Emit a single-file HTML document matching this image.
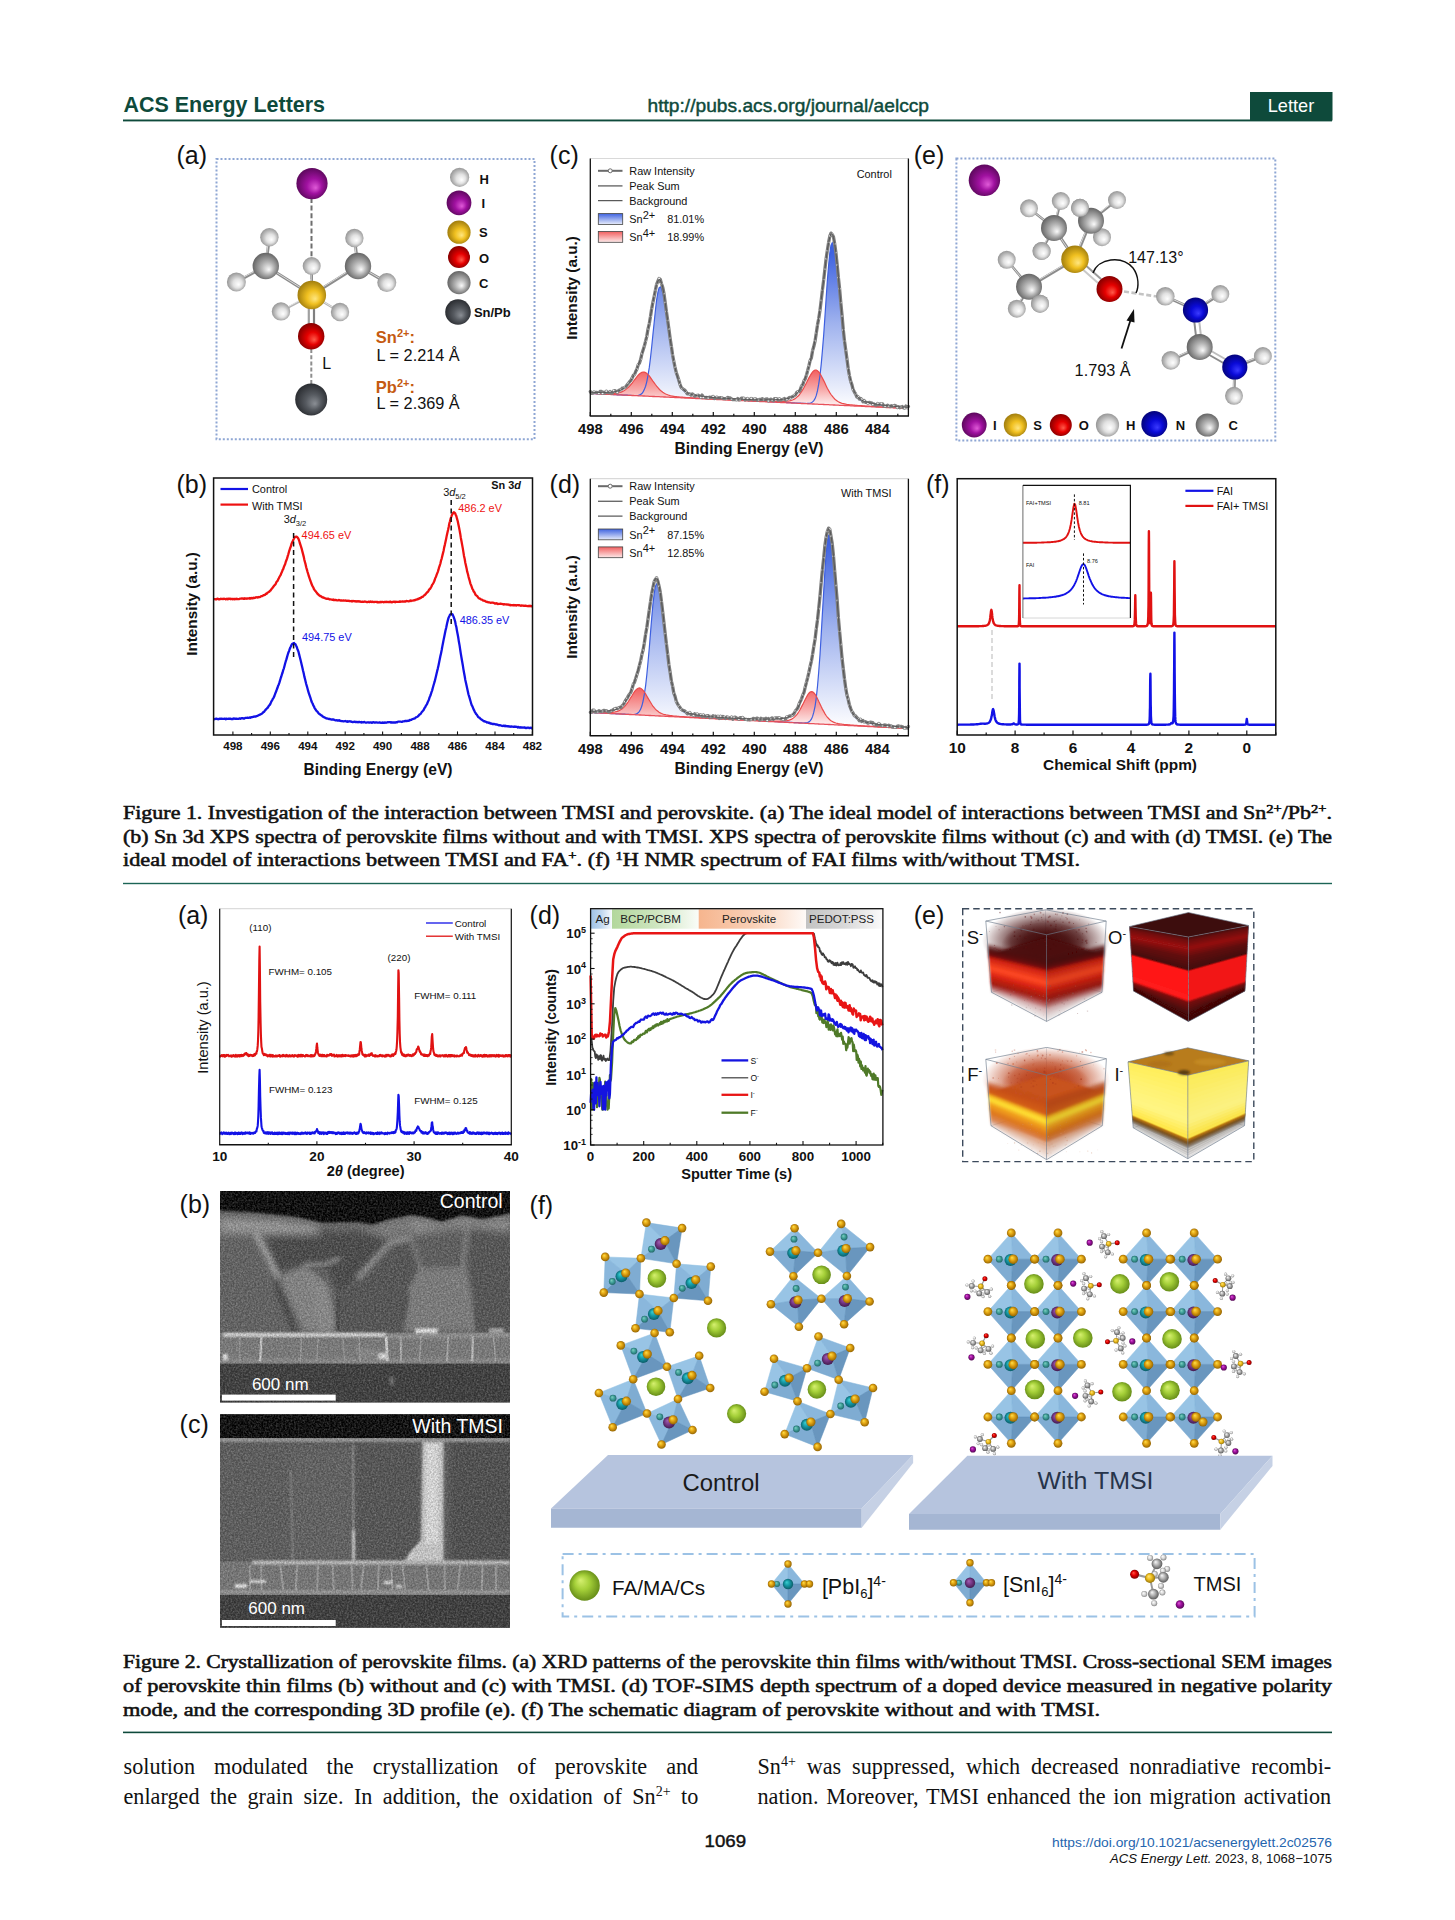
<!DOCTYPE html><html lang="en"><head><meta charset="utf-8"><title>ACS Energy Letters</title><style>html,body{margin:0;padding:0;background:#fff}svg{display:block}</style></head><body><svg width="1455" height="1920" viewBox="0 0 1455 1920"><defs><radialGradient id="gH" cx="0.5" cy="0.5" r="0.55" fx="0.36" fy="0.32"><stop offset="0" stop-color="#ffffff"/><stop offset="0.45" stop-color="#e2e2e2"/><stop offset="1" stop-color="#808080"/></radialGradient>
<radialGradient id="gI" cx="0.5" cy="0.5" r="0.55" fx="0.36" fy="0.32"><stop offset="0" stop-color="#e05ad8"/><stop offset="0.45" stop-color="#a011a0"/><stop offset="1" stop-color="#4a054a"/></radialGradient>
<radialGradient id="gS" cx="0.5" cy="0.5" r="0.55" fx="0.36" fy="0.32"><stop offset="0" stop-color="#ffe680"/><stop offset="0.45" stop-color="#f0c020"/><stop offset="1" stop-color="#8a6a08"/></radialGradient>
<radialGradient id="gO" cx="0.5" cy="0.5" r="0.55" fx="0.36" fy="0.32"><stop offset="0" stop-color="#ff5a4a"/><stop offset="0.45" stop-color="#e60000"/><stop offset="1" stop-color="#6a0000"/></radialGradient>
<radialGradient id="gC" cx="0.5" cy="0.5" r="0.55" fx="0.36" fy="0.32"><stop offset="0" stop-color="#fafafa"/><stop offset="0.45" stop-color="#b2b2b2"/><stop offset="1" stop-color="#4e4e4e"/></radialGradient>
<radialGradient id="gM" cx="0.5" cy="0.5" r="0.55" fx="0.36" fy="0.32"><stop offset="0" stop-color="#8a8e94"/><stop offset="0.45" stop-color="#565a60"/><stop offset="1" stop-color="#1e2024"/></radialGradient>
<radialGradient id="gN" cx="0.5" cy="0.5" r="0.55" fx="0.36" fy="0.32"><stop offset="0" stop-color="#3a3aff"/><stop offset="0.45" stop-color="#0a0ad8"/><stop offset="1" stop-color="#020260"/></radialGradient>
<radialGradient id="gG" cx="0.5" cy="0.5" r="0.55" fx="0.36" fy="0.32"><stop offset="0" stop-color="#d6f070"/><stop offset="0.45" stop-color="#a4cf38"/><stop offset="1" stop-color="#5e8414"/></radialGradient>
<radialGradient id="gY" cx="0.5" cy="0.5" r="0.55" fx="0.36" fy="0.32"><stop offset="0" stop-color="#ffe04a"/><stop offset="0.45" stop-color="#e2a412"/><stop offset="1" stop-color="#8a5c00"/></radialGradient>
<radialGradient id="gT" cx="0.5" cy="0.5" r="0.55" fx="0.36" fy="0.32"><stop offset="0" stop-color="#3ccfd0"/><stop offset="0.45" stop-color="#169aa6"/><stop offset="1" stop-color="#0a5560"/></radialGradient>
<radialGradient id="gP" cx="0.5" cy="0.5" r="0.55" fx="0.36" fy="0.32"><stop offset="0" stop-color="#a060b0"/><stop offset="0.45" stop-color="#7a3a8a"/><stop offset="1" stop-color="#3c1848"/></radialGradient>
<radialGradient id="gHr" cx="0.5" cy="0.5" r="0.6" fx="0.62" fy="0.64"><stop offset="0" stop-color="#ffffff"/><stop offset="0.4" stop-color="#e2e2e2"/><stop offset="1" stop-color="#808080"/></radialGradient>
<radialGradient id="gIr" cx="0.5" cy="0.5" r="0.6" fx="0.62" fy="0.64"><stop offset="0" stop-color="#e05ad8"/><stop offset="0.4" stop-color="#a011a0"/><stop offset="1" stop-color="#4a054a"/></radialGradient>
<radialGradient id="gSr" cx="0.5" cy="0.5" r="0.6" fx="0.62" fy="0.64"><stop offset="0" stop-color="#ffe680"/><stop offset="0.4" stop-color="#f0c020"/><stop offset="1" stop-color="#8a6a08"/></radialGradient>
<radialGradient id="gOr" cx="0.5" cy="0.5" r="0.6" fx="0.62" fy="0.64"><stop offset="0" stop-color="#ff5a4a"/><stop offset="0.4" stop-color="#e60000"/><stop offset="1" stop-color="#6a0000"/></radialGradient>
<radialGradient id="gCr" cx="0.5" cy="0.5" r="0.6" fx="0.62" fy="0.64"><stop offset="0" stop-color="#fafafa"/><stop offset="0.4" stop-color="#b2b2b2"/><stop offset="1" stop-color="#4e4e4e"/></radialGradient>
<radialGradient id="gMr" cx="0.5" cy="0.5" r="0.6" fx="0.62" fy="0.64"><stop offset="0" stop-color="#8a8e94"/><stop offset="0.4" stop-color="#565a60"/><stop offset="1" stop-color="#1e2024"/></radialGradient>
<radialGradient id="gNr" cx="0.5" cy="0.5" r="0.6" fx="0.62" fy="0.64"><stop offset="0" stop-color="#3a3aff"/><stop offset="0.4" stop-color="#0a0ad8"/><stop offset="1" stop-color="#020260"/></radialGradient>
<radialGradient id="gGr" cx="0.5" cy="0.5" r="0.6" fx="0.62" fy="0.64"><stop offset="0" stop-color="#d6f070"/><stop offset="0.4" stop-color="#a4cf38"/><stop offset="1" stop-color="#5e8414"/></radialGradient>
<radialGradient id="gYr" cx="0.5" cy="0.5" r="0.6" fx="0.62" fy="0.64"><stop offset="0" stop-color="#ffe04a"/><stop offset="0.4" stop-color="#e2a412"/><stop offset="1" stop-color="#8a5c00"/></radialGradient>
<radialGradient id="gTr" cx="0.5" cy="0.5" r="0.6" fx="0.62" fy="0.64"><stop offset="0" stop-color="#3ccfd0"/><stop offset="0.4" stop-color="#169aa6"/><stop offset="1" stop-color="#0a5560"/></radialGradient>
<radialGradient id="gPr" cx="0.5" cy="0.5" r="0.6" fx="0.62" fy="0.64"><stop offset="0" stop-color="#a060b0"/><stop offset="0.4" stop-color="#7a3a8a"/><stop offset="1" stop-color="#3c1848"/></radialGradient>
<linearGradient id="xb1" gradientUnits="userSpaceOnUse" x1="0" y1="252.9" x2="0" y2="408.5"><stop offset="0" stop-color="#3f63e0"/><stop offset="0.45" stop-color="#9fb2ee"/><stop offset="1" stop-color="#ffffff"/></linearGradient>
<linearGradient id="xr1" gradientUnits="userSpaceOnUse" x1="0" y1="370.1" x2="0" y2="408.5"><stop offset="0" stop-color="#f25f5f"/><stop offset="0.5" stop-color="#f7a9a9"/><stop offset="1" stop-color="#ffffff"/></linearGradient>
<linearGradient id="lg10" x1="0" y1="0" x2="0" y2="1"><stop offset="0" stop-color="#3f63e0"/><stop offset="1" stop-color="#e8edfb"/></linearGradient>
<linearGradient id="lg11" x1="0" y1="0" x2="0" y2="1"><stop offset="0" stop-color="#f25f5f"/><stop offset="1" stop-color="#fdeaea"/></linearGradient>
<linearGradient id="xb2" gradientUnits="userSpaceOnUse" x1="0" y1="544.5" x2="0" y2="728.5"><stop offset="0" stop-color="#3f63e0"/><stop offset="0.45" stop-color="#9fb2ee"/><stop offset="1" stop-color="#ffffff"/></linearGradient>
<linearGradient id="xr2" gradientUnits="userSpaceOnUse" x1="0" y1="688.0" x2="0" y2="728.5"><stop offset="0" stop-color="#f25f5f"/><stop offset="0.5" stop-color="#f7a9a9"/><stop offset="1" stop-color="#ffffff"/></linearGradient>
<linearGradient id="lg20" x1="0" y1="0" x2="0" y2="1"><stop offset="0" stop-color="#3f63e0"/><stop offset="1" stop-color="#e8edfb"/></linearGradient>
<linearGradient id="lg21" x1="0" y1="0" x2="0" y2="1"><stop offset="0" stop-color="#f25f5f"/><stop offset="1" stop-color="#fdeaea"/></linearGradient>
<linearGradient id="bAg" x1="0" y1="0" x2="1" y2="0"><stop offset="0" stop-color="#8db7e2" stop-opacity="0.85"/><stop offset="0.5" stop-color="#8db7e2" stop-opacity="0.55"/><stop offset="1" stop-color="#8db7e2" stop-opacity="0.06"/></linearGradient>
<linearGradient id="bB" x1="0" y1="0" x2="1" y2="0"><stop offset="0" stop-color="#a5d08a" stop-opacity="0.85"/><stop offset="0.5" stop-color="#a5d08a" stop-opacity="0.55"/><stop offset="1" stop-color="#a5d08a" stop-opacity="0.06"/></linearGradient>
<linearGradient id="bP" x1="0" y1="0" x2="1" y2="0"><stop offset="0" stop-color="#f4a87a" stop-opacity="0.85"/><stop offset="0.5" stop-color="#f4a87a" stop-opacity="0.55"/><stop offset="1" stop-color="#f4a87a" stop-opacity="0.06"/></linearGradient>
<linearGradient id="bE" x1="0" y1="0" x2="1" y2="0"><stop offset="0" stop-color="#b8b8b8" stop-opacity="0.85"/><stop offset="0.5" stop-color="#b8b8b8" stop-opacity="0.55"/><stop offset="1" stop-color="#b8b8b8" stop-opacity="0.06"/></linearGradient>
<filter id="cb1" x="-15%" y="-15%" width="130%" height="130%"><feGaussianBlur stdDeviation="1.1"/></filter>
<radialGradient id="cl1"><stop offset="0" stop-color="#430a0a" stop-opacity="0.95"/><stop offset="0.55" stop-color="#430a0a" stop-opacity="0.71"/><stop offset="1" stop-color="#430a0a" stop-opacity="0"/></radialGradient>
<filter id="cb2" x="-15%" y="-15%" width="130%" height="130%"><feGaussianBlur stdDeviation="0.7"/></filter>
<filter id="cb3" x="-15%" y="-15%" width="130%" height="130%"><feGaussianBlur stdDeviation="1.1"/></filter>
<radialGradient id="cl3"><stop offset="0" stop-color="#bc431c" stop-opacity="0.95"/><stop offset="0.55" stop-color="#bc431c" stop-opacity="0.71"/><stop offset="1" stop-color="#bc431c" stop-opacity="0"/></radialGradient>
<filter id="cb4" x="-15%" y="-15%" width="130%" height="130%"><feGaussianBlur stdDeviation="0.6"/></filter>
<filter id="semn" x="0" y="0" width="100%" height="100%"><feTurbulence type="fractalNoise" baseFrequency="0.55" numOctaves="2" seed="3"/><feColorMatrix type="matrix" values="0 0 0 0 1  0 0 0 0 1  0 0 0 0 1  0.9 0 0 0 -0.28"/></filter>
<filter id="semd" x="0" y="0" width="100%" height="100%"><feTurbulence type="fractalNoise" baseFrequency="0.6" numOctaves="2" seed="9"/><feColorMatrix type="matrix" values="0 0 0 0 0  0 0 0 0 0  0 0 0 0 0  0.9 0 0 0 -0.25"/></filter>
<filter id="bl1_2" x="-20%" y="-20%" width="140%" height="140%"><feGaussianBlur stdDeviation="1.2"/></filter>
<filter id="bl2_5" x="-20%" y="-20%" width="140%" height="140%"><feGaussianBlur stdDeviation="2.5"/></filter>
<filter id="bl4" x="-20%" y="-20%" width="140%" height="140%"><feGaussianBlur stdDeviation="4"/></filter>
<radialGradient id="gT2" cx="0.5" cy="0.5" r="0.55" fx="0.36" fy="0.32"><stop offset="0" stop-color="#7fd0c0"/><stop offset="0.5" stop-color="#3f9f98"/><stop offset="1" stop-color="#1d5f60"/></radialGradient>
<radialGradient id="gH2" cx="0.5" cy="0.5" r="0.55" fx="0.36" fy="0.32"><stop offset="0" stop-color="#ffffff"/><stop offset="0.5" stop-color="#d8d8d8"/><stop offset="1" stop-color="#7a7a7a"/></radialGradient></defs>
<text x="123.5" y="112.0" font-size="21.5" font-family="'Liberation Sans', sans-serif" fill="#0e4a3b" font-weight="bold" textLength="201.5" lengthAdjust="spacingAndGlyphs">ACS Energy Letters</text>
<rect x="123.0" y="119.5" width="1209.0" height="1.9" fill="#0e4a3b"/>
<rect x="1250.0" y="92.0" width="82.5" height="28.5" fill="#0e4a3b"/>
<text x="1291.0" y="112.3" font-size="18.5" font-family="'Liberation Sans', sans-serif" fill="#fff" text-anchor="middle" textLength="46.5" lengthAdjust="spacingAndGlyphs">Letter</text>
<text x="647.5" y="112.4" font-size="19" font-family="'Liberation Sans', sans-serif" fill="#0e4a3b" textLength="281.5" lengthAdjust="spacingAndGlyphs" stroke="#0e4a3b" stroke-width="0.45">http://pubs.acs.org/journal/aelccp</text>
<text x="123.0" y="818.8" font-size="18.2" font-family="'Liberation Serif', serif" fill="#111" textLength="1209.0" lengthAdjust="spacingAndGlyphs" stroke="#111" stroke-width="0.55">Figure 1. Investigation of the interaction between TMSI and perovskite. (a) The ideal model of interactions between TMSI and Sn<tspan dy="-6" font-size="12">2+</tspan><tspan dy="6">/Pb</tspan><tspan dy="-6" font-size="12">2+</tspan><tspan dy="6">.</tspan></text>
<text x="123.0" y="842.6" font-size="18.2" font-family="'Liberation Serif', serif" fill="#111" textLength="1209.0" lengthAdjust="spacingAndGlyphs" stroke="#111" stroke-width="0.55">(b) Sn 3d XPS spectra of perovskite films without and with TMSI. XPS spectra of perovskite films without (c) and with (d) TMSI. (e) The</text>
<text x="123.0" y="866.4" font-size="18.2" font-family="'Liberation Serif', serif" fill="#111" textLength="957.0" lengthAdjust="spacingAndGlyphs" stroke="#111" stroke-width="0.55">ideal model of interactions between TMSI and FA<tspan dy="-6" font-size="12">+</tspan><tspan dy="6">. (f) </tspan><tspan dy="-6" font-size="12">1</tspan><tspan dy="6">H NMR spectrum of FAI films with/without TMSI.</tspan></text>
<rect x="123.0" y="882.8" width="1209.0" height="1.4" fill="#1c6455"/>
<text x="123.0" y="1667.6" font-size="18.2" font-family="'Liberation Serif', serif" fill="#111" textLength="1209.0" lengthAdjust="spacingAndGlyphs" stroke="#111" stroke-width="0.55">Figure 2. Crystallization of perovskite films. (a) XRD patterns of the perovskite thin films with/without TMSI. Cross-sectional SEM images</text>
<text x="123.0" y="1691.7" font-size="18.2" font-family="'Liberation Serif', serif" fill="#111" textLength="1209.0" lengthAdjust="spacingAndGlyphs" stroke="#111" stroke-width="0.55">of perovskite thin films (b) without and (c) with TMSI. (d) TOF-SIMS depth spectrum of a doped device measured in negative polarity</text>
<text x="123.0" y="1715.9" font-size="18.2" font-family="'Liberation Serif', serif" fill="#111" textLength="977.0" lengthAdjust="spacingAndGlyphs" stroke="#111" stroke-width="0.55">mode, and the corresponding 3D profile (e). (f) The schematic diagram of perovskite without and with TMSI.</text>
<rect x="123.0" y="1731.6" width="1209.0" height="1.6" fill="#0e4a3b"/>
<text x="123.5" y="1773.7" font-size="22.2" font-family="'Liberation Serif', serif" fill="#111" style="word-spacing:13.42px">solution modulated the crystallization of perovskite and</text>
<text x="123.5" y="1803.9" font-size="22.2" font-family="'Liberation Serif', serif" fill="#111" style="word-spacing:4.88px">enlarged the grain size. In addition, the oxidation of Sn<tspan dy="-8" font-size="14">2+</tspan><tspan dy="8"> to</tspan></text>
<text x="757.5" y="1773.7" font-size="22.2" font-family="'Liberation Serif', serif" fill="#111" style="word-spacing:5.34px">Sn<tspan dy="-8" font-size="14">4+</tspan><tspan dy="8"> was suppressed, which decreased nonradiative recombi-</tspan></text>
<text x="757.5" y="1803.9" font-size="22.2" font-family="'Liberation Serif', serif" fill="#111" style="word-spacing:2.30px">nation. Moreover, TMSI enhanced the ion migration activation</text>
<text x="725.3" y="1847.0" font-size="16" font-family="'Liberation Sans', sans-serif" fill="#111" text-anchor="middle" textLength="41.5" lengthAdjust="spacingAndGlyphs" stroke="#111" stroke-width="0.4">1069</text>
<text x="1332.0" y="1847.0" font-size="12.6" font-family="'Liberation Sans', sans-serif" fill="#2565ae" text-anchor="end" textLength="280.0" lengthAdjust="spacingAndGlyphs">https://doi.org/10.1021/acsenergylett.2c02576</text>
<text x="1332.0" y="1862.5" font-size="12.6" font-family="'Liberation Sans', sans-serif" fill="#111" text-anchor="end" textLength="222.0" lengthAdjust="spacingAndGlyphs"><tspan font-style="italic">ACS Energy Lett.</tspan> 2023, 8, 1068−1075</text>
<text x="176.5" y="164.0" font-size="25" font-family="'Liberation Sans', sans-serif" fill="#111">(a)</text>
<rect x="216.5" y="159.0" width="318.0" height="280.3" fill="none" stroke="#8ea6d4" stroke-width="2" stroke-dasharray="2 2"/>
<line x1="311.5" y1="198.0" x2="311.5" y2="284.0" stroke="#6e6e6e" stroke-width="2" stroke-dasharray="5 2.6"/>
<line x1="311.3" y1="349.0" x2="311.3" y2="385.0" stroke="#8e8e8e" stroke-width="2" stroke-dasharray="4 2.2"/>
<line x1="311.8" y1="295.0" x2="265.8" y2="266.0" stroke="#8c8c8c" stroke-width="3"/>
<line x1="311.2" y1="294.4" x2="265.2" y2="265.4" stroke="#d8d8d8" stroke-width="1"/>
<line x1="311.8" y1="295.0" x2="358.0" y2="266.0" stroke="#8c8c8c" stroke-width="3"/>
<line x1="311.2" y1="294.4" x2="357.4" y2="265.4" stroke="#d8d8d8" stroke-width="1"/>
<line x1="311.8" y1="295.0" x2="311.7" y2="266.0" stroke="#8c8c8c" stroke-width="2.5"/>
<line x1="311.2" y1="294.4" x2="311.1" y2="265.4" stroke="#d8d8d8" stroke-width="1"/>
<line x1="265.8" y1="266.0" x2="269.4" y2="237.2" stroke="#8c8c8c" stroke-width="3"/>
<line x1="265.2" y1="265.4" x2="268.8" y2="236.6" stroke="#d8d8d8" stroke-width="1"/>
<line x1="358.0" y1="266.0" x2="354.4" y2="238.0" stroke="#8c8c8c" stroke-width="3"/>
<line x1="357.4" y1="265.4" x2="353.8" y2="237.4" stroke="#d8d8d8" stroke-width="1"/>
<line x1="265.8" y1="266.0" x2="236.4" y2="282.0" stroke="#8c8c8c" stroke-width="3"/>
<line x1="265.2" y1="265.4" x2="235.8" y2="281.4" stroke="#d8d8d8" stroke-width="1"/>
<line x1="358.0" y1="266.0" x2="386.8" y2="282.6" stroke="#8c8c8c" stroke-width="3"/>
<line x1="357.4" y1="265.4" x2="386.2" y2="282.0" stroke="#d8d8d8" stroke-width="1"/>
<line x1="311.8" y1="295.0" x2="281.0" y2="311.4" stroke="#b4b4b4" stroke-width="2.2"/>
<line x1="311.2" y1="294.4" x2="280.4" y2="310.8" stroke="#e4e4e4" stroke-width="1"/>
<line x1="311.8" y1="295.0" x2="340.0" y2="312.0" stroke="#b4b4b4" stroke-width="2.2"/>
<line x1="311.2" y1="294.4" x2="339.4" y2="311.4" stroke="#e4e4e4" stroke-width="1"/>
<line x1="308.8" y1="300.0" x2="308.8" y2="330.0" stroke="#a0a0a0" stroke-width="2.2"/>
<line x1="314.0" y1="300.0" x2="314.0" y2="330.0" stroke="#808080" stroke-width="2.2"/>
<circle cx="311.7" cy="266.0" r="9.0" fill="url(#gHr)"/>
<circle cx="281.0" cy="311.4" r="9.2" fill="url(#gHr)"/>
<circle cx="340.0" cy="312.0" r="9.2" fill="url(#gHr)"/>
<circle cx="236.4" cy="282.0" r="9.5" fill="url(#gHr)"/>
<circle cx="386.8" cy="282.6" r="9.5" fill="url(#gHr)"/>
<circle cx="269.4" cy="237.2" r="9.2" fill="url(#gHr)"/>
<circle cx="354.4" cy="238.0" r="9.2" fill="url(#gHr)"/>
<circle cx="265.8" cy="266.0" r="13.2" fill="url(#gCr)"/>
<circle cx="358.0" cy="266.0" r="13.2" fill="url(#gCr)"/>
<circle cx="312.0" cy="183.6" r="15.6" fill="url(#gIr)"/>
<circle cx="311.8" cy="295.0" r="14.3" fill="url(#gSr)"/>
<circle cx="311.2" cy="336.2" r="13.2" fill="url(#gOr)"/>
<circle cx="311.2" cy="399.4" r="16.0" fill="url(#gMr)"/>
<text x="322.2" y="368.6" font-size="16" font-family="'Liberation Sans', sans-serif" fill="#111">L</text>
<circle cx="459.6" cy="177.3" r="9.6" fill="url(#gHr)"/>
<text x="479.4" y="183.6" font-size="13" font-family="'Liberation Sans', sans-serif" fill="#111" font-weight="bold">H</text>
<circle cx="459.0" cy="202.8" r="12.4" fill="url(#gIr)"/>
<text x="481.6" y="208.2" font-size="13" font-family="'Liberation Sans', sans-serif" fill="#111" font-weight="bold">I</text>
<circle cx="459.0" cy="232.2" r="11.6" fill="url(#gSr)"/>
<text x="479.0" y="237.2" font-size="13" font-family="'Liberation Sans', sans-serif" fill="#111" font-weight="bold">S</text>
<circle cx="459.0" cy="257.0" r="11.0" fill="url(#gOr)"/>
<text x="479.0" y="262.8" font-size="13" font-family="'Liberation Sans', sans-serif" fill="#111" font-weight="bold">O</text>
<circle cx="459.0" cy="282.6" r="11.6" fill="url(#gCr)"/>
<text x="479.0" y="287.6" font-size="13" font-family="'Liberation Sans', sans-serif" fill="#111" font-weight="bold">C</text>
<circle cx="458.0" cy="312.0" r="12.8" fill="url(#gMr)"/>
<text x="473.9" y="317.0" font-size="13" font-family="'Liberation Sans', sans-serif" fill="#111" font-weight="bold">Sn/Pb</text>
<text x="375.8" y="343.0" font-size="16.5" font-family="'Liberation Sans', sans-serif" fill="#c55a11" font-weight="bold">Sn<tspan dy="-6" font-size="11">2+</tspan><tspan dy="6">:</tspan></text>
<text x="376.6" y="361.2" font-size="16.3" font-family="'Liberation Sans', sans-serif" fill="#111">L = 2.214 Å</text>
<text x="375.8" y="392.6" font-size="16.5" font-family="'Liberation Sans', sans-serif" fill="#c55a11" font-weight="bold">Pb<tspan dy="-6" font-size="11">2+</tspan><tspan dy="6">:</tspan></text>
<text x="376.6" y="409.2" font-size="16.3" font-family="'Liberation Sans', sans-serif" fill="#111">L = 2.369 Å</text>
<text x="913.7" y="164.4" font-size="25" font-family="'Liberation Sans', sans-serif" fill="#111">(e)</text>
<rect x="956.4" y="158.5" width="318.9" height="282.1" fill="none" stroke="#8ea6d4" stroke-width="2" stroke-dasharray="2 2"/>
<line x1="1075.0" y1="259.2" x2="1054.0" y2="228.0" stroke="#8c8c8c" stroke-width="3"/>
<line x1="1074.4" y1="258.6" x2="1053.4" y2="227.4" stroke="#d8d8d8" stroke-width="1"/>
<line x1="1075.0" y1="259.2" x2="1091.0" y2="220.7" stroke="#8c8c8c" stroke-width="3"/>
<line x1="1074.4" y1="258.6" x2="1090.4" y2="220.1" stroke="#d8d8d8" stroke-width="1"/>
<line x1="1075.0" y1="259.2" x2="1029.0" y2="286.7" stroke="#8c8c8c" stroke-width="3"/>
<line x1="1074.4" y1="258.6" x2="1028.4" y2="286.1" stroke="#d8d8d8" stroke-width="1"/>
<line x1="1083.0" y1="263.0" x2="1101.0" y2="279.0" stroke="#9a9a9a" stroke-width="2"/>
<line x1="1080.0" y1="267.0" x2="1098.0" y2="283.0" stroke="#c8c8c8" stroke-width="2"/>
<line x1="1054.0" y1="228.0" x2="1029.0" y2="208.3" stroke="#8c8c8c" stroke-width="2.5"/>
<line x1="1053.4" y1="227.4" x2="1028.4" y2="207.7" stroke="#d8d8d8" stroke-width="1"/>
<line x1="1054.0" y1="228.0" x2="1060.8" y2="201.0" stroke="#8c8c8c" stroke-width="2.5"/>
<line x1="1053.4" y1="227.4" x2="1060.2" y2="200.4" stroke="#d8d8d8" stroke-width="1"/>
<line x1="1054.0" y1="228.0" x2="1041.6" y2="251.0" stroke="#8c8c8c" stroke-width="2.5"/>
<line x1="1053.4" y1="227.4" x2="1041.0" y2="250.4" stroke="#d8d8d8" stroke-width="1"/>
<line x1="1091.0" y1="220.7" x2="1080.0" y2="207.8" stroke="#8c8c8c" stroke-width="2.5"/>
<line x1="1090.4" y1="220.1" x2="1079.4" y2="207.2" stroke="#d8d8d8" stroke-width="1"/>
<line x1="1091.0" y1="220.7" x2="1117.0" y2="200.0" stroke="#8c8c8c" stroke-width="2.5"/>
<line x1="1090.4" y1="220.1" x2="1116.4" y2="199.4" stroke="#d8d8d8" stroke-width="1"/>
<line x1="1091.0" y1="220.7" x2="1102.0" y2="237.2" stroke="#8c8c8c" stroke-width="2.5"/>
<line x1="1090.4" y1="220.1" x2="1101.4" y2="236.6" stroke="#d8d8d8" stroke-width="1"/>
<line x1="1029.0" y1="286.7" x2="1006.7" y2="259.8" stroke="#8c8c8c" stroke-width="2.5"/>
<line x1="1028.4" y1="286.1" x2="1006.1" y2="259.2" stroke="#d8d8d8" stroke-width="1"/>
<line x1="1029.0" y1="286.7" x2="1016.8" y2="308.7" stroke="#8c8c8c" stroke-width="2.5"/>
<line x1="1028.4" y1="286.1" x2="1016.2" y2="308.1" stroke="#d8d8d8" stroke-width="1"/>
<line x1="1029.0" y1="286.7" x2="1040.0" y2="303.7" stroke="#8c8c8c" stroke-width="2.5"/>
<line x1="1028.4" y1="286.1" x2="1039.4" y2="303.1" stroke="#d8d8d8" stroke-width="1"/>
<line x1="1165.3" y1="296.3" x2="1195.5" y2="310.0" stroke="#8c8c8c" stroke-width="3"/>
<line x1="1164.7" y1="295.7" x2="1194.9" y2="309.4" stroke="#d8d8d8" stroke-width="1"/>
<line x1="1220.3" y1="294.0" x2="1195.5" y2="310.0" stroke="#8c8c8c" stroke-width="3"/>
<line x1="1219.7" y1="293.4" x2="1194.9" y2="309.4" stroke="#d8d8d8" stroke-width="1"/>
<line x1="1193.0" y1="310.0" x2="1197.2" y2="347.0" stroke="#8c8c8c" stroke-width="2"/>
<line x1="1198.0" y1="310.0" x2="1202.2" y2="347.0" stroke="#bdbdbd" stroke-width="2"/>
<line x1="1170.8" y1="360.4" x2="1199.7" y2="347.0" stroke="#8c8c8c" stroke-width="3"/>
<line x1="1170.2" y1="359.8" x2="1199.1" y2="346.4" stroke="#d8d8d8" stroke-width="1"/>
<line x1="1199.7" y1="344.5" x2="1234.8" y2="364.5" stroke="#bdbdbd" stroke-width="2"/>
<line x1="1199.7" y1="349.5" x2="1234.8" y2="369.5" stroke="#8c8c8c" stroke-width="2"/>
<line x1="1262.9" y1="356.0" x2="1234.8" y2="367.0" stroke="#8c8c8c" stroke-width="3"/>
<line x1="1262.3" y1="355.4" x2="1234.2" y2="366.4" stroke="#d8d8d8" stroke-width="1"/>
<line x1="1234.0" y1="395.8" x2="1234.8" y2="367.0" stroke="#8c8c8c" stroke-width="3"/>
<line x1="1233.4" y1="395.2" x2="1234.2" y2="366.4" stroke="#d8d8d8" stroke-width="1"/>
<line x1="1124.0" y1="291.5" x2="1157.0" y2="296.5" stroke="#c4c4c4" stroke-width="2.6" stroke-dasharray="5 2.5"/>
<circle cx="1029.0" cy="208.3" r="9.0" fill="url(#gHr)"/>
<circle cx="1060.8" cy="201.0" r="9.0" fill="url(#gHr)"/>
<circle cx="1041.6" cy="251.0" r="9.0" fill="url(#gHr)"/>
<circle cx="1080.0" cy="207.8" r="9.0" fill="url(#gHr)"/>
<circle cx="1117.0" cy="200.0" r="9.0" fill="url(#gHr)"/>
<circle cx="1102.0" cy="237.2" r="9.0" fill="url(#gHr)"/>
<circle cx="1006.7" cy="259.8" r="9.0" fill="url(#gHr)"/>
<circle cx="1016.8" cy="308.7" r="9.0" fill="url(#gHr)"/>
<circle cx="1040.0" cy="303.7" r="9.0" fill="url(#gHr)"/>
<circle cx="1054.0" cy="228.0" r="13.0" fill="url(#gCr)"/>
<circle cx="1091.0" cy="220.7" r="13.0" fill="url(#gCr)"/>
<circle cx="1029.0" cy="286.7" r="13.0" fill="url(#gCr)"/>
<circle cx="1080.0" cy="207.8" r="9.0" fill="url(#gHr)"/>
<circle cx="1041.6" cy="251.0" r="9.0" fill="url(#gHr)"/>
<circle cx="1040.0" cy="303.7" r="9.0" fill="url(#gHr)"/>
<circle cx="1075.0" cy="259.2" r="13.8" fill="url(#gSr)"/>
<circle cx="1109.5" cy="289.0" r="13.0" fill="url(#gOr)"/>
<circle cx="984.4" cy="180.3" r="15.7" fill="url(#gIr)"/>
<circle cx="1165.3" cy="296.3" r="9.3" fill="url(#gHr)"/>
<circle cx="1220.3" cy="294.0" r="9.0" fill="url(#gHr)"/>
<circle cx="1170.8" cy="360.4" r="9.3" fill="url(#gHr)"/>
<circle cx="1262.9" cy="356.0" r="9.0" fill="url(#gHr)"/>
<circle cx="1234.0" cy="395.8" r="9.0" fill="url(#gHr)"/>
<circle cx="1199.7" cy="347.0" r="13.0" fill="url(#gCr)"/>
<circle cx="1195.5" cy="310.0" r="12.6" fill="url(#gNr)"/>
<circle cx="1234.8" cy="367.0" r="12.6" fill="url(#gNr)"/>
<path d="M1093 273 C1098 258 1122 255 1133 268 C1139 276 1139 287 1136 293" fill="none" stroke="#111" stroke-width="1.4"/>
<text x="1128.2" y="262.8" font-size="16" font-family="'Liberation Sans', sans-serif" fill="#111">147.13°</text>
<text x="1074.6" y="375.8" font-size="16.3" font-family="'Liberation Sans', sans-serif" fill="#111">1.793 Å</text>
<line x1="1121.5" y1="348.5" x2="1131.5" y2="317.0" stroke="#111" stroke-width="1.8"/>
<polygon points="1134.0,309.0 1126.5,320.5 1134.5,322.5" fill="#111"/>
<circle cx="974.2" cy="425.0" r="12.4" fill="url(#gIr)"/>
<text x="993.0" y="429.8" font-size="13" font-family="'Liberation Sans', sans-serif" fill="#111" font-weight="bold">I</text>
<circle cx="1015.4" cy="425.0" r="11.6" fill="url(#gSr)"/>
<text x="1033.3" y="429.8" font-size="13" font-family="'Liberation Sans', sans-serif" fill="#111" font-weight="bold">S</text>
<circle cx="1060.8" cy="425.0" r="11.0" fill="url(#gOr)"/>
<text x="1078.7" y="429.8" font-size="13" font-family="'Liberation Sans', sans-serif" fill="#111" font-weight="bold">O</text>
<circle cx="1107.5" cy="425.0" r="11.6" fill="url(#gHr)"/>
<text x="1126.0" y="429.8" font-size="13" font-family="'Liberation Sans', sans-serif" fill="#111" font-weight="bold">H</text>
<circle cx="1154.3" cy="424.0" r="13.0" fill="url(#gNr)"/>
<text x="1175.7" y="429.8" font-size="13" font-family="'Liberation Sans', sans-serif" fill="#111" font-weight="bold">N</text>
<circle cx="1207.3" cy="425.0" r="11.6" fill="url(#gCr)"/>
<text x="1228.5" y="429.8" font-size="13" font-family="'Liberation Sans', sans-serif" fill="#111" font-weight="bold">C</text>
<text x="176.5" y="493.0" font-size="25" font-family="'Liberation Sans', sans-serif" fill="#111">(b)</text>
<path d="M213.6 599.0 L214.2 599.1 L214.9 599.2 L215.5 599.3 L216.2 599.1 L216.8 599.3 L217.4 598.6 L218.1 598.9 L218.7 599.3 L219.3 599.1 L220.0 599.3 L220.6 598.7 L221.3 599.0 L221.9 598.8 L222.5 599.0 L223.2 599.0 L223.8 598.6 L224.5 598.8 L225.1 598.8 L225.7 599.3 L226.4 599.2 L227.0 598.7 L227.7 599.2 L228.3 598.7 L228.9 599.1 L229.6 598.7 L230.2 598.6 L230.8 599.2 L231.5 598.8 L232.1 598.8 L232.8 599.3 L233.4 599.2 L234.0 598.8 L234.7 599.3 L235.3 598.9 L236.0 599.0 L236.6 598.7 L237.2 599.2 L237.9 599.0 L238.5 599.2 L239.2 599.1 L239.8 598.7 L240.4 598.7 L241.1 598.6 L241.7 598.5 L242.3 598.5 L243.0 598.6 L243.6 598.8 L244.3 598.3 L244.9 598.8 L245.5 598.5 L246.2 598.5 L246.8 598.8 L247.5 598.5 L248.1 598.4 L248.7 598.4 L249.4 598.6 L250.0 598.0 L250.7 598.6 L251.3 597.9 L251.9 598.4 L252.6 598.4 L253.2 597.7 L253.8 598.2 L254.5 597.8 L255.1 597.8 L255.8 597.3 L256.4 597.3 L257.0 597.2 L257.7 597.6 L258.3 597.0 L259.0 597.2 L259.6 597.1 L260.2 596.9 L260.9 596.3 L261.5 596.1 L262.2 596.0 L262.8 595.9 L263.4 595.1 L264.1 595.2 L264.7 594.9 L265.3 594.6 L266.0 593.6 L266.6 593.8 L267.3 592.8 L267.9 592.5 L268.5 592.1 L269.2 591.8 L269.8 590.8 L270.5 590.6 L271.1 589.7 L271.7 588.8 L272.4 588.1 L273.0 587.2 L273.7 586.3 L274.3 585.5 L274.9 584.9 L275.6 584.2 L276.2 582.6 L276.8 581.5 L277.5 581.1 L278.1 579.6 L278.8 578.3 L279.4 577.0 L280.0 576.0 L280.7 574.8 L281.3 573.2 L282.0 571.8 L282.6 570.0 L283.2 569.1 L283.9 566.9 L284.5 565.5 L285.2 564.0 L285.8 561.7 L286.4 560.2 L287.1 558.4 L287.7 556.2 L288.3 554.3 L289.0 551.7 L289.6 549.9 L290.3 547.7 L290.9 546.2 L291.5 543.9 L292.2 542.2 L292.8 541.0 L293.5 539.5 L294.1 538.5 L294.7 537.3 L295.4 536.8 L296.0 536.7 L296.7 536.7 L297.3 537.1 L297.9 538.0 L298.6 539.1 L299.2 540.8 L299.8 543.0 L300.5 545.0 L301.1 546.9 L301.8 549.2 L302.4 551.6 L303.0 553.9 L303.7 556.6 L304.3 559.6 L305.0 562.2 L305.6 564.4 L306.2 567.2 L306.9 569.6 L307.5 571.8 L308.2 574.0 L308.8 576.2 L309.4 577.9 L310.1 580.0 L310.7 581.5 L311.3 583.3 L312.0 585.0 L312.6 586.4 L313.3 587.4 L313.9 589.0 L314.5 589.9 L315.2 590.8 L315.8 591.3 L316.5 592.5 L317.1 593.1 L317.7 594.0 L318.4 594.5 L319.0 595.3 L319.7 595.6 L320.3 596.2 L320.9 596.2 L321.6 596.8 L322.2 597.2 L322.8 597.5 L323.5 597.4 L324.1 598.0 L324.8 598.2 L325.4 598.3 L326.0 598.7 L326.7 598.8 L327.3 598.7 L328.0 598.8 L328.6 598.7 L329.2 599.3 L329.9 599.5 L330.5 599.3 L331.2 599.5 L331.8 599.7 L332.4 599.8 L333.1 599.5 L333.7 600.0 L334.3 599.9 L335.0 600.0 L335.6 599.9 L336.3 600.2 L336.9 600.3 L337.5 600.3 L338.2 600.4 L338.8 600.0 L339.5 600.1 L340.1 600.4 L340.7 600.6 L341.4 600.4 L342.0 600.7 L342.7 600.7 L343.3 600.4 L343.9 600.7 L344.6 600.6 L345.2 600.5 L345.8 600.6 L346.5 600.8 L347.1 600.7 L347.8 600.8 L348.4 600.7 L349.0 601.0 L349.7 601.0 L350.3 601.2 L351.0 601.2 L351.6 601.0 L352.2 601.5 L352.9 600.9 L353.5 601.2 L354.2 601.2 L354.8 601.3 L355.4 601.1 L356.1 601.6 L356.7 601.4 L357.3 601.1 L358.0 601.6 L358.6 601.2 L359.3 601.6 L359.9 601.4 L360.5 601.6 L361.2 601.9 L361.8 601.8 L362.5 601.6 L363.1 601.9 L363.7 601.8 L364.4 601.6 L365.0 601.5 L365.7 601.8 L366.3 601.8 L366.9 602.1 L367.6 602.1 L368.2 601.9 L368.8 601.7 L369.5 602.1 L370.1 601.5 L370.8 601.6 L371.4 601.9 L372.0 602.0 L372.7 601.6 L373.3 602.0 L374.0 602.2 L374.6 601.8 L375.2 601.9 L375.9 601.8 L376.5 601.8 L377.2 602.3 L377.8 601.9 L378.4 602.3 L379.1 602.3 L379.7 602.1 L380.3 601.8 L381.0 602.3 L381.6 602.0 L382.3 601.9 L382.9 601.9 L383.5 602.3 L384.2 602.0 L384.8 601.9 L385.5 602.0 L386.1 601.7 L386.7 602.1 L387.4 602.0 L388.0 601.8 L388.7 602.2 L389.3 602.2 L389.9 601.6 L390.6 602.0 L391.2 601.8 L391.8 602.3 L392.5 602.1 L393.1 601.7 L393.8 601.8 L394.4 601.7 L395.0 602.2 L395.7 601.7 L396.3 601.9 L397.0 601.8 L397.6 601.9 L398.2 601.9 L398.9 601.9 L399.5 601.5 L400.2 601.9 L400.8 601.5 L401.4 601.7 L402.1 601.5 L402.7 601.4 L403.3 601.6 L404.0 601.5 L404.6 601.4 L405.3 601.6 L405.9 601.4 L406.5 601.0 L407.2 601.1 L407.8 601.2 L408.5 601.4 L409.1 601.3 L409.7 601.0 L410.4 600.5 L411.0 601.0 L411.7 600.6 L412.3 600.6 L412.9 600.6 L413.6 600.4 L414.2 600.2 L414.8 600.3 L415.5 599.8 L416.1 599.6 L416.8 599.7 L417.4 599.1 L418.0 598.9 L418.7 599.0 L419.3 598.2 L420.0 598.4 L420.6 598.0 L421.2 597.5 L421.9 597.0 L422.5 596.9 L423.2 596.5 L423.8 595.5 L424.4 595.2 L425.1 594.7 L425.7 594.1 L426.3 593.3 L427.0 592.5 L427.6 592.0 L428.3 591.4 L428.9 590.0 L429.5 589.2 L430.2 588.7 L430.8 587.6 L431.5 586.5 L432.1 584.9 L432.7 584.1 L433.4 583.0 L434.0 581.7 L434.7 580.0 L435.3 578.0 L435.9 577.0 L436.6 574.9 L437.2 573.4 L437.8 571.8 L438.5 569.7 L439.1 567.3 L439.8 565.3 L440.4 563.5 L441.0 560.7 L441.7 558.6 L442.3 555.9 L443.0 553.1 L443.6 550.7 L444.2 547.4 L444.9 544.6 L445.5 541.8 L446.2 538.5 L446.8 535.4 L447.4 532.7 L448.1 529.8 L448.7 526.9 L449.3 523.6 L450.0 521.2 L450.6 518.7 L451.3 516.8 L451.9 515.0 L452.5 514.1 L453.2 512.8 L453.8 512.2 L454.5 512.8 L455.1 513.2 L455.7 514.7 L456.4 516.3 L457.0 518.7 L457.7 521.0 L458.3 523.9 L458.9 526.8 L459.6 530.4 L460.2 533.7 L460.8 537.7 L461.5 541.2 L462.1 544.6 L462.8 548.4 L463.4 552.1 L464.0 555.9 L464.7 559.0 L465.3 562.7 L466.0 565.8 L466.6 568.4 L467.2 571.7 L467.9 574.0 L468.5 576.6 L469.2 579.2 L469.8 581.2 L470.4 583.6 L471.1 585.2 L471.7 586.8 L472.3 588.7 L473.0 589.6 L473.6 591.4 L474.3 592.1 L474.9 593.2 L475.5 594.7 L476.2 595.4 L476.8 595.8 L477.5 596.4 L478.1 597.6 L478.7 598.0 L479.4 598.6 L480.0 598.6 L480.7 599.3 L481.3 599.5 L481.9 599.7 L482.6 600.1 L483.2 600.6 L483.8 600.7 L484.5 600.9 L485.1 601.0 L485.8 601.6 L486.4 601.7 L487.0 602.0 L487.7 601.9 L488.3 602.3 L489.0 602.3 L489.6 602.4 L490.2 602.6 L490.9 602.8 L491.5 602.7 L492.2 602.6 L492.8 602.7 L493.4 602.9 L494.1 602.9 L494.7 603.6 L495.3 603.4 L496.0 603.7 L496.6 603.2 L497.3 603.6 L497.9 604.0 L498.5 603.9 L499.2 603.8 L499.8 603.9 L500.5 603.7 L501.1 603.9 L501.7 603.9 L502.4 604.1 L503.0 604.2 L503.7 604.6 L504.3 604.2 L504.9 604.3 L505.6 604.4 L506.2 604.4 L506.8 604.5 L507.5 604.5 L508.1 604.7 L508.8 604.5 L509.4 605.1 L510.0 604.8 L510.7 605.3 L511.3 605.1 L512.0 605.2 L512.6 605.1 L513.2 605.4 L513.9 604.9 L514.5 605.3 L515.2 605.1 L515.8 605.4 L516.4 605.5 L517.1 605.1 L517.7 605.2 L518.3 605.1 L519.0 605.3 L519.6 605.2 L520.3 605.5 L520.9 605.9 L521.5 605.5 L522.2 605.5 L522.8 605.7 L523.5 605.6 L524.1 605.9 L524.7 605.9 L525.4 605.6 L526.0 605.7 L526.7 606.0 L527.3 606.2 L527.9 606.0 L528.6 605.9 L529.2 606.3 L529.8 605.7 L530.5 605.8 L531.1 606.3 L531.8 606.1 L532.4 605.8" fill="none" stroke="#ee1111" stroke-width="2.3" stroke-linejoin="round"/>
<path d="M213.6 719.0 L214.2 719.3 L214.9 719.0 L215.5 718.9 L216.2 718.7 L216.8 718.7 L217.4 719.2 L218.1 719.0 L218.7 719.3 L219.3 718.7 L220.0 718.8 L220.6 718.7 L221.3 718.9 L221.9 718.7 L222.5 718.8 L223.2 718.9 L223.8 718.8 L224.5 718.6 L225.1 718.6 L225.7 719.3 L226.4 718.7 L227.0 718.9 L227.7 718.8 L228.3 718.9 L228.9 718.6 L229.6 718.8 L230.2 718.6 L230.8 718.9 L231.5 719.1 L232.1 718.9 L232.8 719.1 L233.4 718.6 L234.0 718.4 L234.7 718.8 L235.3 718.7 L236.0 718.8 L236.6 718.6 L237.2 718.8 L237.9 718.8 L238.5 718.9 L239.2 718.5 L239.8 718.5 L240.4 718.8 L241.1 718.3 L241.7 718.2 L242.3 718.3 L243.0 718.1 L243.6 718.5 L244.3 718.5 L244.9 718.1 L245.5 717.9 L246.2 717.8 L246.8 717.9 L247.5 717.7 L248.1 717.8 L248.7 717.9 L249.4 717.5 L250.0 717.3 L250.7 717.7 L251.3 717.1 L251.9 717.1 L252.6 717.0 L253.2 716.9 L253.8 716.6 L254.5 716.6 L255.1 716.4 L255.8 716.5 L256.4 716.1 L257.0 716.1 L257.7 715.7 L258.3 715.5 L259.0 715.1 L259.6 714.7 L260.2 714.6 L260.9 714.1 L261.5 713.9 L262.2 713.3 L262.8 712.8 L263.4 712.0 L264.1 711.8 L264.7 710.9 L265.3 710.1 L266.0 709.4 L266.6 708.7 L267.3 708.0 L267.9 707.5 L268.5 706.4 L269.2 705.3 L269.8 704.8 L270.5 703.6 L271.1 702.1 L271.7 700.9 L272.4 699.8 L273.0 698.6 L273.7 697.6 L274.3 696.3 L274.9 694.5 L275.6 692.7 L276.2 691.3 L276.8 689.5 L277.5 687.8 L278.1 685.8 L278.8 684.4 L279.4 682.7 L280.0 680.7 L280.7 678.2 L281.3 676.5 L282.0 674.2 L282.6 672.5 L283.2 670.1 L283.9 668.3 L284.5 666.0 L285.2 663.3 L285.8 661.2 L286.4 659.4 L287.1 656.9 L287.7 654.8 L288.3 652.8 L289.0 651.1 L289.6 649.4 L290.3 647.5 L290.9 646.5 L291.5 645.0 L292.2 643.8 L292.8 643.7 L293.5 643.2 L294.1 643.0 L294.7 644.0 L295.4 644.1 L296.0 645.5 L296.7 646.8 L297.3 648.7 L297.9 650.2 L298.6 652.2 L299.2 654.6 L299.8 657.0 L300.5 659.8 L301.1 662.3 L301.8 665.3 L302.4 667.7 L303.0 670.5 L303.7 673.2 L304.3 676.4 L305.0 679.0 L305.6 681.6 L306.2 684.0 L306.9 686.3 L307.5 688.5 L308.2 691.2 L308.8 693.1 L309.4 694.9 L310.1 696.9 L310.7 698.7 L311.3 700.8 L312.0 702.5 L312.6 703.5 L313.3 705.4 L313.9 706.3 L314.5 707.8 L315.2 709.0 L315.8 709.8 L316.5 710.9 L317.1 711.4 L317.7 712.0 L318.4 713.0 L319.0 713.7 L319.7 714.1 L320.3 714.7 L320.9 715.2 L321.6 715.4 L322.2 716.0 L322.8 716.5 L323.5 716.9 L324.1 717.3 L324.8 717.4 L325.4 718.1 L326.0 718.2 L326.7 718.5 L327.3 718.5 L328.0 718.7 L328.6 718.8 L329.2 719.1 L329.9 719.0 L330.5 719.3 L331.2 719.5 L331.8 719.5 L332.4 719.5 L333.1 719.4 L333.7 719.6 L334.3 719.8 L335.0 720.1 L335.6 720.3 L336.3 720.4 L336.9 720.2 L337.5 720.7 L338.2 720.3 L338.8 720.7 L339.5 720.3 L340.1 720.9 L340.7 720.9 L341.4 721.2 L342.0 721.2 L342.7 721.1 L343.3 721.3 L343.9 721.3 L344.6 721.2 L345.2 721.0 L345.8 721.3 L346.5 721.6 L347.1 721.2 L347.8 721.8 L348.4 721.5 L349.0 721.5 L349.7 721.2 L350.3 721.5 L351.0 721.4 L351.6 721.8 L352.2 722.0 L352.9 722.1 L353.5 721.9 L354.2 721.8 L354.8 721.6 L355.4 722.1 L356.1 722.0 L356.7 722.1 L357.3 721.9 L358.0 722.3 L358.6 721.9 L359.3 722.0 L359.9 722.0 L360.5 722.2 L361.2 722.5 L361.8 722.0 L362.5 722.3 L363.1 722.4 L363.7 722.1 L364.4 722.0 L365.0 722.4 L365.7 722.6 L366.3 722.6 L366.9 722.5 L367.6 722.3 L368.2 722.4 L368.8 722.5 L369.5 722.7 L370.1 722.3 L370.8 722.3 L371.4 722.6 L372.0 722.8 L372.7 722.3 L373.3 722.2 L374.0 722.3 L374.6 722.6 L375.2 722.6 L375.9 722.3 L376.5 722.3 L377.2 722.6 L377.8 722.7 L378.4 722.7 L379.1 722.7 L379.7 722.3 L380.3 722.6 L381.0 722.8 L381.6 722.9 L382.3 722.4 L382.9 722.8 L383.5 722.7 L384.2 722.8 L384.8 722.3 L385.5 722.7 L386.1 722.8 L386.7 722.5 L387.4 722.2 L388.0 722.3 L388.7 722.2 L389.3 722.2 L389.9 722.2 L390.6 722.5 L391.2 722.1 L391.8 722.5 L392.5 722.5 L393.1 722.5 L393.8 722.5 L394.4 722.4 L395.0 722.5 L395.7 722.5 L396.3 722.2 L397.0 722.4 L397.6 721.8 L398.2 721.7 L398.9 721.6 L399.5 721.7 L400.2 721.7 L400.8 721.7 L401.4 721.8 L402.1 721.8 L402.7 721.3 L403.3 721.4 L404.0 721.4 L404.6 721.2 L405.3 720.9 L405.9 721.2 L406.5 720.9 L407.2 721.0 L407.8 720.7 L408.5 720.9 L409.1 720.7 L409.7 719.9 L410.4 720.2 L411.0 720.0 L411.7 719.5 L412.3 719.1 L412.9 719.1 L413.6 718.7 L414.2 718.7 L414.8 718.5 L415.5 717.7 L416.1 717.3 L416.8 717.0 L417.4 716.7 L418.0 716.3 L418.7 715.6 L419.3 714.8 L420.0 714.3 L420.6 714.0 L421.2 713.0 L421.9 711.9 L422.5 711.4 L423.2 710.4 L423.8 709.7 L424.4 708.3 L425.1 707.4 L425.7 706.1 L426.3 705.2 L427.0 704.2 L427.6 702.5 L428.3 701.0 L428.9 699.8 L429.5 697.6 L430.2 696.0 L430.8 694.5 L431.5 692.1 L432.1 690.6 L432.7 688.2 L433.4 685.8 L434.0 683.7 L434.7 681.4 L435.3 678.9 L435.9 676.5 L436.6 673.5 L437.2 670.9 L437.8 668.6 L438.5 665.4 L439.1 662.4 L439.8 659.1 L440.4 656.1 L441.0 653.4 L441.7 650.0 L442.3 646.6 L443.0 643.0 L443.6 639.9 L444.2 636.9 L444.9 633.5 L445.5 630.5 L446.2 627.7 L446.8 624.7 L447.4 622.1 L448.1 619.4 L448.7 617.4 L449.3 616.2 L450.0 614.7 L450.6 614.3 L451.3 613.9 L451.9 614.1 L452.5 614.3 L453.2 615.9 L453.8 617.3 L454.5 619.4 L455.1 621.3 L455.7 624.5 L456.4 627.3 L457.0 631.1 L457.7 634.6 L458.3 637.8 L458.9 641.8 L459.6 645.6 L460.2 649.7 L460.8 653.6 L461.5 657.8 L462.1 661.3 L462.8 665.2 L463.4 669.1 L464.0 672.5 L464.7 676.2 L465.3 679.9 L466.0 683.1 L466.6 685.7 L467.2 688.5 L467.9 691.8 L468.5 694.5 L469.2 696.6 L469.8 698.6 L470.4 700.8 L471.1 703.2 L471.7 705.1 L472.3 706.1 L473.0 707.8 L473.6 709.4 L474.3 710.6 L474.9 712.1 L475.5 712.9 L476.2 714.2 L476.8 714.7 L477.5 715.8 L478.1 716.9 L478.7 717.4 L479.4 717.6 L480.0 718.2 L480.7 719.1 L481.3 719.3 L481.9 719.8 L482.6 720.3 L483.2 720.7 L483.8 721.3 L484.5 721.1 L485.1 721.6 L485.8 721.7 L486.4 722.1 L487.0 722.5 L487.7 722.3 L488.3 722.7 L489.0 723.1 L489.6 722.8 L490.2 723.5 L490.9 723.4 L491.5 723.6 L492.2 723.9 L492.8 724.1 L493.4 723.8 L494.1 724.2 L494.7 724.0 L495.3 724.4 L496.0 724.5 L496.6 724.4 L497.3 724.7 L497.9 724.9 L498.5 725.1 L499.2 725.4 L499.8 725.1 L500.5 725.3 L501.1 725.5 L501.7 725.8 L502.4 725.9 L503.0 726.0 L503.7 725.6 L504.3 725.6 L504.9 726.2 L505.6 725.7 L506.2 726.0 L506.8 726.3 L507.5 726.2 L508.1 726.2 L508.8 726.6 L509.4 726.3 L510.0 726.5 L510.7 726.8 L511.3 726.3 L512.0 726.5 L512.6 726.7 L513.2 726.8 L513.9 726.6 L514.5 726.9 L515.2 726.6 L515.8 726.7 L516.4 726.9 L517.1 726.8 L517.7 727.5 L518.3 727.0 L519.0 727.1 L519.6 727.5 L520.3 727.5 L520.9 727.2 L521.5 727.7 L522.2 727.6 L522.8 727.5 L523.5 727.7 L524.1 727.4 L524.7 727.5 L525.4 728.0 L526.0 727.7 L526.7 728.1 L527.3 727.6 L527.9 727.6 L528.6 727.6 L529.2 728.1 L529.8 728.0 L530.5 727.7 L531.1 727.7 L531.8 728.3 L532.4 728.1" fill="none" stroke="#1212e6" stroke-width="2.3" stroke-linejoin="round"/>
<line x1="293.6" y1="533.0" x2="293.6" y2="660.0" stroke="#111" stroke-width="1.5" stroke-dasharray="5 3.5"/>
<line x1="451.2" y1="500.0" x2="451.2" y2="626.0" stroke="#111" stroke-width="1.5" stroke-dasharray="5 3.5"/>
<rect x="213.6" y="478.0" width="318.9" height="257.0" fill="none" stroke="#111" stroke-width="1.5"/>
<line x1="232.9" y1="735.0" x2="232.9" y2="731.4" stroke="#111" stroke-width="1.1"/>
<text x="232.9" y="750.2" font-size="11.6" font-family="'Liberation Sans', sans-serif" fill="#111" font-weight="bold" text-anchor="middle">498</text>
<line x1="251.6" y1="735.0" x2="251.6" y2="733.0" stroke="#111" stroke-width="1.1"/>
<line x1="270.3" y1="735.0" x2="270.3" y2="731.4" stroke="#111" stroke-width="1.1"/>
<text x="270.3" y="750.2" font-size="11.6" font-family="'Liberation Sans', sans-serif" fill="#111" font-weight="bold" text-anchor="middle">496</text>
<line x1="289.0" y1="735.0" x2="289.0" y2="733.0" stroke="#111" stroke-width="1.1"/>
<line x1="307.8" y1="735.0" x2="307.8" y2="731.4" stroke="#111" stroke-width="1.1"/>
<text x="307.8" y="750.2" font-size="11.6" font-family="'Liberation Sans', sans-serif" fill="#111" font-weight="bold" text-anchor="middle">494</text>
<line x1="326.5" y1="735.0" x2="326.5" y2="733.0" stroke="#111" stroke-width="1.1"/>
<line x1="345.2" y1="735.0" x2="345.2" y2="731.4" stroke="#111" stroke-width="1.1"/>
<text x="345.2" y="750.2" font-size="11.6" font-family="'Liberation Sans', sans-serif" fill="#111" font-weight="bold" text-anchor="middle">492</text>
<line x1="363.9" y1="735.0" x2="363.9" y2="733.0" stroke="#111" stroke-width="1.1"/>
<line x1="382.6" y1="735.0" x2="382.6" y2="731.4" stroke="#111" stroke-width="1.1"/>
<text x="382.6" y="750.2" font-size="11.6" font-family="'Liberation Sans', sans-serif" fill="#111" font-weight="bold" text-anchor="middle">490</text>
<line x1="401.4" y1="735.0" x2="401.4" y2="733.0" stroke="#111" stroke-width="1.1"/>
<line x1="420.1" y1="735.0" x2="420.1" y2="731.4" stroke="#111" stroke-width="1.1"/>
<text x="420.1" y="750.2" font-size="11.6" font-family="'Liberation Sans', sans-serif" fill="#111" font-weight="bold" text-anchor="middle">488</text>
<line x1="438.8" y1="735.0" x2="438.8" y2="733.0" stroke="#111" stroke-width="1.1"/>
<line x1="457.5" y1="735.0" x2="457.5" y2="731.4" stroke="#111" stroke-width="1.1"/>
<text x="457.5" y="750.2" font-size="11.6" font-family="'Liberation Sans', sans-serif" fill="#111" font-weight="bold" text-anchor="middle">486</text>
<line x1="476.2" y1="735.0" x2="476.2" y2="733.0" stroke="#111" stroke-width="1.1"/>
<line x1="495.0" y1="735.0" x2="495.0" y2="731.4" stroke="#111" stroke-width="1.1"/>
<text x="495.0" y="750.2" font-size="11.6" font-family="'Liberation Sans', sans-serif" fill="#111" font-weight="bold" text-anchor="middle">484</text>
<line x1="513.7" y1="735.0" x2="513.7" y2="733.0" stroke="#111" stroke-width="1.1"/>
<line x1="532.4" y1="735.0" x2="532.4" y2="731.4" stroke="#111" stroke-width="1.1"/>
<text x="532.4" y="750.2" font-size="11.6" font-family="'Liberation Sans', sans-serif" fill="#111" font-weight="bold" text-anchor="middle">482</text>
<text x="378.0" y="775.0" font-size="15.6" font-family="'Liberation Sans', sans-serif" fill="#111" font-weight="bold" text-anchor="middle">Binding Energy (eV)</text>
<text x="196.5" y="604.0" font-size="15.3" font-family="'Liberation Sans', sans-serif" fill="#111" font-weight="bold" text-anchor="middle" transform="rotate(-90 196.5 604.0)">Intensity (a.u.)</text>
<line x1="220.5" y1="489.0" x2="248.0" y2="489.0" stroke="#1212e6" stroke-width="2.2"/>
<text x="252.0" y="493.0" font-size="10.9" font-family="'Liberation Sans', sans-serif" fill="#111">Control</text>
<line x1="220.5" y1="504.6" x2="248.0" y2="504.6" stroke="#ee1111" stroke-width="2.2"/>
<text x="252.0" y="509.5" font-size="10.9" font-family="'Liberation Sans', sans-serif" fill="#111">With TMSI</text>
<text x="491.3" y="489.0" font-size="10.9" font-family="'Liberation Sans', sans-serif" fill="#111" font-weight="bold">Sn 3<tspan font-style="italic">d</tspan></text>
<text x="443.2" y="495.7" font-size="10.9" font-family="'Liberation Sans', sans-serif" fill="#111">3<tspan font-style="italic">d</tspan><tspan dy="3" font-size="7.5">5/2</tspan></text>
<text x="283.7" y="523.2" font-size="10.9" font-family="'Liberation Sans', sans-serif" fill="#111">3<tspan font-style="italic">d</tspan><tspan dy="3" font-size="7.5">3/2</tspan></text>
<text x="458.3" y="511.7" font-size="10.9" font-family="'Liberation Sans', sans-serif" fill="#ee1111">486.2 eV</text>
<text x="301.6" y="539.2" font-size="10.9" font-family="'Liberation Sans', sans-serif" fill="#ee1111">494.65 eV</text>
<text x="459.7" y="624.4" font-size="10.9" font-family="'Liberation Sans', sans-serif" fill="#1212e6">486.35 eV</text>
<text x="302.0" y="640.9" font-size="10.9" font-family="'Liberation Sans', sans-serif" fill="#1212e6">494.75 eV</text>
<line x1="590.3" y1="158.5" x2="908.4" y2="158.5" stroke="#d9d9d9" stroke-width="1.2"/>
<path d="M590.3 393.5 L591.5 393.6 L592.8 393.6 L594.0 393.7 L595.2 393.7 L596.4 393.8 L597.7 393.8 L598.9 393.9 L600.1 394.0 L601.4 394.0 L602.6 394.1 L603.8 394.1 L605.0 394.2 L606.3 394.3 L607.5 394.3 L608.7 394.4 L610.0 394.4 L611.2 394.5 L612.4 394.5 L613.6 394.6 L614.9 394.7 L616.1 394.7 L617.3 394.8 L618.5 394.8 L619.8 394.9 L621.0 394.9 L622.2 395.0 L623.5 395.1 L624.7 395.1 L625.9 395.2 L627.1 395.2 L628.4 395.3 L629.6 395.4 L630.8 395.4 L632.1 395.5 L633.3 395.5 L634.5 395.5 L635.7 395.5 L637.0 395.5 L638.2 395.3 L639.4 395.0 L640.7 394.4 L641.9 393.5 L643.1 391.9 L644.3 389.6 L645.6 386.2 L646.8 381.6 L648.0 375.3 L649.3 367.4 L650.5 357.8 L651.7 346.8 L652.9 334.7 L654.2 322.3 L655.4 310.5 L656.6 300.2 L657.9 292.4 L659.1 287.8 L660.3 286.9 L661.5 288.7 L662.8 292.7 L664.0 298.5 L665.2 305.7 L666.4 313.9 L667.7 322.6 L668.9 331.4 L670.1 340.1 L671.4 348.3 L672.6 355.8 L673.8 362.6 L675.0 368.6 L676.3 373.8 L677.5 378.2 L678.7 381.8 L680.0 384.8 L681.2 387.2 L682.4 389.1 L683.6 390.6 L684.9 391.8 L686.1 392.7 L687.3 393.4 L688.6 394.0 L689.8 394.5 L691.0 394.9 L692.2 395.3 L693.5 395.6 L694.7 395.8 L695.9 396.1 L697.2 396.3 L698.4 396.5 L699.6 396.6 L700.8 396.8 L702.1 397.0 L703.3 397.1 L704.5 397.3 L705.7 397.4 L707.0 397.5 L708.2 397.7 L709.4 397.8 L710.7 397.9 L711.9 398.0 L713.1 398.1 L714.3 398.3 L715.6 398.4 L716.8 398.5 L718.0 398.6 L719.3 398.7 L720.5 398.7 L721.7 398.8 L722.9 398.9 L724.2 399.0 L725.4 399.1 L726.6 399.2 L727.9 399.3 L729.1 399.4 L730.3 399.4 L731.5 399.5 L732.8 399.6 L734.0 399.7 L735.2 399.8 L736.5 399.8 L737.7 399.9 L738.9 400.0 L740.1 400.1 L741.4 400.1 L742.6 400.2 L743.8 400.3 L745.1 400.3 L746.3 400.4 L747.5 400.5 L748.7 400.5 L750.0 400.6 L751.2 400.7 L752.4 400.8 L753.6 400.8 L754.9 400.9 L756.1 401.0 L757.3 401.0 L758.6 401.1 L759.8 401.2 L761.0 401.2 L762.2 401.3 L763.5 401.4 L764.7 401.4 L765.9 401.5 L767.2 401.5 L768.4 401.6 L769.6 401.7 L770.8 401.7 L772.1 401.8 L773.3 401.9 L774.5 401.9 L775.8 402.0 L777.0 402.1 L778.2 402.1 L779.4 402.2 L780.7 402.2 L781.9 402.3 L783.1 402.4 L784.4 402.4 L785.6 402.5 L786.8 402.6 L788.0 402.6 L789.3 402.7 L790.5 402.7 L791.7 402.8 L793.0 402.9 L794.2 402.9 L795.4 403.0 L796.6 403.1 L797.9 403.1 L799.1 403.2 L800.3 403.2 L801.5 403.3 L802.8 403.3 L804.0 403.4 L805.2 403.4 L806.5 403.5 L807.7 403.4 L808.9 403.4 L810.1 403.1 L811.4 402.7 L812.6 401.9 L813.8 400.6 L815.1 398.6 L816.3 395.4 L817.5 390.7 L818.7 384.2 L820.0 375.5 L821.2 364.4 L822.4 350.7 L823.7 334.8 L824.9 317.3 L826.1 299.0 L827.3 281.3 L828.6 265.6 L829.8 253.2 L831.0 245.3 L832.3 242.8 L833.5 244.7 L834.7 249.9 L835.9 258.0 L837.2 268.3 L838.4 280.1 L839.6 292.7 L840.8 305.7 L842.1 318.5 L843.3 330.7 L844.5 342.0 L845.8 352.2 L847.0 361.3 L848.2 369.1 L849.4 375.8 L850.7 381.3 L851.9 385.8 L853.1 389.5 L854.4 392.4 L855.6 394.7 L856.8 396.5 L858.0 398.0 L859.3 399.1 L860.5 400.0 L861.7 400.7 L863.0 401.3 L864.2 401.8 L865.4 402.2 L866.6 402.6 L867.9 402.9 L869.1 403.2 L870.3 403.4 L871.6 403.7 L872.8 403.9 L874.0 404.1 L875.2 404.3 L876.5 404.5 L877.7 404.7 L878.9 404.9 L880.2 405.0 L881.4 405.2 L882.6 405.3 L883.8 405.5 L885.1 405.6 L886.3 405.8 L887.5 405.9 L888.7 406.0 L890.0 406.1 L891.2 406.2 L892.4 406.4 L893.7 406.5 L894.9 406.6 L896.1 406.7 L897.3 406.8 L898.6 406.9 L899.8 407.0 L901.0 407.1 L902.3 407.2 L903.5 407.3 L904.7 407.3 L905.9 407.4 L907.2 407.5 L908.4 407.6 L908.4 408.5 L907.2 408.4 L905.9 408.4 L904.7 408.3 L903.5 408.3 L902.3 408.2 L901.0 408.2 L899.8 408.1 L898.6 408.0 L897.3 408.0 L896.1 407.9 L894.9 407.9 L893.7 407.8 L892.4 407.7 L891.2 407.7 L890.0 407.6 L888.7 407.6 L887.5 407.5 L886.3 407.5 L885.1 407.4 L883.8 407.3 L882.6 407.3 L881.4 407.2 L880.2 407.2 L878.9 407.1 L877.7 407.1 L876.5 407.0 L875.2 406.9 L874.0 406.9 L872.8 406.8 L871.6 406.8 L870.3 406.7 L869.1 406.6 L867.9 406.6 L866.6 406.5 L865.4 406.5 L864.2 406.4 L863.0 406.4 L861.7 406.3 L860.5 406.2 L859.3 406.2 L858.0 406.1 L856.8 406.1 L855.6 406.0 L854.4 406.0 L853.1 405.9 L851.9 405.8 L850.7 405.8 L849.4 405.7 L848.2 405.7 L847.0 405.6 L845.8 405.5 L844.5 405.5 L843.3 405.4 L842.1 405.4 L840.8 405.3 L839.6 405.3 L838.4 405.2 L837.2 405.1 L835.9 405.1 L834.7 405.0 L833.5 405.0 L832.3 404.9 L831.0 404.9 L829.8 404.8 L828.6 404.7 L827.3 404.7 L826.1 404.6 L824.9 404.6 L823.7 404.5 L822.4 404.4 L821.2 404.4 L820.0 404.3 L818.7 404.3 L817.5 404.2 L816.3 404.2 L815.1 404.1 L813.8 404.0 L812.6 404.0 L811.4 403.9 L810.1 403.9 L808.9 403.8 L807.7 403.8 L806.5 403.7 L805.2 403.6 L804.0 403.6 L802.8 403.5 L801.5 403.5 L800.3 403.4 L799.1 403.3 L797.9 403.3 L796.6 403.2 L795.4 403.2 L794.2 403.1 L793.0 403.1 L791.7 403.0 L790.5 402.9 L789.3 402.9 L788.0 402.8 L786.8 402.8 L785.6 402.7 L784.4 402.7 L783.1 402.6 L781.9 402.5 L780.7 402.5 L779.4 402.4 L778.2 402.4 L777.0 402.3 L775.8 402.2 L774.5 402.2 L773.3 402.1 L772.1 402.1 L770.8 402.0 L769.6 402.0 L768.4 401.9 L767.2 401.8 L765.9 401.8 L764.7 401.7 L763.5 401.7 L762.2 401.6 L761.0 401.6 L759.8 401.5 L758.6 401.4 L757.3 401.4 L756.1 401.3 L754.9 401.3 L753.6 401.2 L752.4 401.1 L751.2 401.1 L750.0 401.0 L748.7 401.0 L747.5 400.9 L746.3 400.9 L745.1 400.8 L743.8 400.7 L742.6 400.7 L741.4 400.6 L740.1 400.6 L738.9 400.5 L737.7 400.4 L736.5 400.4 L735.2 400.3 L734.0 400.3 L732.8 400.2 L731.5 400.2 L730.3 400.1 L729.1 400.0 L727.9 400.0 L726.6 399.9 L725.4 399.9 L724.2 399.8 L722.9 399.8 L721.7 399.7 L720.5 399.6 L719.3 399.6 L718.0 399.5 L716.8 399.5 L715.6 399.4 L714.3 399.3 L713.1 399.3 L711.9 399.2 L710.7 399.2 L709.4 399.1 L708.2 399.1 L707.0 399.0 L705.7 398.9 L704.5 398.9 L703.3 398.8 L702.1 398.8 L700.8 398.7 L699.6 398.7 L698.4 398.6 L697.2 398.5 L695.9 398.5 L694.7 398.4 L693.5 398.4 L692.2 398.3 L691.0 398.2 L689.8 398.2 L688.6 398.1 L687.3 398.1 L686.1 398.0 L684.9 398.0 L683.6 397.9 L682.4 397.8 L681.2 397.8 L680.0 397.7 L678.7 397.7 L677.5 397.6 L676.3 397.6 L675.0 397.5 L673.8 397.4 L672.6 397.4 L671.4 397.3 L670.1 397.3 L668.9 397.2 L667.7 397.1 L666.4 397.1 L665.2 397.0 L664.0 397.0 L662.8 396.9 L661.5 396.9 L660.3 396.8 L659.1 396.7 L657.9 396.7 L656.6 396.6 L655.4 396.6 L654.2 396.5 L652.9 396.5 L651.7 396.4 L650.5 396.3 L649.3 396.3 L648.0 396.2 L646.8 396.2 L645.6 396.1 L644.3 396.0 L643.1 396.0 L641.9 395.9 L640.7 395.9 L639.4 395.8 L638.2 395.8 L637.0 395.7 L635.7 395.6 L634.5 395.6 L633.3 395.5 L632.1 395.5 L630.8 395.4 L629.6 395.4 L628.4 395.3 L627.1 395.2 L625.9 395.2 L624.7 395.1 L623.5 395.1 L622.2 395.0 L621.0 394.9 L619.8 394.9 L618.5 394.8 L617.3 394.8 L616.1 394.7 L614.9 394.7 L613.6 394.6 L612.4 394.5 L611.2 394.5 L610.0 394.4 L608.7 394.4 L607.5 394.3 L606.3 394.3 L605.0 394.2 L603.8 394.1 L602.6 394.1 L601.4 394.0 L600.1 394.0 L598.9 393.9 L597.7 393.8 L596.4 393.8 L595.2 393.7 L594.0 393.7 L592.8 393.6 L591.5 393.6 L590.3 393.5 Z" fill="url(#xb1)"/>
<path d="M590.3 393.2 L591.5 393.2 L592.8 393.2 L594.0 393.3 L595.2 393.3 L596.4 393.4 L597.7 393.4 L598.9 393.4 L600.1 393.5 L601.4 393.5 L602.6 393.5 L603.8 393.6 L605.0 393.6 L606.3 393.6 L607.5 393.6 L608.7 393.6 L610.0 393.6 L611.2 393.6 L612.4 393.5 L613.6 393.5 L614.9 393.4 L616.1 393.2 L617.3 393.1 L618.5 392.8 L619.8 392.5 L621.0 392.1 L622.2 391.6 L623.5 391.0 L624.7 390.3 L625.9 389.4 L627.1 388.4 L628.4 387.3 L629.6 386.0 L630.8 384.6 L632.1 383.1 L633.3 381.5 L634.5 379.9 L635.7 378.3 L637.0 376.7 L638.2 375.2 L639.4 374.0 L640.7 373.0 L641.9 372.3 L643.1 372.0 L644.3 372.1 L645.6 372.6 L646.8 373.4 L648.0 374.6 L649.3 376.0 L650.5 377.6 L651.7 379.3 L652.9 381.1 L654.2 382.8 L655.4 384.5 L656.6 386.1 L657.9 387.6 L659.1 389.0 L660.3 390.2 L661.5 391.3 L662.8 392.3 L664.0 393.1 L665.2 393.8 L666.4 394.3 L667.7 394.8 L668.9 395.2 L670.1 395.6 L671.4 395.9 L672.6 396.1 L673.8 396.3 L675.0 396.5 L676.3 396.6 L677.5 396.8 L678.7 396.9 L680.0 397.0 L681.2 397.1 L682.4 397.2 L683.6 397.3 L684.9 397.4 L686.1 397.5 L687.3 397.5 L688.6 397.6 L689.8 397.7 L691.0 397.8 L692.2 397.9 L693.5 397.9 L694.7 398.0 L695.9 398.1 L697.2 398.1 L698.4 398.2 L699.6 398.3 L700.8 398.3 L702.1 398.4 L703.3 398.5 L704.5 398.5 L705.7 398.6 L707.0 398.7 L708.2 398.7 L709.4 398.8 L710.7 398.9 L711.9 398.9 L713.1 399.0 L714.3 399.1 L715.6 399.1 L716.8 399.2 L718.0 399.2 L719.3 399.3 L720.5 399.4 L721.7 399.4 L722.9 399.5 L724.2 399.5 L725.4 399.6 L726.6 399.6 L727.9 399.7 L729.1 399.8 L730.3 399.8 L731.5 399.9 L732.8 399.9 L734.0 400.0 L735.2 400.0 L736.5 400.1 L737.7 400.2 L738.9 400.2 L740.1 400.3 L741.4 400.3 L742.6 400.4 L743.8 400.4 L745.1 400.5 L746.3 400.5 L747.5 400.6 L748.7 400.6 L750.0 400.7 L751.2 400.7 L752.4 400.8 L753.6 400.8 L754.9 400.9 L756.1 400.9 L757.3 401.0 L758.6 401.0 L759.8 401.1 L761.0 401.1 L762.2 401.1 L763.5 401.2 L764.7 401.2 L765.9 401.3 L767.2 401.3 L768.4 401.3 L769.6 401.4 L770.8 401.4 L772.1 401.4 L773.3 401.4 L774.5 401.5 L775.8 401.5 L777.0 401.5 L778.2 401.5 L779.4 401.5 L780.7 401.5 L781.9 401.5 L783.1 401.5 L784.4 401.4 L785.6 401.3 L786.8 401.2 L788.0 401.1 L789.3 400.9 L790.5 400.6 L791.7 400.2 L793.0 399.7 L794.2 399.1 L795.4 398.4 L796.6 397.4 L797.9 396.3 L799.1 395.0 L800.3 393.4 L801.5 391.7 L802.8 389.7 L804.0 387.5 L805.2 385.2 L806.5 382.8 L807.7 380.3 L808.9 377.9 L810.1 375.7 L811.4 373.6 L812.6 372.0 L813.8 370.8 L815.1 370.2 L816.3 370.2 L817.5 370.8 L818.7 372.0 L820.0 373.7 L821.2 375.7 L822.4 378.1 L823.7 380.6 L824.9 383.1 L826.1 385.7 L827.3 388.2 L828.6 390.5 L829.8 392.6 L831.0 394.5 L832.3 396.2 L833.5 397.7 L834.7 399.0 L835.9 400.1 L837.2 401.0 L838.4 401.8 L839.6 402.4 L840.8 402.9 L842.1 403.3 L843.3 403.6 L844.5 403.9 L845.8 404.2 L847.0 404.4 L848.2 404.5 L849.4 404.7 L850.7 404.8 L851.9 404.9 L853.1 405.1 L854.4 405.2 L855.6 405.3 L856.8 405.4 L858.0 405.5 L859.3 405.6 L860.5 405.7 L861.7 405.7 L863.0 405.8 L864.2 405.9 L865.4 406.0 L866.6 406.1 L867.9 406.1 L869.1 406.2 L870.3 406.3 L871.6 406.4 L872.8 406.4 L874.0 406.5 L875.2 406.6 L876.5 406.7 L877.7 406.7 L878.9 406.8 L880.2 406.9 L881.4 406.9 L882.6 407.0 L883.8 407.1 L885.1 407.1 L886.3 407.2 L887.5 407.3 L888.7 407.3 L890.0 407.4 L891.2 407.5 L892.4 407.5 L893.7 407.6 L894.9 407.7 L896.1 407.7 L897.3 407.8 L898.6 407.8 L899.8 407.9 L901.0 408.0 L902.3 408.0 L903.5 408.1 L904.7 408.2 L905.9 408.2 L907.2 408.3 L908.4 408.3 L908.4 408.5 L907.2 408.4 L905.9 408.4 L904.7 408.3 L903.5 408.3 L902.3 408.2 L901.0 408.2 L899.8 408.1 L898.6 408.0 L897.3 408.0 L896.1 407.9 L894.9 407.9 L893.7 407.8 L892.4 407.7 L891.2 407.7 L890.0 407.6 L888.7 407.6 L887.5 407.5 L886.3 407.5 L885.1 407.4 L883.8 407.3 L882.6 407.3 L881.4 407.2 L880.2 407.2 L878.9 407.1 L877.7 407.1 L876.5 407.0 L875.2 406.9 L874.0 406.9 L872.8 406.8 L871.6 406.8 L870.3 406.7 L869.1 406.6 L867.9 406.6 L866.6 406.5 L865.4 406.5 L864.2 406.4 L863.0 406.4 L861.7 406.3 L860.5 406.2 L859.3 406.2 L858.0 406.1 L856.8 406.1 L855.6 406.0 L854.4 406.0 L853.1 405.9 L851.9 405.8 L850.7 405.8 L849.4 405.7 L848.2 405.7 L847.0 405.6 L845.8 405.5 L844.5 405.5 L843.3 405.4 L842.1 405.4 L840.8 405.3 L839.6 405.3 L838.4 405.2 L837.2 405.1 L835.9 405.1 L834.7 405.0 L833.5 405.0 L832.3 404.9 L831.0 404.9 L829.8 404.8 L828.6 404.7 L827.3 404.7 L826.1 404.6 L824.9 404.6 L823.7 404.5 L822.4 404.4 L821.2 404.4 L820.0 404.3 L818.7 404.3 L817.5 404.2 L816.3 404.2 L815.1 404.1 L813.8 404.0 L812.6 404.0 L811.4 403.9 L810.1 403.9 L808.9 403.8 L807.7 403.8 L806.5 403.7 L805.2 403.6 L804.0 403.6 L802.8 403.5 L801.5 403.5 L800.3 403.4 L799.1 403.3 L797.9 403.3 L796.6 403.2 L795.4 403.2 L794.2 403.1 L793.0 403.1 L791.7 403.0 L790.5 402.9 L789.3 402.9 L788.0 402.8 L786.8 402.8 L785.6 402.7 L784.4 402.7 L783.1 402.6 L781.9 402.5 L780.7 402.5 L779.4 402.4 L778.2 402.4 L777.0 402.3 L775.8 402.2 L774.5 402.2 L773.3 402.1 L772.1 402.1 L770.8 402.0 L769.6 402.0 L768.4 401.9 L767.2 401.8 L765.9 401.8 L764.7 401.7 L763.5 401.7 L762.2 401.6 L761.0 401.6 L759.8 401.5 L758.6 401.4 L757.3 401.4 L756.1 401.3 L754.9 401.3 L753.6 401.2 L752.4 401.1 L751.2 401.1 L750.0 401.0 L748.7 401.0 L747.5 400.9 L746.3 400.9 L745.1 400.8 L743.8 400.7 L742.6 400.7 L741.4 400.6 L740.1 400.6 L738.9 400.5 L737.7 400.4 L736.5 400.4 L735.2 400.3 L734.0 400.3 L732.8 400.2 L731.5 400.2 L730.3 400.1 L729.1 400.0 L727.9 400.0 L726.6 399.9 L725.4 399.9 L724.2 399.8 L722.9 399.8 L721.7 399.7 L720.5 399.6 L719.3 399.6 L718.0 399.5 L716.8 399.5 L715.6 399.4 L714.3 399.3 L713.1 399.3 L711.9 399.2 L710.7 399.2 L709.4 399.1 L708.2 399.1 L707.0 399.0 L705.7 398.9 L704.5 398.9 L703.3 398.8 L702.1 398.8 L700.8 398.7 L699.6 398.7 L698.4 398.6 L697.2 398.5 L695.9 398.5 L694.7 398.4 L693.5 398.4 L692.2 398.3 L691.0 398.2 L689.8 398.2 L688.6 398.1 L687.3 398.1 L686.1 398.0 L684.9 398.0 L683.6 397.9 L682.4 397.8 L681.2 397.8 L680.0 397.7 L678.7 397.7 L677.5 397.6 L676.3 397.6 L675.0 397.5 L673.8 397.4 L672.6 397.4 L671.4 397.3 L670.1 397.3 L668.9 397.2 L667.7 397.1 L666.4 397.1 L665.2 397.0 L664.0 397.0 L662.8 396.9 L661.5 396.9 L660.3 396.8 L659.1 396.7 L657.9 396.7 L656.6 396.6 L655.4 396.6 L654.2 396.5 L652.9 396.5 L651.7 396.4 L650.5 396.3 L649.3 396.3 L648.0 396.2 L646.8 396.2 L645.6 396.1 L644.3 396.0 L643.1 396.0 L641.9 395.9 L640.7 395.9 L639.4 395.8 L638.2 395.8 L637.0 395.7 L635.7 395.6 L634.5 395.6 L633.3 395.5 L632.1 395.5 L630.8 395.4 L629.6 395.4 L628.4 395.3 L627.1 395.2 L625.9 395.2 L624.7 395.1 L623.5 395.1 L622.2 395.0 L621.0 394.9 L619.8 394.9 L618.5 394.8 L617.3 394.8 L616.1 394.7 L614.9 394.7 L613.6 394.6 L612.4 394.5 L611.2 394.5 L610.0 394.4 L608.7 394.4 L607.5 394.3 L606.3 394.3 L605.0 394.2 L603.8 394.1 L602.6 394.1 L601.4 394.0 L600.1 394.0 L598.9 393.9 L597.7 393.8 L596.4 393.8 L595.2 393.7 L594.0 393.7 L592.8 393.6 L591.5 393.6 L590.3 393.5 Z" fill="url(#xr1)"/>
<path d="M590.3 393.5 L591.5 393.6 L592.8 393.6 L594.0 393.7 L595.2 393.7 L596.4 393.8 L597.7 393.8 L598.9 393.9 L600.1 394.0 L601.4 394.0 L602.6 394.1 L603.8 394.1 L605.0 394.2 L606.3 394.3 L607.5 394.3 L608.7 394.4 L610.0 394.4 L611.2 394.5 L612.4 394.5 L613.6 394.6 L614.9 394.7 L616.1 394.7 L617.3 394.8 L618.5 394.8 L619.8 394.9 L621.0 394.9 L622.2 395.0 L623.5 395.1 L624.7 395.1 L625.9 395.2 L627.1 395.2 L628.4 395.3 L629.6 395.4 L630.8 395.4 L632.1 395.5 L633.3 395.5 L634.5 395.5 L635.7 395.5 L637.0 395.5 L638.2 395.3 L639.4 395.0 L640.7 394.4 L641.9 393.5 L643.1 391.9 L644.3 389.6 L645.6 386.2 L646.8 381.6 L648.0 375.3 L649.3 367.4 L650.5 357.8 L651.7 346.8 L652.9 334.7 L654.2 322.3 L655.4 310.5 L656.6 300.2 L657.9 292.4 L659.1 287.8 L660.3 286.9 L661.5 288.7 L662.8 292.7 L664.0 298.5 L665.2 305.7 L666.4 313.9 L667.7 322.6 L668.9 331.4 L670.1 340.1 L671.4 348.3 L672.6 355.8 L673.8 362.6 L675.0 368.6 L676.3 373.8 L677.5 378.2 L678.7 381.8 L680.0 384.8 L681.2 387.2 L682.4 389.1 L683.6 390.6 L684.9 391.8 L686.1 392.7 L687.3 393.4 L688.6 394.0 L689.8 394.5 L691.0 394.9 L692.2 395.3 L693.5 395.6 L694.7 395.8 L695.9 396.1 L697.2 396.3 L698.4 396.5 L699.6 396.6 L700.8 396.8 L702.1 397.0 L703.3 397.1 L704.5 397.3 L705.7 397.4 L707.0 397.5 L708.2 397.7 L709.4 397.8 L710.7 397.9 L711.9 398.0 L713.1 398.1 L714.3 398.3 L715.6 398.4 L716.8 398.5 L718.0 398.6 L719.3 398.7 L720.5 398.7 L721.7 398.8 L722.9 398.9 L724.2 399.0 L725.4 399.1 L726.6 399.2 L727.9 399.3 L729.1 399.4 L730.3 399.4 L731.5 399.5 L732.8 399.6 L734.0 399.7 L735.2 399.8 L736.5 399.8 L737.7 399.9 L738.9 400.0 L740.1 400.1 L741.4 400.1 L742.6 400.2 L743.8 400.3 L745.1 400.3 L746.3 400.4 L747.5 400.5 L748.7 400.5 L750.0 400.6 L751.2 400.7 L752.4 400.8 L753.6 400.8 L754.9 400.9 L756.1 401.0 L757.3 401.0 L758.6 401.1 L759.8 401.2 L761.0 401.2 L762.2 401.3 L763.5 401.4 L764.7 401.4 L765.9 401.5 L767.2 401.5 L768.4 401.6 L769.6 401.7 L770.8 401.7 L772.1 401.8 L773.3 401.9 L774.5 401.9 L775.8 402.0 L777.0 402.1 L778.2 402.1 L779.4 402.2 L780.7 402.2 L781.9 402.3 L783.1 402.4 L784.4 402.4 L785.6 402.5 L786.8 402.6 L788.0 402.6 L789.3 402.7 L790.5 402.7 L791.7 402.8 L793.0 402.9 L794.2 402.9 L795.4 403.0 L796.6 403.1 L797.9 403.1 L799.1 403.2 L800.3 403.2 L801.5 403.3 L802.8 403.3 L804.0 403.4 L805.2 403.4 L806.5 403.5 L807.7 403.4 L808.9 403.4 L810.1 403.1 L811.4 402.7 L812.6 401.9 L813.8 400.6 L815.1 398.6 L816.3 395.4 L817.5 390.7 L818.7 384.2 L820.0 375.5 L821.2 364.4 L822.4 350.7 L823.7 334.8 L824.9 317.3 L826.1 299.0 L827.3 281.3 L828.6 265.6 L829.8 253.2 L831.0 245.3 L832.3 242.8 L833.5 244.7 L834.7 249.9 L835.9 258.0 L837.2 268.3 L838.4 280.1 L839.6 292.7 L840.8 305.7 L842.1 318.5 L843.3 330.7 L844.5 342.0 L845.8 352.2 L847.0 361.3 L848.2 369.1 L849.4 375.8 L850.7 381.3 L851.9 385.8 L853.1 389.5 L854.4 392.4 L855.6 394.7 L856.8 396.5 L858.0 398.0 L859.3 399.1 L860.5 400.0 L861.7 400.7 L863.0 401.3 L864.2 401.8 L865.4 402.2 L866.6 402.6 L867.9 402.9 L869.1 403.2 L870.3 403.4 L871.6 403.7 L872.8 403.9 L874.0 404.1 L875.2 404.3 L876.5 404.5 L877.7 404.7 L878.9 404.9 L880.2 405.0 L881.4 405.2 L882.6 405.3 L883.8 405.5 L885.1 405.6 L886.3 405.8 L887.5 405.9 L888.7 406.0 L890.0 406.1 L891.2 406.2 L892.4 406.4 L893.7 406.5 L894.9 406.6 L896.1 406.7 L897.3 406.8 L898.6 406.9 L899.8 407.0 L901.0 407.1 L902.3 407.2 L903.5 407.3 L904.7 407.3 L905.9 407.4 L907.2 407.5 L908.4 407.6" fill="none" stroke="#3d5fe0" stroke-width="1.2"/>
<path d="M590.3 393.2 L591.5 393.2 L592.8 393.2 L594.0 393.3 L595.2 393.3 L596.4 393.4 L597.7 393.4 L598.9 393.4 L600.1 393.5 L601.4 393.5 L602.6 393.5 L603.8 393.6 L605.0 393.6 L606.3 393.6 L607.5 393.6 L608.7 393.6 L610.0 393.6 L611.2 393.6 L612.4 393.5 L613.6 393.5 L614.9 393.4 L616.1 393.2 L617.3 393.1 L618.5 392.8 L619.8 392.5 L621.0 392.1 L622.2 391.6 L623.5 391.0 L624.7 390.3 L625.9 389.4 L627.1 388.4 L628.4 387.3 L629.6 386.0 L630.8 384.6 L632.1 383.1 L633.3 381.5 L634.5 379.9 L635.7 378.3 L637.0 376.7 L638.2 375.2 L639.4 374.0 L640.7 373.0 L641.9 372.3 L643.1 372.0 L644.3 372.1 L645.6 372.6 L646.8 373.4 L648.0 374.6 L649.3 376.0 L650.5 377.6 L651.7 379.3 L652.9 381.1 L654.2 382.8 L655.4 384.5 L656.6 386.1 L657.9 387.6 L659.1 389.0 L660.3 390.2 L661.5 391.3 L662.8 392.3 L664.0 393.1 L665.2 393.8 L666.4 394.3 L667.7 394.8 L668.9 395.2 L670.1 395.6 L671.4 395.9 L672.6 396.1 L673.8 396.3 L675.0 396.5 L676.3 396.6 L677.5 396.8 L678.7 396.9 L680.0 397.0 L681.2 397.1 L682.4 397.2 L683.6 397.3 L684.9 397.4 L686.1 397.5 L687.3 397.5 L688.6 397.6 L689.8 397.7 L691.0 397.8 L692.2 397.9 L693.5 397.9 L694.7 398.0 L695.9 398.1 L697.2 398.1 L698.4 398.2 L699.6 398.3 L700.8 398.3 L702.1 398.4 L703.3 398.5 L704.5 398.5 L705.7 398.6 L707.0 398.7 L708.2 398.7 L709.4 398.8 L710.7 398.9 L711.9 398.9 L713.1 399.0 L714.3 399.1 L715.6 399.1 L716.8 399.2 L718.0 399.2 L719.3 399.3 L720.5 399.4 L721.7 399.4 L722.9 399.5 L724.2 399.5 L725.4 399.6 L726.6 399.6 L727.9 399.7 L729.1 399.8 L730.3 399.8 L731.5 399.9 L732.8 399.9 L734.0 400.0 L735.2 400.0 L736.5 400.1 L737.7 400.2 L738.9 400.2 L740.1 400.3 L741.4 400.3 L742.6 400.4 L743.8 400.4 L745.1 400.5 L746.3 400.5 L747.5 400.6 L748.7 400.6 L750.0 400.7 L751.2 400.7 L752.4 400.8 L753.6 400.8 L754.9 400.9 L756.1 400.9 L757.3 401.0 L758.6 401.0 L759.8 401.1 L761.0 401.1 L762.2 401.1 L763.5 401.2 L764.7 401.2 L765.9 401.3 L767.2 401.3 L768.4 401.3 L769.6 401.4 L770.8 401.4 L772.1 401.4 L773.3 401.4 L774.5 401.5 L775.8 401.5 L777.0 401.5 L778.2 401.5 L779.4 401.5 L780.7 401.5 L781.9 401.5 L783.1 401.5 L784.4 401.4 L785.6 401.3 L786.8 401.2 L788.0 401.1 L789.3 400.9 L790.5 400.6 L791.7 400.2 L793.0 399.7 L794.2 399.1 L795.4 398.4 L796.6 397.4 L797.9 396.3 L799.1 395.0 L800.3 393.4 L801.5 391.7 L802.8 389.7 L804.0 387.5 L805.2 385.2 L806.5 382.8 L807.7 380.3 L808.9 377.9 L810.1 375.7 L811.4 373.6 L812.6 372.0 L813.8 370.8 L815.1 370.2 L816.3 370.2 L817.5 370.8 L818.7 372.0 L820.0 373.7 L821.2 375.7 L822.4 378.1 L823.7 380.6 L824.9 383.1 L826.1 385.7 L827.3 388.2 L828.6 390.5 L829.8 392.6 L831.0 394.5 L832.3 396.2 L833.5 397.7 L834.7 399.0 L835.9 400.1 L837.2 401.0 L838.4 401.8 L839.6 402.4 L840.8 402.9 L842.1 403.3 L843.3 403.6 L844.5 403.9 L845.8 404.2 L847.0 404.4 L848.2 404.5 L849.4 404.7 L850.7 404.8 L851.9 404.9 L853.1 405.1 L854.4 405.2 L855.6 405.3 L856.8 405.4 L858.0 405.5 L859.3 405.6 L860.5 405.7 L861.7 405.7 L863.0 405.8 L864.2 405.9 L865.4 406.0 L866.6 406.1 L867.9 406.1 L869.1 406.2 L870.3 406.3 L871.6 406.4 L872.8 406.4 L874.0 406.5 L875.2 406.6 L876.5 406.7 L877.7 406.7 L878.9 406.8 L880.2 406.9 L881.4 406.9 L882.6 407.0 L883.8 407.1 L885.1 407.1 L886.3 407.2 L887.5 407.3 L888.7 407.3 L890.0 407.4 L891.2 407.5 L892.4 407.5 L893.7 407.6 L894.9 407.7 L896.1 407.7 L897.3 407.8 L898.6 407.8 L899.8 407.9 L901.0 408.0 L902.3 408.0 L903.5 408.1 L904.7 408.2 L905.9 408.2 L907.2 408.3 L908.4 408.3" fill="none" stroke="#ea4b4b" stroke-width="1.2"/>
<path d="M590.3 393.5 L591.5 393.6 L592.8 393.6 L594.0 393.7 L595.2 393.7 L596.4 393.8 L597.7 393.8 L598.9 393.9 L600.1 394.0 L601.4 394.0 L602.6 394.1 L603.8 394.1 L605.0 394.2 L606.3 394.3 L607.5 394.3 L608.7 394.4 L610.0 394.4 L611.2 394.5 L612.4 394.5 L613.6 394.6 L614.9 394.7 L616.1 394.7 L617.3 394.8 L618.5 394.8 L619.8 394.9 L621.0 394.9 L622.2 395.0 L623.5 395.1 L624.7 395.1 L625.9 395.2 L627.1 395.2 L628.4 395.3 L629.6 395.4 L630.8 395.4 L632.1 395.5 L633.3 395.5 L634.5 395.6 L635.7 395.6 L637.0 395.7 L638.2 395.8 L639.4 395.8 L640.7 395.9 L641.9 395.9 L643.1 396.0 L644.3 396.0 L645.6 396.1 L646.8 396.2 L648.0 396.2 L649.3 396.3 L650.5 396.3 L651.7 396.4 L652.9 396.5 L654.2 396.5 L655.4 396.6 L656.6 396.6 L657.9 396.7 L659.1 396.7 L660.3 396.8 L661.5 396.9 L662.8 396.9 L664.0 397.0 L665.2 397.0 L666.4 397.1 L667.7 397.1 L668.9 397.2 L670.1 397.3 L671.4 397.3 L672.6 397.4 L673.8 397.4 L675.0 397.5 L676.3 397.6 L677.5 397.6 L678.7 397.7 L680.0 397.7 L681.2 397.8 L682.4 397.8 L683.6 397.9 L684.9 398.0 L686.1 398.0 L687.3 398.1 L688.6 398.1 L689.8 398.2 L691.0 398.2 L692.2 398.3 L693.5 398.4 L694.7 398.4 L695.9 398.5 L697.2 398.5 L698.4 398.6 L699.6 398.7 L700.8 398.7 L702.1 398.8 L703.3 398.8 L704.5 398.9 L705.7 398.9 L707.0 399.0 L708.2 399.1 L709.4 399.1 L710.7 399.2 L711.9 399.2 L713.1 399.3 L714.3 399.3 L715.6 399.4 L716.8 399.5 L718.0 399.5 L719.3 399.6 L720.5 399.6 L721.7 399.7 L722.9 399.8 L724.2 399.8 L725.4 399.9 L726.6 399.9 L727.9 400.0 L729.1 400.0 L730.3 400.1 L731.5 400.2 L732.8 400.2 L734.0 400.3 L735.2 400.3 L736.5 400.4 L737.7 400.4 L738.9 400.5 L740.1 400.6 L741.4 400.6 L742.6 400.7 L743.8 400.7 L745.1 400.8 L746.3 400.9 L747.5 400.9 L748.7 401.0 L750.0 401.0 L751.2 401.1 L752.4 401.1 L753.6 401.2 L754.9 401.3 L756.1 401.3 L757.3 401.4 L758.6 401.4 L759.8 401.5 L761.0 401.6 L762.2 401.6 L763.5 401.7 L764.7 401.7 L765.9 401.8 L767.2 401.8 L768.4 401.9 L769.6 402.0 L770.8 402.0 L772.1 402.1 L773.3 402.1 L774.5 402.2 L775.8 402.2 L777.0 402.3 L778.2 402.4 L779.4 402.4 L780.7 402.5 L781.9 402.5 L783.1 402.6 L784.4 402.7 L785.6 402.7 L786.8 402.8 L788.0 402.8 L789.3 402.9 L790.5 402.9 L791.7 403.0 L793.0 403.1 L794.2 403.1 L795.4 403.2 L796.6 403.2 L797.9 403.3 L799.1 403.3 L800.3 403.4 L801.5 403.5 L802.8 403.5 L804.0 403.6 L805.2 403.6 L806.5 403.7 L807.7 403.8 L808.9 403.8 L810.1 403.9 L811.4 403.9 L812.6 404.0 L813.8 404.0 L815.1 404.1 L816.3 404.2 L817.5 404.2 L818.7 404.3 L820.0 404.3 L821.2 404.4 L822.4 404.4 L823.7 404.5 L824.9 404.6 L826.1 404.6 L827.3 404.7 L828.6 404.7 L829.8 404.8 L831.0 404.9 L832.3 404.9 L833.5 405.0 L834.7 405.0 L835.9 405.1 L837.2 405.1 L838.4 405.2 L839.6 405.3 L840.8 405.3 L842.1 405.4 L843.3 405.4 L844.5 405.5 L845.8 405.5 L847.0 405.6 L848.2 405.7 L849.4 405.7 L850.7 405.8 L851.9 405.8 L853.1 405.9 L854.4 406.0 L855.6 406.0 L856.8 406.1 L858.0 406.1 L859.3 406.2 L860.5 406.2 L861.7 406.3 L863.0 406.4 L864.2 406.4 L865.4 406.5 L866.6 406.5 L867.9 406.6 L869.1 406.6 L870.3 406.7 L871.6 406.8 L872.8 406.8 L874.0 406.9 L875.2 406.9 L876.5 407.0 L877.7 407.1 L878.9 407.1 L880.2 407.2 L881.4 407.2 L882.6 407.3 L883.8 407.3 L885.1 407.4 L886.3 407.5 L887.5 407.5 L888.7 407.6 L890.0 407.6 L891.2 407.7 L892.4 407.7 L893.7 407.8 L894.9 407.9 L896.1 407.9 L897.3 408.0 L898.6 408.0 L899.8 408.1 L901.0 408.2 L902.3 408.2 L903.5 408.3 L904.7 408.3 L905.9 408.4 L907.2 408.4 L908.4 408.5" fill="none" stroke="#e8505a" stroke-width="1.3"/>
<path d="M590.3 391.5 L591.5 393.3 L592.8 393.1 L594.0 391.9 L595.2 392.4 L596.4 392.3 L597.7 392.8 L598.9 393.2 L600.1 391.5 L601.4 391.3 L602.6 393.3 L603.8 392.3 L605.0 393.0 L606.3 391.2 L607.5 392.2 L608.7 392.8 L610.0 391.6 L611.2 393.2 L612.4 393.0 L613.6 390.8 L614.9 390.6 L616.1 391.6 L617.3 392.3 L618.5 390.6 L619.8 389.8 L621.0 389.8 L622.2 388.2 L623.5 387.9 L624.7 387.5 L625.9 386.6 L627.1 384.8 L628.4 383.4 L629.6 381.7 L630.8 380.5 L632.1 378.1 L633.3 375.3 L634.5 374.8 L635.7 371.5 L637.0 368.9 L638.2 364.7 L639.4 363.3 L640.7 359.3 L641.9 353.7 L643.1 349.9 L644.3 346.3 L645.6 341.2 L646.8 336.3 L648.0 329.1 L649.3 323.6 L650.5 316.5 L651.7 308.6 L652.9 302.3 L654.2 296.3 L655.4 290.2 L656.6 284.4 L657.9 281.2 L659.1 278.4 L660.3 279.5 L661.5 283.7 L662.8 287.6 L664.0 293.6 L665.2 302.4 L666.4 311.5 L667.7 320.5 L668.9 329.0 L670.1 338.1 L671.4 346.6 L672.6 355.0 L673.8 361.3 L675.0 367.1 L676.3 372.6 L677.5 376.0 L678.7 379.7 L680.0 384.3 L681.2 387.4 L682.4 388.4 L683.6 389.5 L684.9 390.2 L686.1 391.9 L687.3 393.8 L688.6 393.9 L689.8 393.9 L691.0 395.1 L692.2 393.9 L693.5 394.9 L694.7 396.2 L695.9 395.6 L697.2 395.5 L698.4 395.2 L699.6 396.1 L700.8 397.3 L702.1 395.1 L703.3 397.2 L704.5 397.4 L705.7 397.7 L707.0 397.5 L708.2 397.8 L709.4 397.2 L710.7 397.4 L711.9 397.2 L713.1 396.4 L714.3 398.5 L715.6 397.9 L716.8 397.1 L718.0 397.9 L719.3 397.9 L720.5 397.7 L721.7 397.8 L722.9 398.3 L724.2 398.6 L725.4 398.7 L726.6 398.4 L727.9 397.4 L729.1 398.0 L730.3 397.9 L731.5 398.9 L732.8 399.7 L734.0 399.6 L735.2 399.6 L736.5 399.8 L737.7 398.5 L738.9 399.9 L740.1 399.6 L741.4 398.2 L742.6 398.1 L743.8 398.2 L745.1 400.0 L746.3 398.8 L747.5 398.5 L748.7 399.8 L750.0 399.2 L751.2 398.5 L752.4 398.8 L753.6 399.7 L754.9 398.9 L756.1 399.2 L757.3 400.3 L758.6 399.7 L759.8 399.4 L761.0 399.7 L762.2 398.7 L763.5 399.6 L764.7 399.7 L765.9 399.1 L767.2 398.9 L768.4 400.8 L769.6 399.9 L770.8 399.1 L772.1 400.1 L773.3 400.6 L774.5 398.6 L775.8 398.6 L777.0 398.8 L778.2 400.2 L779.4 398.8 L780.7 400.0 L781.9 399.8 L783.1 399.4 L784.4 398.5 L785.6 400.1 L786.8 399.4 L788.0 398.5 L789.3 397.5 L790.5 398.1 L791.7 396.9 L793.0 396.7 L794.2 395.3 L795.4 395.1 L796.6 392.6 L797.9 391.7 L799.1 391.7 L800.3 389.6 L801.5 386.0 L802.8 384.8 L804.0 380.7 L805.2 379.0 L806.5 375.1 L807.7 370.4 L808.9 365.8 L810.1 360.7 L811.4 357.8 L812.6 350.5 L813.8 346.6 L815.1 340.8 L816.3 333.1 L817.5 324.9 L818.7 318.7 L820.0 310.3 L821.2 300.4 L822.4 290.1 L823.7 279.6 L824.9 269.1 L826.1 258.8 L827.3 250.7 L828.6 242.4 L829.8 236.2 L831.0 233.1 L832.3 234.5 L833.5 237.0 L834.7 243.9 L835.9 252.6 L837.2 265.0 L838.4 277.6 L839.6 288.7 L840.8 302.6 L842.1 316.0 L843.3 330.0 L844.5 341.1 L845.8 350.4 L847.0 359.3 L848.2 368.4 L849.4 375.5 L850.7 381.4 L851.9 384.6 L853.1 389.6 L854.4 392.1 L855.6 394.0 L856.8 397.0 L858.0 396.7 L859.3 399.0 L860.5 398.4 L861.7 399.3 L863.0 401.7 L864.2 400.6 L865.4 402.3 L866.6 402.3 L867.9 403.3 L869.1 402.4 L870.3 402.7 L871.6 402.8 L872.8 404.4 L874.0 404.0 L875.2 405.1 L876.5 405.1 L877.7 403.5 L878.9 404.7 L880.2 403.8 L881.4 403.8 L882.6 404.0 L883.8 406.1 L885.1 406.1 L886.3 406.3 L887.5 405.3 L888.7 406.0 L890.0 406.6 L891.2 405.7 L892.4 406.3 L893.7 405.6 L894.9 405.4 L896.1 405.9 L897.3 407.5 L898.6 406.8 L899.8 407.8 L901.0 406.8 L902.3 406.5 L903.5 407.8 L904.7 408.0 L905.9 406.1 L907.2 407.8 L908.4 406.5" fill="none" stroke="#7e7e7e" stroke-width="3.3" stroke-linejoin="round" stroke-linecap="round"/>
<circle cx="594.0" cy="391.9" r="0.95" fill="#f0f0f0"/>
<circle cx="598.9" cy="393.2" r="0.95" fill="#f0f0f0"/>
<circle cx="602.6" cy="393.3" r="0.95" fill="#f0f0f0"/>
<circle cx="606.3" cy="391.2" r="0.95" fill="#f0f0f0"/>
<circle cx="610.0" cy="391.6" r="0.95" fill="#f0f0f0"/>
<circle cx="613.6" cy="390.8" r="0.95" fill="#f0f0f0"/>
<circle cx="617.3" cy="392.3" r="0.95" fill="#f0f0f0"/>
<circle cx="621.0" cy="389.8" r="0.95" fill="#f0f0f0"/>
<circle cx="624.7" cy="387.5" r="0.95" fill="#f0f0f0"/>
<circle cx="628.4" cy="383.4" r="0.95" fill="#f0f0f0"/>
<circle cx="632.1" cy="378.1" r="0.95" fill="#f0f0f0"/>
<circle cx="634.5" cy="374.8" r="0.95" fill="#f0f0f0"/>
<circle cx="637.0" cy="368.9" r="0.95" fill="#f0f0f0"/>
<circle cx="638.2" cy="364.7" r="0.95" fill="#f0f0f0"/>
<circle cx="640.7" cy="359.3" r="0.95" fill="#f0f0f0"/>
<circle cx="641.9" cy="353.7" r="0.95" fill="#f0f0f0"/>
<circle cx="644.3" cy="346.3" r="0.95" fill="#f0f0f0"/>
<circle cx="645.6" cy="341.2" r="0.95" fill="#f0f0f0"/>
<circle cx="646.8" cy="336.3" r="0.95" fill="#f0f0f0"/>
<circle cx="648.0" cy="329.1" r="0.95" fill="#f0f0f0"/>
<circle cx="649.3" cy="323.6" r="0.95" fill="#f0f0f0"/>
<circle cx="650.5" cy="316.5" r="0.95" fill="#f0f0f0"/>
<circle cx="651.7" cy="308.6" r="0.95" fill="#f0f0f0"/>
<circle cx="652.9" cy="302.3" r="0.95" fill="#f0f0f0"/>
<circle cx="654.2" cy="296.3" r="0.95" fill="#f0f0f0"/>
<circle cx="655.4" cy="290.2" r="0.95" fill="#f0f0f0"/>
<circle cx="656.6" cy="284.4" r="0.95" fill="#f0f0f0"/>
<circle cx="659.1" cy="278.4" r="0.95" fill="#f0f0f0"/>
<circle cx="661.5" cy="283.7" r="0.95" fill="#f0f0f0"/>
<circle cx="664.0" cy="293.6" r="0.95" fill="#f0f0f0"/>
<circle cx="665.2" cy="302.4" r="0.95" fill="#f0f0f0"/>
<circle cx="666.4" cy="311.5" r="0.95" fill="#f0f0f0"/>
<circle cx="667.7" cy="320.5" r="0.95" fill="#f0f0f0"/>
<circle cx="668.9" cy="329.0" r="0.95" fill="#f0f0f0"/>
<circle cx="670.1" cy="338.1" r="0.95" fill="#f0f0f0"/>
<circle cx="671.4" cy="346.6" r="0.95" fill="#f0f0f0"/>
<circle cx="672.6" cy="355.0" r="0.95" fill="#f0f0f0"/>
<circle cx="673.8" cy="361.3" r="0.95" fill="#f0f0f0"/>
<circle cx="675.0" cy="367.1" r="0.95" fill="#f0f0f0"/>
<circle cx="676.3" cy="372.6" r="0.95" fill="#f0f0f0"/>
<circle cx="678.7" cy="379.7" r="0.95" fill="#f0f0f0"/>
<circle cx="680.0" cy="384.3" r="0.95" fill="#f0f0f0"/>
<circle cx="682.4" cy="388.4" r="0.95" fill="#f0f0f0"/>
<circle cx="686.1" cy="391.9" r="0.95" fill="#f0f0f0"/>
<circle cx="689.8" cy="393.9" r="0.95" fill="#f0f0f0"/>
<circle cx="693.5" cy="394.9" r="0.95" fill="#f0f0f0"/>
<circle cx="697.2" cy="395.5" r="0.95" fill="#f0f0f0"/>
<circle cx="700.8" cy="397.3" r="0.95" fill="#f0f0f0"/>
<circle cx="703.3" cy="397.2" r="0.95" fill="#f0f0f0"/>
<circle cx="708.2" cy="397.8" r="0.95" fill="#f0f0f0"/>
<circle cx="713.1" cy="396.4" r="0.95" fill="#f0f0f0"/>
<circle cx="716.8" cy="397.1" r="0.95" fill="#f0f0f0"/>
<circle cx="721.7" cy="397.8" r="0.95" fill="#f0f0f0"/>
<circle cx="726.6" cy="398.4" r="0.95" fill="#f0f0f0"/>
<circle cx="731.5" cy="398.9" r="0.95" fill="#f0f0f0"/>
<circle cx="736.5" cy="399.8" r="0.95" fill="#f0f0f0"/>
<circle cx="740.1" cy="399.6" r="0.95" fill="#f0f0f0"/>
<circle cx="743.8" cy="398.2" r="0.95" fill="#f0f0f0"/>
<circle cx="747.5" cy="398.5" r="0.95" fill="#f0f0f0"/>
<circle cx="751.2" cy="398.5" r="0.95" fill="#f0f0f0"/>
<circle cx="754.9" cy="398.9" r="0.95" fill="#f0f0f0"/>
<circle cx="758.6" cy="399.7" r="0.95" fill="#f0f0f0"/>
<circle cx="763.5" cy="399.6" r="0.95" fill="#f0f0f0"/>
<circle cx="768.4" cy="400.8" r="0.95" fill="#f0f0f0"/>
<circle cx="772.1" cy="400.1" r="0.95" fill="#f0f0f0"/>
<circle cx="775.8" cy="398.6" r="0.95" fill="#f0f0f0"/>
<circle cx="779.4" cy="398.8" r="0.95" fill="#f0f0f0"/>
<circle cx="783.1" cy="399.4" r="0.95" fill="#f0f0f0"/>
<circle cx="786.8" cy="399.4" r="0.95" fill="#f0f0f0"/>
<circle cx="790.5" cy="398.1" r="0.95" fill="#f0f0f0"/>
<circle cx="794.2" cy="395.3" r="0.95" fill="#f0f0f0"/>
<circle cx="797.9" cy="391.7" r="0.95" fill="#f0f0f0"/>
<circle cx="801.5" cy="386.0" r="0.95" fill="#f0f0f0"/>
<circle cx="804.0" cy="380.7" r="0.95" fill="#f0f0f0"/>
<circle cx="806.5" cy="375.1" r="0.95" fill="#f0f0f0"/>
<circle cx="807.7" cy="370.4" r="0.95" fill="#f0f0f0"/>
<circle cx="808.9" cy="365.8" r="0.95" fill="#f0f0f0"/>
<circle cx="810.1" cy="360.7" r="0.95" fill="#f0f0f0"/>
<circle cx="812.6" cy="350.5" r="0.95" fill="#f0f0f0"/>
<circle cx="815.1" cy="340.8" r="0.95" fill="#f0f0f0"/>
<circle cx="816.3" cy="333.1" r="0.95" fill="#f0f0f0"/>
<circle cx="817.5" cy="324.9" r="0.95" fill="#f0f0f0"/>
<circle cx="818.7" cy="318.7" r="0.95" fill="#f0f0f0"/>
<circle cx="820.0" cy="310.3" r="0.95" fill="#f0f0f0"/>
<circle cx="821.2" cy="300.4" r="0.95" fill="#f0f0f0"/>
<circle cx="822.4" cy="290.1" r="0.95" fill="#f0f0f0"/>
<circle cx="823.7" cy="279.6" r="0.95" fill="#f0f0f0"/>
<circle cx="824.9" cy="269.1" r="0.95" fill="#f0f0f0"/>
<circle cx="826.1" cy="258.8" r="0.95" fill="#f0f0f0"/>
<circle cx="827.3" cy="250.7" r="0.95" fill="#f0f0f0"/>
<circle cx="828.6" cy="242.4" r="0.95" fill="#f0f0f0"/>
<circle cx="829.8" cy="236.2" r="0.95" fill="#f0f0f0"/>
<circle cx="832.3" cy="234.5" r="0.95" fill="#f0f0f0"/>
<circle cx="834.7" cy="243.9" r="0.95" fill="#f0f0f0"/>
<circle cx="835.9" cy="252.6" r="0.95" fill="#f0f0f0"/>
<circle cx="837.2" cy="265.0" r="0.95" fill="#f0f0f0"/>
<circle cx="838.4" cy="277.6" r="0.95" fill="#f0f0f0"/>
<circle cx="839.6" cy="288.7" r="0.95" fill="#f0f0f0"/>
<circle cx="840.8" cy="302.6" r="0.95" fill="#f0f0f0"/>
<circle cx="842.1" cy="316.0" r="0.95" fill="#f0f0f0"/>
<circle cx="843.3" cy="330.0" r="0.95" fill="#f0f0f0"/>
<circle cx="844.5" cy="341.1" r="0.95" fill="#f0f0f0"/>
<circle cx="845.8" cy="350.4" r="0.95" fill="#f0f0f0"/>
<circle cx="847.0" cy="359.3" r="0.95" fill="#f0f0f0"/>
<circle cx="848.2" cy="368.4" r="0.95" fill="#f0f0f0"/>
<circle cx="849.4" cy="375.5" r="0.95" fill="#f0f0f0"/>
<circle cx="850.7" cy="381.4" r="0.95" fill="#f0f0f0"/>
<circle cx="853.1" cy="389.6" r="0.95" fill="#f0f0f0"/>
<circle cx="855.6" cy="394.0" r="0.95" fill="#f0f0f0"/>
<circle cx="858.0" cy="396.7" r="0.95" fill="#f0f0f0"/>
<circle cx="861.7" cy="399.3" r="0.95" fill="#f0f0f0"/>
<circle cx="864.2" cy="400.6" r="0.95" fill="#f0f0f0"/>
<circle cx="867.9" cy="403.3" r="0.95" fill="#f0f0f0"/>
<circle cx="872.8" cy="404.4" r="0.95" fill="#f0f0f0"/>
<circle cx="877.7" cy="403.5" r="0.95" fill="#f0f0f0"/>
<circle cx="881.4" cy="403.8" r="0.95" fill="#f0f0f0"/>
<circle cx="885.1" cy="406.1" r="0.95" fill="#f0f0f0"/>
<circle cx="888.7" cy="406.0" r="0.95" fill="#f0f0f0"/>
<circle cx="893.7" cy="405.6" r="0.95" fill="#f0f0f0"/>
<circle cx="897.3" cy="407.5" r="0.95" fill="#f0f0f0"/>
<circle cx="901.0" cy="406.8" r="0.95" fill="#f0f0f0"/>
<circle cx="904.7" cy="408.0" r="0.95" fill="#f0f0f0"/>
<circle cx="907.2" cy="407.8" r="0.95" fill="#f0f0f0"/>
<path d="M590.3 392.4 L591.5 392.4 L592.8 392.4 L594.0 392.4 L595.2 392.5 L596.4 392.5 L597.7 392.5 L598.9 392.5 L600.1 392.5 L601.4 392.5 L602.6 392.5 L603.8 392.4 L605.0 392.4 L606.3 392.4 L607.5 392.3 L608.7 392.3 L610.0 392.2 L611.2 392.1 L612.4 392.0 L613.6 391.9 L614.9 391.7 L616.1 391.5 L617.3 391.2 L618.5 390.9 L619.8 390.5 L621.0 389.9 L622.2 389.3 L623.5 388.6 L624.7 387.7 L625.9 386.6 L627.1 385.4 L628.4 384.0 L629.6 382.4 L630.8 380.6 L632.1 378.6 L633.3 376.4 L634.5 374.0 L635.7 371.4 L637.0 368.5 L638.2 365.4 L639.4 362.1 L640.7 358.5 L641.9 354.6 L643.1 350.3 L644.3 345.7 L645.6 340.7 L646.8 335.2 L648.0 329.2 L649.3 322.8 L650.5 316.1 L651.7 309.1 L652.9 302.1 L654.2 295.4 L655.4 289.3 L656.6 284.4 L657.9 281.0 L659.1 279.5 L660.3 280.1 L661.5 283.0 L662.8 287.8 L664.0 294.4 L665.2 302.3 L666.4 311.0 L667.7 320.1 L668.9 329.3 L670.1 338.2 L671.4 346.6 L672.6 354.3 L673.8 361.3 L675.0 367.4 L676.3 372.7 L677.5 377.1 L678.7 380.8 L680.0 383.8 L681.2 386.3 L682.4 388.2 L683.6 389.7 L684.9 391.0 L686.1 391.9 L687.3 392.7 L688.6 393.3 L689.8 393.8 L691.0 394.2 L692.2 394.6 L693.5 394.9 L694.7 395.1 L695.9 395.4 L697.2 395.6 L698.4 395.8 L699.6 396.0 L700.8 396.2 L702.1 396.3 L703.3 396.5 L704.5 396.6 L705.7 396.8 L707.0 396.9 L708.2 397.0 L709.4 397.2 L710.7 397.3 L711.9 397.4 L713.1 397.5 L714.3 397.6 L715.6 397.7 L716.8 397.8 L718.0 397.9 L719.3 398.0 L720.5 398.1 L721.7 398.2 L722.9 398.2 L724.2 398.3 L725.4 398.4 L726.6 398.5 L727.9 398.5 L729.1 398.6 L730.3 398.7 L731.5 398.7 L732.8 398.8 L734.0 398.9 L735.2 398.9 L736.5 399.0 L737.7 399.1 L738.9 399.1 L740.1 399.2 L741.4 399.2 L742.6 399.3 L743.8 399.3 L745.1 399.4 L746.3 399.4 L747.5 399.5 L748.7 399.5 L750.0 399.5 L751.2 399.6 L752.4 399.6 L753.6 399.7 L754.9 399.7 L756.1 399.7 L757.3 399.7 L758.6 399.8 L759.8 399.8 L761.0 399.8 L762.2 399.8 L763.5 399.8 L764.7 399.9 L765.9 399.9 L767.2 399.9 L768.4 399.9 L769.6 399.9 L770.8 399.8 L772.1 399.8 L773.3 399.8 L774.5 399.8 L775.8 399.7 L777.0 399.7 L778.2 399.6 L779.4 399.6 L780.7 399.5 L781.9 399.4 L783.1 399.3 L784.4 399.1 L785.6 398.9 L786.8 398.7 L788.0 398.5 L789.3 398.1 L790.5 397.7 L791.7 397.2 L793.0 396.5 L794.2 395.7 L795.4 394.8 L796.6 393.6 L797.9 392.2 L799.1 390.6 L800.3 388.7 L801.5 386.5 L802.8 384.0 L804.0 381.1 L805.2 378.0 L806.5 374.5 L807.7 370.6 L808.9 366.4 L810.1 361.9 L811.4 356.9 L812.6 351.6 L813.8 345.8 L815.1 339.6 L816.3 333.0 L817.5 325.7 L818.7 317.8 L820.0 309.2 L821.2 299.9 L822.4 290.1 L823.7 279.8 L824.9 269.5 L826.1 259.5 L827.3 250.3 L828.6 242.6 L829.8 237.0 L831.0 234.0 L832.3 234.1 L833.5 237.5 L834.7 243.9 L835.9 253.0 L837.2 264.1 L838.4 276.6 L839.6 289.9 L840.8 303.3 L842.1 316.4 L843.3 328.9 L844.5 340.4 L845.8 350.8 L847.0 360.0 L848.2 368.0 L849.4 374.7 L850.7 380.3 L851.9 384.9 L853.1 388.7 L854.4 391.6 L855.6 394.0 L856.8 395.9 L858.0 397.3 L859.3 398.5 L860.5 399.4 L861.7 400.1 L863.0 400.8 L864.2 401.3 L865.4 401.7 L866.6 402.1 L867.9 402.4 L869.1 402.8 L870.3 403.0 L871.6 403.3 L872.8 403.5 L874.0 403.8 L875.2 404.0 L876.5 404.2 L877.7 404.4 L878.9 404.6 L880.2 404.7 L881.4 404.9 L882.6 405.1 L883.8 405.2 L885.1 405.4 L886.3 405.5 L887.5 405.6 L888.7 405.8 L890.0 405.9 L891.2 406.0 L892.4 406.1 L893.7 406.3 L894.9 406.4 L896.1 406.5 L897.3 406.6 L898.6 406.7 L899.8 406.8 L901.0 406.9 L902.3 407.0 L903.5 407.1 L904.7 407.2 L905.9 407.3 L907.2 407.4 L908.4 407.5" fill="none" stroke="#555" stroke-width="1"/>
<line x1="590.3" y1="158.5" x2="590.3" y2="416.0" stroke="#111" stroke-width="1.3"/>
<line x1="908.4" y1="158.5" x2="908.4" y2="416.0" stroke="#111" stroke-width="1.3"/>
<line x1="589.7" y1="416.0" x2="909.0" y2="416.0" stroke="#111" stroke-width="1.5"/>
<line x1="590.3" y1="416.0" x2="590.3" y2="412.0" stroke="#111" stroke-width="1.2"/>
<text x="590.3" y="433.8" font-size="14.8" font-family="'Liberation Sans', sans-serif" fill="#111" font-weight="bold" text-anchor="middle">498</text>
<line x1="610.8" y1="416.0" x2="610.8" y2="413.8" stroke="#111" stroke-width="1.2"/>
<line x1="631.3" y1="416.0" x2="631.3" y2="412.0" stroke="#111" stroke-width="1.2"/>
<text x="631.3" y="433.8" font-size="14.8" font-family="'Liberation Sans', sans-serif" fill="#111" font-weight="bold" text-anchor="middle">496</text>
<line x1="651.8" y1="416.0" x2="651.8" y2="413.8" stroke="#111" stroke-width="1.2"/>
<line x1="672.3" y1="416.0" x2="672.3" y2="412.0" stroke="#111" stroke-width="1.2"/>
<text x="672.3" y="433.8" font-size="14.8" font-family="'Liberation Sans', sans-serif" fill="#111" font-weight="bold" text-anchor="middle">494</text>
<line x1="692.8" y1="416.0" x2="692.8" y2="413.8" stroke="#111" stroke-width="1.2"/>
<line x1="713.3" y1="416.0" x2="713.3" y2="412.0" stroke="#111" stroke-width="1.2"/>
<text x="713.3" y="433.8" font-size="14.8" font-family="'Liberation Sans', sans-serif" fill="#111" font-weight="bold" text-anchor="middle">492</text>
<line x1="733.8" y1="416.0" x2="733.8" y2="413.8" stroke="#111" stroke-width="1.2"/>
<line x1="754.3" y1="416.0" x2="754.3" y2="412.0" stroke="#111" stroke-width="1.2"/>
<text x="754.3" y="433.8" font-size="14.8" font-family="'Liberation Sans', sans-serif" fill="#111" font-weight="bold" text-anchor="middle">490</text>
<line x1="774.8" y1="416.0" x2="774.8" y2="413.8" stroke="#111" stroke-width="1.2"/>
<line x1="795.3" y1="416.0" x2="795.3" y2="412.0" stroke="#111" stroke-width="1.2"/>
<text x="795.3" y="433.8" font-size="14.8" font-family="'Liberation Sans', sans-serif" fill="#111" font-weight="bold" text-anchor="middle">488</text>
<line x1="815.8" y1="416.0" x2="815.8" y2="413.8" stroke="#111" stroke-width="1.2"/>
<line x1="836.3" y1="416.0" x2="836.3" y2="412.0" stroke="#111" stroke-width="1.2"/>
<text x="836.3" y="433.8" font-size="14.8" font-family="'Liberation Sans', sans-serif" fill="#111" font-weight="bold" text-anchor="middle">486</text>
<line x1="856.8" y1="416.0" x2="856.8" y2="413.8" stroke="#111" stroke-width="1.2"/>
<line x1="877.3" y1="416.0" x2="877.3" y2="412.0" stroke="#111" stroke-width="1.2"/>
<text x="877.3" y="433.8" font-size="14.8" font-family="'Liberation Sans', sans-serif" fill="#111" font-weight="bold" text-anchor="middle">484</text>
<line x1="897.8" y1="416.0" x2="897.8" y2="413.8" stroke="#111" stroke-width="1.2"/>
<text x="749.0" y="454.0" font-size="15.6" font-family="'Liberation Sans', sans-serif" fill="#111" font-weight="bold" text-anchor="middle">Binding Energy (eV)</text>
<text x="577.2" y="288.0" font-size="15.3" font-family="'Liberation Sans', sans-serif" fill="#111" font-weight="bold" text-anchor="middle" transform="rotate(-90 577.2 288.0)">Intensity (a.u.)</text>
<line x1="598.0" y1="170.8" x2="622.5" y2="170.8" stroke="#6a6a6a" stroke-width="2"/>
<circle cx="610.2" cy="170.8" r="2" fill="#fff" stroke="#6a6a6a" stroke-width="1"/>
<text x="629.3" y="174.8" font-size="10.9" font-family="'Liberation Sans', sans-serif" fill="#111">Raw Intensity</text>
<line x1="598.0" y1="185.9" x2="622.5" y2="185.9" stroke="#6a6a6a" stroke-width="1.4"/>
<text x="629.3" y="189.9" font-size="10.9" font-family="'Liberation Sans', sans-serif" fill="#111">Peak Sum</text>
<line x1="598.0" y1="200.7" x2="622.5" y2="200.7" stroke="#333" stroke-width="1"/>
<text x="629.3" y="204.7" font-size="10.9" font-family="'Liberation Sans', sans-serif" fill="#111">Background</text>
<rect x="598.3" y="213.6" width="24.4" height="10.8" fill="url(#lg10)" stroke="#444" stroke-width="0.8"/>
<text x="629.3" y="223.4" font-size="10.9" font-family="'Liberation Sans', sans-serif" fill="#111">Sn<tspan dy="-4.5" font-size="11">2+</tspan><tspan dy="4.5" dx="12">81.01%</tspan></text>
<rect x="598.3" y="231.5" width="24.4" height="10.8" fill="url(#lg11)" stroke="#444" stroke-width="0.8"/>
<text x="629.3" y="241.3" font-size="10.9" font-family="'Liberation Sans', sans-serif" fill="#111">Sn<tspan dy="-4.5" font-size="11">4+</tspan><tspan dy="4.5" dx="12">18.99%</tspan></text>
<text x="856.7" y="178.0" font-size="10.9" font-family="'Liberation Sans', sans-serif" fill="#111">Control</text>
<text x="549.6" y="164.0" font-size="25" font-family="'Liberation Sans', sans-serif" fill="#111">(c)</text>
<line x1="590.3" y1="478.7" x2="908.4" y2="478.7" stroke="#d9d9d9" stroke-width="1.2"/>
<path d="M590.3 712.5 L591.5 712.6 L592.8 712.6 L594.0 712.7 L595.2 712.7 L596.4 712.8 L597.7 712.9 L598.9 712.9 L600.1 713.0 L601.4 713.1 L602.6 713.1 L603.8 713.2 L605.0 713.2 L606.3 713.3 L607.5 713.4 L608.7 713.4 L610.0 713.5 L611.2 713.6 L612.4 713.6 L613.6 713.7 L614.9 713.7 L616.1 713.8 L617.3 713.9 L618.5 713.9 L619.8 714.0 L621.0 714.0 L622.2 714.1 L623.5 714.2 L624.7 714.2 L625.9 714.3 L627.1 714.3 L628.4 714.4 L629.6 714.5 L630.8 714.5 L632.1 714.5 L633.3 714.5 L634.5 714.4 L635.7 714.1 L637.0 713.6 L638.2 712.8 L639.4 711.4 L640.7 709.1 L641.9 705.8 L643.1 701.0 L644.3 694.4 L645.6 685.8 L646.8 675.0 L648.0 662.3 L649.3 648.0 L650.5 632.9 L651.7 618.0 L652.9 604.6 L654.2 593.7 L655.4 586.5 L656.6 583.9 L657.9 585.1 L659.1 589.2 L660.3 595.8 L661.5 604.2 L662.8 614.0 L664.0 624.6 L665.2 635.4 L666.4 646.0 L667.7 656.1 L668.9 665.4 L670.1 673.9 L671.4 681.3 L672.6 687.7 L673.8 693.1 L675.0 697.6 L676.3 701.2 L677.5 704.2 L678.7 706.5 L680.0 708.3 L681.2 709.7 L682.4 710.8 L683.6 711.7 L684.9 712.4 L686.1 713.0 L687.3 713.5 L688.6 713.9 L689.8 714.2 L691.0 714.5 L692.2 714.8 L693.5 715.0 L694.7 715.2 L695.9 715.4 L697.2 715.6 L698.4 715.8 L699.6 716.0 L700.8 716.2 L702.1 716.3 L703.3 716.5 L704.5 716.6 L705.7 716.8 L707.0 716.9 L708.2 717.0 L709.4 717.1 L710.7 717.3 L711.9 717.4 L713.1 717.5 L714.3 717.6 L715.6 717.7 L716.8 717.8 L718.0 717.9 L719.3 718.0 L720.5 718.1 L721.7 718.2 L722.9 718.3 L724.2 718.4 L725.4 718.5 L726.6 718.6 L727.9 718.7 L729.1 718.8 L730.3 718.8 L731.5 718.9 L732.8 719.0 L734.0 719.1 L735.2 719.2 L736.5 719.3 L737.7 719.3 L738.9 719.4 L740.1 719.5 L741.4 719.6 L742.6 719.6 L743.8 719.7 L745.1 719.8 L746.3 719.9 L747.5 719.9 L748.7 720.0 L750.0 720.1 L751.2 720.2 L752.4 720.2 L753.6 720.3 L754.9 720.4 L756.1 720.5 L757.3 720.5 L758.6 720.6 L759.8 720.7 L761.0 720.7 L762.2 720.8 L763.5 720.9 L764.7 720.9 L765.9 721.0 L767.2 721.1 L768.4 721.1 L769.6 721.2 L770.8 721.3 L772.1 721.4 L773.3 721.4 L774.5 721.5 L775.8 721.6 L777.0 721.6 L778.2 721.7 L779.4 721.8 L780.7 721.8 L781.9 721.9 L783.1 722.0 L784.4 722.0 L785.6 722.1 L786.8 722.2 L788.0 722.2 L789.3 722.3 L790.5 722.4 L791.7 722.4 L793.0 722.5 L794.2 722.6 L795.4 722.6 L796.6 722.7 L797.9 722.7 L799.1 722.8 L800.3 722.9 L801.5 722.9 L802.8 723.0 L804.0 723.0 L805.2 722.9 L806.5 722.8 L807.7 722.5 L808.9 721.9 L810.1 720.9 L811.4 719.2 L812.6 716.4 L813.8 712.2 L815.1 706.1 L816.3 697.6 L817.5 686.3 L818.7 672.0 L820.0 654.7 L821.2 634.8 L822.4 613.4 L823.7 591.6 L824.9 571.2 L826.1 553.9 L827.3 541.4 L828.6 535.1 L829.8 535.1 L831.0 539.5 L832.3 547.6 L833.5 558.8 L834.7 572.3 L835.9 587.1 L837.2 602.6 L838.4 618.0 L839.6 632.8 L840.8 646.7 L842.1 659.3 L843.3 670.6 L844.5 680.3 L845.8 688.6 L847.0 695.5 L848.2 701.1 L849.4 705.7 L850.7 709.3 L851.9 712.1 L853.1 714.4 L854.4 716.1 L855.6 717.5 L856.8 718.5 L858.0 719.4 L859.3 720.1 L860.5 720.7 L861.7 721.2 L863.0 721.6 L864.2 722.0 L865.4 722.3 L866.6 722.6 L867.9 722.9 L869.1 723.2 L870.3 723.4 L871.6 723.6 L872.8 723.8 L874.0 724.1 L875.2 724.2 L876.5 724.4 L877.7 724.6 L878.9 724.8 L880.2 724.9 L881.4 725.1 L882.6 725.2 L883.8 725.4 L885.1 725.5 L886.3 725.7 L887.5 725.8 L888.7 725.9 L890.0 726.0 L891.2 726.2 L892.4 726.3 L893.7 726.4 L894.9 726.5 L896.1 726.6 L897.3 726.7 L898.6 726.8 L899.8 726.9 L901.0 727.0 L902.3 727.1 L903.5 727.2 L904.7 727.3 L905.9 727.4 L907.2 727.5 L908.4 727.6 L908.4 728.5 L907.2 728.4 L905.9 728.4 L904.7 728.3 L903.5 728.3 L902.3 728.2 L901.0 728.1 L899.8 728.1 L898.6 728.0 L897.3 727.9 L896.1 727.9 L894.9 727.8 L893.7 727.8 L892.4 727.7 L891.2 727.6 L890.0 727.6 L888.7 727.5 L887.5 727.4 L886.3 727.4 L885.1 727.3 L883.8 727.3 L882.6 727.2 L881.4 727.1 L880.2 727.1 L878.9 727.0 L877.7 727.0 L876.5 726.9 L875.2 726.8 L874.0 726.8 L872.8 726.7 L871.6 726.6 L870.3 726.6 L869.1 726.5 L867.9 726.5 L866.6 726.4 L865.4 726.3 L864.2 726.3 L863.0 726.2 L861.7 726.2 L860.5 726.1 L859.3 726.0 L858.0 726.0 L856.8 725.9 L855.6 725.8 L854.4 725.8 L853.1 725.7 L851.9 725.7 L850.7 725.6 L849.4 725.5 L848.2 725.5 L847.0 725.4 L845.8 725.3 L844.5 725.3 L843.3 725.2 L842.1 725.2 L840.8 725.1 L839.6 725.0 L838.4 725.0 L837.2 724.9 L835.9 724.9 L834.7 724.8 L833.5 724.7 L832.3 724.7 L831.0 724.6 L829.8 724.5 L828.6 724.5 L827.3 724.4 L826.1 724.4 L824.9 724.3 L823.7 724.2 L822.4 724.2 L821.2 724.1 L820.0 724.1 L818.7 724.0 L817.5 723.9 L816.3 723.9 L815.1 723.8 L813.8 723.7 L812.6 723.7 L811.4 723.6 L810.1 723.6 L808.9 723.5 L807.7 723.4 L806.5 723.4 L805.2 723.3 L804.0 723.2 L802.8 723.2 L801.5 723.1 L800.3 723.1 L799.1 723.0 L797.9 722.9 L796.6 722.9 L795.4 722.8 L794.2 722.8 L793.0 722.7 L791.7 722.6 L790.5 722.6 L789.3 722.5 L788.0 722.4 L786.8 722.4 L785.6 722.3 L784.4 722.3 L783.1 722.2 L781.9 722.1 L780.7 722.1 L779.4 722.0 L778.2 722.0 L777.0 721.9 L775.8 721.8 L774.5 721.8 L773.3 721.7 L772.1 721.6 L770.8 721.6 L769.6 721.5 L768.4 721.5 L767.2 721.4 L765.9 721.3 L764.7 721.3 L763.5 721.2 L762.2 721.1 L761.0 721.1 L759.8 721.0 L758.6 721.0 L757.3 720.9 L756.1 720.8 L754.9 720.8 L753.6 720.7 L752.4 720.7 L751.2 720.6 L750.0 720.5 L748.7 720.5 L747.5 720.4 L746.3 720.3 L745.1 720.3 L743.8 720.2 L742.6 720.2 L741.4 720.1 L740.1 720.0 L738.9 720.0 L737.7 719.9 L736.5 719.9 L735.2 719.8 L734.0 719.7 L732.8 719.7 L731.5 719.6 L730.3 719.5 L729.1 719.5 L727.9 719.4 L726.6 719.4 L725.4 719.3 L724.2 719.2 L722.9 719.2 L721.7 719.1 L720.5 719.0 L719.3 719.0 L718.0 718.9 L716.8 718.9 L715.6 718.8 L714.3 718.7 L713.1 718.7 L711.9 718.6 L710.7 718.6 L709.4 718.5 L708.2 718.4 L707.0 718.4 L705.7 718.3 L704.5 718.2 L703.3 718.2 L702.1 718.1 L700.8 718.1 L699.6 718.0 L698.4 717.9 L697.2 717.9 L695.9 717.8 L694.7 717.8 L693.5 717.7 L692.2 717.6 L691.0 717.6 L689.8 717.5 L688.6 717.4 L687.3 717.4 L686.1 717.3 L684.9 717.3 L683.6 717.2 L682.4 717.1 L681.2 717.1 L680.0 717.0 L678.7 716.9 L677.5 716.9 L676.3 716.8 L675.0 716.8 L673.8 716.7 L672.6 716.6 L671.4 716.6 L670.1 716.5 L668.9 716.5 L667.7 716.4 L666.4 716.3 L665.2 716.3 L664.0 716.2 L662.8 716.1 L661.5 716.1 L660.3 716.0 L659.1 716.0 L657.9 715.9 L656.6 715.8 L655.4 715.8 L654.2 715.7 L652.9 715.7 L651.7 715.6 L650.5 715.5 L649.3 715.5 L648.0 715.4 L646.8 715.3 L645.6 715.3 L644.3 715.2 L643.1 715.2 L641.9 715.1 L640.7 715.0 L639.4 715.0 L638.2 714.9 L637.0 714.8 L635.7 714.8 L634.5 714.7 L633.3 714.7 L632.1 714.6 L630.8 714.5 L629.6 714.5 L628.4 714.4 L627.1 714.4 L625.9 714.3 L624.7 714.2 L623.5 714.2 L622.2 714.1 L621.0 714.0 L619.8 714.0 L618.5 713.9 L617.3 713.9 L616.1 713.8 L614.9 713.7 L613.6 713.7 L612.4 713.6 L611.2 713.6 L610.0 713.5 L608.7 713.4 L607.5 713.4 L606.3 713.3 L605.0 713.2 L603.8 713.2 L602.6 713.1 L601.4 713.1 L600.1 713.0 L598.9 712.9 L597.7 712.9 L596.4 712.8 L595.2 712.7 L594.0 712.7 L592.8 712.6 L591.5 712.6 L590.3 712.5 Z" fill="url(#xb2)"/>
<path d="M590.3 712.1 L591.5 712.2 L592.8 712.2 L594.0 712.3 L595.2 712.3 L596.4 712.3 L597.7 712.4 L598.9 712.4 L600.1 712.4 L601.4 712.5 L602.6 712.5 L603.8 712.5 L605.0 712.5 L606.3 712.5 L607.5 712.5 L608.7 712.5 L610.0 712.5 L611.2 712.4 L612.4 712.3 L613.6 712.2 L614.9 712.0 L616.1 711.7 L617.3 711.4 L618.5 710.9 L619.8 710.3 L621.0 709.6 L622.2 708.7 L623.5 707.6 L624.7 706.4 L625.9 704.9 L627.1 703.3 L628.4 701.5 L629.6 699.5 L630.8 697.5 L632.1 695.5 L633.3 693.5 L634.5 691.7 L635.7 690.2 L637.0 688.9 L638.2 688.2 L639.4 687.9 L640.7 688.2 L641.9 689.1 L643.1 690.3 L644.3 692.0 L645.6 693.9 L646.8 696.0 L648.0 698.1 L649.3 700.3 L650.5 702.3 L651.7 704.3 L652.9 706.1 L654.2 707.7 L655.4 709.1 L656.6 710.3 L657.9 711.3 L659.1 712.2 L660.3 712.9 L661.5 713.5 L662.8 714.0 L664.0 714.4 L665.2 714.7 L666.4 715.0 L667.7 715.2 L668.9 715.4 L670.1 715.6 L671.4 715.7 L672.6 715.8 L673.8 716.0 L675.0 716.1 L676.3 716.2 L677.5 716.3 L678.7 716.4 L680.0 716.5 L681.2 716.5 L682.4 716.6 L683.6 716.7 L684.9 716.8 L686.1 716.9 L687.3 717.0 L688.6 717.0 L689.8 717.1 L691.0 717.2 L692.2 717.3 L693.5 717.3 L694.7 717.4 L695.9 717.5 L697.2 717.5 L698.4 717.6 L699.6 717.7 L700.8 717.8 L702.1 717.8 L703.3 717.9 L704.5 718.0 L705.7 718.0 L707.0 718.1 L708.2 718.2 L709.4 718.2 L710.7 718.3 L711.9 718.4 L713.1 718.4 L714.3 718.5 L715.6 718.6 L716.8 718.6 L718.0 718.7 L719.3 718.7 L720.5 718.8 L721.7 718.9 L722.9 718.9 L724.2 719.0 L725.4 719.1 L726.6 719.1 L727.9 719.2 L729.1 719.2 L730.3 719.3 L731.5 719.4 L732.8 719.4 L734.0 719.5 L735.2 719.5 L736.5 719.6 L737.7 719.7 L738.9 719.7 L740.1 719.8 L741.4 719.8 L742.6 719.9 L743.8 719.9 L745.1 720.0 L746.3 720.1 L747.5 720.1 L748.7 720.2 L750.0 720.2 L751.2 720.3 L752.4 720.3 L753.6 720.4 L754.9 720.4 L756.1 720.5 L757.3 720.5 L758.6 720.6 L759.8 720.6 L761.0 720.7 L762.2 720.7 L763.5 720.8 L764.7 720.8 L765.9 720.9 L767.2 720.9 L768.4 720.9 L769.6 721.0 L770.8 721.0 L772.1 721.0 L773.3 721.1 L774.5 721.1 L775.8 721.1 L777.0 721.1 L778.2 721.1 L779.4 721.1 L780.7 721.1 L781.9 721.1 L783.1 721.0 L784.4 720.9 L785.6 720.8 L786.8 720.7 L788.0 720.4 L789.3 720.1 L790.5 719.6 L791.7 719.1 L793.0 718.3 L794.2 717.4 L795.4 716.2 L796.6 714.9 L797.9 713.2 L799.1 711.3 L800.3 709.2 L801.5 706.9 L802.8 704.4 L804.0 701.9 L805.2 699.4 L806.5 697.0 L807.7 694.9 L808.9 693.2 L810.1 692.1 L811.4 691.6 L812.6 691.8 L813.8 692.8 L815.1 694.3 L816.3 696.3 L817.5 698.7 L818.7 701.3 L820.0 703.9 L821.2 706.6 L822.4 709.1 L823.7 711.4 L824.9 713.6 L826.1 715.5 L827.3 717.1 L828.6 718.5 L829.8 719.7 L831.0 720.7 L832.3 721.4 L833.5 722.1 L834.7 722.6 L835.9 723.0 L837.2 723.3 L838.4 723.6 L839.6 723.8 L840.8 724.0 L842.1 724.2 L843.3 724.3 L844.5 724.5 L845.8 724.6 L847.0 724.7 L848.2 724.8 L849.4 724.9 L850.7 725.0 L851.9 725.1 L853.1 725.2 L854.4 725.3 L855.6 725.4 L856.8 725.4 L858.0 725.5 L859.3 725.6 L860.5 725.7 L861.7 725.8 L863.0 725.9 L864.2 725.9 L865.4 726.0 L866.6 726.1 L867.9 726.2 L869.1 726.2 L870.3 726.3 L871.6 726.4 L872.8 726.4 L874.0 726.5 L875.2 726.6 L876.5 726.7 L877.7 726.7 L878.9 726.8 L880.2 726.9 L881.4 726.9 L882.6 727.0 L883.8 727.1 L885.1 727.1 L886.3 727.2 L887.5 727.3 L888.7 727.3 L890.0 727.4 L891.2 727.5 L892.4 727.5 L893.7 727.6 L894.9 727.7 L896.1 727.7 L897.3 727.8 L898.6 727.9 L899.8 727.9 L901.0 728.0 L902.3 728.1 L903.5 728.1 L904.7 728.2 L905.9 728.3 L907.2 728.3 L908.4 728.4 L908.4 728.5 L907.2 728.4 L905.9 728.4 L904.7 728.3 L903.5 728.3 L902.3 728.2 L901.0 728.1 L899.8 728.1 L898.6 728.0 L897.3 727.9 L896.1 727.9 L894.9 727.8 L893.7 727.8 L892.4 727.7 L891.2 727.6 L890.0 727.6 L888.7 727.5 L887.5 727.4 L886.3 727.4 L885.1 727.3 L883.8 727.3 L882.6 727.2 L881.4 727.1 L880.2 727.1 L878.9 727.0 L877.7 727.0 L876.5 726.9 L875.2 726.8 L874.0 726.8 L872.8 726.7 L871.6 726.6 L870.3 726.6 L869.1 726.5 L867.9 726.5 L866.6 726.4 L865.4 726.3 L864.2 726.3 L863.0 726.2 L861.7 726.2 L860.5 726.1 L859.3 726.0 L858.0 726.0 L856.8 725.9 L855.6 725.8 L854.4 725.8 L853.1 725.7 L851.9 725.7 L850.7 725.6 L849.4 725.5 L848.2 725.5 L847.0 725.4 L845.8 725.3 L844.5 725.3 L843.3 725.2 L842.1 725.2 L840.8 725.1 L839.6 725.0 L838.4 725.0 L837.2 724.9 L835.9 724.9 L834.7 724.8 L833.5 724.7 L832.3 724.7 L831.0 724.6 L829.8 724.5 L828.6 724.5 L827.3 724.4 L826.1 724.4 L824.9 724.3 L823.7 724.2 L822.4 724.2 L821.2 724.1 L820.0 724.1 L818.7 724.0 L817.5 723.9 L816.3 723.9 L815.1 723.8 L813.8 723.7 L812.6 723.7 L811.4 723.6 L810.1 723.6 L808.9 723.5 L807.7 723.4 L806.5 723.4 L805.2 723.3 L804.0 723.2 L802.8 723.2 L801.5 723.1 L800.3 723.1 L799.1 723.0 L797.9 722.9 L796.6 722.9 L795.4 722.8 L794.2 722.8 L793.0 722.7 L791.7 722.6 L790.5 722.6 L789.3 722.5 L788.0 722.4 L786.8 722.4 L785.6 722.3 L784.4 722.3 L783.1 722.2 L781.9 722.1 L780.7 722.1 L779.4 722.0 L778.2 722.0 L777.0 721.9 L775.8 721.8 L774.5 721.8 L773.3 721.7 L772.1 721.6 L770.8 721.6 L769.6 721.5 L768.4 721.5 L767.2 721.4 L765.9 721.3 L764.7 721.3 L763.5 721.2 L762.2 721.1 L761.0 721.1 L759.8 721.0 L758.6 721.0 L757.3 720.9 L756.1 720.8 L754.9 720.8 L753.6 720.7 L752.4 720.7 L751.2 720.6 L750.0 720.5 L748.7 720.5 L747.5 720.4 L746.3 720.3 L745.1 720.3 L743.8 720.2 L742.6 720.2 L741.4 720.1 L740.1 720.0 L738.9 720.0 L737.7 719.9 L736.5 719.9 L735.2 719.8 L734.0 719.7 L732.8 719.7 L731.5 719.6 L730.3 719.5 L729.1 719.5 L727.9 719.4 L726.6 719.4 L725.4 719.3 L724.2 719.2 L722.9 719.2 L721.7 719.1 L720.5 719.0 L719.3 719.0 L718.0 718.9 L716.8 718.9 L715.6 718.8 L714.3 718.7 L713.1 718.7 L711.9 718.6 L710.7 718.6 L709.4 718.5 L708.2 718.4 L707.0 718.4 L705.7 718.3 L704.5 718.2 L703.3 718.2 L702.1 718.1 L700.8 718.1 L699.6 718.0 L698.4 717.9 L697.2 717.9 L695.9 717.8 L694.7 717.8 L693.5 717.7 L692.2 717.6 L691.0 717.6 L689.8 717.5 L688.6 717.4 L687.3 717.4 L686.1 717.3 L684.9 717.3 L683.6 717.2 L682.4 717.1 L681.2 717.1 L680.0 717.0 L678.7 716.9 L677.5 716.9 L676.3 716.8 L675.0 716.8 L673.8 716.7 L672.6 716.6 L671.4 716.6 L670.1 716.5 L668.9 716.5 L667.7 716.4 L666.4 716.3 L665.2 716.3 L664.0 716.2 L662.8 716.1 L661.5 716.1 L660.3 716.0 L659.1 716.0 L657.9 715.9 L656.6 715.8 L655.4 715.8 L654.2 715.7 L652.9 715.7 L651.7 715.6 L650.5 715.5 L649.3 715.5 L648.0 715.4 L646.8 715.3 L645.6 715.3 L644.3 715.2 L643.1 715.2 L641.9 715.1 L640.7 715.0 L639.4 715.0 L638.2 714.9 L637.0 714.8 L635.7 714.8 L634.5 714.7 L633.3 714.7 L632.1 714.6 L630.8 714.5 L629.6 714.5 L628.4 714.4 L627.1 714.4 L625.9 714.3 L624.7 714.2 L623.5 714.2 L622.2 714.1 L621.0 714.0 L619.8 714.0 L618.5 713.9 L617.3 713.9 L616.1 713.8 L614.9 713.7 L613.6 713.7 L612.4 713.6 L611.2 713.6 L610.0 713.5 L608.7 713.4 L607.5 713.4 L606.3 713.3 L605.0 713.2 L603.8 713.2 L602.6 713.1 L601.4 713.1 L600.1 713.0 L598.9 712.9 L597.7 712.9 L596.4 712.8 L595.2 712.7 L594.0 712.7 L592.8 712.6 L591.5 712.6 L590.3 712.5 Z" fill="url(#xr2)"/>
<path d="M590.3 712.5 L591.5 712.6 L592.8 712.6 L594.0 712.7 L595.2 712.7 L596.4 712.8 L597.7 712.9 L598.9 712.9 L600.1 713.0 L601.4 713.1 L602.6 713.1 L603.8 713.2 L605.0 713.2 L606.3 713.3 L607.5 713.4 L608.7 713.4 L610.0 713.5 L611.2 713.6 L612.4 713.6 L613.6 713.7 L614.9 713.7 L616.1 713.8 L617.3 713.9 L618.5 713.9 L619.8 714.0 L621.0 714.0 L622.2 714.1 L623.5 714.2 L624.7 714.2 L625.9 714.3 L627.1 714.3 L628.4 714.4 L629.6 714.5 L630.8 714.5 L632.1 714.5 L633.3 714.5 L634.5 714.4 L635.7 714.1 L637.0 713.6 L638.2 712.8 L639.4 711.4 L640.7 709.1 L641.9 705.8 L643.1 701.0 L644.3 694.4 L645.6 685.8 L646.8 675.0 L648.0 662.3 L649.3 648.0 L650.5 632.9 L651.7 618.0 L652.9 604.6 L654.2 593.7 L655.4 586.5 L656.6 583.9 L657.9 585.1 L659.1 589.2 L660.3 595.8 L661.5 604.2 L662.8 614.0 L664.0 624.6 L665.2 635.4 L666.4 646.0 L667.7 656.1 L668.9 665.4 L670.1 673.9 L671.4 681.3 L672.6 687.7 L673.8 693.1 L675.0 697.6 L676.3 701.2 L677.5 704.2 L678.7 706.5 L680.0 708.3 L681.2 709.7 L682.4 710.8 L683.6 711.7 L684.9 712.4 L686.1 713.0 L687.3 713.5 L688.6 713.9 L689.8 714.2 L691.0 714.5 L692.2 714.8 L693.5 715.0 L694.7 715.2 L695.9 715.4 L697.2 715.6 L698.4 715.8 L699.6 716.0 L700.8 716.2 L702.1 716.3 L703.3 716.5 L704.5 716.6 L705.7 716.8 L707.0 716.9 L708.2 717.0 L709.4 717.1 L710.7 717.3 L711.9 717.4 L713.1 717.5 L714.3 717.6 L715.6 717.7 L716.8 717.8 L718.0 717.9 L719.3 718.0 L720.5 718.1 L721.7 718.2 L722.9 718.3 L724.2 718.4 L725.4 718.5 L726.6 718.6 L727.9 718.7 L729.1 718.8 L730.3 718.8 L731.5 718.9 L732.8 719.0 L734.0 719.1 L735.2 719.2 L736.5 719.3 L737.7 719.3 L738.9 719.4 L740.1 719.5 L741.4 719.6 L742.6 719.6 L743.8 719.7 L745.1 719.8 L746.3 719.9 L747.5 719.9 L748.7 720.0 L750.0 720.1 L751.2 720.2 L752.4 720.2 L753.6 720.3 L754.9 720.4 L756.1 720.5 L757.3 720.5 L758.6 720.6 L759.8 720.7 L761.0 720.7 L762.2 720.8 L763.5 720.9 L764.7 720.9 L765.9 721.0 L767.2 721.1 L768.4 721.1 L769.6 721.2 L770.8 721.3 L772.1 721.4 L773.3 721.4 L774.5 721.5 L775.8 721.6 L777.0 721.6 L778.2 721.7 L779.4 721.8 L780.7 721.8 L781.9 721.9 L783.1 722.0 L784.4 722.0 L785.6 722.1 L786.8 722.2 L788.0 722.2 L789.3 722.3 L790.5 722.4 L791.7 722.4 L793.0 722.5 L794.2 722.6 L795.4 722.6 L796.6 722.7 L797.9 722.7 L799.1 722.8 L800.3 722.9 L801.5 722.9 L802.8 723.0 L804.0 723.0 L805.2 722.9 L806.5 722.8 L807.7 722.5 L808.9 721.9 L810.1 720.9 L811.4 719.2 L812.6 716.4 L813.8 712.2 L815.1 706.1 L816.3 697.6 L817.5 686.3 L818.7 672.0 L820.0 654.7 L821.2 634.8 L822.4 613.4 L823.7 591.6 L824.9 571.2 L826.1 553.9 L827.3 541.4 L828.6 535.1 L829.8 535.1 L831.0 539.5 L832.3 547.6 L833.5 558.8 L834.7 572.3 L835.9 587.1 L837.2 602.6 L838.4 618.0 L839.6 632.8 L840.8 646.7 L842.1 659.3 L843.3 670.6 L844.5 680.3 L845.8 688.6 L847.0 695.5 L848.2 701.1 L849.4 705.7 L850.7 709.3 L851.9 712.1 L853.1 714.4 L854.4 716.1 L855.6 717.5 L856.8 718.5 L858.0 719.4 L859.3 720.1 L860.5 720.7 L861.7 721.2 L863.0 721.6 L864.2 722.0 L865.4 722.3 L866.6 722.6 L867.9 722.9 L869.1 723.2 L870.3 723.4 L871.6 723.6 L872.8 723.8 L874.0 724.1 L875.2 724.2 L876.5 724.4 L877.7 724.6 L878.9 724.8 L880.2 724.9 L881.4 725.1 L882.6 725.2 L883.8 725.4 L885.1 725.5 L886.3 725.7 L887.5 725.8 L888.7 725.9 L890.0 726.0 L891.2 726.2 L892.4 726.3 L893.7 726.4 L894.9 726.5 L896.1 726.6 L897.3 726.7 L898.6 726.8 L899.8 726.9 L901.0 727.0 L902.3 727.1 L903.5 727.2 L904.7 727.3 L905.9 727.4 L907.2 727.5 L908.4 727.6" fill="none" stroke="#3d5fe0" stroke-width="1.2"/>
<path d="M590.3 712.1 L591.5 712.2 L592.8 712.2 L594.0 712.3 L595.2 712.3 L596.4 712.3 L597.7 712.4 L598.9 712.4 L600.1 712.4 L601.4 712.5 L602.6 712.5 L603.8 712.5 L605.0 712.5 L606.3 712.5 L607.5 712.5 L608.7 712.5 L610.0 712.5 L611.2 712.4 L612.4 712.3 L613.6 712.2 L614.9 712.0 L616.1 711.7 L617.3 711.4 L618.5 710.9 L619.8 710.3 L621.0 709.6 L622.2 708.7 L623.5 707.6 L624.7 706.4 L625.9 704.9 L627.1 703.3 L628.4 701.5 L629.6 699.5 L630.8 697.5 L632.1 695.5 L633.3 693.5 L634.5 691.7 L635.7 690.2 L637.0 688.9 L638.2 688.2 L639.4 687.9 L640.7 688.2 L641.9 689.1 L643.1 690.3 L644.3 692.0 L645.6 693.9 L646.8 696.0 L648.0 698.1 L649.3 700.3 L650.5 702.3 L651.7 704.3 L652.9 706.1 L654.2 707.7 L655.4 709.1 L656.6 710.3 L657.9 711.3 L659.1 712.2 L660.3 712.9 L661.5 713.5 L662.8 714.0 L664.0 714.4 L665.2 714.7 L666.4 715.0 L667.7 715.2 L668.9 715.4 L670.1 715.6 L671.4 715.7 L672.6 715.8 L673.8 716.0 L675.0 716.1 L676.3 716.2 L677.5 716.3 L678.7 716.4 L680.0 716.5 L681.2 716.5 L682.4 716.6 L683.6 716.7 L684.9 716.8 L686.1 716.9 L687.3 717.0 L688.6 717.0 L689.8 717.1 L691.0 717.2 L692.2 717.3 L693.5 717.3 L694.7 717.4 L695.9 717.5 L697.2 717.5 L698.4 717.6 L699.6 717.7 L700.8 717.8 L702.1 717.8 L703.3 717.9 L704.5 718.0 L705.7 718.0 L707.0 718.1 L708.2 718.2 L709.4 718.2 L710.7 718.3 L711.9 718.4 L713.1 718.4 L714.3 718.5 L715.6 718.6 L716.8 718.6 L718.0 718.7 L719.3 718.7 L720.5 718.8 L721.7 718.9 L722.9 718.9 L724.2 719.0 L725.4 719.1 L726.6 719.1 L727.9 719.2 L729.1 719.2 L730.3 719.3 L731.5 719.4 L732.8 719.4 L734.0 719.5 L735.2 719.5 L736.5 719.6 L737.7 719.7 L738.9 719.7 L740.1 719.8 L741.4 719.8 L742.6 719.9 L743.8 719.9 L745.1 720.0 L746.3 720.1 L747.5 720.1 L748.7 720.2 L750.0 720.2 L751.2 720.3 L752.4 720.3 L753.6 720.4 L754.9 720.4 L756.1 720.5 L757.3 720.5 L758.6 720.6 L759.8 720.6 L761.0 720.7 L762.2 720.7 L763.5 720.8 L764.7 720.8 L765.9 720.9 L767.2 720.9 L768.4 720.9 L769.6 721.0 L770.8 721.0 L772.1 721.0 L773.3 721.1 L774.5 721.1 L775.8 721.1 L777.0 721.1 L778.2 721.1 L779.4 721.1 L780.7 721.1 L781.9 721.1 L783.1 721.0 L784.4 720.9 L785.6 720.8 L786.8 720.7 L788.0 720.4 L789.3 720.1 L790.5 719.6 L791.7 719.1 L793.0 718.3 L794.2 717.4 L795.4 716.2 L796.6 714.9 L797.9 713.2 L799.1 711.3 L800.3 709.2 L801.5 706.9 L802.8 704.4 L804.0 701.9 L805.2 699.4 L806.5 697.0 L807.7 694.9 L808.9 693.2 L810.1 692.1 L811.4 691.6 L812.6 691.8 L813.8 692.8 L815.1 694.3 L816.3 696.3 L817.5 698.7 L818.7 701.3 L820.0 703.9 L821.2 706.6 L822.4 709.1 L823.7 711.4 L824.9 713.6 L826.1 715.5 L827.3 717.1 L828.6 718.5 L829.8 719.7 L831.0 720.7 L832.3 721.4 L833.5 722.1 L834.7 722.6 L835.9 723.0 L837.2 723.3 L838.4 723.6 L839.6 723.8 L840.8 724.0 L842.1 724.2 L843.3 724.3 L844.5 724.5 L845.8 724.6 L847.0 724.7 L848.2 724.8 L849.4 724.9 L850.7 725.0 L851.9 725.1 L853.1 725.2 L854.4 725.3 L855.6 725.4 L856.8 725.4 L858.0 725.5 L859.3 725.6 L860.5 725.7 L861.7 725.8 L863.0 725.9 L864.2 725.9 L865.4 726.0 L866.6 726.1 L867.9 726.2 L869.1 726.2 L870.3 726.3 L871.6 726.4 L872.8 726.4 L874.0 726.5 L875.2 726.6 L876.5 726.7 L877.7 726.7 L878.9 726.8 L880.2 726.9 L881.4 726.9 L882.6 727.0 L883.8 727.1 L885.1 727.1 L886.3 727.2 L887.5 727.3 L888.7 727.3 L890.0 727.4 L891.2 727.5 L892.4 727.5 L893.7 727.6 L894.9 727.7 L896.1 727.7 L897.3 727.8 L898.6 727.9 L899.8 727.9 L901.0 728.0 L902.3 728.1 L903.5 728.1 L904.7 728.2 L905.9 728.3 L907.2 728.3 L908.4 728.4" fill="none" stroke="#ea4b4b" stroke-width="1.2"/>
<path d="M590.3 712.5 L591.5 712.6 L592.8 712.6 L594.0 712.7 L595.2 712.7 L596.4 712.8 L597.7 712.9 L598.9 712.9 L600.1 713.0 L601.4 713.1 L602.6 713.1 L603.8 713.2 L605.0 713.2 L606.3 713.3 L607.5 713.4 L608.7 713.4 L610.0 713.5 L611.2 713.6 L612.4 713.6 L613.6 713.7 L614.9 713.7 L616.1 713.8 L617.3 713.9 L618.5 713.9 L619.8 714.0 L621.0 714.0 L622.2 714.1 L623.5 714.2 L624.7 714.2 L625.9 714.3 L627.1 714.4 L628.4 714.4 L629.6 714.5 L630.8 714.5 L632.1 714.6 L633.3 714.7 L634.5 714.7 L635.7 714.8 L637.0 714.8 L638.2 714.9 L639.4 715.0 L640.7 715.0 L641.9 715.1 L643.1 715.2 L644.3 715.2 L645.6 715.3 L646.8 715.3 L648.0 715.4 L649.3 715.5 L650.5 715.5 L651.7 715.6 L652.9 715.7 L654.2 715.7 L655.4 715.8 L656.6 715.8 L657.9 715.9 L659.1 716.0 L660.3 716.0 L661.5 716.1 L662.8 716.1 L664.0 716.2 L665.2 716.3 L666.4 716.3 L667.7 716.4 L668.9 716.5 L670.1 716.5 L671.4 716.6 L672.6 716.6 L673.8 716.7 L675.0 716.8 L676.3 716.8 L677.5 716.9 L678.7 716.9 L680.0 717.0 L681.2 717.1 L682.4 717.1 L683.6 717.2 L684.9 717.3 L686.1 717.3 L687.3 717.4 L688.6 717.4 L689.8 717.5 L691.0 717.6 L692.2 717.6 L693.5 717.7 L694.7 717.8 L695.9 717.8 L697.2 717.9 L698.4 717.9 L699.6 718.0 L700.8 718.1 L702.1 718.1 L703.3 718.2 L704.5 718.2 L705.7 718.3 L707.0 718.4 L708.2 718.4 L709.4 718.5 L710.7 718.6 L711.9 718.6 L713.1 718.7 L714.3 718.7 L715.6 718.8 L716.8 718.9 L718.0 718.9 L719.3 719.0 L720.5 719.0 L721.7 719.1 L722.9 719.2 L724.2 719.2 L725.4 719.3 L726.6 719.4 L727.9 719.4 L729.1 719.5 L730.3 719.5 L731.5 719.6 L732.8 719.7 L734.0 719.7 L735.2 719.8 L736.5 719.9 L737.7 719.9 L738.9 720.0 L740.1 720.0 L741.4 720.1 L742.6 720.2 L743.8 720.2 L745.1 720.3 L746.3 720.3 L747.5 720.4 L748.7 720.5 L750.0 720.5 L751.2 720.6 L752.4 720.7 L753.6 720.7 L754.9 720.8 L756.1 720.8 L757.3 720.9 L758.6 721.0 L759.8 721.0 L761.0 721.1 L762.2 721.1 L763.5 721.2 L764.7 721.3 L765.9 721.3 L767.2 721.4 L768.4 721.5 L769.6 721.5 L770.8 721.6 L772.1 721.6 L773.3 721.7 L774.5 721.8 L775.8 721.8 L777.0 721.9 L778.2 722.0 L779.4 722.0 L780.7 722.1 L781.9 722.1 L783.1 722.2 L784.4 722.3 L785.6 722.3 L786.8 722.4 L788.0 722.4 L789.3 722.5 L790.5 722.6 L791.7 722.6 L793.0 722.7 L794.2 722.8 L795.4 722.8 L796.6 722.9 L797.9 722.9 L799.1 723.0 L800.3 723.1 L801.5 723.1 L802.8 723.2 L804.0 723.2 L805.2 723.3 L806.5 723.4 L807.7 723.4 L808.9 723.5 L810.1 723.6 L811.4 723.6 L812.6 723.7 L813.8 723.7 L815.1 723.8 L816.3 723.9 L817.5 723.9 L818.7 724.0 L820.0 724.1 L821.2 724.1 L822.4 724.2 L823.7 724.2 L824.9 724.3 L826.1 724.4 L827.3 724.4 L828.6 724.5 L829.8 724.5 L831.0 724.6 L832.3 724.7 L833.5 724.7 L834.7 724.8 L835.9 724.9 L837.2 724.9 L838.4 725.0 L839.6 725.0 L840.8 725.1 L842.1 725.2 L843.3 725.2 L844.5 725.3 L845.8 725.3 L847.0 725.4 L848.2 725.5 L849.4 725.5 L850.7 725.6 L851.9 725.7 L853.1 725.7 L854.4 725.8 L855.6 725.8 L856.8 725.9 L858.0 726.0 L859.3 726.0 L860.5 726.1 L861.7 726.2 L863.0 726.2 L864.2 726.3 L865.4 726.3 L866.6 726.4 L867.9 726.5 L869.1 726.5 L870.3 726.6 L871.6 726.6 L872.8 726.7 L874.0 726.8 L875.2 726.8 L876.5 726.9 L877.7 727.0 L878.9 727.0 L880.2 727.1 L881.4 727.1 L882.6 727.2 L883.8 727.3 L885.1 727.3 L886.3 727.4 L887.5 727.4 L888.7 727.5 L890.0 727.6 L891.2 727.6 L892.4 727.7 L893.7 727.8 L894.9 727.8 L896.1 727.9 L897.3 727.9 L898.6 728.0 L899.8 728.1 L901.0 728.1 L902.3 728.2 L903.5 728.3 L904.7 728.3 L905.9 728.4 L907.2 728.4 L908.4 728.5" fill="none" stroke="#e8505a" stroke-width="1.3"/>
<path d="M590.3 712.3 L591.5 712.3 L592.8 710.1 L594.0 710.2 L595.2 712.0 L596.4 711.8 L597.7 711.6 L598.9 710.7 L600.1 711.4 L601.4 711.4 L602.6 711.3 L603.8 710.3 L605.0 710.9 L606.3 710.7 L607.5 711.4 L608.7 712.0 L610.0 711.7 L611.2 710.6 L612.4 710.2 L613.6 709.5 L614.9 708.7 L616.1 708.3 L617.3 708.8 L618.5 707.9 L619.8 707.3 L621.0 707.6 L622.2 705.6 L623.5 704.4 L624.7 702.0 L625.9 699.8 L627.1 698.4 L628.4 695.7 L629.6 694.1 L630.8 692.4 L632.1 688.6 L633.3 684.2 L634.5 682.3 L635.7 678.4 L637.0 674.3 L638.2 670.5 L639.4 665.6 L640.7 660.8 L641.9 654.4 L643.1 650.0 L644.3 643.3 L645.6 634.2 L646.8 627.7 L648.0 619.3 L649.3 610.1 L650.5 601.8 L651.7 593.7 L652.9 587.9 L654.2 581.6 L655.4 579.4 L656.6 577.8 L657.9 581.3 L659.1 586.3 L660.3 592.4 L661.5 601.6 L662.8 612.7 L664.0 623.1 L665.2 633.6 L666.4 643.8 L667.7 654.3 L668.9 664.7 L670.1 671.9 L671.4 681.2 L672.6 686.1 L673.8 693.1 L675.0 696.2 L676.3 701.4 L677.5 703.8 L678.7 705.7 L680.0 707.5 L681.2 709.3 L682.4 710.3 L683.6 710.5 L684.9 711.0 L686.1 712.3 L687.3 713.8 L688.6 713.5 L689.8 712.5 L691.0 714.6 L692.2 714.6 L693.5 715.3 L694.7 713.8 L695.9 715.4 L697.2 713.9 L698.4 715.6 L699.6 714.8 L700.8 714.9 L702.1 716.6 L703.3 714.9 L704.5 716.0 L705.7 717.0 L707.0 715.6 L708.2 715.7 L709.4 717.4 L710.7 716.4 L711.9 717.2 L713.1 715.7 L714.3 716.6 L715.6 716.2 L716.8 717.5 L718.0 716.2 L719.3 718.4 L720.5 716.3 L721.7 718.0 L722.9 716.4 L724.2 717.1 L725.4 718.5 L726.6 717.0 L727.9 717.1 L729.1 718.4 L730.3 717.8 L731.5 717.0 L732.8 719.3 L734.0 717.4 L735.2 717.2 L736.5 718.0 L737.7 718.7 L738.9 719.1 L740.1 717.6 L741.4 718.2 L742.6 717.5 L743.8 718.6 L745.1 719.4 L746.3 719.4 L747.5 719.8 L748.7 719.5 L750.0 719.8 L751.2 719.4 L752.4 718.9 L753.6 718.3 L754.9 719.4 L756.1 718.6 L757.3 718.1 L758.6 719.0 L759.8 720.0 L761.0 718.3 L762.2 719.4 L763.5 718.9 L764.7 719.2 L765.9 718.3 L767.2 720.3 L768.4 718.6 L769.6 719.4 L770.8 718.9 L772.1 717.9 L773.3 719.2 L774.5 718.1 L775.8 717.9 L777.0 717.8 L778.2 718.0 L779.4 717.7 L780.7 718.9 L781.9 718.5 L783.1 719.4 L784.4 719.1 L785.6 719.0 L786.8 716.8 L788.0 716.9 L789.3 716.0 L790.5 716.1 L791.7 715.4 L793.0 714.9 L794.2 713.4 L795.4 710.9 L796.6 709.5 L797.9 707.7 L799.1 704.0 L800.3 701.4 L801.5 699.1 L802.8 694.9 L804.0 692.5 L805.2 687.2 L806.5 682.2 L807.7 677.5 L808.9 672.3 L810.1 666.5 L811.4 661.1 L812.6 654.2 L813.8 646.4 L815.1 639.0 L816.3 628.7 L817.5 620.0 L818.7 608.8 L820.0 596.0 L821.2 582.6 L822.4 569.9 L823.7 557.8 L824.9 545.5 L826.1 537.3 L827.3 531.5 L828.6 528.1 L829.8 529.2 L831.0 536.2 L832.3 544.1 L833.5 556.2 L834.7 571.1 L835.9 585.5 L837.2 600.5 L838.4 617.8 L839.6 631.3 L840.8 644.5 L842.1 658.8 L843.3 668.7 L844.5 679.0 L845.8 688.6 L847.0 695.2 L848.2 699.3 L849.4 704.9 L850.7 708.5 L851.9 711.5 L853.1 713.1 L854.4 715.8 L855.6 716.0 L856.8 717.6 L858.0 718.6 L859.3 720.7 L860.5 719.2 L861.7 721.4 L863.0 720.5 L864.2 721.8 L865.4 721.7 L866.6 722.2 L867.9 723.2 L869.1 722.6 L870.3 722.2 L871.6 722.4 L872.8 722.6 L874.0 724.6 L875.2 724.3 L876.5 725.3 L877.7 724.8 L878.9 723.4 L880.2 725.1 L881.4 725.6 L882.6 725.6 L883.8 725.2 L885.1 725.0 L886.3 725.4 L887.5 726.3 L888.7 725.2 L890.0 725.9 L891.2 725.9 L892.4 727.2 L893.7 727.0 L894.9 727.4 L896.1 727.3 L897.3 726.1 L898.6 726.0 L899.8 726.7 L901.0 726.3 L902.3 726.8 L903.5 727.5 L904.7 728.2 L905.9 727.5 L907.2 728.1 L908.4 726.5" fill="none" stroke="#7e7e7e" stroke-width="3.3" stroke-linejoin="round" stroke-linecap="round"/>
<circle cx="594.0" cy="710.2" r="0.95" fill="#f0f0f0"/>
<circle cx="597.7" cy="711.6" r="0.95" fill="#f0f0f0"/>
<circle cx="602.6" cy="711.3" r="0.95" fill="#f0f0f0"/>
<circle cx="606.3" cy="710.7" r="0.95" fill="#f0f0f0"/>
<circle cx="611.2" cy="710.6" r="0.95" fill="#f0f0f0"/>
<circle cx="614.9" cy="708.7" r="0.95" fill="#f0f0f0"/>
<circle cx="618.5" cy="707.9" r="0.95" fill="#f0f0f0"/>
<circle cx="622.2" cy="705.6" r="0.95" fill="#f0f0f0"/>
<circle cx="624.7" cy="702.0" r="0.95" fill="#f0f0f0"/>
<circle cx="627.1" cy="698.4" r="0.95" fill="#f0f0f0"/>
<circle cx="629.6" cy="694.1" r="0.95" fill="#f0f0f0"/>
<circle cx="632.1" cy="688.6" r="0.95" fill="#f0f0f0"/>
<circle cx="633.3" cy="684.2" r="0.95" fill="#f0f0f0"/>
<circle cx="635.7" cy="678.4" r="0.95" fill="#f0f0f0"/>
<circle cx="637.0" cy="674.3" r="0.95" fill="#f0f0f0"/>
<circle cx="639.4" cy="665.6" r="0.95" fill="#f0f0f0"/>
<circle cx="640.7" cy="660.8" r="0.95" fill="#f0f0f0"/>
<circle cx="641.9" cy="654.4" r="0.95" fill="#f0f0f0"/>
<circle cx="643.1" cy="650.0" r="0.95" fill="#f0f0f0"/>
<circle cx="644.3" cy="643.3" r="0.95" fill="#f0f0f0"/>
<circle cx="645.6" cy="634.2" r="0.95" fill="#f0f0f0"/>
<circle cx="646.8" cy="627.7" r="0.95" fill="#f0f0f0"/>
<circle cx="648.0" cy="619.3" r="0.95" fill="#f0f0f0"/>
<circle cx="649.3" cy="610.1" r="0.95" fill="#f0f0f0"/>
<circle cx="650.5" cy="601.8" r="0.95" fill="#f0f0f0"/>
<circle cx="651.7" cy="593.7" r="0.95" fill="#f0f0f0"/>
<circle cx="652.9" cy="587.9" r="0.95" fill="#f0f0f0"/>
<circle cx="654.2" cy="581.6" r="0.95" fill="#f0f0f0"/>
<circle cx="656.6" cy="577.8" r="0.95" fill="#f0f0f0"/>
<circle cx="659.1" cy="586.3" r="0.95" fill="#f0f0f0"/>
<circle cx="660.3" cy="592.4" r="0.95" fill="#f0f0f0"/>
<circle cx="661.5" cy="601.6" r="0.95" fill="#f0f0f0"/>
<circle cx="662.8" cy="612.7" r="0.95" fill="#f0f0f0"/>
<circle cx="664.0" cy="623.1" r="0.95" fill="#f0f0f0"/>
<circle cx="665.2" cy="633.6" r="0.95" fill="#f0f0f0"/>
<circle cx="666.4" cy="643.8" r="0.95" fill="#f0f0f0"/>
<circle cx="667.7" cy="654.3" r="0.95" fill="#f0f0f0"/>
<circle cx="668.9" cy="664.7" r="0.95" fill="#f0f0f0"/>
<circle cx="670.1" cy="671.9" r="0.95" fill="#f0f0f0"/>
<circle cx="671.4" cy="681.2" r="0.95" fill="#f0f0f0"/>
<circle cx="672.6" cy="686.1" r="0.95" fill="#f0f0f0"/>
<circle cx="673.8" cy="693.1" r="0.95" fill="#f0f0f0"/>
<circle cx="676.3" cy="701.4" r="0.95" fill="#f0f0f0"/>
<circle cx="678.7" cy="705.7" r="0.95" fill="#f0f0f0"/>
<circle cx="681.2" cy="709.3" r="0.95" fill="#f0f0f0"/>
<circle cx="686.1" cy="712.3" r="0.95" fill="#f0f0f0"/>
<circle cx="689.8" cy="712.5" r="0.95" fill="#f0f0f0"/>
<circle cx="693.5" cy="715.3" r="0.95" fill="#f0f0f0"/>
<circle cx="697.2" cy="713.9" r="0.95" fill="#f0f0f0"/>
<circle cx="700.8" cy="714.9" r="0.95" fill="#f0f0f0"/>
<circle cx="703.3" cy="714.9" r="0.95" fill="#f0f0f0"/>
<circle cx="707.0" cy="715.6" r="0.95" fill="#f0f0f0"/>
<circle cx="710.7" cy="716.4" r="0.95" fill="#f0f0f0"/>
<circle cx="714.3" cy="716.6" r="0.95" fill="#f0f0f0"/>
<circle cx="718.0" cy="716.2" r="0.95" fill="#f0f0f0"/>
<circle cx="720.5" cy="716.3" r="0.95" fill="#f0f0f0"/>
<circle cx="724.2" cy="717.1" r="0.95" fill="#f0f0f0"/>
<circle cx="727.9" cy="717.1" r="0.95" fill="#f0f0f0"/>
<circle cx="731.5" cy="717.0" r="0.95" fill="#f0f0f0"/>
<circle cx="734.0" cy="717.4" r="0.95" fill="#f0f0f0"/>
<circle cx="738.9" cy="719.1" r="0.95" fill="#f0f0f0"/>
<circle cx="742.6" cy="717.5" r="0.95" fill="#f0f0f0"/>
<circle cx="746.3" cy="719.4" r="0.95" fill="#f0f0f0"/>
<circle cx="751.2" cy="719.4" r="0.95" fill="#f0f0f0"/>
<circle cx="754.9" cy="719.4" r="0.95" fill="#f0f0f0"/>
<circle cx="758.6" cy="719.0" r="0.95" fill="#f0f0f0"/>
<circle cx="762.2" cy="719.4" r="0.95" fill="#f0f0f0"/>
<circle cx="767.2" cy="720.3" r="0.95" fill="#f0f0f0"/>
<circle cx="770.8" cy="718.9" r="0.95" fill="#f0f0f0"/>
<circle cx="774.5" cy="718.1" r="0.95" fill="#f0f0f0"/>
<circle cx="779.4" cy="717.7" r="0.95" fill="#f0f0f0"/>
<circle cx="783.1" cy="719.4" r="0.95" fill="#f0f0f0"/>
<circle cx="786.8" cy="716.8" r="0.95" fill="#f0f0f0"/>
<circle cx="791.7" cy="715.4" r="0.95" fill="#f0f0f0"/>
<circle cx="795.4" cy="710.9" r="0.95" fill="#f0f0f0"/>
<circle cx="799.1" cy="704.0" r="0.95" fill="#f0f0f0"/>
<circle cx="801.5" cy="699.1" r="0.95" fill="#f0f0f0"/>
<circle cx="802.8" cy="694.9" r="0.95" fill="#f0f0f0"/>
<circle cx="805.2" cy="687.2" r="0.95" fill="#f0f0f0"/>
<circle cx="806.5" cy="682.2" r="0.95" fill="#f0f0f0"/>
<circle cx="807.7" cy="677.5" r="0.95" fill="#f0f0f0"/>
<circle cx="808.9" cy="672.3" r="0.95" fill="#f0f0f0"/>
<circle cx="810.1" cy="666.5" r="0.95" fill="#f0f0f0"/>
<circle cx="811.4" cy="661.1" r="0.95" fill="#f0f0f0"/>
<circle cx="812.6" cy="654.2" r="0.95" fill="#f0f0f0"/>
<circle cx="813.8" cy="646.4" r="0.95" fill="#f0f0f0"/>
<circle cx="815.1" cy="639.0" r="0.95" fill="#f0f0f0"/>
<circle cx="816.3" cy="628.7" r="0.95" fill="#f0f0f0"/>
<circle cx="817.5" cy="620.0" r="0.95" fill="#f0f0f0"/>
<circle cx="818.7" cy="608.8" r="0.95" fill="#f0f0f0"/>
<circle cx="820.0" cy="596.0" r="0.95" fill="#f0f0f0"/>
<circle cx="821.2" cy="582.6" r="0.95" fill="#f0f0f0"/>
<circle cx="822.4" cy="569.9" r="0.95" fill="#f0f0f0"/>
<circle cx="823.7" cy="557.8" r="0.95" fill="#f0f0f0"/>
<circle cx="824.9" cy="545.5" r="0.95" fill="#f0f0f0"/>
<circle cx="826.1" cy="537.3" r="0.95" fill="#f0f0f0"/>
<circle cx="827.3" cy="531.5" r="0.95" fill="#f0f0f0"/>
<circle cx="829.8" cy="529.2" r="0.95" fill="#f0f0f0"/>
<circle cx="831.0" cy="536.2" r="0.95" fill="#f0f0f0"/>
<circle cx="832.3" cy="544.1" r="0.95" fill="#f0f0f0"/>
<circle cx="833.5" cy="556.2" r="0.95" fill="#f0f0f0"/>
<circle cx="834.7" cy="571.1" r="0.95" fill="#f0f0f0"/>
<circle cx="835.9" cy="585.5" r="0.95" fill="#f0f0f0"/>
<circle cx="837.2" cy="600.5" r="0.95" fill="#f0f0f0"/>
<circle cx="838.4" cy="617.8" r="0.95" fill="#f0f0f0"/>
<circle cx="839.6" cy="631.3" r="0.95" fill="#f0f0f0"/>
<circle cx="840.8" cy="644.5" r="0.95" fill="#f0f0f0"/>
<circle cx="842.1" cy="658.8" r="0.95" fill="#f0f0f0"/>
<circle cx="843.3" cy="668.7" r="0.95" fill="#f0f0f0"/>
<circle cx="844.5" cy="679.0" r="0.95" fill="#f0f0f0"/>
<circle cx="845.8" cy="688.6" r="0.95" fill="#f0f0f0"/>
<circle cx="847.0" cy="695.2" r="0.95" fill="#f0f0f0"/>
<circle cx="848.2" cy="699.3" r="0.95" fill="#f0f0f0"/>
<circle cx="849.4" cy="704.9" r="0.95" fill="#f0f0f0"/>
<circle cx="851.9" cy="711.5" r="0.95" fill="#f0f0f0"/>
<circle cx="854.4" cy="715.8" r="0.95" fill="#f0f0f0"/>
<circle cx="858.0" cy="718.6" r="0.95" fill="#f0f0f0"/>
<circle cx="860.5" cy="719.2" r="0.95" fill="#f0f0f0"/>
<circle cx="864.2" cy="721.8" r="0.95" fill="#f0f0f0"/>
<circle cx="869.1" cy="722.6" r="0.95" fill="#f0f0f0"/>
<circle cx="874.0" cy="724.6" r="0.95" fill="#f0f0f0"/>
<circle cx="878.9" cy="723.4" r="0.95" fill="#f0f0f0"/>
<circle cx="882.6" cy="725.6" r="0.95" fill="#f0f0f0"/>
<circle cx="887.5" cy="726.3" r="0.95" fill="#f0f0f0"/>
<circle cx="891.2" cy="725.9" r="0.95" fill="#f0f0f0"/>
<circle cx="894.9" cy="727.4" r="0.95" fill="#f0f0f0"/>
<circle cx="899.8" cy="726.7" r="0.95" fill="#f0f0f0"/>
<circle cx="904.7" cy="728.2" r="0.95" fill="#f0f0f0"/>
<circle cx="908.4" cy="726.5" r="0.95" fill="#f0f0f0"/>
<path d="M590.3 711.2 L591.5 711.2 L592.8 711.2 L594.0 711.2 L595.2 711.2 L596.4 711.2 L597.7 711.2 L598.9 711.2 L600.1 711.2 L601.4 711.1 L602.6 711.1 L603.8 711.1 L605.0 711.0 L606.3 711.0 L607.5 710.9 L608.7 710.8 L610.0 710.7 L611.2 710.5 L612.4 710.3 L613.6 710.1 L614.9 709.8 L616.1 709.4 L617.3 708.9 L618.5 708.3 L619.8 707.5 L621.0 706.6 L622.2 705.5 L623.5 704.2 L624.7 702.7 L625.9 700.9 L627.1 698.9 L628.4 696.6 L629.6 694.0 L630.8 691.2 L632.1 688.2 L633.3 684.9 L634.5 681.4 L635.7 677.7 L637.0 673.7 L638.2 669.5 L639.4 665.0 L640.7 660.1 L641.9 654.7 L643.1 648.8 L644.3 642.2 L645.6 635.0 L646.8 627.1 L648.0 618.8 L649.3 610.2 L650.5 601.7 L651.7 593.7 L652.9 586.9 L654.2 581.6 L655.4 578.6 L656.6 578.1 L657.9 580.4 L659.1 585.3 L660.3 592.5 L661.5 601.5 L662.8 611.7 L664.0 622.6 L665.2 633.6 L666.4 644.4 L667.7 654.7 L668.9 664.2 L670.1 672.7 L671.4 680.2 L672.6 686.7 L673.8 692.1 L675.0 696.7 L676.3 700.3 L677.5 703.3 L678.7 705.6 L680.0 707.5 L681.2 708.9 L682.4 710.1 L683.6 711.0 L684.9 711.7 L686.1 712.3 L687.3 712.8 L688.6 713.2 L689.8 713.5 L691.0 713.8 L692.2 714.1 L693.5 714.4 L694.7 714.6 L695.9 714.8 L697.2 715.0 L698.4 715.2 L699.6 715.4 L700.8 715.5 L702.1 715.7 L703.3 715.8 L704.5 716.0 L705.7 716.1 L707.0 716.2 L708.2 716.4 L709.4 716.5 L710.7 716.6 L711.9 716.7 L713.1 716.8 L714.3 716.9 L715.6 717.0 L716.8 717.1 L718.0 717.2 L719.3 717.3 L720.5 717.4 L721.7 717.5 L722.9 717.6 L724.2 717.7 L725.4 717.7 L726.6 717.8 L727.9 717.9 L729.1 718.0 L730.3 718.0 L731.5 718.1 L732.8 718.2 L734.0 718.2 L735.2 718.3 L736.5 718.4 L737.7 718.4 L738.9 718.5 L740.1 718.5 L741.4 718.6 L742.6 718.6 L743.8 718.7 L745.1 718.7 L746.3 718.8 L747.5 718.8 L748.7 718.9 L750.0 718.9 L751.2 718.9 L752.4 719.0 L753.6 719.0 L754.9 719.0 L756.1 719.1 L757.3 719.1 L758.6 719.1 L759.8 719.1 L761.0 719.1 L762.2 719.2 L763.5 719.2 L764.7 719.2 L765.9 719.2 L767.2 719.2 L768.4 719.1 L769.6 719.1 L770.8 719.1 L772.1 719.1 L773.3 719.0 L774.5 719.0 L775.8 718.9 L777.0 718.9 L778.2 718.8 L779.4 718.7 L780.7 718.6 L781.9 718.4 L783.1 718.3 L784.4 718.1 L785.6 717.8 L786.8 717.5 L788.0 717.1 L789.3 716.6 L790.5 715.9 L791.7 715.1 L793.0 714.1 L794.2 712.9 L795.4 711.5 L796.6 709.7 L797.9 707.6 L799.1 705.2 L800.3 702.5 L801.5 699.3 L802.8 695.9 L804.0 692.0 L805.2 687.8 L806.5 683.2 L807.7 678.2 L808.9 672.9 L810.1 667.2 L811.4 661.0 L812.6 654.3 L813.8 646.9 L815.1 638.6 L816.3 629.3 L817.5 619.0 L818.7 607.7 L820.0 595.5 L821.2 582.7 L822.4 569.9 L823.7 557.6 L824.9 546.5 L826.1 537.5 L827.3 531.4 L828.6 528.8 L829.8 530.2 L831.0 535.5 L832.3 544.4 L833.5 556.2 L834.7 570.1 L835.9 585.3 L837.2 601.0 L838.4 616.6 L839.6 631.6 L840.8 645.6 L842.1 658.4 L843.3 669.7 L844.5 679.5 L845.8 687.8 L847.0 694.8 L848.2 700.4 L849.4 705.0 L850.7 708.7 L851.9 711.6 L853.1 713.8 L854.4 715.6 L855.6 717.0 L856.8 718.1 L858.0 718.9 L859.3 719.7 L860.5 720.3 L861.7 720.8 L863.0 721.2 L864.2 721.6 L865.4 722.0 L866.6 722.3 L867.9 722.6 L869.1 722.9 L870.3 723.1 L871.6 723.4 L872.8 723.6 L874.0 723.8 L875.2 724.0 L876.5 724.2 L877.7 724.4 L878.9 724.6 L880.2 724.7 L881.4 724.9 L882.6 725.0 L883.8 725.2 L885.1 725.3 L886.3 725.5 L887.5 725.6 L888.7 725.7 L890.0 725.9 L891.2 726.0 L892.4 726.1 L893.7 726.2 L894.9 726.3 L896.1 726.5 L897.3 726.6 L898.6 726.7 L899.8 726.8 L901.0 726.9 L902.3 727.0 L903.5 727.1 L904.7 727.2 L905.9 727.3 L907.2 727.4 L908.4 727.5" fill="none" stroke="#555" stroke-width="1"/>
<line x1="590.3" y1="478.7" x2="590.3" y2="735.7" stroke="#111" stroke-width="1.3"/>
<line x1="908.4" y1="478.7" x2="908.4" y2="735.7" stroke="#111" stroke-width="1.3"/>
<line x1="589.7" y1="735.7" x2="909.0" y2="735.7" stroke="#111" stroke-width="1.5"/>
<line x1="590.3" y1="735.7" x2="590.3" y2="731.7" stroke="#111" stroke-width="1.2"/>
<text x="590.3" y="753.5" font-size="14.8" font-family="'Liberation Sans', sans-serif" fill="#111" font-weight="bold" text-anchor="middle">498</text>
<line x1="610.8" y1="735.7" x2="610.8" y2="733.5" stroke="#111" stroke-width="1.2"/>
<line x1="631.3" y1="735.7" x2="631.3" y2="731.7" stroke="#111" stroke-width="1.2"/>
<text x="631.3" y="753.5" font-size="14.8" font-family="'Liberation Sans', sans-serif" fill="#111" font-weight="bold" text-anchor="middle">496</text>
<line x1="651.8" y1="735.7" x2="651.8" y2="733.5" stroke="#111" stroke-width="1.2"/>
<line x1="672.3" y1="735.7" x2="672.3" y2="731.7" stroke="#111" stroke-width="1.2"/>
<text x="672.3" y="753.5" font-size="14.8" font-family="'Liberation Sans', sans-serif" fill="#111" font-weight="bold" text-anchor="middle">494</text>
<line x1="692.8" y1="735.7" x2="692.8" y2="733.5" stroke="#111" stroke-width="1.2"/>
<line x1="713.3" y1="735.7" x2="713.3" y2="731.7" stroke="#111" stroke-width="1.2"/>
<text x="713.3" y="753.5" font-size="14.8" font-family="'Liberation Sans', sans-serif" fill="#111" font-weight="bold" text-anchor="middle">492</text>
<line x1="733.8" y1="735.7" x2="733.8" y2="733.5" stroke="#111" stroke-width="1.2"/>
<line x1="754.3" y1="735.7" x2="754.3" y2="731.7" stroke="#111" stroke-width="1.2"/>
<text x="754.3" y="753.5" font-size="14.8" font-family="'Liberation Sans', sans-serif" fill="#111" font-weight="bold" text-anchor="middle">490</text>
<line x1="774.8" y1="735.7" x2="774.8" y2="733.5" stroke="#111" stroke-width="1.2"/>
<line x1="795.3" y1="735.7" x2="795.3" y2="731.7" stroke="#111" stroke-width="1.2"/>
<text x="795.3" y="753.5" font-size="14.8" font-family="'Liberation Sans', sans-serif" fill="#111" font-weight="bold" text-anchor="middle">488</text>
<line x1="815.8" y1="735.7" x2="815.8" y2="733.5" stroke="#111" stroke-width="1.2"/>
<line x1="836.3" y1="735.7" x2="836.3" y2="731.7" stroke="#111" stroke-width="1.2"/>
<text x="836.3" y="753.5" font-size="14.8" font-family="'Liberation Sans', sans-serif" fill="#111" font-weight="bold" text-anchor="middle">486</text>
<line x1="856.8" y1="735.7" x2="856.8" y2="733.5" stroke="#111" stroke-width="1.2"/>
<line x1="877.3" y1="735.7" x2="877.3" y2="731.7" stroke="#111" stroke-width="1.2"/>
<text x="877.3" y="753.5" font-size="14.8" font-family="'Liberation Sans', sans-serif" fill="#111" font-weight="bold" text-anchor="middle">484</text>
<line x1="897.8" y1="735.7" x2="897.8" y2="733.5" stroke="#111" stroke-width="1.2"/>
<text x="749.0" y="773.7" font-size="15.6" font-family="'Liberation Sans', sans-serif" fill="#111" font-weight="bold" text-anchor="middle">Binding Energy (eV)</text>
<text x="577.2" y="607.0" font-size="15.3" font-family="'Liberation Sans', sans-serif" fill="#111" font-weight="bold" text-anchor="middle" transform="rotate(-90 577.2 607.0)">Intensity (a.u.)</text>
<line x1="598.0" y1="486.2" x2="622.5" y2="486.2" stroke="#6a6a6a" stroke-width="2"/>
<circle cx="610.2" cy="486.2" r="2" fill="#fff" stroke="#6a6a6a" stroke-width="1"/>
<text x="629.3" y="490.2" font-size="10.9" font-family="'Liberation Sans', sans-serif" fill="#111">Raw Intensity</text>
<line x1="598.0" y1="501.3" x2="622.5" y2="501.3" stroke="#6a6a6a" stroke-width="1.4"/>
<text x="629.3" y="505.3" font-size="10.9" font-family="'Liberation Sans', sans-serif" fill="#111">Peak Sum</text>
<line x1="598.0" y1="516.1" x2="622.5" y2="516.1" stroke="#333" stroke-width="1"/>
<text x="629.3" y="520.1" font-size="10.9" font-family="'Liberation Sans', sans-serif" fill="#111">Background</text>
<rect x="598.3" y="529.0" width="24.4" height="10.8" fill="url(#lg20)" stroke="#444" stroke-width="0.8"/>
<text x="629.3" y="538.8" font-size="10.9" font-family="'Liberation Sans', sans-serif" fill="#111">Sn<tspan dy="-4.5" font-size="11">2+</tspan><tspan dy="4.5" dx="12">87.15%</tspan></text>
<rect x="598.3" y="546.9" width="24.4" height="10.8" fill="url(#lg21)" stroke="#444" stroke-width="0.8"/>
<text x="629.3" y="556.7" font-size="10.9" font-family="'Liberation Sans', sans-serif" fill="#111">Sn<tspan dy="-4.5" font-size="11">4+</tspan><tspan dy="4.5" dx="12">12.85%</tspan></text>
<text x="841.0" y="496.6" font-size="10.9" font-family="'Liberation Sans', sans-serif" fill="#111">With TMSI</text>
<text x="549.6" y="493.0" font-size="25" font-family="'Liberation Sans', sans-serif" fill="#111">(d)</text>
<text x="926.0" y="493.0" font-size="25" font-family="'Liberation Sans', sans-serif" fill="#111">(f)</text>
<line x1="992.0" y1="630.0" x2="992.0" y2="702.0" stroke="#d0d0d0" stroke-width="1.5" stroke-dasharray="5 3"/>
<path d="M957.2 626.3 L958.0 626.3 L958.8 626.3 L959.6 626.3 L960.4 626.3 L961.2 626.3 L962.0 626.3 L962.8 626.3 L963.6 626.3 L964.4 626.3 L965.2 626.3 L966.0 626.3 L966.8 626.3 L967.6 626.3 L968.3 626.3 L969.1 626.3 L969.9 626.3 L970.7 626.2 L971.5 626.2 L972.3 626.2 L973.1 626.2 L973.9 626.2 L974.7 626.2 L975.2 626.2 L975.5 626.2 L976.3 626.2 L977.1 626.2 L977.9 626.2 L978.7 626.2 L979.5 626.1 L980.3 626.1 L980.9 626.1 L981.1 626.1 L981.9 626.1 L982.7 626.0 L983.5 626.0 L984.3 625.9 L984.4 625.9 L985.1 625.8 L985.9 625.6 L986.7 625.4 L986.7 625.3 L987.5 625.0 L987.9 624.6 L988.3 624.3 L989.1 623.0 L989.8 620.7 L989.9 620.2 L990.2 618.0 L990.6 614.4 L990.7 614.2 L991.0 611.2 L991.4 609.8 L991.4 609.9 L991.7 611.2 L992.1 614.2 L992.2 615.7 L992.5 618.0 L993.0 620.7 L993.0 620.9 L993.7 623.0 L993.8 623.3 L994.6 624.4 L994.8 624.6 L995.4 625.1 L996.0 625.3 L996.2 625.4 L997.0 625.6 L997.8 625.8 L998.3 625.9 L998.6 625.9 L999.4 626.0 L1000.2 626.0 L1001.0 626.1 L1001.8 626.1 L1002.6 626.1 L1003.4 626.1 L1004.2 626.2 L1005.0 626.2 L1005.8 626.2 L1006.6 626.2 L1007.4 626.2 L1007.6 626.2 L1008.2 626.2 L1009.0 626.2 L1009.8 626.2 L1010.6 626.2 L1011.4 626.2 L1012.2 626.2 L1012.9 626.3 L1013.7 626.3 L1014.5 626.3 L1015.3 626.3 L1015.8 626.3 L1016.1 626.3 L1016.9 626.2 L1017.1 626.2 L1017.7 626.2 L1017.9 626.1 L1018.4 625.8 L1018.5 625.7 L1018.7 625.2 L1018.9 623.1 L1019.1 619.0 L1019.2 612.7 L1019.3 601.2 L1019.3 599.6 L1019.4 590.6 L1019.5 585.3 L1019.5 590.6 L1019.6 601.2 L1019.7 612.7 L1019.8 619.0 L1020.0 623.2 L1020.1 624.6 L1020.2 625.2 L1020.5 625.8 L1020.9 626.1 L1021.0 626.1 L1021.7 626.2 L1021.8 626.2 L1022.5 626.3 L1023.1 626.3 L1023.3 626.3 L1024.1 626.3 L1024.9 626.3 L1025.7 626.3 L1026.5 626.3 L1027.3 626.3 L1028.1 626.3 L1028.9 626.3 L1029.7 626.3 L1030.5 626.3 L1031.3 626.3 L1032.1 626.3 L1032.9 626.3 L1033.7 626.3 L1034.5 626.3 L1035.2 626.3 L1036.0 626.3 L1036.8 626.3 L1037.6 626.3 L1038.4 626.3 L1039.2 626.3 L1040.0 626.3 L1040.8 626.3 L1041.6 626.3 L1042.4 626.3 L1043.2 626.3 L1044.0 626.3 L1044.8 626.3 L1045.6 626.3 L1046.4 626.3 L1047.2 626.3 L1048.0 626.3 L1048.8 626.3 L1049.6 626.3 L1050.4 626.3 L1051.2 626.3 L1052.0 626.3 L1052.8 626.3 L1053.6 626.3 L1054.4 626.3 L1055.2 626.3 L1056.0 626.3 L1056.8 626.3 L1057.5 626.3 L1058.3 626.3 L1059.1 626.3 L1059.9 626.3 L1060.7 626.3 L1061.5 626.3 L1062.3 626.3 L1063.1 626.3 L1063.9 626.3 L1064.7 626.3 L1065.5 626.3 L1066.3 626.3 L1067.1 626.3 L1067.9 626.3 L1068.7 626.3 L1069.5 626.3 L1070.3 626.3 L1071.1 626.3 L1071.9 626.3 L1072.7 626.3 L1073.5 626.3 L1074.3 626.3 L1075.1 626.3 L1075.9 626.3 L1076.7 626.3 L1077.5 626.3 L1078.3 626.3 L1079.0 626.3 L1079.8 626.3 L1080.6 626.3 L1081.4 626.3 L1082.2 626.3 L1083.0 626.3 L1083.8 626.3 L1084.6 626.3 L1085.4 626.3 L1086.2 626.3 L1087.0 626.3 L1087.8 626.3 L1088.6 626.3 L1089.4 626.3 L1090.2 626.3 L1091.0 626.3 L1091.8 626.3 L1092.6 626.3 L1093.4 626.3 L1094.2 626.3 L1095.0 626.3 L1095.8 626.3 L1096.6 626.3 L1097.4 626.3 L1098.2 626.3 L1099.0 626.3 L1099.8 626.3 L1100.6 626.3 L1101.3 626.3 L1102.1 626.3 L1102.9 626.3 L1103.7 626.3 L1104.5 626.3 L1105.3 626.3 L1106.1 626.3 L1106.9 626.3 L1107.7 626.3 L1108.5 626.3 L1109.3 626.3 L1110.1 626.3 L1110.9 626.3 L1111.7 626.3 L1112.5 626.3 L1113.3 626.3 L1114.1 626.3 L1114.9 626.3 L1115.7 626.3 L1116.5 626.3 L1117.3 626.3 L1118.1 626.3 L1118.9 626.3 L1119.7 626.3 L1120.5 626.3 L1121.3 626.3 L1122.1 626.3 L1122.9 626.3 L1123.6 626.3 L1124.4 626.3 L1125.2 626.3 L1126.0 626.3 L1126.8 626.3 L1127.6 626.3 L1128.4 626.3 L1129.2 626.3 L1129.6 626.3 L1130.0 626.3 L1130.8 626.3 L1131.6 626.3 L1131.7 626.3 L1132.4 626.2 L1132.9 626.2 L1133.2 626.1 L1133.7 626.0 L1134.0 625.7 L1134.1 625.5 L1134.5 623.9 L1134.7 620.8 L1134.8 619.4 L1134.9 616.1 L1135.1 607.3 L1135.2 599.3 L1135.3 595.3 L1135.4 599.3 L1135.5 607.3 L1135.6 610.3 L1135.7 616.1 L1135.9 620.8 L1136.1 623.9 L1136.4 625.2 L1136.5 625.5 L1136.9 626.0 L1137.2 626.1 L1137.7 626.2 L1138.0 626.2 L1138.8 626.3 L1139.0 626.3 L1139.6 626.3 L1140.4 626.3 L1141.0 626.3 L1141.2 626.3 L1142.0 626.3 L1142.8 626.3 L1143.6 626.3 L1144.4 626.2 L1144.5 626.2 L1145.2 626.2 L1145.9 626.1 L1146.0 626.1 L1146.7 625.9 L1146.9 625.8 L1147.0 625.7 L1147.5 624.8 L1147.6 624.5 L1148.0 622.5 L1148.3 616.3 L1148.3 614.0 L1148.5 605.5 L1148.6 590.3 L1148.7 564.5 L1148.8 542.0 L1148.9 531.2 L1149.0 542.0 L1149.1 564.4 L1149.1 570.5 L1149.2 585.3 L1149.2 590.2 L1149.4 605.4 L1149.6 616.1 L1149.8 621.1 L1149.9 622.1 L1149.9 622.5 L1150.1 623.2 L1150.2 623.3 L1150.4 622.5 L1150.5 619.5 L1150.7 614.6 L1150.7 609.4 L1150.8 605.5 L1150.8 599.7 L1150.9 597.0 L1150.9 592.8 L1151.0 597.1 L1151.1 605.7 L1151.2 615.1 L1151.3 620.2 L1151.5 623.5 L1151.8 625.2 L1151.8 625.3 L1152.1 625.8 L1152.3 626.0 L1152.7 626.1 L1153.1 626.2 L1153.4 626.2 L1153.5 626.2 L1153.9 626.2 L1154.7 626.3 L1155.0 626.3 L1155.5 626.3 L1156.3 626.3 L1157.1 626.3 L1157.9 626.3 L1158.7 626.3 L1159.5 626.3 L1160.3 626.3 L1161.1 626.3 L1161.9 626.3 L1162.7 626.3 L1163.5 626.3 L1164.3 626.3 L1165.1 626.3 L1165.9 626.3 L1166.7 626.3 L1167.4 626.3 L1168.2 626.3 L1169.0 626.3 L1169.1 626.3 L1169.8 626.3 L1170.6 626.3 L1171.0 626.2 L1171.4 626.2 L1172.1 626.1 L1172.2 626.1 L1172.9 625.6 L1173.0 625.4 L1173.3 624.7 L1173.6 621.3 L1173.8 617.0 L1173.9 614.8 L1174.0 604.9 L1174.2 586.6 L1174.3 569.7 L1174.4 561.3 L1174.5 569.7 L1174.6 585.3 L1174.6 586.6 L1174.8 604.9 L1174.9 614.8 L1175.2 621.3 L1175.4 624.1 L1175.5 624.7 L1175.9 625.6 L1176.2 625.9 L1176.7 626.1 L1177.0 626.2 L1177.8 626.2 L1177.8 626.2 L1178.6 626.3 L1179.4 626.3 L1179.7 626.3 L1180.2 626.3 L1181.0 626.3 L1181.8 626.3 L1182.6 626.3 L1183.4 626.3 L1184.2 626.3 L1185.0 626.3 L1185.8 626.3 L1186.6 626.3 L1187.4 626.3 L1188.2 626.3 L1189.0 626.3 L1189.7 626.3 L1190.5 626.3 L1191.3 626.3 L1192.1 626.3 L1192.9 626.3 L1193.7 626.3 L1194.5 626.3 L1195.3 626.3 L1196.1 626.3 L1196.9 626.3 L1197.7 626.3 L1198.5 626.3 L1199.3 626.3 L1200.1 626.3 L1200.9 626.3 L1201.7 626.3 L1202.5 626.3 L1203.3 626.3 L1204.1 626.3 L1204.9 626.3 L1205.7 626.3 L1206.5 626.3 L1207.3 626.3 L1208.1 626.3 L1208.9 626.3 L1209.7 626.3 L1210.5 626.3 L1211.3 626.3 L1212.0 626.3 L1212.8 626.3 L1213.6 626.3 L1214.4 626.3 L1215.2 626.3 L1216.0 626.3 L1216.8 626.3 L1217.6 626.3 L1218.4 626.3 L1219.2 626.3 L1220.0 626.3 L1220.8 626.3 L1221.6 626.3 L1222.4 626.3 L1223.2 626.3 L1224.0 626.3 L1224.8 626.3 L1225.6 626.3 L1226.4 626.3 L1227.2 626.3 L1228.0 626.3 L1228.8 626.3 L1229.6 626.3 L1230.4 626.3 L1231.2 626.3 L1232.0 626.3 L1232.8 626.3 L1233.6 626.3 L1234.3 626.3 L1235.1 626.3 L1235.9 626.3 L1236.7 626.3 L1237.5 626.3 L1238.3 626.3 L1239.1 626.3 L1239.9 626.3 L1240.7 626.3 L1241.5 626.3 L1242.3 626.3 L1243.1 626.3 L1243.9 626.3 L1244.7 626.3 L1245.5 626.3 L1246.3 626.3 L1247.1 626.3 L1247.9 626.3 L1248.7 626.3 L1249.5 626.3 L1250.3 626.3 L1251.1 626.3 L1251.9 626.3 L1252.7 626.3 L1253.5 626.3 L1254.3 626.3 L1255.1 626.3 L1255.9 626.3 L1256.6 626.3 L1257.4 626.3 L1258.2 626.3 L1259.0 626.3 L1259.8 626.3 L1260.6 626.3 L1261.4 626.3 L1262.2 626.3 L1263.0 626.3 L1263.8 626.3 L1264.6 626.3 L1265.4 626.3 L1266.2 626.3 L1267.0 626.3 L1267.8 626.3 L1268.6 626.3 L1269.4 626.3 L1270.2 626.3 L1271.0 626.3 L1271.8 626.3 L1272.6 626.3 L1273.4 626.3 L1274.2 626.3 L1275.0 626.3 L1275.8 626.3" fill="none" stroke="#e01212" stroke-width="2.4" stroke-linejoin="round"/>
<path d="M957.2 724.7 L958.0 724.7 L958.8 724.6 L959.6 724.6 L960.4 724.6 L961.0 724.6 L961.2 724.6 L962.0 724.6 L962.8 724.6 L963.6 724.6 L964.4 724.6 L965.2 724.6 L966.0 724.6 L966.8 724.6 L967.6 724.6 L967.9 724.6 L968.3 724.6 L969.1 724.6 L969.9 724.6 L970.7 724.5 L970.8 724.5 L971.4 724.5 L971.5 724.5 L972.3 724.5 L973.1 724.5 L973.9 724.5 L974.7 724.4 L974.9 724.4 L975.5 724.4 L976.3 724.3 L977.0 724.3 L977.1 724.3 L977.9 724.2 L978.3 724.1 L978.7 724.1 L978.8 724.1 L979.5 723.9 L979.7 723.9 L980.3 723.8 L980.8 723.7 L981.1 723.7 L981.8 723.6 L981.9 723.6 L982.7 723.6 L982.9 723.6 L983.5 723.6 L983.6 723.6 L983.9 723.7 L984.3 723.7 L985.1 723.7 L985.3 723.7 L985.9 723.6 L986.7 723.5 L986.7 723.5 L986.7 723.5 L987.5 723.3 L988.3 723.0 L988.3 723.0 L988.8 722.7 L989.1 722.5 L989.9 721.6 L989.9 721.5 L990.6 720.0 L990.9 719.4 L991.4 717.2 L991.5 716.9 L992.2 713.2 L992.2 712.7 L992.6 710.4 L993.0 709.2 L993.1 709.1 L993.6 710.4 L993.8 711.8 L994.1 713.2 L994.6 716.5 L994.7 716.9 L995.3 719.4 L995.4 719.7 L995.7 720.4 L996.2 721.4 L996.3 721.6 L997.0 722.5 L997.8 723.1 L997.9 723.1 L998.6 723.5 L999.4 723.7 L999.5 723.8 L1000.2 723.9 L1001.0 724.1 L1001.5 724.1 L1001.8 724.2 L1002.6 724.2 L1002.7 724.3 L1003.4 724.3 L1004.2 724.4 L1005.0 724.4 L1005.8 724.4 L1005.9 724.4 L1006.6 724.5 L1007.4 724.5 L1007.4 724.5 L1008.2 724.5 L1008.5 724.5 L1009.0 724.5 L1009.8 724.5 L1010.2 724.5 L1010.6 724.5 L1011.1 724.4 L1011.4 724.4 L1011.9 724.3 L1012.2 724.3 L1012.5 724.2 L1012.8 724.0 L1012.9 723.9 L1013.1 723.8 L1013.2 723.7 L1013.4 723.5 L1013.7 723.4 L1013.7 723.4 L1013.9 723.5 L1014.2 723.7 L1014.5 724.0 L1014.9 724.2 L1015.3 724.3 L1015.4 724.4 L1016.1 724.5 L1016.3 724.5 L1016.9 724.5 L1016.9 724.5 L1017.1 724.5 L1017.7 724.4 L1018.3 723.9 L1018.5 723.4 L1018.6 723.1 L1018.9 720.0 L1019.1 713.9 L1019.2 704.5 L1019.3 687.3 L1019.3 681.9 L1019.4 671.5 L1019.5 663.6 L1019.6 671.5 L1019.6 687.3 L1019.8 704.5 L1019.9 713.9 L1020.0 720.0 L1020.1 721.2 L1020.3 723.1 L1020.6 724.0 L1020.9 724.3 L1021.2 724.4 L1021.5 724.5 L1021.7 724.5 L1022.1 724.6 L1022.5 724.6 L1023.3 724.6 L1023.5 724.6 L1024.1 724.6 L1024.9 724.6 L1025.7 724.6 L1025.8 724.6 L1026.5 724.7 L1027.3 724.7 L1028.1 724.7 L1028.9 724.7 L1029.7 724.7 L1030.5 724.7 L1031.3 724.7 L1032.1 724.7 L1032.9 724.7 L1033.7 724.7 L1034.5 724.7 L1035.2 724.7 L1036.0 724.7 L1036.8 724.7 L1037.6 724.7 L1038.4 724.7 L1039.2 724.7 L1040.0 724.7 L1040.8 724.7 L1041.6 724.7 L1042.4 724.7 L1043.2 724.7 L1044.0 724.7 L1044.8 724.7 L1045.6 724.7 L1046.4 724.7 L1047.2 724.7 L1048.0 724.7 L1048.8 724.7 L1049.6 724.7 L1050.4 724.7 L1051.2 724.7 L1052.0 724.7 L1052.8 724.7 L1053.6 724.7 L1054.4 724.7 L1055.2 724.7 L1056.0 724.7 L1056.8 724.7 L1057.5 724.7 L1058.3 724.7 L1059.1 724.7 L1059.9 724.7 L1060.7 724.7 L1061.5 724.7 L1062.3 724.7 L1063.1 724.7 L1063.9 724.7 L1064.7 724.7 L1065.5 724.7 L1066.3 724.7 L1067.1 724.7 L1067.9 724.7 L1068.7 724.7 L1069.5 724.7 L1070.3 724.7 L1071.1 724.7 L1071.9 724.7 L1072.7 724.7 L1073.5 724.7 L1074.3 724.7 L1075.1 724.7 L1075.9 724.7 L1076.7 724.7 L1077.5 724.7 L1078.3 724.7 L1079.0 724.7 L1079.8 724.7 L1080.6 724.7 L1081.4 724.7 L1082.2 724.7 L1083.0 724.7 L1083.8 724.7 L1084.6 724.7 L1085.4 724.7 L1086.2 724.7 L1087.0 724.7 L1087.8 724.7 L1088.6 724.7 L1089.4 724.7 L1090.2 724.7 L1091.0 724.7 L1091.8 724.7 L1092.6 724.7 L1093.4 724.7 L1094.2 724.7 L1095.0 724.7 L1095.8 724.7 L1096.6 724.7 L1097.4 724.7 L1098.2 724.7 L1099.0 724.7 L1099.8 724.7 L1100.6 724.7 L1101.3 724.7 L1102.1 724.7 L1102.9 724.7 L1103.7 724.7 L1104.5 724.7 L1105.3 724.7 L1106.1 724.7 L1106.9 724.7 L1107.7 724.7 L1108.5 724.7 L1109.3 724.7 L1110.1 724.7 L1110.9 724.7 L1111.7 724.7 L1112.5 724.7 L1113.3 724.7 L1114.1 724.7 L1114.9 724.7 L1115.7 724.7 L1116.5 724.7 L1117.3 724.7 L1118.1 724.7 L1118.9 724.7 L1119.7 724.7 L1120.5 724.7 L1121.3 724.7 L1122.1 724.7 L1122.9 724.7 L1123.6 724.7 L1124.4 724.7 L1125.2 724.7 L1126.0 724.7 L1126.8 724.7 L1127.6 724.7 L1128.4 724.7 L1129.2 724.7 L1130.0 724.7 L1130.8 724.7 L1131.6 724.7 L1132.4 724.7 L1133.2 724.7 L1134.0 724.7 L1134.8 724.7 L1135.6 724.7 L1136.4 724.7 L1137.2 724.7 L1138.0 724.7 L1138.8 724.7 L1139.6 724.7 L1140.4 724.7 L1141.2 724.7 L1142.0 724.7 L1142.8 724.7 L1143.6 724.7 L1144.4 724.7 L1144.7 724.7 L1145.2 724.7 L1145.9 724.7 L1146.7 724.7 L1146.7 724.7 L1147.5 724.6 L1147.9 724.5 L1148.3 724.4 L1148.7 724.1 L1149.1 723.5 L1149.1 723.4 L1149.6 720.8 L1149.8 715.7 L1149.9 709.7 L1150.0 707.9 L1150.1 693.5 L1150.2 680.3 L1150.4 673.7 L1150.5 680.3 L1150.6 693.5 L1150.7 704.7 L1150.8 707.9 L1150.9 715.7 L1151.2 720.8 L1151.5 723.2 L1151.6 723.4 L1152.0 724.1 L1152.3 724.4 L1152.8 724.5 L1153.1 724.6 L1153.9 724.6 L1154.0 724.6 L1154.7 724.7 L1155.5 724.7 L1156.0 724.7 L1156.3 724.7 L1157.1 724.7 L1157.9 724.7 L1158.7 724.7 L1159.3 724.7 L1159.5 724.7 L1160.3 724.7 L1161.1 724.7 L1161.9 724.7 L1162.7 724.7 L1163.5 724.7 L1163.7 724.7 L1164.3 724.7 L1165.1 724.7 L1165.9 724.7 L1166.3 724.6 L1166.7 724.6 L1167.4 724.6 L1168.0 724.6 L1168.2 724.6 L1168.7 724.5 L1168.9 724.5 L1169.0 724.5 L1169.8 724.3 L1169.8 724.3 L1170.3 724.1 L1170.6 723.8 L1170.8 723.7 L1171.0 723.4 L1171.2 723.1 L1171.4 723.0 L1171.5 723.0 L1171.8 723.0 L1172.0 723.1 L1172.0 723.2 L1172.2 723.2 L1172.4 723.3 L1172.7 723.0 L1172.8 722.9 L1173.0 722.3 L1173.2 721.5 L1173.2 721.1 L1173.6 716.2 L1173.8 707.2 L1173.8 706.4 L1174.0 692.0 L1174.1 675.0 L1174.2 666.5 L1174.3 643.7 L1174.4 632.6 L1174.5 643.7 L1174.6 661.6 L1174.6 666.6 L1174.8 692.1 L1175.0 706.5 L1175.0 707.3 L1175.2 716.4 L1175.4 719.9 L1175.6 721.7 L1176.0 723.3 L1176.2 723.7 L1176.7 724.2 L1176.8 724.3 L1177.0 724.3 L1177.8 724.5 L1178.0 724.5 L1178.6 724.6 L1179.3 724.6 L1179.4 724.6 L1180.1 724.7 L1180.2 724.7 L1181.0 724.7 L1181.8 724.7 L1182.6 724.7 L1183.4 724.7 L1183.7 724.7 L1184.2 724.7 L1185.0 724.7 L1185.8 724.7 L1186.6 724.7 L1187.4 724.7 L1188.2 724.7 L1189.0 724.7 L1189.7 724.7 L1190.5 724.7 L1191.3 724.7 L1192.1 724.7 L1192.9 724.7 L1193.7 724.7 L1194.5 724.7 L1195.3 724.7 L1196.1 724.7 L1196.9 724.7 L1197.7 724.7 L1198.5 724.7 L1199.3 724.7 L1200.1 724.7 L1200.9 724.7 L1201.7 724.7 L1202.5 724.7 L1203.3 724.7 L1204.1 724.7 L1204.9 724.7 L1205.7 724.7 L1206.5 724.7 L1207.3 724.7 L1208.1 724.7 L1208.9 724.7 L1209.7 724.7 L1210.5 724.7 L1211.3 724.7 L1212.0 724.7 L1212.8 724.7 L1213.6 724.7 L1214.4 724.7 L1215.2 724.7 L1216.0 724.7 L1216.8 724.7 L1217.6 724.7 L1218.4 724.7 L1219.2 724.7 L1220.0 724.7 L1220.8 724.7 L1221.6 724.7 L1222.4 724.7 L1223.2 724.7 L1224.0 724.7 L1224.8 724.7 L1225.6 724.7 L1226.4 724.7 L1227.2 724.7 L1228.0 724.7 L1228.8 724.7 L1229.6 724.7 L1230.4 724.7 L1231.2 724.7 L1232.0 724.7 L1232.8 724.7 L1233.6 724.7 L1234.3 724.7 L1235.1 724.7 L1235.9 724.7 L1236.7 724.7 L1237.5 724.7 L1238.3 724.7 L1239.1 724.7 L1239.9 724.7 L1240.3 724.7 L1240.7 724.7 L1241.5 724.7 L1242.3 724.7 L1242.6 724.7 L1243.1 724.7 L1243.9 724.7 L1244.0 724.7 L1244.7 724.6 L1244.9 724.6 L1245.4 724.5 L1245.5 724.5 L1245.9 724.2 L1246.2 723.6 L1246.3 722.9 L1246.3 722.7 L1246.5 721.1 L1246.7 719.7 L1246.8 719.0 L1246.9 719.7 L1247.1 721.1 L1247.1 721.2 L1247.3 722.7 L1247.4 723.6 L1247.7 724.2 L1247.9 724.4 L1248.2 724.5 L1248.7 724.6 L1248.7 724.6 L1249.5 724.7 L1249.6 724.7 L1250.3 724.7 L1251.0 724.7 L1251.1 724.7 L1251.9 724.7 L1252.7 724.7 L1253.3 724.7 L1253.5 724.7 L1254.3 724.7 L1255.1 724.7 L1255.9 724.7 L1256.6 724.7 L1257.4 724.7 L1258.2 724.7 L1259.0 724.7 L1259.8 724.7 L1260.6 724.7 L1261.4 724.7 L1262.2 724.7 L1263.0 724.7 L1263.8 724.7 L1264.6 724.7 L1265.4 724.7 L1266.2 724.7 L1267.0 724.7 L1267.8 724.7 L1268.6 724.7 L1269.4 724.7 L1270.2 724.7 L1271.0 724.7 L1271.8 724.7 L1272.6 724.7 L1273.4 724.7 L1274.2 724.7 L1275.0 724.7 L1275.8 724.7" fill="none" stroke="#1212e6" stroke-width="2.4" stroke-linejoin="round"/>
<rect x="957.2" y="478.7" width="318.6" height="256.3" fill="none" stroke="#111" stroke-width="1.5"/>
<line x1="957.2" y1="735.0" x2="957.2" y2="730.5" stroke="#111" stroke-width="1.2"/>
<text x="957.2" y="752.8" font-size="15.4" font-family="'Liberation Sans', sans-serif" fill="#111" font-weight="bold" text-anchor="middle">10</text>
<line x1="986.2" y1="735.0" x2="986.2" y2="732.5" stroke="#111" stroke-width="1.2"/>
<line x1="1015.1" y1="735.0" x2="1015.1" y2="730.5" stroke="#111" stroke-width="1.2"/>
<text x="1015.1" y="752.8" font-size="15.4" font-family="'Liberation Sans', sans-serif" fill="#111" font-weight="bold" text-anchor="middle">8</text>
<line x1="1044.1" y1="735.0" x2="1044.1" y2="732.5" stroke="#111" stroke-width="1.2"/>
<line x1="1073.0" y1="735.0" x2="1073.0" y2="730.5" stroke="#111" stroke-width="1.2"/>
<text x="1073.0" y="752.8" font-size="15.4" font-family="'Liberation Sans', sans-serif" fill="#111" font-weight="bold" text-anchor="middle">6</text>
<line x1="1102.0" y1="735.0" x2="1102.0" y2="732.5" stroke="#111" stroke-width="1.2"/>
<line x1="1131.0" y1="735.0" x2="1131.0" y2="730.5" stroke="#111" stroke-width="1.2"/>
<text x="1131.0" y="752.8" font-size="15.4" font-family="'Liberation Sans', sans-serif" fill="#111" font-weight="bold" text-anchor="middle">4</text>
<line x1="1159.9" y1="735.0" x2="1159.9" y2="732.5" stroke="#111" stroke-width="1.2"/>
<line x1="1188.9" y1="735.0" x2="1188.9" y2="730.5" stroke="#111" stroke-width="1.2"/>
<text x="1188.9" y="752.8" font-size="15.4" font-family="'Liberation Sans', sans-serif" fill="#111" font-weight="bold" text-anchor="middle">2</text>
<line x1="1217.8" y1="735.0" x2="1217.8" y2="732.5" stroke="#111" stroke-width="1.2"/>
<line x1="1246.8" y1="735.0" x2="1246.8" y2="730.5" stroke="#111" stroke-width="1.2"/>
<text x="1246.8" y="752.8" font-size="15.4" font-family="'Liberation Sans', sans-serif" fill="#111" font-weight="bold" text-anchor="middle">0</text>
<line x1="1275.8" y1="735.0" x2="1275.8" y2="732.5" stroke="#111" stroke-width="1.2"/>
<text x="1120.0" y="769.5" font-size="15.4" font-family="'Liberation Sans', sans-serif" fill="#111" font-weight="bold" text-anchor="middle">Chemical Shift (ppm)</text>
<line x1="1185.4" y1="490.8" x2="1213.4" y2="490.8" stroke="#1212e6" stroke-width="2.2"/>
<text x="1216.7" y="494.9" font-size="10.9" font-family="'Liberation Sans', sans-serif" fill="#111">FAI</text>
<line x1="1185.4" y1="505.9" x2="1213.4" y2="505.9" stroke="#e01212" stroke-width="2.2"/>
<text x="1216.7" y="510.0" font-size="10.9" font-family="'Liberation Sans', sans-serif" fill="#111">FAI+ TMSI</text>
<rect x="1022.9" y="485.3" width="107.5" height="132.7" fill="#fff"/>
<path d="M1022.9 542.8 L1023.8 542.8 L1024.7 542.8 L1025.6 542.8 L1026.5 542.8 L1027.4 542.8 L1028.3 542.8 L1029.2 542.8 L1030.1 542.7 L1031.0 542.7 L1031.9 542.7 L1032.8 542.7 L1033.7 542.7 L1034.6 542.7 L1035.5 542.7 L1036.5 542.7 L1037.4 542.6 L1038.3 542.6 L1039.2 542.6 L1040.1 542.6 L1041.0 542.6 L1041.9 542.5 L1042.8 542.5 L1043.7 542.5 L1044.6 542.4 L1045.5 542.4 L1046.4 542.4 L1047.3 542.3 L1048.2 542.3 L1049.1 542.2 L1050.0 542.2 L1050.9 542.1 L1051.8 542.0 L1052.7 542.0 L1053.6 541.9 L1054.5 541.8 L1055.4 541.7 L1056.3 541.5 L1057.2 541.4 L1058.1 541.2 L1059.0 541.0 L1059.9 540.8 L1060.8 540.5 L1061.7 540.1 L1062.6 539.7 L1063.6 539.2 L1064.5 538.6 L1065.4 537.8 L1066.3 536.8 L1067.2 535.5 L1068.1 533.8 L1069.0 531.5 L1069.9 528.5 L1070.8 524.4 L1071.7 519.2 L1072.6 512.9 L1073.5 506.9 L1074.4 503.6 L1075.3 504.9 L1076.2 510.0 L1077.1 516.4 L1078.0 522.2 L1078.9 526.8 L1079.8 530.2 L1080.7 532.8 L1081.6 534.8 L1082.5 536.2 L1083.4 537.4 L1084.3 538.2 L1085.2 538.9 L1086.1 539.5 L1087.0 539.9 L1087.9 540.3 L1088.8 540.6 L1089.7 540.9 L1090.7 541.1 L1091.6 541.3 L1092.5 541.5 L1093.4 541.6 L1094.3 541.7 L1095.2 541.8 L1096.1 541.9 L1097.0 542.0 L1097.9 542.1 L1098.8 542.1 L1099.7 542.2 L1100.6 542.3 L1101.5 542.3 L1102.4 542.3 L1103.3 542.4 L1104.2 542.4 L1105.1 542.5 L1106.0 542.5 L1106.9 542.5 L1107.8 542.5 L1108.7 542.6 L1109.6 542.6 L1110.5 542.6 L1111.4 542.6 L1112.3 542.6 L1113.2 542.7 L1114.1 542.7 L1115.0 542.7 L1115.9 542.7 L1116.8 542.7 L1117.8 542.7 L1118.7 542.7 L1119.6 542.7 L1120.5 542.8 L1121.4 542.8 L1122.3 542.8 L1123.2 542.8 L1124.1 542.8 L1125.0 542.8 L1125.9 542.8 L1126.8 542.8 L1127.7 542.8 L1128.6 542.8 L1129.5 542.8 L1130.4 542.8" fill="none" stroke="#e01212" stroke-width="1.9" stroke-linejoin="round"/>
<path d="M1022.9 598.5 L1023.8 598.5 L1024.7 598.4 L1025.6 598.4 L1026.5 598.4 L1027.4 598.4 L1028.3 598.4 L1029.2 598.3 L1030.1 598.3 L1031.0 598.3 L1031.9 598.3 L1032.8 598.2 L1033.7 598.2 L1034.6 598.2 L1035.5 598.2 L1036.5 598.1 L1037.4 598.1 L1038.3 598.1 L1039.2 598.0 L1040.1 598.0 L1041.0 597.9 L1041.9 597.9 L1042.8 597.8 L1043.7 597.8 L1044.6 597.7 L1045.5 597.7 L1046.4 597.6 L1047.3 597.6 L1048.2 597.5 L1049.1 597.4 L1050.0 597.3 L1050.9 597.2 L1051.8 597.1 L1052.7 597.0 L1053.6 596.9 L1054.5 596.8 L1055.4 596.7 L1056.3 596.5 L1057.2 596.3 L1058.1 596.2 L1059.0 596.0 L1059.9 595.8 L1060.8 595.5 L1061.7 595.3 L1062.6 595.0 L1063.6 594.6 L1064.5 594.3 L1065.4 593.8 L1066.3 593.4 L1067.2 592.8 L1068.1 592.2 L1069.0 591.6 L1069.9 590.8 L1070.8 589.9 L1071.7 588.8 L1072.6 587.6 L1073.5 586.3 L1074.4 584.7 L1075.3 582.9 L1076.2 580.8 L1077.1 578.5 L1078.0 575.9 L1078.9 573.2 L1079.8 570.5 L1080.7 568.0 L1081.6 565.9 L1082.5 564.5 L1083.4 564.0 L1084.3 564.5 L1085.2 566.0 L1086.1 568.1 L1087.0 570.7 L1087.9 573.4 L1088.8 576.1 L1089.7 578.6 L1090.7 580.9 L1091.6 583.0 L1092.5 584.8 L1093.4 586.3 L1094.3 587.7 L1095.2 588.9 L1096.1 589.9 L1097.0 590.8 L1097.9 591.6 L1098.8 592.3 L1099.7 592.9 L1100.6 593.4 L1101.5 593.9 L1102.4 594.3 L1103.3 594.6 L1104.2 595.0 L1105.1 595.3 L1106.0 595.5 L1106.9 595.8 L1107.8 596.0 L1108.7 596.2 L1109.6 596.4 L1110.5 596.5 L1111.4 596.7 L1112.3 596.8 L1113.2 596.9 L1114.1 597.0 L1115.0 597.1 L1115.9 597.2 L1116.8 597.3 L1117.8 597.4 L1118.7 597.5 L1119.6 597.6 L1120.5 597.6 L1121.4 597.7 L1122.3 597.7 L1123.2 597.8 L1124.1 597.8 L1125.0 597.9 L1125.9 597.9 L1126.8 598.0 L1127.7 598.0 L1128.6 598.1 L1129.5 598.1 L1130.4 598.1" fill="none" stroke="#1212e6" stroke-width="1.9" stroke-linejoin="round"/>
<line x1="1074.4" y1="494.4" x2="1074.4" y2="540.0" stroke="#111" stroke-width="1" stroke-dasharray="2.5 2"/>
<line x1="1083.5" y1="553.4" x2="1083.5" y2="604.5" stroke="#111" stroke-width="1" stroke-dasharray="2.5 2"/>
<line x1="1022.9" y1="618.0" x2="1130.4" y2="618.0" stroke="#d6d6d6" stroke-width="1"/>
<line x1="1022.9" y1="485.3" x2="1022.9" y2="618.0" stroke="#5a5a5a" stroke-width="0.9"/>
<path d="M1022.9 485.3 L1130.4 485.3 L1130.4 618" fill="none" stroke="#111" stroke-width="1.2"/>
<text x="1026.0" y="504.5" font-size="5.6" font-family="'Liberation Sans', sans-serif" fill="#111">FAI+TMSI</text>
<text x="1078.7" y="504.8" font-size="5.6" font-family="'Liberation Sans', sans-serif" fill="#111">8.81</text>
<text x="1026.0" y="567.2" font-size="5.6" font-family="'Liberation Sans', sans-serif" fill="#111">FAI</text>
<text x="1087.0" y="563.2" font-size="5.6" font-family="'Liberation Sans', sans-serif" fill="#111">8.76</text>
<text x="177.9" y="924.4" font-size="25" font-family="'Liberation Sans', sans-serif" fill="#111">(a)</text>
<path d="M219.7 1055.7 L220.0 1055.9 L220.3 1056.6 L220.7 1055.7 L221.0 1055.8 L221.3 1056.0 L221.6 1055.2 L222.0 1055.8 L222.3 1056.0 L222.6 1056.3 L222.9 1055.1 L223.3 1055.4 L223.6 1055.1 L223.9 1056.3 L224.2 1056.1 L224.6 1055.0 L224.9 1056.7 L225.2 1056.6 L225.5 1056.1 L225.9 1056.0 L226.2 1055.2 L226.5 1054.9 L226.8 1055.8 L227.2 1055.0 L227.5 1055.2 L227.8 1055.3 L228.1 1054.9 L228.5 1055.7 L228.8 1055.7 L229.1 1056.4 L229.4 1055.8 L229.8 1056.0 L230.1 1055.8 L230.4 1056.1 L230.7 1055.7 L231.1 1055.4 L231.4 1056.7 L231.7 1056.7 L232.0 1056.4 L232.4 1056.2 L232.7 1055.4 L233.0 1055.3 L233.3 1055.4 L233.6 1055.0 L234.0 1056.3 L234.3 1055.6 L234.6 1056.4 L234.9 1055.6 L235.3 1056.6 L235.6 1056.4 L235.9 1054.9 L236.2 1055.2 L236.6 1056.5 L236.9 1055.7 L237.2 1056.6 L237.5 1055.6 L237.9 1055.0 L238.2 1056.0 L238.5 1056.2 L238.8 1055.3 L239.2 1055.0 L239.5 1055.4 L239.8 1056.6 L240.1 1056.2 L240.5 1055.0 L240.8 1055.2 L241.1 1054.9 L241.4 1054.9 L241.8 1056.2 L242.1 1055.0 L242.4 1055.7 L242.7 1055.4 L243.1 1054.9 L243.4 1055.8 L243.7 1054.6 L244.0 1055.3 L244.4 1054.2 L244.7 1054.4 L245.0 1053.6 L245.3 1053.3 L245.6 1054.2 L246.0 1053.8 L246.3 1053.0 L246.6 1054.5 L246.9 1053.7 L247.3 1054.4 L247.6 1055.5 L247.9 1055.3 L248.2 1054.5 L248.6 1056.2 L248.9 1054.8 L249.2 1055.0 L249.5 1055.9 L249.9 1055.1 L250.2 1055.1 L250.5 1054.7 L250.8 1054.7 L251.2 1055.6 L251.5 1055.0 L251.8 1055.6 L252.1 1055.2 L252.5 1055.3 L252.8 1056.1 L253.1 1055.2 L253.4 1055.3 L253.8 1055.8 L254.1 1054.4 L254.4 1054.2 L254.7 1055.4 L255.1 1055.1 L255.4 1053.8 L255.7 1053.3 L256.0 1053.9 L256.4 1053.6 L256.7 1051.4 L257.0 1051.4 L257.3 1049.4 L257.7 1045.9 L258.0 1040.7 L258.3 1031.8 L258.6 1016.9 L258.9 993.6 L259.3 959.8 L259.6 946.6 L259.9 968.5 L260.2 1001.3 L260.6 1022.8 L260.9 1034.9 L261.2 1041.9 L261.5 1047.1 L261.9 1048.6 L262.2 1050.6 L262.5 1052.3 L262.8 1053.6 L263.2 1053.8 L263.5 1053.6 L263.8 1055.1 L264.1 1054.0 L264.5 1053.9 L264.8 1054.5 L265.1 1054.9 L265.4 1054.4 L265.8 1054.6 L266.1 1055.1 L266.4 1055.5 L266.7 1054.7 L267.1 1055.2 L267.4 1056.2 L267.7 1056.4 L268.0 1055.8 L268.4 1055.9 L268.7 1055.7 L269.0 1055.0 L269.3 1054.8 L269.7 1054.8 L270.0 1056.4 L270.3 1056.0 L270.6 1056.5 L270.9 1054.8 L271.3 1055.9 L271.6 1055.7 L271.9 1056.1 L272.2 1055.4 L272.6 1056.6 L272.9 1055.0 L273.2 1055.8 L273.5 1056.2 L273.9 1056.5 L274.2 1056.2 L274.5 1056.1 L274.8 1056.3 L275.2 1056.5 L275.5 1055.5 L275.8 1056.1 L276.1 1056.5 L276.5 1056.4 L276.8 1055.6 L277.1 1056.3 L277.4 1056.4 L277.8 1055.9 L278.1 1056.0 L278.4 1055.6 L278.7 1055.9 L279.1 1056.0 L279.4 1055.0 L279.7 1056.0 L280.0 1056.7 L280.4 1056.5 L280.7 1056.2 L281.0 1055.6 L281.3 1056.2 L281.7 1055.9 L282.0 1055.7 L282.3 1056.4 L282.6 1055.0 L283.0 1056.2 L283.3 1054.9 L283.6 1056.0 L283.9 1055.7 L284.2 1055.3 L284.6 1056.1 L284.9 1055.8 L285.2 1056.0 L285.5 1056.5 L285.9 1055.3 L286.2 1054.9 L286.5 1055.4 L286.8 1056.1 L287.2 1055.2 L287.5 1055.2 L287.8 1056.5 L288.1 1056.1 L288.5 1055.7 L288.8 1056.5 L289.1 1055.5 L289.4 1056.1 L289.8 1055.2 L290.1 1055.7 L290.4 1056.3 L290.7 1056.5 L291.1 1056.5 L291.4 1055.6 L291.7 1055.9 L292.0 1055.5 L292.4 1055.1 L292.7 1055.8 L293.0 1056.4 L293.3 1056.4 L293.7 1056.2 L294.0 1056.6 L294.3 1055.4 L294.6 1055.2 L295.0 1055.7 L295.3 1055.4 L295.6 1055.3 L295.9 1055.6 L296.2 1056.0 L296.6 1055.8 L296.9 1055.5 L297.2 1056.4 L297.5 1056.7 L297.9 1055.7 L298.2 1055.0 L298.5 1054.9 L298.8 1056.5 L299.2 1055.0 L299.5 1056.2 L299.8 1055.9 L300.1 1055.4 L300.5 1056.3 L300.8 1054.9 L301.1 1055.1 L301.4 1055.7 L301.8 1054.9 L302.1 1056.4 L302.4 1055.3 L302.7 1055.1 L303.1 1055.0 L303.4 1056.0 L303.7 1055.7 L304.0 1056.0 L304.4 1056.1 L304.7 1056.3 L305.0 1056.6 L305.3 1056.1 L305.7 1055.2 L306.0 1055.7 L306.3 1055.2 L306.6 1054.9 L307.0 1055.7 L307.3 1056.2 L307.6 1055.2 L307.9 1055.4 L308.3 1055.5 L308.6 1056.1 L308.9 1055.8 L309.2 1056.0 L309.5 1056.2 L309.9 1055.5 L310.2 1056.3 L310.5 1056.5 L310.8 1055.0 L311.2 1056.5 L311.5 1056.1 L311.8 1055.0 L312.1 1055.6 L312.5 1055.8 L312.8 1056.3 L313.1 1055.3 L313.4 1055.6 L313.8 1056.1 L314.1 1055.8 L314.4 1055.9 L314.7 1054.8 L315.1 1054.7 L315.4 1053.3 L315.7 1053.1 L316.0 1051.4 L316.4 1048.2 L316.7 1045.1 L317.0 1043.5 L317.3 1047.5 L317.7 1050.8 L318.0 1053.0 L318.3 1053.6 L318.6 1054.8 L319.0 1054.4 L319.3 1055.8 L319.6 1055.9 L319.9 1055.1 L320.3 1054.7 L320.6 1055.4 L320.9 1055.6 L321.2 1056.1 L321.5 1055.6 L321.9 1054.8 L322.2 1056.2 L322.5 1054.9 L322.8 1056.2 L323.2 1055.1 L323.5 1055.4 L323.8 1056.2 L324.1 1055.0 L324.5 1055.1 L324.8 1055.7 L325.1 1056.1 L325.4 1056.3 L325.8 1056.0 L326.1 1056.4 L326.4 1055.6 L326.7 1056.4 L327.1 1054.8 L327.4 1055.0 L327.7 1055.5 L328.0 1055.0 L328.4 1055.7 L328.7 1055.4 L329.0 1055.0 L329.3 1055.4 L329.7 1054.7 L330.0 1054.1 L330.3 1054.1 L330.6 1054.9 L331.0 1055.1 L331.3 1054.0 L331.6 1055.4 L331.9 1055.8 L332.3 1055.1 L332.6 1055.4 L332.9 1054.8 L333.2 1055.5 L333.6 1055.5 L333.9 1055.7 L334.2 1054.7 L334.5 1056.5 L334.8 1055.7 L335.2 1055.5 L335.5 1056.2 L335.8 1055.8 L336.1 1055.7 L336.5 1056.1 L336.8 1054.9 L337.1 1055.8 L337.4 1055.6 L337.8 1056.6 L338.1 1056.5 L338.4 1055.3 L338.7 1055.7 L339.1 1055.1 L339.4 1055.6 L339.7 1056.3 L340.0 1056.5 L340.4 1055.7 L340.7 1055.4 L341.0 1055.2 L341.3 1056.0 L341.7 1056.5 L342.0 1055.1 L342.3 1056.3 L342.6 1054.9 L343.0 1055.2 L343.3 1055.3 L343.6 1056.1 L343.9 1055.5 L344.3 1055.5 L344.6 1056.0 L344.9 1055.1 L345.2 1056.2 L345.6 1055.1 L345.9 1055.8 L346.2 1055.3 L346.5 1055.2 L346.8 1055.8 L347.2 1055.7 L347.5 1055.6 L347.8 1055.6 L348.1 1055.8 L348.5 1055.2 L348.8 1055.2 L349.1 1056.0 L349.4 1056.0 L349.8 1055.8 L350.1 1056.4 L350.4 1056.0 L350.7 1056.4 L351.1 1055.3 L351.4 1056.2 L351.7 1056.3 L352.0 1056.5 L352.4 1055.4 L352.7 1055.4 L353.0 1056.5 L353.3 1055.2 L353.7 1056.6 L354.0 1056.4 L354.3 1055.0 L354.6 1055.2 L355.0 1056.1 L355.3 1055.2 L355.6 1054.9 L355.9 1056.2 L356.3 1055.4 L356.6 1056.1 L356.9 1054.8 L357.2 1055.2 L357.6 1055.6 L357.9 1054.3 L358.2 1054.4 L358.5 1054.9 L358.9 1054.8 L359.2 1054.1 L359.5 1051.1 L359.8 1049.4 L360.1 1046.1 L360.5 1042.0 L360.8 1042.2 L361.1 1044.9 L361.4 1048.5 L361.8 1051.0 L362.1 1052.4 L362.4 1054.1 L362.7 1054.6 L363.1 1055.0 L363.4 1054.5 L363.7 1054.7 L364.0 1054.8 L364.4 1056.1 L364.7 1056.4 L365.0 1056.3 L365.3 1054.8 L365.7 1054.8 L366.0 1056.4 L366.3 1055.5 L366.6 1056.1 L367.0 1055.3 L367.3 1055.5 L367.6 1055.6 L367.9 1055.4 L368.3 1055.7 L368.6 1054.6 L368.9 1055.8 L369.2 1056.0 L369.6 1054.6 L369.9 1054.9 L370.2 1055.2 L370.5 1054.3 L370.9 1053.6 L371.2 1053.4 L371.5 1054.0 L371.8 1053.3 L372.1 1055.2 L372.5 1055.3 L372.8 1055.4 L373.1 1055.9 L373.4 1055.6 L373.8 1055.3 L374.1 1055.7 L374.4 1055.6 L374.7 1056.5 L375.1 1056.2 L375.4 1055.2 L375.7 1056.4 L376.0 1056.1 L376.4 1056.2 L376.7 1056.3 L377.0 1055.6 L377.3 1056.4 L377.7 1056.4 L378.0 1056.1 L378.3 1056.2 L378.6 1056.2 L379.0 1055.6 L379.3 1056.1 L379.6 1055.0 L379.9 1055.5 L380.3 1055.7 L380.6 1054.9 L380.9 1055.5 L381.2 1056.0 L381.6 1056.0 L381.9 1055.3 L382.2 1056.5 L382.5 1056.0 L382.9 1055.4 L383.2 1056.0 L383.5 1055.9 L383.8 1055.8 L384.2 1055.5 L384.5 1056.6 L384.8 1056.0 L385.1 1056.1 L385.4 1056.2 L385.8 1056.6 L386.1 1054.8 L386.4 1055.9 L386.7 1056.1 L387.1 1055.3 L387.4 1055.5 L387.7 1054.9 L388.0 1055.1 L388.4 1055.4 L388.7 1054.9 L389.0 1055.2 L389.3 1056.3 L389.7 1055.7 L390.0 1055.6 L390.3 1056.4 L390.6 1055.7 L391.0 1056.4 L391.3 1055.7 L391.6 1056.0 L391.9 1054.6 L392.3 1055.5 L392.6 1055.7 L392.9 1054.4 L393.2 1055.9 L393.6 1054.4 L393.9 1054.8 L394.2 1054.1 L394.5 1054.4 L394.9 1054.3 L395.2 1052.9 L395.5 1053.9 L395.8 1052.1 L396.2 1051.0 L396.5 1049.3 L396.8 1045.8 L397.1 1040.6 L397.4 1032.5 L397.8 1016.9 L398.1 992.2 L398.4 970.2 L398.7 973.2 L399.1 997.8 L399.4 1020.6 L399.7 1033.8 L400.0 1041.8 L400.4 1047.3 L400.7 1049.4 L401.0 1052.0 L401.3 1052.9 L401.7 1052.4 L402.0 1054.6 L402.3 1054.9 L402.6 1053.7 L403.0 1055.4 L403.3 1054.7 L403.6 1054.9 L403.9 1055.9 L404.3 1054.7 L404.6 1055.3 L404.9 1056.1 L405.2 1055.7 L405.6 1055.3 L405.9 1056.3 L406.2 1056.0 L406.5 1055.6 L406.9 1054.8 L407.2 1055.7 L407.5 1055.4 L407.8 1055.0 L408.2 1054.7 L408.5 1055.5 L408.8 1054.8 L409.1 1055.4 L409.5 1055.8 L409.8 1055.4 L410.1 1055.0 L410.4 1055.6 L410.7 1055.2 L411.1 1055.9 L411.4 1055.4 L411.7 1056.2 L412.0 1056.0 L412.4 1055.6 L412.7 1054.6 L413.0 1054.3 L413.3 1055.6 L413.7 1055.2 L414.0 1054.8 L414.3 1054.1 L414.6 1053.6 L415.0 1054.0 L415.3 1053.4 L415.6 1052.9 L415.9 1052.4 L416.3 1051.8 L416.6 1049.9 L416.9 1049.0 L417.2 1049.3 L417.6 1048.4 L417.9 1048.0 L418.2 1046.5 L418.5 1047.1 L418.9 1048.4 L419.2 1049.6 L419.5 1051.0 L419.8 1050.9 L420.2 1052.4 L420.5 1052.2 L420.8 1052.7 L421.1 1054.2 L421.5 1054.2 L421.8 1054.6 L422.1 1054.4 L422.4 1054.7 L422.7 1054.4 L423.1 1054.7 L423.4 1055.5 L423.7 1055.8 L424.0 1054.5 L424.4 1054.6 L424.7 1055.9 L425.0 1055.6 L425.3 1055.9 L425.7 1054.9 L426.0 1055.3 L426.3 1055.0 L426.6 1056.0 L427.0 1055.2 L427.3 1055.6 L427.6 1056.2 L427.9 1055.0 L428.3 1055.3 L428.6 1055.6 L428.9 1055.7 L429.2 1054.7 L429.6 1054.3 L429.9 1053.3 L430.2 1054.1 L430.5 1051.5 L430.9 1049.7 L431.2 1047.4 L431.5 1042.2 L431.8 1036.6 L432.2 1034.1 L432.5 1039.4 L432.8 1044.0 L433.1 1048.5 L433.5 1051.7 L433.8 1052.2 L434.1 1053.4 L434.4 1054.8 L434.8 1055.1 L435.1 1054.6 L435.4 1054.5 L435.7 1055.0 L436.0 1055.8 L436.4 1055.2 L436.7 1054.8 L437.0 1055.9 L437.3 1055.7 L437.7 1056.3 L438.0 1056.4 L438.3 1056.4 L438.6 1055.5 L439.0 1056.2 L439.3 1055.3 L439.6 1055.4 L439.9 1055.5 L440.3 1056.5 L440.6 1056.4 L440.9 1055.3 L441.2 1055.5 L441.6 1055.5 L441.9 1055.5 L442.2 1055.5 L442.5 1055.5 L442.9 1055.2 L443.2 1055.9 L443.5 1056.3 L443.8 1055.8 L444.2 1056.4 L444.5 1055.9 L444.8 1055.2 L445.1 1056.2 L445.5 1056.4 L445.8 1055.4 L446.1 1054.9 L446.4 1055.8 L446.8 1055.8 L447.1 1055.9 L447.4 1056.6 L447.7 1056.0 L448.0 1056.3 L448.4 1055.0 L448.7 1055.8 L449.0 1056.3 L449.3 1055.0 L449.7 1055.0 L450.0 1056.2 L450.3 1056.5 L450.6 1055.0 L451.0 1056.0 L451.3 1055.1 L451.6 1056.2 L451.9 1056.0 L452.3 1055.3 L452.6 1055.2 L452.9 1056.2 L453.2 1055.8 L453.6 1056.2 L453.9 1055.5 L454.2 1055.4 L454.5 1056.6 L454.9 1056.0 L455.2 1055.7 L455.5 1055.8 L455.8 1056.1 L456.2 1056.1 L456.5 1056.4 L456.8 1055.5 L457.1 1056.2 L457.5 1055.9 L457.8 1056.3 L458.1 1056.2 L458.4 1056.2 L458.8 1056.3 L459.1 1056.4 L459.4 1055.8 L459.7 1055.5 L460.1 1055.8 L460.4 1055.9 L460.7 1055.2 L461.0 1055.1 L461.3 1054.5 L461.7 1055.4 L462.0 1055.7 L462.3 1054.4 L462.6 1053.7 L463.0 1053.5 L463.3 1053.4 L463.6 1052.5 L463.9 1053.0 L464.3 1050.4 L464.6 1049.7 L464.9 1048.1 L465.2 1048.0 L465.6 1047.8 L465.9 1047.0 L466.2 1047.6 L466.5 1049.5 L466.9 1051.0 L467.2 1052.6 L467.5 1051.9 L467.8 1052.6 L468.2 1053.3 L468.5 1053.7 L468.8 1054.1 L469.1 1055.1 L469.5 1055.1 L469.8 1054.6 L470.1 1054.6 L470.4 1054.9 L470.8 1054.8 L471.1 1055.9 L471.4 1055.1 L471.7 1055.6 L472.1 1056.1 L472.4 1055.5 L472.7 1055.2 L473.0 1056.3 L473.3 1056.4 L473.7 1055.4 L474.0 1055.7 L474.3 1056.5 L474.6 1055.7 L475.0 1055.2 L475.3 1054.9 L475.6 1056.5 L475.9 1056.3 L476.3 1055.5 L476.6 1055.8 L476.9 1055.8 L477.2 1055.3 L477.6 1056.6 L477.9 1056.0 L478.2 1055.3 L478.5 1054.9 L478.9 1055.7 L479.2 1055.5 L479.5 1056.3 L479.8 1056.1 L480.2 1056.0 L480.5 1055.1 L480.8 1055.1 L481.1 1055.4 L481.5 1055.3 L481.8 1056.4 L482.1 1055.8 L482.4 1056.0 L482.8 1056.7 L483.1 1055.4 L483.4 1055.8 L483.7 1055.1 L484.1 1056.3 L484.4 1054.9 L484.7 1056.4 L485.0 1056.4 L485.4 1056.4 L485.7 1055.0 L486.0 1055.4 L486.3 1056.2 L486.6 1055.1 L487.0 1055.7 L487.3 1055.7 L487.6 1056.6 L487.9 1055.9 L488.3 1056.4 L488.6 1055.4 L488.9 1056.3 L489.2 1055.6 L489.6 1056.5 L489.9 1055.1 L490.2 1056.4 L490.5 1055.3 L490.9 1055.9 L491.2 1055.8 L491.5 1055.2 L491.8 1056.4 L492.2 1055.5 L492.5 1055.5 L492.8 1055.0 L493.1 1055.4 L493.5 1055.7 L493.8 1056.2 L494.1 1055.5 L494.4 1056.1 L494.8 1055.1 L495.1 1055.6 L495.4 1055.7 L495.7 1056.6 L496.1 1056.4 L496.4 1056.1 L496.7 1054.9 L497.0 1055.6 L497.4 1056.2 L497.7 1055.3 L498.0 1055.9 L498.3 1055.7 L498.6 1054.9 L499.0 1056.7 L499.3 1056.3 L499.6 1055.3 L499.9 1056.0 L500.3 1055.4 L500.6 1055.6 L500.9 1055.9 L501.2 1055.4 L501.6 1055.5 L501.9 1055.6 L502.2 1056.1 L502.5 1055.4 L502.9 1055.3 L503.2 1056.2 L503.5 1055.5 L503.8 1056.6 L504.2 1055.9 L504.5 1056.2 L504.8 1055.5 L505.1 1056.4 L505.5 1055.1 L505.8 1055.1 L506.1 1055.1 L506.4 1056.1 L506.8 1056.2 L507.1 1055.2 L507.4 1055.6 L507.7 1056.4 L508.1 1056.0 L508.4 1055.1 L508.7 1055.3 L509.0 1055.2 L509.4 1055.1 L509.7 1055.6 L510.0 1055.0 L510.3 1056.6 L510.7 1055.7 L511.0 1055.8 L511.3 1056.1" fill="none" stroke="#e01212" stroke-width="2.1" stroke-linejoin="round"/>
<path d="M219.7 1133.8 L220.0 1133.9 L220.3 1133.1 L220.7 1133.0 L221.0 1133.1 L221.3 1132.4 L221.6 1133.1 L222.0 1133.7 L222.3 1134.2 L222.6 1133.8 L222.9 1133.6 L223.3 1133.5 L223.6 1132.4 L223.9 1133.0 L224.2 1133.0 L224.6 1133.6 L224.9 1132.6 L225.2 1133.1 L225.5 1133.3 L225.9 1133.8 L226.2 1133.9 L226.5 1133.5 L226.8 1132.7 L227.2 1133.8 L227.5 1134.0 L227.8 1133.4 L228.1 1133.0 L228.5 1133.3 L228.8 1132.6 L229.1 1133.7 L229.4 1134.2 L229.8 1133.3 L230.1 1133.7 L230.4 1133.9 L230.7 1132.7 L231.1 1134.1 L231.4 1133.5 L231.7 1132.7 L232.0 1132.5 L232.4 1132.8 L232.7 1133.4 L233.0 1133.6 L233.3 1133.0 L233.6 1134.1 L234.0 1133.0 L234.3 1133.2 L234.6 1132.6 L234.9 1134.1 L235.3 1132.6 L235.6 1134.0 L235.9 1133.4 L236.2 1133.4 L236.6 1133.4 L236.9 1132.9 L237.2 1134.0 L237.5 1134.2 L237.9 1133.9 L238.2 1133.5 L238.5 1132.6 L238.8 1133.9 L239.2 1132.9 L239.5 1134.0 L239.8 1132.8 L240.1 1133.4 L240.5 1133.9 L240.8 1132.7 L241.1 1133.4 L241.4 1132.5 L241.8 1132.4 L242.1 1132.7 L242.4 1134.1 L242.7 1134.1 L243.1 1133.5 L243.4 1132.9 L243.7 1133.6 L244.0 1133.7 L244.4 1133.0 L244.7 1133.4 L245.0 1133.8 L245.3 1132.4 L245.6 1132.7 L246.0 1133.2 L246.3 1132.6 L246.6 1133.0 L246.9 1133.3 L247.3 1132.6 L247.6 1133.2 L247.9 1132.8 L248.2 1133.3 L248.6 1132.9 L248.9 1133.4 L249.2 1132.3 L249.5 1133.5 L249.9 1132.5 L250.2 1134.0 L250.5 1133.3 L250.8 1133.0 L251.2 1132.9 L251.5 1133.3 L251.8 1133.4 L252.1 1133.5 L252.5 1133.4 L252.8 1132.9 L253.1 1133.7 L253.4 1133.4 L253.8 1133.4 L254.1 1132.5 L254.4 1132.4 L254.7 1132.5 L255.1 1132.9 L255.4 1132.0 L255.7 1131.7 L256.0 1131.2 L256.4 1131.5 L256.7 1129.7 L257.0 1128.2 L257.3 1127.9 L257.7 1125.9 L258.0 1121.9 L258.3 1115.8 L258.6 1106.6 L258.9 1091.8 L259.3 1076.7 L259.6 1069.7 L259.9 1079.7 L260.2 1096.3 L260.6 1109.2 L260.9 1117.4 L261.2 1121.9 L261.5 1126.3 L261.9 1128.0 L262.2 1128.9 L262.5 1129.9 L262.8 1130.7 L263.2 1130.9 L263.5 1131.0 L263.8 1132.8 L264.1 1133.1 L264.5 1132.7 L264.8 1133.2 L265.1 1132.5 L265.4 1133.3 L265.8 1132.3 L266.1 1133.3 L266.4 1133.0 L266.7 1133.7 L267.1 1132.3 L267.4 1133.6 L267.7 1132.4 L268.0 1133.1 L268.4 1133.9 L268.7 1132.2 L269.0 1132.7 L269.3 1132.8 L269.7 1132.8 L270.0 1132.4 L270.3 1133.9 L270.6 1133.8 L270.9 1133.0 L271.3 1132.9 L271.6 1133.4 L271.9 1132.4 L272.2 1132.4 L272.6 1133.9 L272.9 1132.9 L273.2 1133.2 L273.5 1134.0 L273.9 1134.1 L274.2 1133.2 L274.5 1132.7 L274.8 1132.9 L275.2 1134.0 L275.5 1134.0 L275.8 1132.7 L276.1 1133.9 L276.5 1133.0 L276.8 1133.2 L277.1 1132.7 L277.4 1134.0 L277.8 1134.2 L278.1 1132.7 L278.4 1133.5 L278.7 1132.7 L279.1 1134.0 L279.4 1132.5 L279.7 1132.6 L280.0 1133.7 L280.4 1132.9 L280.7 1134.0 L281.0 1133.9 L281.3 1133.7 L281.7 1132.6 L282.0 1133.6 L282.3 1134.1 L282.6 1133.2 L283.0 1132.5 L283.3 1132.8 L283.6 1132.9 L283.9 1133.7 L284.2 1132.7 L284.6 1132.7 L284.9 1132.8 L285.2 1133.6 L285.5 1133.8 L285.9 1133.1 L286.2 1133.6 L286.5 1134.0 L286.8 1133.4 L287.2 1132.8 L287.5 1132.9 L287.8 1134.1 L288.1 1133.6 L288.5 1132.9 L288.8 1133.5 L289.1 1132.6 L289.4 1134.2 L289.8 1133.2 L290.1 1133.3 L290.4 1133.3 L290.7 1132.5 L291.1 1133.5 L291.4 1132.9 L291.7 1132.8 L292.0 1133.8 L292.4 1132.5 L292.7 1132.9 L293.0 1133.8 L293.3 1132.8 L293.7 1132.9 L294.0 1133.4 L294.3 1132.7 L294.6 1134.0 L295.0 1134.2 L295.3 1132.5 L295.6 1133.2 L295.9 1133.7 L296.2 1133.1 L296.6 1134.1 L296.9 1133.3 L297.2 1132.7 L297.5 1133.4 L297.9 1133.6 L298.2 1133.0 L298.5 1133.6 L298.8 1133.8 L299.2 1133.3 L299.5 1133.3 L299.8 1133.9 L300.1 1133.6 L300.5 1133.3 L300.8 1134.1 L301.1 1132.7 L301.4 1133.8 L301.8 1132.7 L302.1 1133.5 L302.4 1132.8 L302.7 1133.2 L303.1 1133.8 L303.4 1133.8 L303.7 1133.8 L304.0 1132.8 L304.4 1133.3 L304.7 1132.8 L305.0 1133.4 L305.3 1133.3 L305.7 1132.4 L306.0 1133.5 L306.3 1133.7 L306.6 1133.4 L307.0 1134.0 L307.3 1132.7 L307.6 1132.7 L307.9 1132.4 L308.3 1133.3 L308.6 1133.2 L308.9 1133.2 L309.2 1132.8 L309.5 1133.8 L309.9 1132.5 L310.2 1134.0 L310.5 1133.4 L310.8 1133.3 L311.2 1133.8 L311.5 1132.8 L311.8 1132.6 L312.1 1132.9 L312.5 1132.4 L312.8 1132.8 L313.1 1133.4 L313.4 1133.2 L313.8 1132.6 L314.1 1133.2 L314.4 1132.2 L314.7 1133.4 L315.1 1132.0 L315.4 1131.9 L315.7 1131.3 L316.0 1131.7 L316.4 1131.2 L316.7 1130.5 L317.0 1129.0 L317.3 1130.2 L317.7 1130.8 L318.0 1131.2 L318.3 1133.0 L318.6 1131.7 L319.0 1132.7 L319.3 1133.3 L319.6 1133.8 L319.9 1132.4 L320.3 1133.0 L320.6 1133.6 L320.9 1132.3 L321.2 1132.7 L321.5 1133.9 L321.9 1132.6 L322.2 1133.0 L322.5 1132.8 L322.8 1133.1 L323.2 1132.5 L323.5 1132.4 L323.8 1134.1 L324.1 1133.7 L324.5 1133.6 L324.8 1132.7 L325.1 1132.8 L325.4 1133.3 L325.8 1132.7 L326.1 1133.1 L326.4 1133.9 L326.7 1132.9 L327.1 1132.8 L327.4 1133.9 L327.7 1133.2 L328.0 1132.1 L328.4 1132.7 L328.7 1133.0 L329.0 1131.8 L329.3 1132.1 L329.7 1132.6 L330.0 1132.8 L330.3 1132.2 L330.6 1132.7 L331.0 1132.0 L331.3 1132.0 L331.6 1133.0 L331.9 1132.3 L332.3 1133.2 L332.6 1132.3 L332.9 1132.6 L333.2 1132.4 L333.6 1133.1 L333.9 1132.5 L334.2 1132.6 L334.5 1132.6 L334.8 1133.1 L335.2 1132.8 L335.5 1133.1 L335.8 1134.1 L336.1 1133.5 L336.5 1133.9 L336.8 1132.7 L337.1 1133.0 L337.4 1132.5 L337.8 1133.6 L338.1 1133.0 L338.4 1132.9 L338.7 1132.4 L339.1 1132.7 L339.4 1132.8 L339.7 1133.1 L340.0 1134.0 L340.4 1133.7 L340.7 1132.9 L341.0 1133.0 L341.3 1132.7 L341.7 1134.1 L342.0 1133.0 L342.3 1133.8 L342.6 1133.7 L343.0 1134.0 L343.3 1132.4 L343.6 1133.0 L343.9 1133.1 L344.3 1132.5 L344.6 1134.0 L344.9 1133.0 L345.2 1133.8 L345.6 1133.3 L345.9 1132.5 L346.2 1133.1 L346.5 1132.8 L346.8 1132.5 L347.2 1132.7 L347.5 1133.5 L347.8 1132.4 L348.1 1132.9 L348.5 1133.1 L348.8 1133.4 L349.1 1132.6 L349.4 1133.6 L349.8 1132.8 L350.1 1133.7 L350.4 1133.6 L350.7 1132.6 L351.1 1132.7 L351.4 1132.9 L351.7 1133.6 L352.0 1133.1 L352.4 1133.1 L352.7 1133.9 L353.0 1132.8 L353.3 1132.9 L353.7 1133.0 L354.0 1132.7 L354.3 1132.4 L354.6 1132.4 L355.0 1133.4 L355.3 1133.3 L355.6 1133.7 L355.9 1134.0 L356.3 1132.8 L356.6 1133.4 L356.9 1133.8 L357.2 1132.5 L357.6 1133.2 L357.9 1133.1 L358.2 1133.4 L358.5 1133.0 L358.9 1131.5 L359.2 1131.6 L359.5 1129.6 L359.8 1128.7 L360.1 1126.4 L360.5 1123.8 L360.8 1124.4 L361.1 1126.2 L361.4 1128.7 L361.8 1129.9 L362.1 1130.7 L362.4 1131.8 L362.7 1132.3 L363.1 1132.0 L363.4 1133.1 L363.7 1132.4 L364.0 1132.2 L364.4 1132.8 L364.7 1132.9 L365.0 1132.5 L365.3 1133.3 L365.7 1133.5 L366.0 1133.3 L366.3 1133.6 L366.6 1132.4 L367.0 1133.0 L367.3 1133.0 L367.6 1132.5 L367.9 1133.1 L368.3 1132.4 L368.6 1133.2 L368.9 1133.4 L369.2 1133.2 L369.6 1132.9 L369.9 1132.8 L370.2 1132.4 L370.5 1133.0 L370.9 1134.0 L371.2 1133.4 L371.5 1132.8 L371.8 1133.6 L372.1 1132.7 L372.5 1133.2 L372.8 1133.5 L373.1 1134.1 L373.4 1133.0 L373.8 1133.4 L374.1 1134.1 L374.4 1133.8 L374.7 1133.5 L375.1 1133.5 L375.4 1133.1 L375.7 1133.1 L376.0 1132.9 L376.4 1133.9 L376.7 1134.0 L377.0 1133.1 L377.3 1134.0 L377.7 1132.4 L378.0 1132.6 L378.3 1133.3 L378.6 1132.9 L379.0 1133.0 L379.3 1134.1 L379.6 1132.6 L379.9 1132.7 L380.3 1132.8 L380.6 1133.6 L380.9 1132.8 L381.2 1132.4 L381.6 1133.3 L381.9 1133.1 L382.2 1132.8 L382.5 1133.3 L382.9 1133.5 L383.2 1133.3 L383.5 1133.5 L383.8 1133.4 L384.2 1133.9 L384.5 1134.1 L384.8 1133.0 L385.1 1133.0 L385.4 1133.9 L385.8 1132.9 L386.1 1133.6 L386.4 1133.6 L386.7 1133.6 L387.1 1134.1 L387.4 1133.8 L387.7 1132.6 L388.0 1133.4 L388.4 1133.2 L388.7 1133.3 L389.0 1133.0 L389.3 1132.8 L389.7 1133.6 L390.0 1133.2 L390.3 1132.7 L390.6 1132.7 L391.0 1132.8 L391.3 1132.5 L391.6 1133.1 L391.9 1132.4 L392.3 1132.2 L392.6 1132.2 L392.9 1132.2 L393.2 1133.2 L393.6 1132.1 L393.9 1132.6 L394.2 1133.0 L394.5 1132.3 L394.9 1131.6 L395.2 1132.6 L395.5 1132.2 L395.8 1130.2 L396.2 1129.8 L396.5 1129.1 L396.8 1127.8 L397.1 1124.3 L397.4 1120.3 L397.8 1112.2 L398.1 1103.4 L398.4 1094.8 L398.7 1096.0 L399.1 1105.7 L399.4 1115.2 L399.7 1121.7 L400.0 1125.4 L400.4 1127.6 L400.7 1129.7 L401.0 1130.6 L401.3 1131.7 L401.7 1132.1 L402.0 1131.3 L402.3 1132.0 L402.6 1132.7 L403.0 1132.1 L403.3 1132.1 L403.6 1131.9 L403.9 1133.0 L404.3 1133.7 L404.6 1133.8 L404.9 1132.3 L405.2 1133.3 L405.6 1132.9 L405.9 1133.3 L406.2 1132.9 L406.5 1133.8 L406.9 1134.0 L407.2 1132.3 L407.5 1133.5 L407.8 1132.4 L408.2 1132.3 L408.5 1132.7 L408.8 1133.5 L409.1 1134.0 L409.5 1132.4 L409.8 1132.8 L410.1 1132.2 L410.4 1133.1 L410.7 1133.0 L411.1 1132.8 L411.4 1132.6 L411.7 1133.5 L412.0 1133.5 L412.4 1132.5 L412.7 1132.6 L413.0 1132.9 L413.3 1133.1 L413.7 1133.4 L414.0 1132.2 L414.3 1132.6 L414.6 1132.2 L415.0 1132.4 L415.3 1130.9 L415.6 1130.6 L415.9 1130.0 L416.3 1130.9 L416.6 1129.1 L416.9 1128.8 L417.2 1127.4 L417.6 1127.3 L417.9 1126.4 L418.2 1127.5 L418.5 1127.1 L418.9 1128.6 L419.2 1128.6 L419.5 1129.3 L419.8 1130.3 L420.2 1130.6 L420.5 1130.9 L420.8 1130.8 L421.1 1131.1 L421.5 1132.8 L421.8 1132.0 L422.1 1131.7 L422.4 1132.0 L422.7 1132.6 L423.1 1133.6 L423.4 1132.3 L423.7 1133.5 L424.0 1132.9 L424.4 1132.8 L424.7 1133.5 L425.0 1132.8 L425.3 1132.2 L425.7 1133.1 L426.0 1133.3 L426.3 1133.3 L426.6 1132.6 L427.0 1133.8 L427.3 1133.7 L427.6 1133.9 L427.9 1132.9 L428.3 1133.5 L428.6 1133.3 L428.9 1132.2 L429.2 1131.8 L429.6 1131.9 L429.9 1131.5 L430.2 1131.1 L430.5 1130.9 L430.9 1130.6 L431.2 1128.2 L431.5 1126.2 L431.8 1122.7 L432.2 1122.3 L432.5 1125.5 L432.8 1126.5 L433.1 1129.4 L433.5 1131.3 L433.8 1132.1 L434.1 1132.5 L434.4 1132.2 L434.8 1133.2 L435.1 1133.4 L435.4 1133.4 L435.7 1133.8 L436.0 1132.3 L436.4 1133.9 L436.7 1132.9 L437.0 1133.5 L437.3 1132.7 L437.7 1133.9 L438.0 1132.3 L438.3 1133.3 L438.6 1132.7 L439.0 1133.0 L439.3 1133.0 L439.6 1133.5 L439.9 1133.8 L440.3 1133.0 L440.6 1133.5 L440.9 1133.0 L441.2 1132.9 L441.6 1134.0 L441.9 1132.9 L442.2 1132.5 L442.5 1133.0 L442.9 1133.7 L443.2 1132.7 L443.5 1133.7 L443.8 1133.3 L444.2 1133.6 L444.5 1132.7 L444.8 1132.6 L445.1 1132.6 L445.5 1133.0 L445.8 1133.1 L446.1 1132.4 L446.4 1133.3 L446.8 1133.1 L447.1 1133.0 L447.4 1133.3 L447.7 1134.1 L448.0 1132.7 L448.4 1134.0 L448.7 1133.0 L449.0 1133.7 L449.3 1132.6 L449.7 1134.1 L450.0 1133.1 L450.3 1134.1 L450.6 1132.8 L451.0 1133.1 L451.3 1133.6 L451.6 1132.7 L451.9 1132.9 L452.3 1133.6 L452.6 1134.1 L452.9 1132.9 L453.2 1132.7 L453.6 1133.0 L453.9 1134.1 L454.2 1132.6 L454.5 1133.5 L454.9 1133.0 L455.2 1133.5 L455.5 1132.7 L455.8 1133.4 L456.2 1133.9 L456.5 1133.9 L456.8 1133.5 L457.1 1133.2 L457.5 1133.3 L457.8 1132.5 L458.1 1133.8 L458.4 1133.5 L458.8 1133.1 L459.1 1133.4 L459.4 1133.0 L459.7 1132.9 L460.1 1132.6 L460.4 1133.2 L460.7 1133.1 L461.0 1133.0 L461.3 1132.1 L461.7 1133.0 L462.0 1132.6 L462.3 1132.8 L462.6 1132.6 L463.0 1133.0 L463.3 1131.3 L463.6 1131.5 L463.9 1132.0 L464.3 1131.0 L464.6 1129.5 L464.9 1129.6 L465.2 1129.5 L465.6 1128.1 L465.9 1129.1 L466.2 1128.3 L466.5 1130.5 L466.9 1130.3 L467.2 1130.5 L467.5 1132.1 L467.8 1132.1 L468.2 1132.9 L468.5 1133.0 L468.8 1133.1 L469.1 1132.7 L469.5 1133.7 L469.8 1132.1 L470.1 1133.6 L470.4 1133.4 L470.8 1132.6 L471.1 1133.6 L471.4 1133.0 L471.7 1133.2 L472.1 1133.8 L472.4 1132.6 L472.7 1132.8 L473.0 1133.4 L473.3 1132.4 L473.7 1133.3 L474.0 1133.7 L474.3 1133.2 L474.6 1132.8 L475.0 1133.8 L475.3 1133.9 L475.6 1133.7 L475.9 1133.3 L476.3 1134.0 L476.6 1133.8 L476.9 1132.6 L477.2 1133.0 L477.6 1132.5 L477.9 1132.4 L478.2 1133.0 L478.5 1133.9 L478.9 1133.9 L479.2 1132.6 L479.5 1132.7 L479.8 1133.1 L480.2 1133.9 L480.5 1133.5 L480.8 1134.0 L481.1 1132.5 L481.5 1134.2 L481.8 1132.8 L482.1 1133.5 L482.4 1134.0 L482.8 1133.7 L483.1 1132.7 L483.4 1133.6 L483.7 1133.2 L484.1 1132.4 L484.4 1133.0 L484.7 1133.0 L485.0 1133.5 L485.4 1132.9 L485.7 1133.5 L486.0 1133.6 L486.3 1132.7 L486.6 1132.6 L487.0 1133.6 L487.3 1133.2 L487.6 1132.6 L487.9 1132.6 L488.3 1134.1 L488.6 1133.5 L488.9 1133.0 L489.2 1132.7 L489.6 1134.2 L489.9 1133.6 L490.2 1133.7 L490.5 1133.0 L490.9 1133.0 L491.2 1133.1 L491.5 1132.7 L491.8 1133.5 L492.2 1133.2 L492.5 1133.9 L492.8 1133.1 L493.1 1133.2 L493.5 1133.3 L493.8 1134.1 L494.1 1133.0 L494.4 1133.7 L494.8 1132.8 L495.1 1133.4 L495.4 1132.9 L495.7 1134.0 L496.1 1132.9 L496.4 1133.9 L496.7 1133.6 L497.0 1133.2 L497.4 1134.1 L497.7 1133.1 L498.0 1133.7 L498.3 1133.5 L498.6 1133.2 L499.0 1132.5 L499.3 1133.2 L499.6 1132.9 L499.9 1133.2 L500.3 1134.1 L500.6 1132.9 L500.9 1133.6 L501.2 1133.6 L501.6 1132.8 L501.9 1133.1 L502.2 1132.6 L502.5 1134.0 L502.9 1132.9 L503.2 1133.2 L503.5 1133.0 L503.8 1133.9 L504.2 1133.9 L504.5 1133.5 L504.8 1133.4 L505.1 1132.6 L505.5 1134.0 L505.8 1132.6 L506.1 1133.1 L506.4 1133.1 L506.8 1133.7 L507.1 1133.6 L507.4 1133.0 L507.7 1134.0 L508.1 1134.1 L508.4 1132.4 L508.7 1133.5 L509.0 1133.2 L509.4 1133.0 L509.7 1133.2 L510.0 1133.0 L510.3 1133.6 L510.7 1133.5 L511.0 1134.1 L511.3 1134.2" fill="none" stroke="#1212e6" stroke-width="2.1" stroke-linejoin="round"/>
<line x1="219.7" y1="908.7" x2="511.3" y2="908.7" stroke="#dcdcdc" stroke-width="1.2"/>
<line x1="219.7" y1="908.7" x2="219.7" y2="1144.8" stroke="#111" stroke-width="1.2"/>
<line x1="511.3" y1="908.7" x2="511.3" y2="1144.8" stroke="#111" stroke-width="1.2"/>
<line x1="219.1" y1="1144.8" x2="511.9" y2="1144.8" stroke="#111" stroke-width="1.4"/>
<text x="219.7" y="1160.8" font-size="13.6" font-family="'Liberation Sans', sans-serif" fill="#111" font-weight="bold" text-anchor="middle">10</text>
<line x1="268.3" y1="1144.8" x2="268.3" y2="1142.8" stroke="#111" stroke-width="1.1"/>
<line x1="316.9" y1="1144.8" x2="316.9" y2="1141.2" stroke="#111" stroke-width="1.1"/>
<text x="316.9" y="1160.8" font-size="13.6" font-family="'Liberation Sans', sans-serif" fill="#111" font-weight="bold" text-anchor="middle">20</text>
<line x1="365.5" y1="1144.8" x2="365.5" y2="1142.8" stroke="#111" stroke-width="1.1"/>
<line x1="414.1" y1="1144.8" x2="414.1" y2="1141.2" stroke="#111" stroke-width="1.1"/>
<text x="414.1" y="1160.8" font-size="13.6" font-family="'Liberation Sans', sans-serif" fill="#111" font-weight="bold" text-anchor="middle">30</text>
<line x1="462.7" y1="1144.8" x2="462.7" y2="1142.8" stroke="#111" stroke-width="1.1"/>
<text x="511.3" y="1160.8" font-size="13.6" font-family="'Liberation Sans', sans-serif" fill="#111" font-weight="bold" text-anchor="middle">40</text>
<text x="365.6" y="1176.0" font-size="14.6" font-family="'Liberation Sans', sans-serif" fill="#111" font-weight="bold" text-anchor="middle">2<tspan font-style="italic">θ</tspan> (degree)</text>
<text x="208.2" y="1027.5" font-size="14.6" font-family="'Liberation Sans', sans-serif" fill="#111" text-anchor="middle" transform="rotate(-90 208.2 1027.5)">Intensity (a.u.)</text>
<line x1="426.0" y1="923.0" x2="452.8" y2="923.0" stroke="#1212e6" stroke-width="1.3"/>
<text x="454.7" y="926.6" font-size="9.8" font-family="'Liberation Sans', sans-serif" fill="#111">Control</text>
<line x1="426.0" y1="936.2" x2="452.8" y2="936.2" stroke="#e01212" stroke-width="1.3"/>
<text x="454.7" y="940.0" font-size="9.8" font-family="'Liberation Sans', sans-serif" fill="#111">With TMSI</text>
<text x="249.3" y="931.2" font-size="9.8" font-family="'Liberation Sans', sans-serif" fill="#111">(110)</text>
<text x="387.6" y="961.0" font-size="9.8" font-family="'Liberation Sans', sans-serif" fill="#111">(220)</text>
<text x="268.6" y="975.2" font-size="9.8" font-family="'Liberation Sans', sans-serif" fill="#111">FWHM= 0.105</text>
<text x="414.3" y="998.6" font-size="9.8" font-family="'Liberation Sans', sans-serif" fill="#111">FWHM= 0.111</text>
<text x="269.0" y="1092.6" font-size="9.8" font-family="'Liberation Sans', sans-serif" fill="#111">FWHM= 0.123</text>
<text x="414.3" y="1104.4" font-size="9.8" font-family="'Liberation Sans', sans-serif" fill="#111">FWHM= 0.125</text>
<text x="529.6" y="924.4" font-size="25" font-family="'Liberation Sans', sans-serif" fill="#111">(d)</text>
<rect x="590.6" y="909.3" width="21.4" height="19.4" fill="url(#bAg)"/>
<text x="595.6" y="923.0" font-size="11.6" font-family="'Liberation Sans', sans-serif" fill="#222">Ag</text>
<rect x="612.0" y="909.3" width="86.7" height="19.4" fill="url(#bB)"/>
<text x="620.3" y="923.0" font-size="11.6" font-family="'Liberation Sans', sans-serif" fill="#222">BCP/PCBM</text>
<rect x="698.7" y="909.3" width="107.3" height="19.4" fill="url(#bP)"/>
<text x="722.0" y="923.0" font-size="11.6" font-family="'Liberation Sans', sans-serif" fill="#222">Perovskite</text>
<rect x="806.0" y="909.3" width="76.9" height="19.4" fill="url(#bE)"/>
<text x="809.0" y="923.0" font-size="11.6" font-family="'Liberation Sans', sans-serif" fill="#222">PEDOT:PSS</text>
<path d="M590.6 1037.6 L591.2 1037.3 L591.8 1041.7 L592.4 1047.8 L592.9 1048.6 L593.5 1050.6 L594.1 1051.0 L594.7 1051.7 L595.3 1056.8 L595.9 1058.1 L596.4 1054.3 L597.0 1057.0 L597.6 1055.4 L598.2 1059.8 L598.8 1057.5 L599.4 1056.1 L599.9 1059.0 L600.5 1055.1 L601.1 1055.5 L601.7 1060.5 L602.3 1060.6 L602.9 1057.8 L603.5 1055.7 L604.0 1058.9 L604.6 1059.9 L605.2 1058.8 L605.8 1061.0 L606.4 1060.0 L607.0 1058.8 L607.5 1058.5 L608.1 1060.0 L608.7 1060.0 L609.3 1060.0 L609.9 1055.8 L610.5 1050.8 L611.0 1042.4 L612.1 1024.8 L613.2 1001.0 L614.2 987.9 L615.3 981.8 L616.4 977.2 L617.4 974.0 L618.5 972.0 L619.5 970.8 L620.6 969.8 L621.7 969.0 L622.7 968.3 L623.8 967.8 L624.8 967.5 L625.9 967.3 L627.0 967.1 L628.0 966.9 L629.1 966.8 L630.2 966.7 L631.2 966.7 L632.3 966.8 L633.3 966.9 L634.4 967.0 L635.5 967.1 L636.5 967.3 L637.6 967.5 L638.7 967.7 L639.7 967.9 L640.8 968.1 L641.8 968.4 L642.9 968.7 L644.0 968.9 L645.0 969.2 L646.1 969.5 L647.2 969.8 L648.2 970.1 L649.3 970.3 L650.3 970.6 L651.4 970.9 L652.5 971.3 L653.5 971.6 L654.6 972.0 L655.6 972.4 L656.7 972.8 L657.8 973.3 L658.8 973.7 L659.9 974.2 L661.0 974.7 L662.0 975.1 L663.1 975.6 L664.1 976.1 L665.2 976.6 L666.3 977.2 L667.3 977.7 L668.4 978.2 L669.5 978.7 L670.5 979.2 L671.6 979.8 L672.6 980.3 L673.7 980.9 L674.8 981.5 L675.8 982.1 L676.9 982.7 L677.9 983.3 L679.0 984.0 L680.1 984.6 L681.1 985.2 L682.2 985.9 L683.3 986.6 L684.3 987.2 L685.4 987.9 L686.4 988.5 L687.5 989.1 L688.6 989.8 L689.6 990.4 L690.7 991.0 L691.8 991.6 L692.8 992.2 L693.9 992.9 L694.9 993.7 L696.0 994.4 L697.1 995.2 L698.1 995.9 L699.2 996.6 L700.3 997.3 L701.3 997.8 L702.4 998.3 L703.4 998.8 L704.5 999.0 L705.6 999.2 L706.6 999.2 L707.7 998.9 L708.7 998.3 L709.8 997.6 L710.9 996.7 L711.9 995.7 L713.0 994.7 L714.1 993.3 L715.1 991.5 L716.2 989.4 L717.2 987.0 L718.3 984.4 L719.4 981.7 L720.4 979.0 L721.5 976.3 L722.6 973.8 L723.6 971.5 L724.7 969.2 L725.7 966.8 L726.8 964.4 L727.9 962.0 L728.9 959.6 L730.0 957.3 L731.0 955.1 L732.1 952.9 L733.2 950.9 L734.2 949.0 L735.3 947.3 L736.4 945.7 L737.4 944.0 L738.5 942.3 L739.5 940.6 L740.6 939.0 L741.7 937.5 L742.7 936.1 L743.8 935.0 L744.9 934.1 L745.9 933.5 L747.0 933.2 L748.0 933.2 L749.1 933.2 L750.2 933.2 L751.2 933.2 L752.3 933.2 L753.4 933.2 L754.4 933.2 L755.5 933.2 L756.5 933.2 L757.6 933.2 L758.7 933.2 L759.7 933.2 L760.8 933.2 L761.8 933.2 L762.9 933.2 L764.0 933.2 L765.0 933.2 L766.1 933.2 L767.2 933.2 L768.2 933.2 L769.3 933.2 L770.3 933.2 L771.4 933.2 L772.5 933.2 L773.5 933.2 L774.6 933.2 L775.7 933.2 L776.7 933.2 L777.8 933.2 L778.8 933.2 L779.9 933.2 L781.0 933.2 L782.0 933.2 L783.1 933.2 L784.1 933.2 L785.2 933.2 L786.3 933.2 L787.3 933.2 L788.4 933.2 L789.5 933.2 L790.5 933.2 L791.6 933.2 L792.6 933.2 L793.7 933.2 L794.8 933.2 L795.8 933.2 L796.9 933.2 L798.0 933.2 L799.0 933.2 L800.1 933.2 L801.1 933.2 L802.2 933.2 L803.3 933.2 L804.3 933.2 L805.4 933.2 L806.5 933.2 L807.5 933.2 L808.6 933.2 L809.6 933.2 L810.7 933.2 L811.8 933.2 L812.8 933.2 L813.9 933.5 L814.9 938.4 L816.0 942.7 L817.1 945.9 L817.7 945.3 L818.2 947.2 L818.8 947.1 L819.4 948.2 L820.0 951.5 L820.6 951.0 L821.2 953.3 L821.7 954.3 L822.3 955.0 L822.9 953.3 L823.5 954.3 L824.1 955.0 L824.7 957.3 L825.2 957.1 L825.8 957.3 L826.4 959.2 L827.0 959.2 L827.6 960.9 L828.2 961.8 L828.8 961.7 L829.3 960.1 L829.9 961.4 L830.5 960.6 L831.1 962.4 L831.7 963.3 L832.3 961.9 L832.8 962.1 L833.4 964.9 L834.0 963.0 L834.6 965.1 L835.2 965.2 L835.8 962.9 L836.3 965.6 L836.9 965.1 L837.5 962.7 L838.1 964.5 L838.7 965.4 L839.3 965.2 L839.9 964.9 L840.4 963.2 L841.0 965.2 L841.6 962.5 L842.2 964.1 L842.8 962.1 L843.4 962.2 L843.9 964.1 L844.5 964.1 L845.1 963.4 L845.7 964.5 L846.3 962.7 L846.9 964.7 L847.4 964.8 L848.0 961.8 L848.6 964.2 L849.2 963.5 L849.8 964.2 L850.4 965.0 L850.9 966.2 L851.5 963.9 L852.1 964.1 L852.7 964.5 L853.3 967.7 L853.9 967.8 L854.5 967.0 L855.0 966.2 L855.6 968.0 L856.2 968.0 L856.8 968.4 L857.4 970.1 L858.0 969.6 L858.5 970.8 L859.1 971.4 L859.7 972.4 L860.3 972.2 L860.9 970.4 L861.5 972.5 L862.0 972.4 L862.6 972.8 L863.2 972.4 L863.8 974.6 L864.4 975.3 L865.0 975.7 L865.6 976.2 L866.1 974.9 L866.7 975.2 L867.3 977.5 L867.9 977.9 L868.5 977.6 L869.1 977.9 L869.6 978.3 L870.2 979.8 L870.8 980.9 L871.4 980.5 L872.0 981.5 L872.6 980.3 L873.1 982.2 L873.7 982.6 L874.3 981.2 L874.9 982.6 L875.5 981.4 L876.1 982.7 L876.6 981.9 L877.2 984.5 L877.8 983.7 L878.4 983.1 L879.0 985.8 L879.6 983.4 L880.2 986.2 L880.7 984.6 L881.3 984.3 L881.9 985.2 L882.5 987.2" fill="none" stroke="#3d3d3d" stroke-width="1.8" stroke-linejoin="round"/>
<path d="M590.6 1078.8 L591.2 1079.1 L591.8 1109.7 L592.4 1109.6 L592.9 1083.1 L593.5 1086.7 L594.1 1089.0 L594.7 1101.8 L595.3 1091.3 L595.9 1091.3 L596.4 1092.3 L597.0 1107.2 L597.6 1097.7 L598.2 1099.0 L598.8 1087.4 L599.4 1077.8 L599.9 1079.5 L600.5 1093.8 L601.1 1097.3 L601.7 1103.6 L602.3 1109.7 L602.9 1109.7 L603.5 1096.7 L604.0 1101.9 L604.6 1099.7 L605.2 1081.7 L605.8 1094.6 L606.4 1093.4 L607.0 1104.9 L607.5 1109.7 L608.1 1101.7 L608.7 1108.4 L609.3 1095.1 L609.9 1075.2 L610.5 1080.9 L611.0 1079.2 L612.1 1062.5 L613.2 1034.2 L614.2 1015.0 L615.3 1008.0 L616.4 1010.9 L617.4 1015.4 L618.5 1020.4 L619.5 1025.7 L620.6 1030.3 L621.7 1033.5 L622.7 1036.1 L623.8 1038.3 L624.8 1039.9 L625.9 1041.0 L627.0 1042.0 L628.0 1042.8 L629.1 1043.3 L630.2 1043.3 L631.2 1043.3 L631.8 1041.7 L632.4 1041.3 L633.0 1042.0 L633.6 1041.3 L634.1 1039.9 L634.7 1039.9 L635.3 1039.9 L635.9 1040.1 L636.5 1039.3 L637.1 1037.9 L637.6 1038.7 L638.2 1036.4 L638.8 1037.6 L639.4 1035.6 L640.0 1036.7 L640.6 1034.7 L641.2 1034.9 L641.7 1035.0 L642.3 1034.6 L642.9 1033.8 L643.5 1033.5 L644.1 1033.8 L644.7 1033.6 L645.2 1032.5 L645.8 1031.0 L646.4 1031.4 L647.0 1032.3 L647.6 1030.1 L648.2 1029.9 L648.7 1029.0 L649.3 1030.4 L649.9 1028.6 L650.5 1029.9 L651.1 1028.1 L651.7 1028.6 L652.2 1028.4 L652.8 1026.4 L653.4 1028.0 L654.0 1026.6 L654.6 1025.4 L655.2 1026.6 L655.8 1026.3 L656.3 1024.4 L656.9 1025.2 L657.5 1024.2 L658.1 1025.6 L658.7 1024.5 L659.3 1024.6 L659.8 1023.1 L660.4 1024.3 L661.0 1021.9 L661.6 1023.9 L662.2 1021.9 L662.8 1023.4 L663.3 1022.5 L663.9 1020.9 L664.5 1022.3 L665.1 1021.9 L665.7 1020.4 L666.3 1020.9 L666.9 1021.6 L667.4 1019.0 L668.0 1020.8 L668.6 1020.9 L669.2 1019.9 L669.8 1019.0 L670.4 1019.0 L671.4 1018.6 L672.5 1018.3 L673.5 1017.9 L674.6 1017.5 L675.7 1017.2 L676.7 1016.8 L677.8 1016.5 L678.9 1016.2 L679.9 1015.9 L681.0 1015.7 L682.0 1015.4 L683.1 1015.1 L684.2 1014.9 L685.2 1014.6 L686.3 1014.4 L687.3 1014.1 L688.4 1013.9 L689.5 1013.6 L690.5 1013.3 L691.6 1013.1 L692.7 1012.8 L693.7 1012.5 L694.8 1012.2 L695.8 1011.9 L696.9 1011.5 L698.0 1011.2 L699.0 1010.8 L700.1 1010.5 L701.2 1010.1 L702.2 1009.7 L703.3 1009.3 L704.3 1008.8 L705.4 1008.3 L706.5 1007.8 L707.5 1007.3 L708.6 1006.6 L709.7 1005.9 L710.7 1005.1 L711.8 1004.3 L712.8 1003.4 L713.9 1002.4 L715.0 1001.4 L716.0 1000.4 L717.1 999.4 L718.1 998.4 L719.2 997.4 L720.3 996.2 L721.3 995.0 L722.4 993.8 L723.5 992.5 L724.5 991.2 L725.6 989.9 L726.6 988.6 L727.7 987.3 L728.8 986.0 L729.8 984.8 L730.9 983.7 L732.0 982.6 L733.0 981.6 L734.1 980.8 L735.1 979.9 L736.2 979.1 L737.3 978.2 L738.3 977.4 L739.4 976.6 L740.4 975.9 L741.5 975.1 L742.6 974.5 L743.6 973.9 L744.7 973.5 L745.8 973.1 L746.8 972.8 L747.9 972.6 L748.9 972.5 L750.0 972.4 L751.1 972.3 L752.1 972.2 L753.2 972.1 L754.3 972.0 L755.3 972.0 L756.4 972.1 L757.4 972.3 L758.5 972.5 L759.6 972.8 L760.6 973.2 L761.7 973.7 L762.8 974.2 L763.8 974.7 L764.9 975.2 L765.9 975.8 L767.0 976.4 L768.1 976.9 L769.1 977.5 L770.2 978.0 L771.2 978.4 L772.3 978.9 L773.4 979.4 L774.4 979.9 L775.5 980.4 L776.6 980.9 L777.6 981.4 L778.7 982.0 L779.7 982.5 L780.8 983.0 L781.9 983.5 L782.9 984.0 L784.0 984.5 L785.1 985.0 L786.1 985.5 L787.2 985.9 L788.2 986.3 L789.3 986.7 L790.4 987.1 L791.4 987.4 L792.5 987.7 L793.5 988.0 L794.6 988.2 L795.7 988.5 L796.7 988.8 L797.8 989.0 L798.9 989.3 L799.9 989.5 L801.0 989.8 L802.0 990.1 L803.1 990.4 L804.2 990.7 L805.2 990.9 L806.3 991.2 L807.4 991.4 L808.4 991.7 L809.5 992.1 L810.5 992.6 L811.6 993.3 L812.7 996.1 L813.7 1000.8 L814.8 1005.1 L815.9 1005.0 L816.4 1013.1 L817.0 1012.0 L817.6 1007.4 L818.2 1016.3 L818.8 1014.9 L819.4 1019.0 L819.9 1019.7 L820.5 1013.2 L821.1 1013.1 L821.7 1017.0 L822.3 1022.5 L822.9 1021.7 L823.4 1023.0 L824.0 1019.6 L824.6 1020.1 L825.2 1023.0 L825.8 1022.8 L826.4 1027.2 L826.9 1023.8 L827.5 1020.7 L828.1 1023.0 L828.7 1029.6 L829.3 1026.3 L829.9 1025.1 L830.5 1029.8 L831.0 1024.4 L831.6 1028.9 L832.2 1027.1 L832.8 1030.3 L833.4 1025.3 L834.0 1027.6 L834.5 1030.0 L835.1 1034.3 L835.7 1032.0 L836.3 1036.2 L836.9 1031.5 L837.5 1029.4 L838.0 1036.3 L838.6 1033.8 L839.2 1034.7 L839.8 1036.0 L840.4 1033.9 L841.0 1032.8 L841.6 1036.1 L842.1 1039.6 L842.7 1036.5 L843.3 1043.8 L843.9 1041.5 L844.5 1043.6 L845.1 1043.8 L845.6 1043.9 L846.2 1050.2 L846.8 1046.8 L847.4 1047.7 L848.0 1042.8 L848.6 1037.1 L849.1 1038.2 L849.7 1043.6 L850.3 1039.9 L850.9 1038.6 L851.5 1038.2 L852.1 1041.9 L852.6 1042.0 L853.2 1051.2 L853.8 1044.6 L854.4 1048.4 L855.0 1051.2 L855.6 1050.1 L856.2 1051.6 L856.7 1060.0 L857.3 1054.6 L857.9 1056.3 L858.5 1062.7 L859.1 1058.9 L859.7 1061.5 L860.2 1066.3 L860.8 1061.7 L861.4 1068.8 L862.0 1065.4 L862.6 1067.9 L863.2 1070.4 L863.7 1068.2 L864.3 1069.7 L864.9 1072.6 L865.5 1066.0 L866.1 1074.6 L866.7 1075.6 L867.3 1071.5 L867.8 1068.6 L868.4 1070.6 L869.0 1070.0 L869.6 1072.8 L870.2 1071.4 L870.8 1074.9 L871.3 1076.0 L871.9 1074.3 L872.5 1079.2 L873.1 1079.3 L873.7 1073.7 L874.3 1079.7 L874.8 1075.1 L875.4 1075.5 L876.0 1079.8 L876.6 1078.1 L877.2 1078.0 L877.8 1078.3 L878.3 1086.0 L878.9 1086.9 L879.5 1086.2 L880.1 1087.1 L880.7 1090.4 L881.3 1094.9 L881.9 1091.8 L882.4 1089.9" fill="none" stroke="#4f7a28" stroke-width="2.2" stroke-linejoin="round"/>
<path d="M590.6 1102.7 L591.2 1092.3 L591.8 1098.3 L592.4 1090.4 L592.9 1089.7 L593.5 1108.7 L594.1 1109.7 L594.7 1082.6 L595.3 1102.3 L595.9 1103.2 L596.4 1077.4 L597.0 1095.3 L597.6 1082.9 L598.2 1095.1 L598.8 1089.7 L599.4 1106.3 L599.9 1089.9 L600.5 1082.0 L601.1 1093.8 L601.7 1086.4 L602.3 1088.8 L602.9 1109.4 L603.5 1085.9 L604.0 1091.6 L604.6 1101.5 L605.2 1109.7 L605.8 1082.4 L606.4 1095.7 L607.0 1087.4 L607.5 1082.0 L608.1 1087.6 L608.7 1080.6 L609.3 1098.4 L609.9 1094.0 L610.9 1064.9 L612.0 1048.1 L613.1 1041.7 L614.1 1040.7 L615.2 1040.1 L616.2 1039.6 L617.3 1038.0 L618.4 1038.3 L619.4 1037.1 L620.5 1037.0 L621.6 1035.7 L622.6 1035.1 L623.7 1034.3 L624.7 1032.9 L625.8 1032.1 L626.9 1030.5 L627.9 1030.1 L629.0 1028.7 L630.1 1028.0 L631.1 1026.9 L632.2 1026.8 L633.2 1027.0 L634.3 1024.6 L635.4 1023.5 L636.4 1022.8 L637.5 1022.6 L638.5 1021.5 L639.6 1021.8 L640.7 1019.7 L641.7 1019.6 L642.8 1019.6 L643.9 1019.5 L644.9 1017.3 L646.0 1016.4 L647.0 1017.8 L648.1 1015.7 L649.2 1016.1 L650.2 1016.1 L651.3 1015.4 L652.4 1014.0 L653.4 1013.4 L654.5 1014.9 L655.5 1013.5 L656.6 1014.7 L657.7 1013.2 L658.7 1014.0 L659.8 1012.9 L660.9 1012.7 L661.9 1013.7 L663.0 1012.6 L664.0 1014.1 L665.1 1014.6 L666.2 1013.5 L667.2 1014.7 L668.3 1014.3 L669.3 1013.9 L670.4 1013.5 L671.5 1014.4 L672.5 1014.7 L673.6 1012.9 L674.7 1014.1 L675.7 1012.7 L676.8 1012.8 L677.8 1013.9 L678.9 1013.8 L680.0 1013.8 L681.0 1013.7 L682.1 1014.1 L683.2 1014.5 L684.2 1014.8 L685.3 1014.5 L686.3 1015.9 L687.4 1016.5 L688.5 1016.3 L689.5 1017.8 L690.6 1018.0 L691.6 1017.0 L692.7 1018.3 L693.8 1018.6 L694.8 1020.2 L695.9 1019.8 L697.0 1019.9 L698.0 1021.5 L699.1 1020.7 L700.1 1021.0 L701.2 1022.6 L702.3 1021.6 L703.3 1022.1 L704.4 1021.8 L705.5 1022.4 L706.5 1021.6 L707.6 1021.3 L708.6 1022.5 L709.7 1022.1 L710.8 1020.3 L711.8 1019.2 L712.9 1020.1 L714.0 1018.3 L715.0 1015.9 L716.1 1013.8 L717.1 1011.2 L718.2 1009.2 L719.3 1007.3 L720.3 1005.0 L721.4 1003.9 L722.4 1002.1 L723.5 1000.2 L724.6 998.7 L725.6 997.2 L726.7 995.7 L727.8 994.3 L728.8 993.0 L729.9 991.7 L730.9 990.4 L732.0 989.1 L733.1 987.8 L734.1 986.6 L735.2 985.4 L736.3 984.3 L737.3 983.2 L738.4 982.2 L739.4 981.4 L740.5 980.6 L741.6 980.0 L742.6 979.5 L743.7 979.0 L744.7 978.5 L745.8 978.0 L746.9 977.5 L747.9 977.1 L749.0 976.7 L750.1 976.4 L751.1 976.1 L752.2 975.9 L753.2 975.7 L754.3 975.6 L755.4 975.6 L756.4 975.6 L757.5 975.7 L758.6 975.9 L759.6 976.1 L760.7 976.3 L761.7 976.6 L762.8 977.0 L763.9 977.3 L764.9 977.7 L766.0 978.1 L767.1 978.4 L768.1 978.8 L769.2 979.2 L770.2 979.5 L771.3 979.8 L772.4 980.2 L773.4 980.5 L774.5 980.9 L775.5 981.3 L776.6 981.7 L777.7 982.1 L778.7 982.6 L779.8 983.0 L780.9 983.4 L781.9 983.8 L783.0 984.2 L784.0 984.6 L785.1 984.9 L786.2 985.3 L787.2 985.6 L788.3 985.8 L789.4 986.1 L790.4 986.3 L791.5 986.4 L792.5 986.6 L793.6 986.7 L794.7 986.8 L795.7 986.9 L796.8 987.0 L797.8 987.0 L798.9 987.1 L800.0 987.2 L801.0 987.2 L802.1 987.3 L803.2 987.4 L804.2 987.5 L805.3 987.6 L806.3 987.8 L807.4 988.0 L808.5 988.2 L809.5 988.4 L810.6 988.7 L811.7 989.1 L812.7 991.4 L813.8 995.3 L814.8 1000.3 L815.9 1006.2 L817.0 1010.5 L817.5 1007.4 L818.1 1007.3 L818.7 1008.8 L819.3 1009.3 L819.9 1015.1 L820.5 1011.6 L821.1 1010.6 L821.6 1016.2 L822.2 1015.2 L822.8 1015.6 L823.4 1014.3 L824.0 1015.3 L824.6 1015.3 L825.1 1013.6 L825.7 1018.9 L826.3 1018.8 L826.9 1018.7 L827.5 1019.0 L828.1 1019.7 L828.6 1014.3 L829.2 1015.4 L829.8 1020.7 L830.4 1018.5 L831.0 1020.1 L831.6 1020.6 L832.2 1020.8 L832.7 1019.3 L833.3 1020.2 L833.9 1022.0 L834.5 1023.6 L835.1 1023.1 L835.7 1024.8 L836.2 1022.5 L836.8 1021.9 L837.4 1024.5 L838.0 1026.8 L838.6 1026.6 L839.2 1025.7 L839.7 1024.7 L840.3 1023.9 L840.9 1026.8 L841.5 1024.5 L842.1 1026.0 L842.7 1027.5 L843.2 1028.2 L843.8 1027.8 L844.4 1026.7 L845.0 1028.8 L845.6 1027.3 L846.2 1029.0 L846.8 1030.6 L847.3 1029.0 L847.9 1028.2 L848.5 1032.3 L849.1 1030.3 L849.7 1030.4 L850.3 1027.7 L850.8 1027.5 L851.4 1031.3 L852.0 1028.1 L852.6 1029.0 L853.2 1032.5 L853.8 1031.4 L854.3 1033.8 L854.9 1029.6 L855.5 1030.8 L856.1 1029.6 L856.7 1030.4 L857.3 1031.5 L857.9 1031.4 L858.4 1032.7 L859.0 1036.0 L859.6 1033.2 L860.2 1037.2 L860.8 1036.7 L861.4 1033.0 L861.9 1038.0 L862.5 1038.1 L863.1 1038.4 L863.7 1033.8 L864.3 1038.6 L864.9 1040.0 L865.4 1035.2 L866.0 1040.1 L866.6 1035.9 L867.2 1037.4 L867.8 1036.7 L868.4 1036.3 L869.0 1039.1 L869.5 1038.0 L870.1 1043.2 L870.7 1038.9 L871.3 1040.9 L871.9 1039.9 L872.5 1044.1 L873.0 1040.4 L873.6 1039.6 L874.2 1045.5 L874.8 1044.2 L875.4 1043.0 L876.0 1041.7 L876.5 1045.7 L877.1 1046.5 L877.7 1046.4 L878.3 1044.4 L878.9 1043.9 L879.5 1046.5 L880.0 1047.0 L880.6 1047.2 L881.2 1047.9 L881.8 1047.8 L882.4 1050.3" fill="none" stroke="#1414e0" stroke-width="2.3" stroke-linejoin="round"/>
<path d="M590.6 975.6 L591.7 1034.0 L592.7 1037.7 L593.3 1038.5 L593.9 1038.6 L594.5 1037.1 L595.1 1035.0 L595.6 1035.0 L596.2 1034.8 L596.8 1036.4 L597.4 1035.0 L598.0 1035.7 L598.6 1036.0 L599.1 1036.3 L599.7 1035.9 L600.3 1033.5 L600.9 1033.9 L601.5 1034.1 L602.1 1034.3 L602.7 1036.5 L603.2 1036.2 L603.8 1035.3 L604.4 1035.0 L605.0 1034.7 L605.6 1034.7 L606.2 1037.6 L606.7 1035.8 L607.3 1035.7 L607.9 1036.3 L609.0 1031.4 L610.0 1021.0 L611.1 998.4 L612.2 976.8 L613.2 959.5 L614.3 954.2 L615.3 951.1 L616.4 948.9 L617.5 946.6 L618.5 944.2 L619.6 941.9 L620.7 939.8 L621.7 938.2 L622.8 937.2 L623.8 936.4 L624.9 935.6 L626.0 935.0 L627.0 934.5 L628.1 934.1 L629.2 933.9 L630.2 933.7 L631.3 933.6 L632.3 933.4 L633.4 933.3 L634.5 933.2 L635.5 933.2 L636.6 933.2 L637.6 933.2 L638.7 933.2 L639.8 933.2 L640.8 933.2 L641.9 933.2 L643.0 933.2 L644.0 933.2 L645.1 933.2 L646.1 933.2 L647.2 933.2 L648.3 933.2 L649.3 933.2 L650.4 933.2 L651.5 933.2 L652.5 933.2 L653.6 933.2 L654.6 933.2 L655.7 933.2 L656.8 933.2 L657.8 933.2 L658.9 933.2 L659.9 933.2 L661.0 933.2 L662.1 933.2 L663.1 933.2 L664.2 933.2 L665.3 933.2 L666.3 933.2 L667.4 933.2 L668.4 933.2 L669.5 933.2 L670.6 933.2 L671.6 933.2 L672.7 933.2 L673.8 933.2 L674.8 933.2 L675.9 933.2 L676.9 933.2 L678.0 933.2 L679.1 933.2 L680.1 933.2 L681.2 933.2 L682.3 933.2 L683.3 933.2 L684.4 933.2 L685.4 933.2 L686.5 933.2 L687.6 933.2 L688.6 933.2 L689.7 933.2 L690.7 933.2 L691.8 933.2 L692.9 933.2 L693.9 933.2 L695.0 933.2 L696.1 933.2 L697.1 933.2 L698.2 933.2 L699.2 933.2 L700.3 933.2 L701.4 933.2 L702.4 933.2 L703.5 933.2 L704.6 933.2 L705.6 933.2 L706.7 933.2 L707.7 933.2 L708.8 933.2 L709.9 933.2 L710.9 933.2 L712.0 933.2 L713.0 933.2 L714.1 933.2 L715.2 933.2 L716.2 933.2 L717.3 933.2 L718.4 933.2 L719.4 933.2 L720.5 933.2 L721.5 933.2 L722.6 933.2 L723.7 933.2 L724.7 933.2 L725.8 933.2 L726.9 933.2 L727.9 933.2 L729.0 933.2 L730.0 933.2 L731.1 933.2 L732.2 933.2 L733.2 933.2 L734.3 933.2 L735.4 933.2 L736.4 933.2 L737.5 933.2 L738.5 933.2 L739.6 933.2 L740.7 933.2 L741.7 933.2 L742.8 933.2 L743.8 933.2 L744.9 933.2 L746.0 933.2 L747.0 933.2 L748.1 933.2 L749.2 933.2 L750.2 933.2 L751.3 933.2 L752.3 933.2 L753.4 933.2 L754.5 933.2 L755.5 933.2 L756.6 933.2 L757.7 933.2 L758.7 933.2 L759.8 933.2 L760.8 933.2 L761.9 933.2 L763.0 933.2 L764.0 933.2 L765.1 933.2 L766.1 933.2 L767.2 933.2 L768.3 933.2 L769.3 933.2 L770.4 933.2 L771.5 933.2 L772.5 933.2 L773.6 933.2 L774.6 933.2 L775.7 933.2 L776.8 933.2 L777.8 933.2 L778.9 933.2 L780.0 933.2 L781.0 933.2 L782.1 933.2 L783.1 933.2 L784.2 933.2 L785.3 933.2 L786.3 933.2 L787.4 933.2 L788.5 933.2 L789.5 933.2 L790.6 933.2 L791.6 933.2 L792.7 933.2 L793.8 933.2 L794.8 933.2 L795.9 933.2 L796.9 933.2 L798.0 933.2 L799.1 933.2 L800.1 933.2 L801.2 933.2 L802.3 933.2 L803.3 933.2 L804.4 933.2 L805.4 933.2 L806.5 933.2 L807.6 933.2 L808.6 933.2 L809.7 933.2 L810.8 933.2 L811.8 933.2 L812.9 933.2 L813.9 937.5 L815.0 947.8 L816.1 960.3 L817.1 968.1 L818.2 971.9 L819.2 972.3 L819.8 976.5 L820.4 974.9 L821.0 980.4 L821.6 976.4 L822.2 982.4 L822.8 983.5 L823.3 982.0 L823.9 983.9 L824.5 983.3 L825.1 981.5 L825.7 983.6 L826.3 989.3 L826.8 987.8 L827.4 986.8 L828.0 987.9 L828.6 987.0 L829.2 989.3 L829.8 992.9 L830.3 992.5 L830.9 989.0 L831.5 993.2 L832.1 991.0 L832.7 990.2 L833.3 993.5 L833.9 993.9 L834.4 995.1 L835.0 997.9 L835.6 994.4 L836.2 998.2 L836.8 995.7 L837.4 1000.7 L837.9 997.3 L838.5 998.5 L839.1 1000.3 L839.7 1002.0 L840.3 1004.7 L840.9 1000.7 L841.4 1004.0 L842.0 1002.3 L842.6 1006.5 L843.2 1007.2 L843.8 1007.2 L844.4 1002.8 L844.9 1007.7 L845.5 1002.9 L846.1 1007.0 L846.7 1005.9 L847.3 1007.8 L847.9 1006.3 L848.5 1010.4 L849.0 1008.6 L849.6 1005.2 L850.2 1010.9 L850.8 1008.0 L851.4 1010.8 L852.0 1011.4 L852.5 1013.9 L853.1 1014.5 L853.7 1008.5 L854.3 1009.9 L854.9 1010.6 L855.5 1011.2 L856.0 1010.7 L856.6 1016.9 L857.2 1014.4 L857.8 1015.6 L858.4 1015.5 L859.0 1013.4 L859.6 1015.1 L860.1 1014.0 L860.7 1020.3 L861.3 1016.8 L861.9 1016.9 L862.5 1016.6 L863.1 1017.7 L863.6 1016.4 L864.2 1020.3 L864.8 1016.0 L865.4 1019.8 L866.0 1018.6 L866.6 1016.6 L867.1 1018.1 L867.7 1021.0 L868.3 1021.7 L868.9 1021.2 L869.5 1019.2 L870.1 1016.7 L870.6 1017.6 L871.2 1021.2 L871.8 1021.4 L872.4 1018.6 L873.0 1022.6 L873.6 1021.8 L874.2 1024.8 L874.7 1023.8 L875.3 1021.5 L875.9 1020.6 L876.5 1021.3 L877.1 1023.3 L877.7 1019.3 L878.2 1021.9 L878.8 1025.3 L879.4 1026.2 L880.0 1020.0 L880.6 1020.1 L881.2 1020.7 L881.7 1023.2 L882.3 1025.4" fill="none" stroke="#e81515" stroke-width="2.5" stroke-linejoin="round"/>
<rect x="590.6" y="908.7" width="292.3" height="236.3" fill="none" stroke="#111" stroke-width="1.3"/>
<line x1="590.6" y1="1145.0" x2="590.6" y2="1141.0" stroke="#111" stroke-width="1.1"/>
<text x="590.6" y="1160.8" font-size="13.4" font-family="'Liberation Sans', sans-serif" fill="#111" font-weight="bold" text-anchor="middle">0</text>
<line x1="617.1" y1="1145.0" x2="617.1" y2="1142.8" stroke="#111" stroke-width="1.1"/>
<line x1="643.7" y1="1145.0" x2="643.7" y2="1141.0" stroke="#111" stroke-width="1.1"/>
<text x="643.7" y="1160.8" font-size="13.4" font-family="'Liberation Sans', sans-serif" fill="#111" font-weight="bold" text-anchor="middle">200</text>
<line x1="670.2" y1="1145.0" x2="670.2" y2="1142.8" stroke="#111" stroke-width="1.1"/>
<line x1="696.8" y1="1145.0" x2="696.8" y2="1141.0" stroke="#111" stroke-width="1.1"/>
<text x="696.8" y="1160.8" font-size="13.4" font-family="'Liberation Sans', sans-serif" fill="#111" font-weight="bold" text-anchor="middle">400</text>
<line x1="723.4" y1="1145.0" x2="723.4" y2="1142.8" stroke="#111" stroke-width="1.1"/>
<line x1="749.9" y1="1145.0" x2="749.9" y2="1141.0" stroke="#111" stroke-width="1.1"/>
<text x="749.9" y="1160.8" font-size="13.4" font-family="'Liberation Sans', sans-serif" fill="#111" font-weight="bold" text-anchor="middle">600</text>
<line x1="776.5" y1="1145.0" x2="776.5" y2="1142.8" stroke="#111" stroke-width="1.1"/>
<line x1="803.0" y1="1145.0" x2="803.0" y2="1141.0" stroke="#111" stroke-width="1.1"/>
<text x="803.0" y="1160.8" font-size="13.4" font-family="'Liberation Sans', sans-serif" fill="#111" font-weight="bold" text-anchor="middle">800</text>
<line x1="829.6" y1="1145.0" x2="829.6" y2="1142.8" stroke="#111" stroke-width="1.1"/>
<line x1="856.1" y1="1145.0" x2="856.1" y2="1141.0" stroke="#111" stroke-width="1.1"/>
<text x="856.1" y="1160.8" font-size="13.4" font-family="'Liberation Sans', sans-serif" fill="#111" font-weight="bold" text-anchor="middle">1000</text>
<line x1="882.7" y1="1145.0" x2="882.7" y2="1142.8" stroke="#111" stroke-width="1.1"/>
<line x1="590.6" y1="933.2" x2="594.6" y2="933.2" stroke="#111" stroke-width="1.1"/>
<text x="586.0" y="938.4" font-size="13.2" font-family="'Liberation Sans', sans-serif" fill="#111" font-weight="bold" text-anchor="end">10<tspan dy="-5.5" font-size="9">5</tspan></text>
<line x1="590.6" y1="957.9" x2="592.6" y2="957.9" stroke="#111" stroke-width="0.8"/>
<line x1="590.6" y1="951.7" x2="592.6" y2="951.7" stroke="#111" stroke-width="0.8"/>
<line x1="590.6" y1="943.8" x2="592.6" y2="943.8" stroke="#111" stroke-width="0.8"/>
<line x1="590.6" y1="938.7" x2="592.6" y2="938.7" stroke="#111" stroke-width="0.8"/>
<line x1="590.6" y1="968.5" x2="594.6" y2="968.5" stroke="#111" stroke-width="1.1"/>
<text x="586.0" y="973.7" font-size="13.2" font-family="'Liberation Sans', sans-serif" fill="#111" font-weight="bold" text-anchor="end">10<tspan dy="-5.5" font-size="9">4</tspan></text>
<line x1="590.6" y1="993.2" x2="592.6" y2="993.2" stroke="#111" stroke-width="0.8"/>
<line x1="590.6" y1="987.0" x2="592.6" y2="987.0" stroke="#111" stroke-width="0.8"/>
<line x1="590.6" y1="979.1" x2="592.6" y2="979.1" stroke="#111" stroke-width="0.8"/>
<line x1="590.6" y1="974.0" x2="592.6" y2="974.0" stroke="#111" stroke-width="0.8"/>
<line x1="590.6" y1="1003.8" x2="594.6" y2="1003.8" stroke="#111" stroke-width="1.1"/>
<text x="586.0" y="1009.0" font-size="13.2" font-family="'Liberation Sans', sans-serif" fill="#111" font-weight="bold" text-anchor="end">10<tspan dy="-5.5" font-size="9">3</tspan></text>
<line x1="590.6" y1="1028.5" x2="592.6" y2="1028.5" stroke="#111" stroke-width="0.8"/>
<line x1="590.6" y1="1022.3" x2="592.6" y2="1022.3" stroke="#111" stroke-width="0.8"/>
<line x1="590.6" y1="1014.4" x2="592.6" y2="1014.4" stroke="#111" stroke-width="0.8"/>
<line x1="590.6" y1="1009.3" x2="592.6" y2="1009.3" stroke="#111" stroke-width="0.8"/>
<line x1="590.6" y1="1039.1" x2="594.6" y2="1039.1" stroke="#111" stroke-width="1.1"/>
<text x="586.0" y="1044.3" font-size="13.2" font-family="'Liberation Sans', sans-serif" fill="#111" font-weight="bold" text-anchor="end">10<tspan dy="-5.5" font-size="9">2</tspan></text>
<line x1="590.6" y1="1063.8" x2="592.6" y2="1063.8" stroke="#111" stroke-width="0.8"/>
<line x1="590.6" y1="1057.6" x2="592.6" y2="1057.6" stroke="#111" stroke-width="0.8"/>
<line x1="590.6" y1="1049.7" x2="592.6" y2="1049.7" stroke="#111" stroke-width="0.8"/>
<line x1="590.6" y1="1044.6" x2="592.6" y2="1044.6" stroke="#111" stroke-width="0.8"/>
<line x1="590.6" y1="1074.4" x2="594.6" y2="1074.4" stroke="#111" stroke-width="1.1"/>
<text x="586.0" y="1079.6" font-size="13.2" font-family="'Liberation Sans', sans-serif" fill="#111" font-weight="bold" text-anchor="end">10<tspan dy="-5.5" font-size="9">1</tspan></text>
<line x1="590.6" y1="1099.1" x2="592.6" y2="1099.1" stroke="#111" stroke-width="0.8"/>
<line x1="590.6" y1="1092.9" x2="592.6" y2="1092.9" stroke="#111" stroke-width="0.8"/>
<line x1="590.6" y1="1085.0" x2="592.6" y2="1085.0" stroke="#111" stroke-width="0.8"/>
<line x1="590.6" y1="1079.9" x2="592.6" y2="1079.9" stroke="#111" stroke-width="0.8"/>
<line x1="590.6" y1="1109.7" x2="594.6" y2="1109.7" stroke="#111" stroke-width="1.1"/>
<text x="586.0" y="1114.9" font-size="13.2" font-family="'Liberation Sans', sans-serif" fill="#111" font-weight="bold" text-anchor="end">10<tspan dy="-5.5" font-size="9">0</tspan></text>
<line x1="590.6" y1="1134.4" x2="592.6" y2="1134.4" stroke="#111" stroke-width="0.8"/>
<line x1="590.6" y1="1128.2" x2="592.6" y2="1128.2" stroke="#111" stroke-width="0.8"/>
<line x1="590.6" y1="1120.3" x2="592.6" y2="1120.3" stroke="#111" stroke-width="0.8"/>
<line x1="590.6" y1="1115.2" x2="592.6" y2="1115.2" stroke="#111" stroke-width="0.8"/>
<line x1="590.6" y1="1145.0" x2="594.6" y2="1145.0" stroke="#111" stroke-width="1.1"/>
<text x="586.0" y="1150.2" font-size="13.2" font-family="'Liberation Sans', sans-serif" fill="#111" font-weight="bold" text-anchor="end">10<tspan dy="-5.5" font-size="9">-1</tspan></text>
<text x="736.6" y="1178.8" font-size="14.6" font-family="'Liberation Sans', sans-serif" fill="#111" font-weight="bold" text-anchor="middle">Sputter Time (s)</text>
<text x="555.8" y="1027.5" font-size="14" font-family="'Liberation Sans', sans-serif" fill="#111" font-weight="bold" text-anchor="middle" transform="rotate(-90 555.8 1027.5)">Intensity (counts)</text>
<line x1="721.5" y1="1060.4" x2="748.2" y2="1060.4" stroke="#1414e0" stroke-width="2.3"/>
<text x="750.4" y="1063.6" font-size="8.6" font-family="'Liberation Sans', sans-serif" fill="#111">S<tspan dy="-3.5" font-size="6">-</tspan></text>
<line x1="721.5" y1="1077.8" x2="748.2" y2="1077.8" stroke="#3d3d3d" stroke-width="1.2"/>
<text x="750.4" y="1081.0" font-size="8.6" font-family="'Liberation Sans', sans-serif" fill="#111">O<tspan dy="-3.5" font-size="6">-</tspan></text>
<line x1="721.5" y1="1094.8" x2="748.2" y2="1094.8" stroke="#e81515" stroke-width="2.3"/>
<text x="750.4" y="1098.0" font-size="8.6" font-family="'Liberation Sans', sans-serif" fill="#111">I<tspan dy="-3.5" font-size="6">-</tspan></text>
<line x1="721.5" y1="1112.7" x2="748.2" y2="1112.7" stroke="#4f7a28" stroke-width="2.3"/>
<text x="750.4" y="1115.9" font-size="8.6" font-family="'Liberation Sans', sans-serif" fill="#111">F<tspan dy="-3.5" font-size="6">-</tspan></text>
<text x="913.7" y="924.4" font-size="25" font-family="'Liberation Sans', sans-serif" fill="#111">(e)</text>
<rect x="962.7" y="908.7" width="291.1" height="252.9" fill="none" stroke="#3c4a5c" stroke-width="1.4" stroke-dasharray="6.5 4"/>
<line x1="1045.7" y1="909.8" x2="1045.7" y2="975.4" stroke="#8d9aaa" stroke-width="0.6" opacity="0.6"/>
<line x1="991.5" y1="992.3" x2="1045.7" y2="975.4" stroke="#8d9aaa" stroke-width="0.6" opacity="0.6"/>
<line x1="1102.0" y1="992.3" x2="1045.7" y2="975.4" stroke="#8d9aaa" stroke-width="0.6" opacity="0.6"/>
<ellipse cx="1046" cy="941" rx="64" ry="33" fill="url(#cl1)"/><ellipse cx="1046" cy="945" rx="44.8" ry="22.4" fill="url(#cl1)"/>
<g filter="url(#cb1)">
<polygon points="988.5,954.5 1045.7,937.4 1104.2,954.5 1046.6,968.1" fill="#4c0909" fill-opacity="0.92"/>
<polygon points="987.5,942.4 1046.6,957.3 1046.6,960.3 987.7,945.2" fill="#4b0909" fill-opacity="0.09"/>
<polygon points="987.6,943.8 1046.6,958.5 1046.6,961.5 987.9,946.7" fill="#4c0909" fill-opacity="0.26"/>
<polygon points="987.7,945.2 1046.6,959.7 1046.6,962.7 988.0,948.1" fill="#4e0a0a" fill-opacity="0.42"/>
<polygon points="987.9,946.7 1046.6,961.0 1046.6,963.9 988.1,949.5" fill="#500a0a" fill-opacity="0.59"/>
<polygon points="988.0,948.1 1046.6,962.2 1046.6,965.1 988.2,950.9" fill="#510a0a" fill-opacity="0.77"/>
<polygon points="988.1,949.5 1046.6,963.4 1046.6,966.1 988.3,951.9" fill="#540a0a" fill-opacity="0.86"/>
<polygon points="988.2,950.5 1046.6,964.3 1046.6,967.0 988.4,952.9" fill="#590b0b" fill-opacity="0.89"/>
<polygon points="988.2,951.5 1046.6,965.3 1046.6,968.0 988.4,953.9" fill="#5e0b0b" fill-opacity="0.91"/>
<polygon points="988.3,952.5 1046.6,966.2 1046.6,968.9 988.5,954.9" fill="#630b0b" fill-opacity="0.93"/>
<polygon points="988.4,953.5 1046.6,967.2 1046.6,969.9 988.6,955.9" fill="#680c0c" fill-opacity="0.96"/>
<polygon points="988.5,954.5 1046.6,968.1 1046.6,970.7 988.6,956.6" fill="#740e0c" fill-opacity="0.97"/>
<polygon points="988.5,955.2 1046.6,968.9 1046.6,971.4 988.7,957.4" fill="#87120d" fill-opacity="0.98"/>
<polygon points="988.6,955.9 1046.6,969.7 1046.6,972.2 988.8,958.1" fill="#9b160e" fill-opacity="0.98"/>
<polygon points="988.6,956.6 1046.6,970.5 1046.6,973.0 988.8,958.8" fill="#af1a0f" fill-opacity="0.99"/>
<polygon points="988.7,957.4 1046.6,971.3 1046.6,973.8 988.9,959.5" fill="#c21e10"/>
<polygon points="988.8,958.1 1046.6,972.0 1046.6,976.0 989.0,961.5" fill="#d12412"/>
<polygon points="988.9,960.1 1046.6,974.3 1046.6,978.3 989.2,963.5" fill="#db2d16"/>
<polygon points="989.1,962.1 1046.6,976.5 1046.6,980.5 989.4,965.5" fill="#e6351a"/>
<polygon points="989.2,964.1 1046.6,978.8 1046.6,982.8 989.5,967.5" fill="#f03d1e"/>
<polygon points="989.4,966.1 1046.6,981.0 1046.6,985.0 989.7,969.5" fill="#fa4622"/>
<polygon points="989.6,968.1 1046.6,983.3 1046.6,986.4 989.8,970.9" fill="#fb4622"/>
<polygon points="989.7,969.5 1046.6,984.7 1046.6,987.8 989.9,972.3" fill="#f33f1f"/>
<polygon points="989.8,970.9 1046.6,986.1 1046.6,989.2 990.0,973.8" fill="#ec371b"/>
<polygon points="989.9,972.3 1046.6,987.5 1046.6,990.6 990.1,975.2" fill="#e42f17"/>
<polygon points="990.0,973.8 1046.6,988.8 1046.6,992.0 990.2,976.6" fill="#dc2814"/>
<polygon points="990.1,975.2 1046.6,990.2 1046.6,993.7 990.4,978.2" fill="#d22312" fill-opacity="0.99"/>
<polygon points="990.3,976.8 1046.6,992.0 1046.6,995.4 990.5,979.8" fill="#c72011" fill-opacity="0.97"/>
<polygon points="990.4,978.3 1046.6,993.7 1046.6,997.2 990.6,981.3" fill="#bc1e11" fill-opacity="0.95"/>
<polygon points="990.5,979.9 1046.6,995.4 1046.6,998.9 990.7,982.9" fill="#b11c11" fill-opacity="0.93"/>
<polygon points="990.6,981.5 1046.6,997.2 1046.6,1000.6 990.9,984.5" fill="#a61910" fill-opacity="0.91"/>
<polygon points="990.8,983.0 1046.6,998.9 1046.6,1002.3 991.0,985.6" fill="#a11e16" fill-opacity="0.84"/>
<polygon points="990.9,984.2 1046.6,1000.6 1046.6,1004.1 991.1,986.7" fill="#a22923" fill-opacity="0.73"/>
<polygon points="990.9,985.3 1046.6,1002.3 1046.6,1005.8 991.1,987.9" fill="#a43430" fill-opacity="0.62"/>
<polygon points="991.0,986.5 1046.6,1004.1 1046.6,1007.5 991.2,989.0" fill="#a63f3d" fill-opacity="0.52"/>
<polygon points="991.1,987.6 1046.6,1005.8 1046.6,1009.3 991.3,990.2" fill="#a74a4a" fill-opacity="0.40"/>
<polygon points="991.2,988.7 1046.6,1007.5 1046.6,1012.0 991.4,990.9" fill="#a95858" fill-opacity="0.32"/>
<polygon points="991.3,989.4 1046.6,1010.3 1046.6,1014.8 991.4,991.6" fill="#aa6868" fill-opacity="0.27"/>
<polygon points="991.3,990.2 1046.6,1013.1 1046.6,1017.6 991.5,992.3" fill="#ac7878" fill-opacity="0.21"/>
<polygon points="991.4,990.9 1046.6,1015.9 1046.6,1020.4 991.5,992.3" fill="#ae8888" fill-opacity="0.16"/>
<polygon points="991.4,991.6 1046.6,1018.6 1046.6,1021.4 991.5,992.3" fill="#af9898" fill-opacity="0.11"/>
<polygon points="1104.9,942.4 1046.6,957.3 1046.6,960.3 1104.8,945.2" fill="#430808" fill-opacity="0.09"/>
<polygon points="1104.9,943.8 1046.6,958.5 1046.6,961.5 1104.7,946.7" fill="#450808" fill-opacity="0.26"/>
<polygon points="1104.8,945.2 1046.6,959.7 1046.6,962.7 1104.6,948.1" fill="#460909" fill-opacity="0.42"/>
<polygon points="1104.7,946.7 1046.6,961.0 1046.6,963.9 1104.5,949.5" fill="#480909" fill-opacity="0.59"/>
<polygon points="1104.6,948.1 1046.6,962.2 1046.6,965.1 1104.4,950.9" fill="#490909" fill-opacity="0.77"/>
<polygon points="1104.5,949.5 1046.6,963.4 1046.6,966.1 1104.4,951.9" fill="#4c0909" fill-opacity="0.86"/>
<polygon points="1104.5,950.5 1046.6,964.3 1046.6,967.0 1104.3,952.9" fill="#500a0a" fill-opacity="0.89"/>
<polygon points="1104.4,951.5 1046.6,965.3 1046.6,968.0 1104.3,953.9" fill="#550a0a" fill-opacity="0.91"/>
<polygon points="1104.3,952.5 1046.6,966.2 1046.6,968.9 1104.2,954.9" fill="#590a0a" fill-opacity="0.93"/>
<polygon points="1104.3,953.5 1046.6,967.2 1046.6,969.9 1104.1,955.9" fill="#5d0b0b" fill-opacity="0.96"/>
<polygon points="1104.2,954.5 1046.6,968.1 1046.6,970.7 1104.1,956.6" fill="#680d0b" fill-opacity="0.97"/>
<polygon points="1104.2,955.2 1046.6,968.9 1046.6,971.4 1104.1,957.4" fill="#7a100c" fill-opacity="0.98"/>
<polygon points="1104.1,955.9 1046.6,969.7 1046.6,972.2 1104.0,958.1" fill="#8c140d" fill-opacity="0.98"/>
<polygon points="1104.1,956.6 1046.6,970.5 1046.6,973.0 1104.0,958.8" fill="#9d170d" fill-opacity="0.99"/>
<polygon points="1104.1,957.4 1046.6,971.3 1046.6,973.8 1103.9,959.5" fill="#af1b0e"/>
<polygon points="1104.0,958.1 1046.6,972.0 1046.6,976.0 1103.8,961.5" fill="#bc2110"/>
<polygon points="1103.9,960.1 1046.6,974.3 1046.6,978.3 1103.7,963.5" fill="#c52814"/>
<polygon points="1103.8,962.1 1046.6,976.5 1046.6,980.5 1103.6,965.5" fill="#cf3017"/>
<polygon points="1103.7,964.1 1046.6,978.8 1046.6,982.8 1103.5,967.5" fill="#d8371b"/>
<polygon points="1103.5,966.1 1046.6,981.0 1046.6,985.0 1103.3,969.5" fill="#e13f1f"/>
<polygon points="1103.4,968.1 1046.6,983.3 1046.6,986.4 1103.3,970.9" fill="#e23f1f"/>
<polygon points="1103.3,969.5 1046.6,984.7 1046.6,987.8 1103.2,972.3" fill="#db381c"/>
<polygon points="1103.3,970.9 1046.6,986.1 1046.6,989.2 1103.1,973.8" fill="#d43218"/>
<polygon points="1103.2,972.3 1046.6,987.5 1046.6,990.6 1103.0,975.2" fill="#cd2b15"/>
<polygon points="1103.1,973.8 1046.6,988.8 1046.6,992.0 1102.9,976.6" fill="#c62412"/>
<polygon points="1103.0,975.2 1046.6,990.2 1046.6,993.7 1102.8,978.2" fill="#bd1f10" fill-opacity="0.99"/>
<polygon points="1102.9,976.8 1046.6,992.0 1046.6,995.4 1102.7,979.8" fill="#b31d10" fill-opacity="0.97"/>
<polygon points="1102.8,978.3 1046.6,993.7 1046.6,997.2 1102.6,981.3" fill="#a91b0f" fill-opacity="0.95"/>
<polygon points="1102.7,979.9 1046.6,995.4 1046.6,998.9 1102.6,982.9" fill="#9f190f" fill-opacity="0.93"/>
<polygon points="1102.6,981.5 1046.6,997.2 1046.6,1000.6 1102.5,984.5" fill="#95170f" fill-opacity="0.91"/>
<polygon points="1102.5,983.0 1046.6,998.9 1046.6,1002.3 1102.4,985.6" fill="#911b14" fill-opacity="0.84"/>
<polygon points="1102.5,984.2 1046.6,1000.6 1046.6,1004.1 1102.3,986.7" fill="#922520" fill-opacity="0.73"/>
<polygon points="1102.4,985.3 1046.6,1002.3 1046.6,1005.8 1102.3,987.9" fill="#942f2b" fill-opacity="0.62"/>
<polygon points="1102.3,986.5 1046.6,1004.1 1046.6,1007.5 1102.2,989.0" fill="#953937" fill-opacity="0.52"/>
<polygon points="1102.3,987.6 1046.6,1005.8 1046.6,1009.3 1102.1,990.2" fill="#964342" fill-opacity="0.40"/>
<polygon points="1102.2,988.7 1046.6,1007.5 1046.6,1012.0 1102.1,990.9" fill="#984f4f" fill-opacity="0.32"/>
<polygon points="1102.2,989.4 1046.6,1010.3 1046.6,1014.8 1102.0,991.6" fill="#995e5e" fill-opacity="0.27"/>
<polygon points="1102.1,990.2 1046.6,1013.1 1046.6,1017.6 1102.0,992.3" fill="#9b6c6c" fill-opacity="0.21"/>
<polygon points="1102.1,990.9 1046.6,1015.9 1046.6,1020.4 1102.0,992.3" fill="#9c7a7a" fill-opacity="0.16"/>
<polygon points="1102.0,991.6 1046.6,1018.6 1046.6,1021.4 1102.0,992.3" fill="#9e8989" fill-opacity="0.11"/>
</g>
<circle cx="1038.9" cy="936.7" r="0.9" fill="#5a1010" fill-opacity="0.18"/><circle cx="1060.1" cy="934.1" r="0.5" fill="#4a0a0a" fill-opacity="0.18"/><circle cx="1028.2" cy="932.9" r="0.9" fill="#5a1010" fill-opacity="0.19"/><circle cx="1056.1" cy="920.5" r="0.7" fill="#4a0a0a" fill-opacity="0.17"/><circle cx="1038.4" cy="920.4" r="0.9" fill="#4a0a0a" fill-opacity="0.25"/><circle cx="1041.5" cy="917.5" r="0.7" fill="#5a1010" fill-opacity="0.35"/><circle cx="1040.7" cy="933.7" r="0.6" fill="#5a1010" fill-opacity="0.34"/><circle cx="1034.3" cy="914.4" r="0.8" fill="#5a1010" fill-opacity="0.32"/><circle cx="999.1" cy="929.7" r="0.6" fill="#6a1818" fill-opacity="0.24"/><circle cx="1036.5" cy="918.8" r="0.4" fill="#5a1010" fill-opacity="0.26"/><circle cx="1020.7" cy="929.1" r="1.0" fill="#4a0a0a" fill-opacity="0.19"/><circle cx="1046.8" cy="927.9" r="0.5" fill="#6a1818" fill-opacity="0.32"/><circle cx="1085.8" cy="941.1" r="0.9" fill="#4a0a0a" fill-opacity="0.44"/><circle cx="1056.0" cy="924.9" r="0.8" fill="#6a1818" fill-opacity="0.35"/><circle cx="995.1" cy="947.9" r="0.8" fill="#6a1818" fill-opacity="0.17"/><circle cx="1060.4" cy="939.8" r="0.8" fill="#6a1818" fill-opacity="0.50"/><circle cx="1055.9" cy="926.7" r="0.6" fill="#4a0a0a" fill-opacity="0.48"/><circle cx="1025.7" cy="925.5" r="0.5" fill="#4a0a0a" fill-opacity="0.17"/><circle cx="1047.7" cy="921.4" r="1.0" fill="#6a1818" fill-opacity="0.32"/><circle cx="1031.6" cy="918.3" r="0.7" fill="#6a1818" fill-opacity="0.46"/><circle cx="1069.3" cy="922.6" r="1.0" fill="#6a1818" fill-opacity="0.39"/><circle cx="996.0" cy="926.5" r="0.5" fill="#5a1010" fill-opacity="0.21"/><circle cx="1048.3" cy="930.4" r="0.5" fill="#4a0a0a" fill-opacity="0.25"/><circle cx="1066.0" cy="917.5" r="0.6" fill="#4a0a0a" fill-opacity="0.35"/><circle cx="1086.5" cy="931.6" r="0.8" fill="#4a0a0a" fill-opacity="0.41"/><circle cx="1033.7" cy="929.4" r="0.9" fill="#4a0a0a" fill-opacity="0.29"/><circle cx="1035.6" cy="936.1" r="0.5" fill="#5a1010" fill-opacity="0.49"/><circle cx="1053.7" cy="928.7" r="0.6" fill="#5a1010" fill-opacity="0.17"/><circle cx="1061.8" cy="915.9" r="0.8" fill="#6a1818" fill-opacity="0.17"/><circle cx="1046.0" cy="919.9" r="0.5" fill="#6a1818" fill-opacity="0.24"/><circle cx="1030.9" cy="916.7" r="1.0" fill="#6a1818" fill-opacity="0.31"/><circle cx="1067.5" cy="930.4" r="0.5" fill="#5a1010" fill-opacity="0.41"/><circle cx="1044.1" cy="938.3" r="0.4" fill="#4a0a0a" fill-opacity="0.48"/><circle cx="1014.5" cy="932.1" r="0.8" fill="#5a1010" fill-opacity="0.47"/><circle cx="1047.2" cy="936.4" r="0.8" fill="#5a1010" fill-opacity="0.24"/><circle cx="1022.8" cy="925.9" r="0.6" fill="#5a1010" fill-opacity="0.23"/><circle cx="1014.5" cy="936.2" r="0.9" fill="#4a0a0a" fill-opacity="0.49"/><circle cx="1037.6" cy="944.4" r="0.9" fill="#5a1010" fill-opacity="0.41"/><circle cx="1050.9" cy="925.5" r="1.0" fill="#5a1010" fill-opacity="0.43"/><circle cx="1079.0" cy="929.9" r="0.8" fill="#5a1010" fill-opacity="0.48"/><circle cx="1067.1" cy="948.3" r="0.4" fill="#6a1818" fill-opacity="0.19"/><circle cx="1021.4" cy="930.3" r="0.9" fill="#4a0a0a" fill-opacity="0.32"/><circle cx="1050.7" cy="936.8" r="0.5" fill="#4a0a0a" fill-opacity="0.38"/><circle cx="1086.7" cy="940.5" r="0.9" fill="#6a1818" fill-opacity="0.30"/><circle cx="1020.1" cy="936.2" r="0.9" fill="#5a1010" fill-opacity="0.49"/><circle cx="1023.8" cy="948.0" r="0.5" fill="#4a0a0a" fill-opacity="0.50"/><circle cx="1063.0" cy="913.0" r="0.9" fill="#4a0a0a" fill-opacity="0.43"/><circle cx="1077.4" cy="949.3" r="1.0" fill="#4a0a0a" fill-opacity="0.20"/><circle cx="1087.1" cy="932.8" r="0.4" fill="#5a1010" fill-opacity="0.49"/><circle cx="1026.1" cy="947.5" r="1.0" fill="#6a1818" fill-opacity="0.22"/><circle cx="1018.7" cy="945.2" r="0.6" fill="#5a1010" fill-opacity="0.25"/><circle cx="1048.2" cy="921.9" r="0.9" fill="#6a1818" fill-opacity="0.17"/><circle cx="1082.6" cy="940.1" r="0.8" fill="#6a1818" fill-opacity="0.44"/><circle cx="994.5" cy="945.4" r="0.7" fill="#5a1010" fill-opacity="0.33"/><circle cx="1040.6" cy="912.7" r="0.9" fill="#6a1818" fill-opacity="0.36"/><circle cx="1048.6" cy="917.4" r="0.8" fill="#4a0a0a" fill-opacity="0.34"/><circle cx="1030.5" cy="924.4" r="0.7" fill="#4a0a0a" fill-opacity="0.32"/><circle cx="1055.5" cy="914.2" r="0.6" fill="#5a1010" fill-opacity="0.42"/><circle cx="989.6" cy="931.3" r="0.4" fill="#4a0a0a" fill-opacity="0.46"/><circle cx="1068.6" cy="949.0" r="0.7" fill="#4a0a0a" fill-opacity="0.39"/><circle cx="1055.5" cy="929.2" r="0.9" fill="#4a0a0a" fill-opacity="0.33"/><circle cx="1046.5" cy="945.3" r="1.0" fill="#6a1818" fill-opacity="0.46"/><circle cx="1079.6" cy="919.7" r="0.5" fill="#6a1818" fill-opacity="0.19"/><circle cx="1036.0" cy="921.1" r="0.5" fill="#5a1010" fill-opacity="0.26"/><circle cx="1049.8" cy="916.6" r="1.0" fill="#5a1010" fill-opacity="0.38"/><circle cx="1031.9" cy="917.2" r="0.5" fill="#6a1818" fill-opacity="0.48"/><circle cx="1061.7" cy="927.1" r="0.5" fill="#6a1818" fill-opacity="0.38"/><circle cx="1053.1" cy="949.8" r="0.6" fill="#6a1818" fill-opacity="0.22"/><circle cx="1088.6" cy="924.1" r="0.6" fill="#4a0a0a" fill-opacity="0.27"/><circle cx="1004.4" cy="926.6" r="0.8" fill="#4a0a0a" fill-opacity="0.33"/><circle cx="1057.1" cy="914.4" r="1.0" fill="#5a1010" fill-opacity="0.19"/><circle cx="1045.2" cy="941.6" r="0.9" fill="#6a1818" fill-opacity="0.44"/><circle cx="1053.8" cy="944.3" r="0.9" fill="#4a0a0a" fill-opacity="0.24"/><circle cx="1082.6" cy="933.7" r="0.6" fill="#4a0a0a" fill-opacity="0.25"/><circle cx="1096.0" cy="942.4" r="0.7" fill="#5a1010" fill-opacity="0.18"/><circle cx="1082.3" cy="942.5" r="0.8" fill="#5a1010" fill-opacity="0.23"/><circle cx="1031.2" cy="922.0" r="0.7" fill="#5a1010" fill-opacity="0.27"/><circle cx="1025.3" cy="916.9" r="0.8" fill="#4a0a0a" fill-opacity="0.48"/><circle cx="1067.1" cy="918.9" r="0.8" fill="#6a1818" fill-opacity="0.34"/><circle cx="1041.9" cy="919.8" r="0.7" fill="#6a1818" fill-opacity="0.21"/><circle cx="1043.0" cy="921.5" r="0.4" fill="#5a1010" fill-opacity="0.33"/><circle cx="1050.3" cy="949.2" r="0.7" fill="#4a0a0a" fill-opacity="0.48"/><circle cx="1086.1" cy="928.4" r="0.7" fill="#6a1818" fill-opacity="0.46"/><circle cx="1077.6" cy="948.9" r="0.8" fill="#6a1818" fill-opacity="0.49"/><circle cx="1017.3" cy="938.9" r="0.5" fill="#4a0a0a" fill-opacity="0.50"/><circle cx="1089.6" cy="949.3" r="0.4" fill="#5a1010" fill-opacity="0.37"/><circle cx="1067.4" cy="914.1" r="0.9" fill="#4a0a0a" fill-opacity="0.45"/><circle cx="1025.9" cy="937.5" r="0.8" fill="#6a1818" fill-opacity="0.39"/><circle cx="1063.0" cy="922.2" r="0.6" fill="#5a1010" fill-opacity="0.49"/><circle cx="1051.0" cy="949.0" r="0.6" fill="#4a0a0a" fill-opacity="0.16"/><circle cx="1060.3" cy="919.0" r="0.6" fill="#6a1818" fill-opacity="0.32"/><circle cx="1033.0" cy="931.1" r="0.5" fill="#5a1010" fill-opacity="0.42"/><circle cx="1088.8" cy="917.5" r="0.4" fill="#4a0a0a" fill-opacity="0.16"/><circle cx="1073.5" cy="923.6" r="0.5" fill="#5a1010" fill-opacity="0.49"/><circle cx="1055.7" cy="945.9" r="0.6" fill="#4a0a0a" fill-opacity="0.26"/><circle cx="1033.2" cy="949.4" r="0.6" fill="#5a1010" fill-opacity="0.37"/><circle cx="1077.7" cy="939.2" r="0.8" fill="#4a0a0a" fill-opacity="0.41"/><circle cx="1086.7" cy="942.9" r="0.9" fill="#5a1010" fill-opacity="0.41"/><circle cx="1000.0" cy="912.6" r="0.8" fill="#4a0a0a" fill-opacity="0.46"/><circle cx="1024.9" cy="938.0" r="0.8" fill="#4a0a0a" fill-opacity="0.18"/><circle cx="1084.0" cy="948.5" r="0.9" fill="#6a1818" fill-opacity="0.35"/><circle cx="1056.2" cy="935.9" r="0.7" fill="#4a0a0a" fill-opacity="0.24"/><circle cx="1043.4" cy="914.7" r="0.9" fill="#4a0a0a" fill-opacity="0.18"/><circle cx="1076.4" cy="932.0" r="0.8" fill="#4a0a0a" fill-opacity="0.24"/><circle cx="1065.4" cy="939.7" r="0.5" fill="#5a1010" fill-opacity="0.38"/><circle cx="1055.8" cy="929.5" r="0.4" fill="#6a1818" fill-opacity="0.47"/><circle cx="1044.0" cy="936.0" r="0.4" fill="#5a1010" fill-opacity="0.20"/><circle cx="1054.3" cy="921.6" r="0.8" fill="#4a0a0a" fill-opacity="0.37"/><circle cx="1065.6" cy="1000.1" r="0.4" fill="#805050" fill-opacity="0.23"/><circle cx="1067.7" cy="1000.2" r="0.6" fill="#805050" fill-opacity="0.31"/><circle cx="1035.1" cy="1012.7" r="0.5" fill="#906060" fill-opacity="0.18"/><circle cx="1049.6" cy="999.7" r="0.6" fill="#a08080" fill-opacity="0.44"/><circle cx="1073.0" cy="993.3" r="0.8" fill="#906060" fill-opacity="0.48"/><circle cx="1041.7" cy="987.3" r="0.5" fill="#906060" fill-opacity="0.33"/><circle cx="1059.4" cy="1010.4" r="0.5" fill="#805050" fill-opacity="0.19"/><circle cx="1043.2" cy="996.3" r="0.8" fill="#a08080" fill-opacity="0.32"/><circle cx="1049.0" cy="1000.2" r="0.6" fill="#a08080" fill-opacity="0.40"/><circle cx="1047.3" cy="997.9" r="0.5" fill="#a08080" fill-opacity="0.44"/><circle cx="1087.5" cy="1011.0" r="0.8" fill="#906060" fill-opacity="0.22"/><circle cx="1047.4" cy="985.4" r="0.5" fill="#805050" fill-opacity="0.28"/><circle cx="1029.5" cy="986.5" r="0.4" fill="#906060" fill-opacity="0.38"/><circle cx="1055.5" cy="1004.7" r="0.5" fill="#906060" fill-opacity="0.24"/><circle cx="1031.3" cy="996.6" r="0.8" fill="#a08080" fill-opacity="0.43"/><circle cx="1045.9" cy="1004.6" r="0.6" fill="#805050" fill-opacity="0.40"/><circle cx="1084.5" cy="999.0" r="0.7" fill="#906060" fill-opacity="0.25"/><circle cx="1059.1" cy="986.5" r="0.5" fill="#805050" fill-opacity="0.32"/><circle cx="1035.7" cy="1007.9" r="0.5" fill="#805050" fill-opacity="0.38"/><circle cx="1064.0" cy="994.3" r="0.7" fill="#805050" fill-opacity="0.19"/><circle cx="1041.0" cy="1000.5" r="0.6" fill="#a08080" fill-opacity="0.31"/><circle cx="1039.5" cy="995.3" r="0.6" fill="#a08080" fill-opacity="0.34"/><circle cx="1047.6" cy="1002.2" r="0.5" fill="#a08080" fill-opacity="0.24"/><circle cx="1062.0" cy="1002.7" r="0.7" fill="#906060" fill-opacity="0.29"/><circle cx="1021.6" cy="996.7" r="0.7" fill="#a08080" fill-opacity="0.32"/><circle cx="1062.2" cy="1002.8" r="0.5" fill="#a08080" fill-opacity="0.33"/><circle cx="1013.8" cy="991.7" r="0.8" fill="#a08080" fill-opacity="0.28"/><circle cx="1011.8" cy="1005.0" r="0.8" fill="#a08080" fill-opacity="0.45"/><circle cx="1050.6" cy="986.0" r="0.7" fill="#805050" fill-opacity="0.43"/><circle cx="1043.3" cy="1015.0" r="0.4" fill="#a08080" fill-opacity="0.29"/><circle cx="1087.7" cy="1011.5" r="0.5" fill="#a08080" fill-opacity="0.19"/><circle cx="1026.9" cy="989.8" r="0.8" fill="#805050" fill-opacity="0.19"/><circle cx="1064.2" cy="1011.2" r="0.4" fill="#a08080" fill-opacity="0.42"/><circle cx="1013.4" cy="985.0" r="0.5" fill="#906060" fill-opacity="0.47"/><circle cx="1034.4" cy="989.0" r="0.6" fill="#a08080" fill-opacity="0.30"/><circle cx="1030.6" cy="1008.7" r="0.4" fill="#906060" fill-opacity="0.33"/><circle cx="1026.1" cy="991.9" r="0.4" fill="#805050" fill-opacity="0.34"/><circle cx="1035.0" cy="1015.9" r="0.8" fill="#a08080" fill-opacity="0.38"/><circle cx="1067.5" cy="992.3" r="0.4" fill="#906060" fill-opacity="0.29"/><circle cx="1028.6" cy="1005.1" r="0.4" fill="#906060" fill-opacity="0.32"/><circle cx="1035.4" cy="993.0" r="0.6" fill="#805050" fill-opacity="0.28"/><circle cx="1024.5" cy="1000.3" r="0.5" fill="#805050" fill-opacity="0.30"/><circle cx="1040.4" cy="1009.7" r="0.7" fill="#805050" fill-opacity="0.17"/><circle cx="1032.3" cy="1000.4" r="0.5" fill="#906060" fill-opacity="0.44"/><circle cx="1049.1" cy="1008.6" r="0.4" fill="#a08080" fill-opacity="0.37"/><circle cx="1064.1" cy="1003.9" r="0.6" fill="#906060" fill-opacity="0.47"/><circle cx="1077.6" cy="1013.6" r="0.5" fill="#906060" fill-opacity="0.49"/><circle cx="1058.3" cy="989.4" r="0.7" fill="#906060" fill-opacity="0.21"/><circle cx="1010.6" cy="994.7" r="0.8" fill="#906060" fill-opacity="0.48"/><circle cx="1058.9" cy="995.2" r="0.7" fill="#906060" fill-opacity="0.33"/><circle cx="1026.4" cy="1007.5" r="0.8" fill="#a08080" fill-opacity="0.30"/><circle cx="1051.2" cy="988.4" r="0.5" fill="#906060" fill-opacity="0.27"/><circle cx="1059.0" cy="1014.9" r="0.6" fill="#906060" fill-opacity="0.42"/><circle cx="1043.6" cy="994.6" r="0.4" fill="#a08080" fill-opacity="0.40"/><circle cx="1057.1" cy="998.8" r="0.5" fill="#a08080" fill-opacity="0.46"/><circle cx="1075.6" cy="985.9" r="0.5" fill="#a08080" fill-opacity="0.37"/><circle cx="1027.5" cy="999.4" r="0.5" fill="#906060" fill-opacity="0.41"/><circle cx="1060.3" cy="1012.9" r="0.5" fill="#a08080" fill-opacity="0.27"/>
<line x1="985.8" y1="921.0" x2="1045.7" y2="909.8" stroke="#6d7b8c" stroke-width="0.8" opacity="0.8"/>
<line x1="1045.7" y1="909.8" x2="1106.2" y2="921.0" stroke="#6d7b8c" stroke-width="0.8" opacity="0.8"/>
<line x1="1106.2" y1="921.0" x2="1046.6" y2="934.8" stroke="#6d7b8c" stroke-width="0.8" opacity="0.8"/>
<line x1="1046.6" y1="934.8" x2="985.8" y2="921.0" stroke="#6d7b8c" stroke-width="0.8" opacity="0.8"/>
<line x1="985.8" y1="921.0" x2="991.5" y2="992.3" stroke="#6d7b8c" stroke-width="0.8" opacity="0.8"/>
<line x1="1106.2" y1="921.0" x2="1102.0" y2="992.3" stroke="#6d7b8c" stroke-width="0.8" opacity="0.8"/>
<line x1="1046.6" y1="934.8" x2="1046.6" y2="1021.4" stroke="#6d7b8c" stroke-width="0.8" opacity="0.8"/>
<line x1="991.5" y1="992.3" x2="1046.6" y2="1021.4" stroke="#6d7b8c" stroke-width="0.8" opacity="0.8"/>
<line x1="1046.6" y1="1021.4" x2="1102.0" y2="992.3" stroke="#6d7b8c" stroke-width="0.8" opacity="0.8"/>
<line x1="1188.4" y1="912.5" x2="1188.4" y2="971.8" stroke="#8d9aaa" stroke-width="0.6" opacity="0.6"/>
<line x1="1133.5" y1="991.0" x2="1188.4" y2="971.8" stroke="#8d9aaa" stroke-width="0.6" opacity="0.6"/>
<line x1="1245.0" y1="991.0" x2="1188.4" y2="971.8" stroke="#8d9aaa" stroke-width="0.6" opacity="0.6"/>
<g filter="url(#cb2)">
<polygon points="1129.5,926.5 1188.4,937.0 1188.4,939.4 1129.6,928.4" fill="#4e0909"/>
<polygon points="1129.5,927.1 1188.4,937.7 1188.4,940.0 1129.7,929.1" fill="#550a0a"/>
<polygon points="1129.6,927.8 1188.4,938.4 1188.4,940.7 1129.7,929.7" fill="#5c0b0b"/>
<polygon points="1129.6,928.4 1188.4,939.0 1188.4,941.4 1129.7,930.4" fill="#630c0c"/>
<polygon points="1129.7,929.1 1188.4,939.7 1188.4,942.1 1129.8,931.0" fill="#6a0d0d"/>
<polygon points="1129.7,929.7 1188.4,940.4 1188.4,943.6 1129.9,932.4" fill="#730e0e"/>
<polygon points="1129.8,931.1 1188.4,941.9 1188.4,945.1 1130.0,933.9" fill="#7c0f0f"/>
<polygon points="1129.9,932.6 1188.4,943.4 1188.4,946.6 1130.0,935.3" fill="#851010"/>
<polygon points="1130.0,934.0 1188.4,945.0 1188.4,948.2 1130.1,936.7" fill="#8e1111"/>
<polygon points="1130.1,935.4 1188.4,946.5 1188.4,949.7 1130.2,938.1" fill="#971212"/>
<polygon points="1130.1,936.8 1188.4,948.0 1188.4,951.6 1130.3,939.7" fill="#961212"/>
<polygon points="1130.2,938.4 1188.4,949.9 1188.4,953.4 1130.4,941.2" fill="#8b1111"/>
<polygon points="1130.3,939.9 1188.4,951.7 1188.4,955.3 1130.5,942.8" fill="#800f0f"/>
<polygon points="1130.4,941.5 1188.4,953.6 1188.4,957.1 1130.6,944.3" fill="#750d0d"/>
<polygon points="1130.5,943.0 1188.4,955.4 1188.4,959.0 1130.7,945.9" fill="#6a0c0c"/>
<polygon points="1130.6,944.6 1188.4,957.3 1188.4,961.4 1130.8,947.7" fill="#610b0b"/>
<polygon points="1130.7,946.4 1188.4,959.8 1188.4,963.9 1130.9,949.5" fill="#5b0a0a"/>
<polygon points="1130.8,948.2 1188.4,962.2 1188.4,966.4 1131.0,951.3" fill="#560a0a"/>
<polygon points="1131.0,950.0 1188.4,964.7 1188.4,968.8 1131.1,953.1" fill="#500909"/>
<polygon points="1131.1,951.8 1188.4,967.1 1188.4,971.3 1131.3,954.9" fill="#4a0808"/>
<polygon points="1131.2,953.6 1188.4,969.6 1188.4,971.7 1131.3,955.3" fill="#590909"/>
<polygon points="1131.2,954.0 1188.4,970.0 1188.4,972.1 1131.3,955.8" fill="#7e0c0c"/>
<polygon points="1131.2,954.5 1188.4,970.4 1188.4,972.5 1131.3,956.2" fill="#a30f0f"/>
<polygon points="1131.3,954.9 1188.4,970.8 1188.4,973.0 1131.4,956.7" fill="#c81212"/>
<polygon points="1131.3,955.4 1188.4,971.3 1188.4,973.4 1131.4,957.1" fill="#ed1515"/>
<polygon points="1131.3,955.8 1188.4,971.7 1188.4,979.0 1131.7,962.1" fill="#ff1616"/>
<polygon points="1131.6,960.8 1188.4,977.4 1188.4,984.7 1132.0,967.1" fill="#ff1717"/>
<polygon points="1131.9,965.8 1188.4,983.0 1188.4,990.4 1132.3,972.0" fill="#ff1818"/>
<polygon points="1132.2,970.7 1188.4,988.7 1188.4,996.1 1132.6,977.0" fill="#ff1919"/>
<polygon points="1132.6,975.7 1188.4,994.4 1188.4,1001.7 1132.9,982.0" fill="#ff1a1a"/>
<polygon points="1132.9,980.7 1188.4,1000.0 1188.4,1002.3 1133.0,982.6" fill="#f21919"/>
<polygon points="1132.9,981.3 1188.4,1000.6 1188.4,1002.9 1133.0,983.3" fill="#d71616"/>
<polygon points="1132.9,982.0 1188.4,1001.2 1188.4,1003.5 1133.1,983.9" fill="#bc1313"/>
<polygon points="1133.0,982.6 1188.4,1001.8 1188.4,1004.1 1133.1,984.5" fill="#a21010"/>
<polygon points="1133.0,983.3 1188.4,1002.4 1188.4,1004.7 1133.1,985.2" fill="#870d0d"/>
<polygon points="1133.1,983.9 1188.4,1003.0 1188.4,1006.7 1133.2,986.0" fill="#750c0c"/>
<polygon points="1133.1,984.7 1188.4,1005.0 1188.4,1008.7 1133.2,986.7" fill="#6c0b0b"/>
<polygon points="1133.2,985.5 1188.4,1007.0 1188.4,1010.8 1133.3,987.5" fill="#630a0a"/>
<polygon points="1133.2,986.2 1188.4,1009.1 1188.4,1012.8 1133.3,988.3" fill="#5a0909"/>
<polygon points="1133.3,987.0 1188.4,1011.1 1188.4,1014.8 1133.4,989.1" fill="#510808"/>
<polygon points="1133.3,987.8 1188.4,1013.1 1188.4,1016.5 1133.4,989.7" fill="#4a0808" fill-opacity="0.98"/>
<polygon points="1133.3,988.4 1188.4,1014.8 1188.4,1018.2 1133.5,990.4" fill="#470707" fill-opacity="0.95"/>
<polygon points="1133.4,989.1 1188.4,1016.5 1188.4,1019.9 1133.5,991.0" fill="#440707" fill-opacity="0.93"/>
<polygon points="1133.4,989.7 1188.4,1018.2 1188.4,1021.6 1133.5,991.0" fill="#410707" fill-opacity="0.90"/>
<polygon points="1133.5,990.4 1188.4,1019.9 1188.4,1021.6 1133.5,991.0" fill="#3e0606" fill-opacity="0.86"/>
<polygon points="1248.6,925.5 1188.4,937.0 1188.4,939.4 1248.5,927.5" fill="#4a0909"/>
<polygon points="1248.6,926.2 1188.4,937.7 1188.4,940.0 1248.5,928.1" fill="#510a0a"/>
<polygon points="1248.5,926.8 1188.4,938.4 1188.4,940.7 1248.4,928.8" fill="#570a0a"/>
<polygon points="1248.5,927.5 1188.4,939.0 1188.4,941.4 1248.4,929.4" fill="#5e0b0b"/>
<polygon points="1248.5,928.1 1188.4,939.7 1188.4,942.1 1248.3,930.1" fill="#650c0c"/>
<polygon points="1248.4,928.8 1188.4,940.4 1188.4,943.6 1248.3,931.5" fill="#6d0d0d"/>
<polygon points="1248.3,930.2 1188.4,941.9 1188.4,945.1 1248.2,933.0" fill="#760e0e"/>
<polygon points="1248.3,931.7 1188.4,943.4 1188.4,946.6 1248.1,934.4" fill="#7e0f0f"/>
<polygon points="1248.2,933.1 1188.4,945.0 1188.4,948.2 1248.0,935.8" fill="#871010"/>
<polygon points="1248.1,934.5 1188.4,946.5 1188.4,949.7 1248.0,937.3" fill="#901111"/>
<polygon points="1248.0,936.0 1188.4,948.0 1188.4,951.6 1247.9,938.9" fill="#8f1111"/>
<polygon points="1247.9,937.6 1188.4,949.9 1188.4,953.4 1247.8,940.4" fill="#841010"/>
<polygon points="1247.9,939.1 1188.4,951.7 1188.4,955.3 1247.7,942.0" fill="#7a0e0e"/>
<polygon points="1247.8,940.7 1188.4,953.6 1188.4,957.1 1247.6,943.6" fill="#6f0d0d"/>
<polygon points="1247.7,942.3 1188.4,955.4 1188.4,959.0 1247.5,945.1" fill="#640b0b"/>
<polygon points="1247.6,943.8 1188.4,957.3 1188.4,961.4 1247.4,947.0" fill="#5c0a0a"/>
<polygon points="1247.5,945.7 1188.4,959.8 1188.4,963.9 1247.3,948.8" fill="#570a0a"/>
<polygon points="1247.4,947.5 1188.4,962.2 1188.4,966.4 1247.2,950.7" fill="#510909"/>
<polygon points="1247.3,949.3 1188.4,964.7 1188.4,968.8 1247.1,952.5" fill="#4c0808"/>
<polygon points="1247.2,951.2 1188.4,967.1 1188.4,971.3 1247.0,954.3" fill="#460808"/>
<polygon points="1247.1,953.0 1188.4,969.6 1188.4,971.7 1247.0,954.8" fill="#550909"/>
<polygon points="1247.1,953.5 1188.4,970.0 1188.4,972.1 1247.0,955.2" fill="#780c0c"/>
<polygon points="1247.0,953.9 1188.4,970.4 1188.4,972.5 1246.9,955.7" fill="#9b0e0e"/>
<polygon points="1247.0,954.4 1188.4,970.8 1188.4,973.0 1246.9,956.2" fill="#be1111"/>
<polygon points="1247.0,954.8 1188.4,971.3 1188.4,973.4 1246.9,956.6" fill="#e11414"/>
<polygon points="1247.0,955.3 1188.4,971.7 1188.4,979.0 1246.6,961.7" fill="#f21515"/>
<polygon points="1246.7,960.3 1188.4,977.4 1188.4,984.7 1246.3,966.7" fill="#f21616"/>
<polygon points="1246.4,965.4 1188.4,983.0 1188.4,990.4 1246.1,971.7" fill="#f21717"/>
<polygon points="1246.1,970.4 1188.4,988.7 1188.4,996.1 1245.8,976.8" fill="#f21818"/>
<polygon points="1245.9,975.5 1188.4,994.4 1188.4,1001.7 1245.5,981.8" fill="#f21818"/>
<polygon points="1245.6,980.5 1188.4,1000.0 1188.4,1002.3 1245.5,982.5" fill="#e61717"/>
<polygon points="1245.5,981.2 1188.4,1000.6 1188.4,1002.9 1245.4,983.1" fill="#cc1515"/>
<polygon points="1245.5,981.8 1188.4,1001.2 1188.4,1003.5 1245.4,983.8" fill="#b31212"/>
<polygon points="1245.5,982.5 1188.4,1001.8 1188.4,1004.1 1245.4,984.5" fill="#9a0f0f"/>
<polygon points="1245.4,983.1 1188.4,1002.4 1188.4,1004.7 1245.3,985.1" fill="#810d0d"/>
<polygon points="1245.4,983.8 1188.4,1003.0 1188.4,1006.7 1245.3,985.9" fill="#700b0b"/>
<polygon points="1245.4,984.6 1188.4,1005.0 1188.4,1008.7 1245.2,986.7" fill="#670a0a"/>
<polygon points="1245.3,985.4 1188.4,1007.0 1188.4,1010.8 1245.2,987.5" fill="#5e0a0a"/>
<polygon points="1245.3,986.2 1188.4,1009.1 1188.4,1012.8 1245.2,988.2" fill="#550909"/>
<polygon points="1245.2,986.9 1188.4,1011.1 1188.4,1014.8 1245.1,989.0" fill="#4d0808"/>
<polygon points="1245.2,987.7 1188.4,1013.1 1188.4,1016.5 1245.1,989.7" fill="#470707" fill-opacity="0.98"/>
<polygon points="1245.1,988.4 1188.4,1014.8 1188.4,1018.2 1245.0,990.3" fill="#440707" fill-opacity="0.95"/>
<polygon points="1245.1,989.0 1188.4,1016.5 1188.4,1019.9 1245.0,991.0" fill="#410707" fill-opacity="0.93"/>
<polygon points="1245.1,989.7 1188.4,1018.2 1188.4,1021.6 1245.0,991.0" fill="#3e0606" fill-opacity="0.90"/>
<polygon points="1245.0,990.3 1188.4,1019.9 1188.4,1021.6 1245.0,991.0" fill="#3b0606" fill-opacity="0.86"/>
<polygon points="1129.5,926.5 1188.4,912.5 1248.6,925.5 1188.4,937.0" fill="#3e0808" fill-opacity="1"/>
</g>
<line x1="1129.5" y1="926.5" x2="1188.4" y2="912.5" stroke="#6d7b8c" stroke-width="0.8" opacity="0.8"/>
<line x1="1188.4" y1="912.5" x2="1248.6" y2="925.5" stroke="#6d7b8c" stroke-width="0.8" opacity="0.8"/>
<line x1="1248.6" y1="925.5" x2="1188.4" y2="937.0" stroke="#6d7b8c" stroke-width="0.8" opacity="0.8"/>
<line x1="1188.4" y1="937.0" x2="1129.5" y2="926.5" stroke="#6d7b8c" stroke-width="0.8" opacity="0.8"/>
<line x1="1129.5" y1="926.5" x2="1133.5" y2="991.0" stroke="#6d7b8c" stroke-width="0.8" opacity="0.8"/>
<line x1="1248.6" y1="925.5" x2="1245.0" y2="991.0" stroke="#6d7b8c" stroke-width="0.8" opacity="0.8"/>
<line x1="1188.4" y1="937.0" x2="1188.4" y2="1021.6" stroke="#6d7b8c" stroke-width="0.8" opacity="0.8"/>
<line x1="1133.5" y1="991.0" x2="1188.4" y2="1021.6" stroke="#6d7b8c" stroke-width="0.8" opacity="0.8"/>
<line x1="1188.4" y1="1021.6" x2="1245.0" y2="991.0" stroke="#6d7b8c" stroke-width="0.8" opacity="0.8"/>
<line x1="1046.6" y1="1047.4" x2="1046.6" y2="1108.5" stroke="#8d9aaa" stroke-width="0.6" opacity="0.6"/>
<line x1="991.0" y1="1125.7" x2="1046.6" y2="1108.5" stroke="#8d9aaa" stroke-width="0.6" opacity="0.6"/>
<line x1="1102.3" y1="1125.7" x2="1046.6" y2="1108.5" stroke="#8d9aaa" stroke-width="0.6" opacity="0.6"/>
<ellipse cx="1046" cy="1080" rx="64" ry="33" fill="url(#cl3)"/><ellipse cx="1046" cy="1084" rx="44.8" ry="22.4" fill="url(#cl3)"/>
<g filter="url(#cb3)">
<polygon points="988.4,1092.5 1046.6,1075.5 1104.3,1092.2 1046.6,1114.9" fill="#c8521a" fill-opacity="0.95"/>
<polygon points="987.4,1079.2 1046.6,1097.2 1046.6,1100.5 987.6,1082.1" fill="#c14b1c" fill-opacity="0.09"/>
<polygon points="987.5,1080.8 1046.6,1098.9 1046.6,1102.2 987.7,1083.7" fill="#c24c1b" fill-opacity="0.27"/>
<polygon points="987.6,1082.4 1046.6,1100.5 1046.6,1103.9 987.8,1085.3" fill="#c44d1b" fill-opacity="0.45"/>
<polygon points="987.7,1084.0 1046.6,1102.2 1046.6,1105.6 988.0,1086.9" fill="#c64e1b" fill-opacity="0.63"/>
<polygon points="987.9,1085.6 1046.6,1103.9 1046.6,1107.3 988.1,1088.5" fill="#c74f1a" fill-opacity="0.81"/>
<polygon points="988.0,1087.2 1046.6,1105.6 1046.6,1109.2 988.2,1089.6" fill="#c9521a" fill-opacity="0.91"/>
<polygon points="988.1,1088.3 1046.6,1107.5 1046.6,1111.0 988.3,1090.6" fill="#cc551a" fill-opacity="0.93"/>
<polygon points="988.2,1089.3 1046.6,1109.3 1046.6,1112.9 988.3,1091.7" fill="#ce581a" fill-opacity="0.95"/>
<polygon points="988.2,1090.4 1046.6,1111.2 1046.6,1114.7 988.4,1092.8" fill="#d05b1a" fill-opacity="0.97"/>
<polygon points="988.3,1091.4 1046.6,1113.1 1046.6,1116.6 988.5,1093.8" fill="#d35e1a" fill-opacity="0.99"/>
<polygon points="988.4,1092.5 1046.6,1114.9 1046.6,1117.1 988.5,1094.4" fill="#d7681b"/>
<polygon points="988.4,1093.0 1046.6,1115.4 1046.6,1117.6 988.6,1094.9" fill="#de791c"/>
<polygon points="988.5,1093.6 1046.6,1115.9 1046.6,1118.1 988.6,1095.4" fill="#e48a1e"/>
<polygon points="988.5,1094.1 1046.6,1116.4 1046.6,1118.6 988.7,1096.0" fill="#ea9b20"/>
<polygon points="988.6,1094.6 1046.6,1116.9 1046.6,1119.1 988.7,1096.5" fill="#f1ac21"/>
<polygon points="988.6,1095.2 1046.6,1117.5 1046.6,1120.0 988.8,1097.3" fill="#f5b924"/>
<polygon points="988.7,1096.0 1046.6,1118.3 1046.6,1120.8 988.8,1098.1" fill="#f7c228"/>
<polygon points="988.7,1096.7 1046.6,1119.1 1046.6,1121.7 988.9,1098.9" fill="#facc2c"/>
<polygon points="988.8,1097.5 1046.6,1120.0 1046.6,1122.5 989.0,1099.7" fill="#fcd630"/>
<polygon points="988.9,1098.3 1046.6,1120.8 1046.6,1123.4 989.0,1100.5" fill="#fedf34"/>
<polygon points="988.9,1099.1 1046.6,1121.7 1046.6,1124.5 989.1,1101.4" fill="#fede34"/>
<polygon points="989.0,1100.1 1046.6,1122.9 1046.6,1125.7 989.2,1102.3" fill="#fbd12f"/>
<polygon points="989.1,1101.0 1046.6,1124.0 1046.6,1126.9 989.2,1103.3" fill="#f8c42b"/>
<polygon points="989.1,1101.9 1046.6,1125.2 1046.6,1128.1 989.3,1104.2" fill="#f6b727"/>
<polygon points="989.2,1102.9 1046.6,1126.4 1046.6,1129.3 989.4,1105.1" fill="#f3aa22"/>
<polygon points="989.3,1103.8 1046.6,1127.6 1046.6,1130.6 989.5,1106.6" fill="#f0a01f"/>
<polygon points="989.4,1105.2 1046.6,1128.9 1046.6,1132.0 989.6,1108.0" fill="#ed971e" fill-opacity="0.98"/>
<polygon points="989.5,1106.7 1046.6,1130.3 1046.6,1133.3 989.7,1109.5" fill="#e98f1d" fill-opacity="0.97"/>
<polygon points="989.6,1108.2 1046.6,1131.6 1046.6,1134.7 989.8,1111.0" fill="#e5871c" fill-opacity="0.96"/>
<polygon points="989.7,1109.6 1046.6,1133.0 1046.6,1136.0 990.0,1112.4" fill="#e27e1b" fill-opacity="0.95"/>
<polygon points="989.9,1111.1 1046.6,1134.4 1046.6,1137.4 990.1,1114.0" fill="#de781c" fill-opacity="0.91"/>
<polygon points="990.0,1112.7 1046.6,1135.7 1046.6,1138.7 990.2,1115.6" fill="#db7521" fill-opacity="0.83"/>
<polygon points="990.1,1114.3 1046.6,1137.1 1046.6,1140.1 990.3,1117.2" fill="#d87225" fill-opacity="0.75"/>
<polygon points="990.2,1115.9 1046.6,1138.4 1046.6,1141.4 990.5,1118.8" fill="#d56f29" fill-opacity="0.67"/>
<polygon points="990.4,1117.5 1046.6,1139.8 1046.6,1142.8 990.6,1120.4" fill="#d26c2e" fill-opacity="0.59"/>
<polygon points="990.5,1119.1 1046.6,1141.1 1046.6,1146.5 990.7,1121.7" fill="#cf6f3a" fill-opacity="0.50"/>
<polygon points="990.6,1120.4 1046.6,1144.8 1046.6,1150.2 990.8,1123.0" fill="#ce7a4d" fill-opacity="0.40"/>
<polygon points="990.7,1121.7 1046.6,1148.5 1046.6,1154.0 990.9,1124.4" fill="#cc8560" fill-opacity="0.31"/>
<polygon points="990.8,1123.0 1046.6,1152.3 1046.6,1157.7 991.0,1125.7" fill="#ca9073" fill-opacity="0.21"/>
<polygon points="990.9,1124.4 1046.6,1156.0 1046.6,1159.7 991.0,1125.7" fill="#c99b86" fill-opacity="0.11"/>
<polygon points="1105.2,1078.8 1046.6,1097.2 1046.6,1100.5 1105.0,1081.7" fill="#ae4319" fill-opacity="0.09"/>
<polygon points="1105.1,1080.4 1046.6,1098.9 1046.6,1102.2 1104.9,1083.4" fill="#af4419" fill-opacity="0.27"/>
<polygon points="1105.0,1082.0 1046.6,1100.5 1046.6,1103.9 1104.8,1085.0" fill="#b04518" fill-opacity="0.45"/>
<polygon points="1104.9,1083.6 1046.6,1102.2 1046.6,1105.6 1104.7,1086.6" fill="#b24618" fill-opacity="0.63"/>
<polygon points="1104.8,1085.2 1046.6,1103.9 1046.6,1107.3 1104.6,1088.2" fill="#b34718" fill-opacity="0.81"/>
<polygon points="1104.7,1086.8 1046.6,1105.6 1046.6,1109.2 1104.5,1089.3" fill="#b54917" fill-opacity="0.91"/>
<polygon points="1104.6,1087.9 1046.6,1107.5 1046.6,1111.0 1104.5,1090.3" fill="#b74c17" fill-opacity="0.93"/>
<polygon points="1104.5,1089.0 1046.6,1109.3 1046.6,1112.9 1104.4,1091.4" fill="#b94f17" fill-opacity="0.95"/>
<polygon points="1104.5,1090.1 1046.6,1111.2 1046.6,1114.7 1104.3,1092.5" fill="#bc5217" fill-opacity="0.97"/>
<polygon points="1104.4,1091.1 1046.6,1113.1 1046.6,1116.6 1104.3,1093.5" fill="#be5517" fill-opacity="0.99"/>
<polygon points="1104.3,1092.2 1046.6,1114.9 1046.6,1117.1 1104.2,1094.1" fill="#c25e18"/>
<polygon points="1104.3,1092.7 1046.6,1115.4 1046.6,1117.6 1104.2,1094.6" fill="#c76d1a"/>
<polygon points="1104.3,1093.3 1046.6,1115.9 1046.6,1118.1 1104.2,1095.1" fill="#cd7c1b"/>
<polygon points="1104.3,1093.8 1046.6,1116.4 1046.6,1118.6 1104.1,1095.7" fill="#d38b1c"/>
<polygon points="1104.2,1094.3 1046.6,1116.9 1046.6,1119.1 1104.1,1096.2" fill="#d99a1e"/>
<polygon points="1104.2,1094.9 1046.6,1117.5 1046.6,1120.0 1104.1,1097.0" fill="#dda620"/>
<polygon points="1104.1,1095.7 1046.6,1118.3 1046.6,1120.8 1104.0,1097.8" fill="#dfaf24"/>
<polygon points="1104.1,1096.5 1046.6,1119.1 1046.6,1121.7 1104.0,1098.6" fill="#e1b828"/>
<polygon points="1104.0,1097.3 1046.6,1120.0 1046.6,1122.5 1103.9,1099.4" fill="#e3c02b"/>
<polygon points="1104.0,1098.1 1046.6,1120.8 1046.6,1123.4 1103.9,1100.2" fill="#e5c92f"/>
<polygon points="1103.9,1098.9 1046.6,1121.7 1046.6,1124.5 1103.8,1101.2" fill="#e4c72f"/>
<polygon points="1103.9,1099.8 1046.6,1122.9 1046.6,1125.7 1103.7,1102.1" fill="#e2bc2b"/>
<polygon points="1103.8,1100.8 1046.6,1124.0 1046.6,1126.9 1103.7,1103.1" fill="#e0b027"/>
<polygon points="1103.8,1101.7 1046.6,1125.2 1046.6,1128.1 1103.6,1104.0" fill="#dda523"/>
<polygon points="1103.7,1102.7 1046.6,1126.4 1046.6,1129.3 1103.6,1104.9" fill="#db991f"/>
<polygon points="1103.7,1103.6 1046.6,1127.6 1046.6,1130.6 1103.5,1106.4" fill="#d8901c"/>
<polygon points="1103.6,1105.1 1046.6,1128.9 1046.6,1132.0 1103.4,1107.9" fill="#d5881b" fill-opacity="0.98"/>
<polygon points="1103.5,1106.5 1046.6,1130.3 1046.6,1133.3 1103.3,1109.4" fill="#d2811a" fill-opacity="0.97"/>
<polygon points="1103.4,1108.0 1046.6,1131.6 1046.6,1134.7 1103.2,1110.8" fill="#ce7919" fill-opacity="0.96"/>
<polygon points="1103.3,1109.5 1046.6,1133.0 1046.6,1136.0 1103.1,1112.3" fill="#cb7218" fill-opacity="0.95"/>
<polygon points="1103.2,1111.0 1046.6,1134.4 1046.6,1137.4 1103.0,1113.9" fill="#c86c19" fill-opacity="0.91"/>
<polygon points="1103.1,1112.6 1046.6,1135.7 1046.6,1138.7 1102.9,1115.5" fill="#c5691d" fill-opacity="0.83"/>
<polygon points="1103.0,1114.2 1046.6,1137.1 1046.6,1140.1 1102.8,1117.1" fill="#c26721" fill-opacity="0.75"/>
<polygon points="1102.9,1115.8 1046.6,1138.4 1046.6,1141.4 1102.7,1118.7" fill="#c06425" fill-opacity="0.67"/>
<polygon points="1102.8,1117.4 1046.6,1139.8 1046.6,1142.8 1102.6,1120.3" fill="#bd6129" fill-opacity="0.59"/>
<polygon points="1102.7,1119.0 1046.6,1141.1 1046.6,1146.5 1102.5,1121.7" fill="#ba6434" fill-opacity="0.50"/>
<polygon points="1102.6,1120.3 1046.6,1144.8 1046.6,1150.2 1102.5,1123.0" fill="#b96e45" fill-opacity="0.40"/>
<polygon points="1102.5,1121.7 1046.6,1148.5 1046.6,1154.0 1102.4,1124.4" fill="#b87856" fill-opacity="0.31"/>
<polygon points="1102.5,1123.0 1046.6,1152.3 1046.6,1157.7 1102.3,1125.7" fill="#b68168" fill-opacity="0.21"/>
<polygon points="1102.4,1124.4 1046.6,1156.0 1046.6,1159.7 1102.3,1125.7" fill="#b58b79" fill-opacity="0.11"/>
</g>
<circle cx="1067.5" cy="1073.8" r="0.9" fill="#c85a30" fill-opacity="0.50"/><circle cx="1082.4" cy="1067.5" r="0.5" fill="#a03018" fill-opacity="0.33"/><circle cx="1047.1" cy="1085.4" r="0.4" fill="#c85a30" fill-opacity="0.43"/><circle cx="1041.5" cy="1058.1" r="0.8" fill="#b03a20" fill-opacity="0.30"/><circle cx="1093.4" cy="1064.9" r="0.4" fill="#c85a30" fill-opacity="0.27"/><circle cx="1044.6" cy="1068.4" r="0.8" fill="#b03a20" fill-opacity="0.48"/><circle cx="1090.9" cy="1052.5" r="0.7" fill="#b03a20" fill-opacity="0.34"/><circle cx="1052.6" cy="1062.4" r="0.5" fill="#c85a30" fill-opacity="0.38"/><circle cx="995.7" cy="1051.9" r="0.5" fill="#b03a20" fill-opacity="0.49"/><circle cx="1055.6" cy="1083.9" r="1.0" fill="#a03018" fill-opacity="0.17"/><circle cx="1013.2" cy="1064.1" r="1.0" fill="#c85a30" fill-opacity="0.46"/><circle cx="1033.0" cy="1065.0" r="1.0" fill="#c85a30" fill-opacity="0.33"/><circle cx="1032.8" cy="1059.4" r="0.5" fill="#b03a20" fill-opacity="0.40"/><circle cx="1074.9" cy="1087.3" r="0.7" fill="#b03a20" fill-opacity="0.34"/><circle cx="1045.8" cy="1072.7" r="1.0" fill="#a03018" fill-opacity="0.19"/><circle cx="1026.4" cy="1075.1" r="0.6" fill="#a03018" fill-opacity="0.47"/><circle cx="1024.8" cy="1061.0" r="0.5" fill="#b03a20" fill-opacity="0.47"/><circle cx="1076.6" cy="1055.8" r="0.6" fill="#c85a30" fill-opacity="0.39"/><circle cx="1019.5" cy="1086.4" r="1.0" fill="#c85a30" fill-opacity="0.21"/><circle cx="993.2" cy="1077.9" r="0.9" fill="#b03a20" fill-opacity="0.32"/><circle cx="1031.2" cy="1083.2" r="0.7" fill="#b03a20" fill-opacity="0.30"/><circle cx="1060.7" cy="1064.9" r="0.7" fill="#a03018" fill-opacity="0.44"/><circle cx="1066.2" cy="1060.3" r="0.5" fill="#c85a30" fill-opacity="0.29"/><circle cx="1052.9" cy="1082.9" r="0.9" fill="#a03018" fill-opacity="0.49"/><circle cx="1045.2" cy="1058.8" r="0.7" fill="#a03018" fill-opacity="0.41"/><circle cx="1014.5" cy="1050.1" r="0.9" fill="#b03a20" fill-opacity="0.28"/><circle cx="1061.1" cy="1079.1" r="0.7" fill="#c85a30" fill-opacity="0.45"/><circle cx="1067.8" cy="1061.0" r="0.8" fill="#a03018" fill-opacity="0.20"/><circle cx="1041.0" cy="1053.9" r="0.4" fill="#a03018" fill-opacity="0.36"/><circle cx="1019.3" cy="1074.1" r="0.7" fill="#a03018" fill-opacity="0.39"/><circle cx="1046.5" cy="1054.4" r="0.5" fill="#b03a20" fill-opacity="0.18"/><circle cx="995.5" cy="1050.0" r="0.9" fill="#c85a30" fill-opacity="0.18"/><circle cx="1062.5" cy="1060.9" r="0.6" fill="#c85a30" fill-opacity="0.46"/><circle cx="1061.3" cy="1073.2" r="0.5" fill="#b03a20" fill-opacity="0.28"/><circle cx="1037.3" cy="1050.8" r="0.7" fill="#a03018" fill-opacity="0.41"/><circle cx="1012.2" cy="1051.2" r="0.6" fill="#b03a20" fill-opacity="0.45"/><circle cx="1017.4" cy="1082.3" r="0.6" fill="#b03a20" fill-opacity="0.39"/><circle cx="1067.4" cy="1061.2" r="0.5" fill="#b03a20" fill-opacity="0.20"/><circle cx="1033.4" cy="1080.9" r="0.7" fill="#a03018" fill-opacity="0.35"/><circle cx="1080.5" cy="1061.6" r="0.6" fill="#a03018" fill-opacity="0.39"/><circle cx="1059.7" cy="1069.5" r="0.5" fill="#a03018" fill-opacity="0.37"/><circle cx="1037.5" cy="1051.5" r="1.0" fill="#a03018" fill-opacity="0.19"/><circle cx="1062.5" cy="1052.0" r="0.8" fill="#b03a20" fill-opacity="0.43"/><circle cx="1078.4" cy="1085.9" r="0.8" fill="#a03018" fill-opacity="0.30"/><circle cx="1041.4" cy="1069.2" r="0.9" fill="#c85a30" fill-opacity="0.17"/><circle cx="1086.2" cy="1050.6" r="0.8" fill="#c85a30" fill-opacity="0.44"/><circle cx="1052.3" cy="1077.2" r="0.9" fill="#c85a30" fill-opacity="0.29"/><circle cx="1036.7" cy="1084.7" r="0.5" fill="#a03018" fill-opacity="0.32"/><circle cx="1063.6" cy="1068.2" r="0.8" fill="#a03018" fill-opacity="0.23"/><circle cx="1008.8" cy="1073.2" r="0.9" fill="#a03018" fill-opacity="0.39"/><circle cx="1058.1" cy="1075.6" r="0.7" fill="#b03a20" fill-opacity="0.32"/><circle cx="1036.7" cy="1069.4" r="1.0" fill="#a03018" fill-opacity="0.15"/><circle cx="1071.4" cy="1061.2" r="0.9" fill="#c85a30" fill-opacity="0.40"/><circle cx="1060.4" cy="1069.4" r="1.0" fill="#a03018" fill-opacity="0.41"/><circle cx="1055.3" cy="1067.0" r="1.0" fill="#b03a20" fill-opacity="0.21"/><circle cx="1008.0" cy="1063.5" r="0.8" fill="#a03018" fill-opacity="0.24"/><circle cx="1062.9" cy="1086.1" r="0.7" fill="#c85a30" fill-opacity="0.48"/><circle cx="1104.0" cy="1068.8" r="0.8" fill="#b03a20" fill-opacity="0.25"/><circle cx="1033.9" cy="1063.8" r="0.7" fill="#c85a30" fill-opacity="0.30"/><circle cx="1029.4" cy="1055.8" r="0.8" fill="#c85a30" fill-opacity="0.18"/><circle cx="1031.0" cy="1087.0" r="0.4" fill="#b03a20" fill-opacity="0.43"/><circle cx="1085.6" cy="1049.7" r="0.7" fill="#a03018" fill-opacity="0.29"/><circle cx="1028.8" cy="1066.2" r="0.5" fill="#c85a30" fill-opacity="0.15"/><circle cx="1034.2" cy="1061.0" r="0.6" fill="#c85a30" fill-opacity="0.15"/><circle cx="1042.6" cy="1055.5" r="0.9" fill="#a03018" fill-opacity="0.44"/><circle cx="1037.4" cy="1056.3" r="0.9" fill="#c85a30" fill-opacity="0.24"/><circle cx="1044.4" cy="1071.4" r="1.0" fill="#a03018" fill-opacity="0.46"/><circle cx="1082.3" cy="1052.1" r="1.0" fill="#a03018" fill-opacity="0.38"/><circle cx="1050.0" cy="1054.9" r="0.9" fill="#c85a30" fill-opacity="0.36"/><circle cx="1023.3" cy="1080.2" r="0.5" fill="#c85a30" fill-opacity="0.20"/><circle cx="1024.6" cy="1060.2" r="0.8" fill="#a03018" fill-opacity="0.46"/><circle cx="1055.3" cy="1069.0" r="0.9" fill="#a03018" fill-opacity="0.28"/><circle cx="1050.5" cy="1062.7" r="0.4" fill="#b03a20" fill-opacity="0.32"/><circle cx="1029.1" cy="1055.2" r="0.5" fill="#b03a20" fill-opacity="0.28"/><circle cx="1009.6" cy="1058.8" r="0.8" fill="#b03a20" fill-opacity="0.40"/><circle cx="1035.0" cy="1081.3" r="0.7" fill="#b03a20" fill-opacity="0.40"/><circle cx="1044.3" cy="1072.7" r="0.8" fill="#a03018" fill-opacity="0.21"/><circle cx="1037.9" cy="1055.3" r="0.9" fill="#c85a30" fill-opacity="0.47"/><circle cx="1014.8" cy="1075.5" r="0.8" fill="#b03a20" fill-opacity="0.38"/><circle cx="1018.0" cy="1053.4" r="0.6" fill="#c85a30" fill-opacity="0.48"/><circle cx="1021.0" cy="1085.5" r="0.4" fill="#c85a30" fill-opacity="0.27"/><circle cx="1017.5" cy="1078.5" r="0.8" fill="#a03018" fill-opacity="0.21"/><circle cx="1021.3" cy="1087.0" r="0.9" fill="#a03018" fill-opacity="0.22"/><circle cx="1081.1" cy="1079.2" r="0.9" fill="#a03018" fill-opacity="0.48"/><circle cx="1045.6" cy="1084.5" r="0.6" fill="#b03a20" fill-opacity="0.21"/><circle cx="996.8" cy="1063.1" r="1.0" fill="#b03a20" fill-opacity="0.47"/><circle cx="1033.4" cy="1086.2" r="1.0" fill="#b03a20" fill-opacity="0.41"/><circle cx="1045.0" cy="1069.8" r="0.9" fill="#c85a30" fill-opacity="0.33"/><circle cx="1026.9" cy="1053.8" r="0.8" fill="#b03a20" fill-opacity="0.36"/><circle cx="1014.5" cy="1056.4" r="0.6" fill="#b03a20" fill-opacity="0.30"/><circle cx="1053.1" cy="1063.7" r="0.7" fill="#c85a30" fill-opacity="0.16"/><circle cx="1057.8" cy="1079.8" r="0.8" fill="#c85a30" fill-opacity="0.43"/><circle cx="1031.5" cy="1077.7" r="0.5" fill="#a03018" fill-opacity="0.21"/><circle cx="1050.5" cy="1079.3" r="0.6" fill="#a03018" fill-opacity="0.44"/><circle cx="1051.6" cy="1066.9" r="0.5" fill="#c85a30" fill-opacity="0.41"/><circle cx="1058.1" cy="1051.1" r="0.9" fill="#c85a30" fill-opacity="0.20"/><circle cx="1016.7" cy="1062.0" r="0.6" fill="#c85a30" fill-opacity="0.37"/><circle cx="1011.4" cy="1082.7" r="0.6" fill="#b03a20" fill-opacity="0.24"/><circle cx="1021.4" cy="1079.5" r="1.0" fill="#b03a20" fill-opacity="0.22"/><circle cx="1079.5" cy="1052.0" r="0.5" fill="#c85a30" fill-opacity="0.20"/><circle cx="998.5" cy="1078.3" r="0.5" fill="#c85a30" fill-opacity="0.37"/><circle cx="1025.8" cy="1054.2" r="0.7" fill="#a03018" fill-opacity="0.16"/><circle cx="1019.7" cy="1084.1" r="0.7" fill="#a03018" fill-opacity="0.15"/><circle cx="1058.4" cy="1059.2" r="0.4" fill="#c85a30" fill-opacity="0.41"/><circle cx="1027.2" cy="1072.5" r="0.4" fill="#a03018" fill-opacity="0.40"/><circle cx="1021.2" cy="1068.5" r="0.6" fill="#a03018" fill-opacity="0.37"/><circle cx="1029.2" cy="1073.8" r="0.5" fill="#c85a30" fill-opacity="0.29"/><circle cx="1008.6" cy="1077.0" r="0.5" fill="#a03018" fill-opacity="0.43"/><circle cx="1059.8" cy="1049.8" r="0.9" fill="#a03018" fill-opacity="0.45"/><circle cx="1055.1" cy="1146.0" r="0.6" fill="#c08060" fill-opacity="0.21"/><circle cx="1036.9" cy="1128.9" r="0.6" fill="#d09070" fill-opacity="0.22"/><circle cx="1066.2" cy="1122.3" r="0.7" fill="#d09070" fill-opacity="0.23"/><circle cx="1069.9" cy="1125.7" r="0.4" fill="#c08060" fill-opacity="0.19"/><circle cx="1066.4" cy="1144.4" r="0.6" fill="#d09070" fill-opacity="0.18"/><circle cx="1048.5" cy="1125.1" r="0.6" fill="#d09070" fill-opacity="0.43"/><circle cx="1079.8" cy="1151.7" r="0.7" fill="#d8a080" fill-opacity="0.15"/><circle cx="1040.1" cy="1151.2" r="0.8" fill="#c08060" fill-opacity="0.30"/><circle cx="1067.1" cy="1140.5" r="0.8" fill="#d09070" fill-opacity="0.42"/><circle cx="1033.5" cy="1151.6" r="0.7" fill="#d09070" fill-opacity="0.24"/><circle cx="1039.6" cy="1137.1" r="0.6" fill="#c08060" fill-opacity="0.21"/><circle cx="1027.6" cy="1143.0" r="0.8" fill="#c08060" fill-opacity="0.25"/><circle cx="1077.2" cy="1125.7" r="0.4" fill="#d8a080" fill-opacity="0.26"/><circle cx="1057.8" cy="1126.8" r="0.6" fill="#c08060" fill-opacity="0.24"/><circle cx="1007.8" cy="1143.7" r="0.4" fill="#d09070" fill-opacity="0.41"/><circle cx="1060.6" cy="1125.4" r="0.5" fill="#c08060" fill-opacity="0.46"/><circle cx="1021.3" cy="1145.2" r="0.6" fill="#d09070" fill-opacity="0.26"/><circle cx="1039.5" cy="1151.2" r="0.6" fill="#c08060" fill-opacity="0.21"/><circle cx="1060.7" cy="1129.0" r="0.7" fill="#d09070" fill-opacity="0.27"/><circle cx="1038.2" cy="1142.8" r="0.5" fill="#c08060" fill-opacity="0.27"/><circle cx="1031.8" cy="1149.1" r="0.5" fill="#d09070" fill-opacity="0.36"/><circle cx="1065.3" cy="1137.4" r="0.5" fill="#c08060" fill-opacity="0.47"/><circle cx="1014.6" cy="1142.9" r="0.7" fill="#c08060" fill-opacity="0.42"/><circle cx="1018.8" cy="1150.1" r="0.7" fill="#d09070" fill-opacity="0.26"/><circle cx="1065.3" cy="1145.1" r="0.7" fill="#d09070" fill-opacity="0.25"/><circle cx="1008.7" cy="1130.5" r="0.7" fill="#d8a080" fill-opacity="0.23"/><circle cx="1050.9" cy="1128.7" r="0.8" fill="#c08060" fill-opacity="0.32"/><circle cx="1050.7" cy="1144.5" r="0.5" fill="#d8a080" fill-opacity="0.21"/><circle cx="1066.4" cy="1151.7" r="0.6" fill="#d09070" fill-opacity="0.17"/><circle cx="1033.3" cy="1144.8" r="0.5" fill="#d09070" fill-opacity="0.19"/><circle cx="1037.6" cy="1132.5" r="0.6" fill="#d09070" fill-opacity="0.25"/><circle cx="1048.6" cy="1136.3" r="0.5" fill="#d8a080" fill-opacity="0.42"/><circle cx="1076.4" cy="1130.9" r="0.7" fill="#d09070" fill-opacity="0.44"/><circle cx="1037.6" cy="1153.3" r="0.6" fill="#c08060" fill-opacity="0.47"/><circle cx="1061.0" cy="1133.2" r="0.5" fill="#d8a080" fill-opacity="0.48"/><circle cx="1034.1" cy="1133.3" r="0.5" fill="#d8a080" fill-opacity="0.18"/><circle cx="1051.0" cy="1153.0" r="0.5" fill="#d09070" fill-opacity="0.27"/><circle cx="1033.1" cy="1128.8" r="0.4" fill="#d09070" fill-opacity="0.16"/><circle cx="1030.3" cy="1129.4" r="0.7" fill="#d09070" fill-opacity="0.37"/><circle cx="1079.8" cy="1127.4" r="0.4" fill="#d09070" fill-opacity="0.48"/><circle cx="1040.4" cy="1128.9" r="0.6" fill="#c08060" fill-opacity="0.43"/><circle cx="1064.3" cy="1131.5" r="0.4" fill="#d8a080" fill-opacity="0.25"/><circle cx="1053.3" cy="1146.6" r="0.8" fill="#d09070" fill-opacity="0.18"/><circle cx="1091.6" cy="1152.9" r="0.6" fill="#c08060" fill-opacity="0.39"/><circle cx="1050.4" cy="1141.7" r="0.8" fill="#d09070" fill-opacity="0.47"/><circle cx="1031.7" cy="1124.7" r="0.6" fill="#d8a080" fill-opacity="0.47"/><circle cx="1087.8" cy="1151.1" r="0.7" fill="#d8a080" fill-opacity="0.40"/><circle cx="1028.7" cy="1123.0" r="0.6" fill="#c08060" fill-opacity="0.40"/><circle cx="1097.8" cy="1149.9" r="0.4" fill="#c08060" fill-opacity="0.29"/><circle cx="1047.6" cy="1153.5" r="0.7" fill="#c08060" fill-opacity="0.32"/><circle cx="1044.0" cy="1142.5" r="0.5" fill="#d09070" fill-opacity="0.47"/><circle cx="1078.2" cy="1126.6" r="0.7" fill="#c08060" fill-opacity="0.35"/><circle cx="1049.9" cy="1145.8" r="0.6" fill="#c08060" fill-opacity="0.17"/><circle cx="1022.9" cy="1124.5" r="0.8" fill="#d09070" fill-opacity="0.31"/><circle cx="1018.2" cy="1129.7" r="0.6" fill="#d8a080" fill-opacity="0.42"/><circle cx="1052.0" cy="1143.9" r="0.5" fill="#c08060" fill-opacity="0.36"/><circle cx="1021.8" cy="1129.3" r="0.5" fill="#c08060" fill-opacity="0.21"/><circle cx="1049.6" cy="1139.3" r="0.4" fill="#d09070" fill-opacity="0.40"/>
<line x1="985.8" y1="1059.3" x2="1046.6" y2="1047.4" stroke="#6d7b8c" stroke-width="0.8" opacity="0.8"/>
<line x1="1046.6" y1="1047.4" x2="1106.4" y2="1058.7" stroke="#6d7b8c" stroke-width="0.8" opacity="0.8"/>
<line x1="1106.4" y1="1058.7" x2="1046.6" y2="1075.2" stroke="#6d7b8c" stroke-width="0.8" opacity="0.8"/>
<line x1="1046.6" y1="1075.2" x2="985.8" y2="1059.3" stroke="#6d7b8c" stroke-width="0.8" opacity="0.8"/>
<line x1="985.8" y1="1059.3" x2="991.0" y2="1125.7" stroke="#6d7b8c" stroke-width="0.8" opacity="0.8"/>
<line x1="1106.4" y1="1058.7" x2="1102.3" y2="1125.7" stroke="#6d7b8c" stroke-width="0.8" opacity="0.8"/>
<line x1="1046.6" y1="1075.2" x2="1046.6" y2="1159.7" stroke="#6d7b8c" stroke-width="0.8" opacity="0.8"/>
<line x1="991.0" y1="1125.7" x2="1046.6" y2="1159.7" stroke="#6d7b8c" stroke-width="0.8" opacity="0.8"/>
<line x1="1046.6" y1="1159.7" x2="1102.3" y2="1125.7" stroke="#6d7b8c" stroke-width="0.8" opacity="0.8"/>
<line x1="1187.8" y1="1047.8" x2="1187.8" y2="1108.5" stroke="#8d9aaa" stroke-width="0.6" opacity="0.6"/>
<line x1="1133.2" y1="1127.8" x2="1187.8" y2="1108.5" stroke="#8d9aaa" stroke-width="0.6" opacity="0.6"/>
<line x1="1244.5" y1="1125.7" x2="1187.8" y2="1108.5" stroke="#8d9aaa" stroke-width="0.6" opacity="0.6"/>
<g filter="url(#cb4)">
<polygon points="1128.0,1061.8 1187.8,1075.2 1187.8,1081.9 1128.4,1067.1" fill="#ffee5b"/>
<polygon points="1128.3,1065.8 1187.8,1080.2 1187.8,1086.9 1128.7,1071.0" fill="#ffef60"/>
<polygon points="1128.6,1069.7 1187.8,1085.2 1187.8,1091.9 1129.0,1075.0" fill="#fff065"/>
<polygon points="1128.9,1073.7 1187.8,1090.2 1187.8,1096.9 1129.4,1079.0" fill="#fff16a"/>
<polygon points="1129.2,1077.6 1187.8,1095.2 1187.8,1101.9 1129.7,1082.9" fill="#fff26f"/>
<polygon points="1129.6,1081.6 1187.8,1100.2 1187.8,1106.1 1130.0,1086.9" fill="#fff274"/>
<polygon points="1129.9,1085.6 1187.8,1104.4 1187.8,1110.3 1130.3,1090.8" fill="#fff377"/>
<polygon points="1130.2,1089.5 1187.8,1108.6 1187.8,1114.4 1130.6,1094.8" fill="#fff47b"/>
<polygon points="1130.5,1093.5 1187.8,1112.8 1187.8,1118.6 1130.9,1098.8" fill="#fff47f"/>
<polygon points="1130.8,1097.4 1187.8,1117.0 1187.8,1122.8 1131.2,1102.7" fill="#fff582"/>
<polygon points="1131.1,1101.4 1187.8,1121.1 1187.8,1126.2 1131.4,1105.4" fill="#fff47e"/>
<polygon points="1131.3,1104.0 1187.8,1124.5 1187.8,1129.6 1131.6,1108.0" fill="#fff071"/>
<polygon points="1131.5,1106.7 1187.8,1128.0 1187.8,1133.1 1131.8,1110.6" fill="#ffee65"/>
<polygon points="1131.7,1109.3 1187.8,1131.4 1187.8,1136.5 1132.1,1113.3" fill="#ffea59"/>
<polygon points="1132.0,1112.0 1187.8,1134.8 1187.8,1139.9 1132.3,1115.9" fill="#ffe84c"/>
<polygon points="1132.2,1114.6 1187.8,1138.2 1187.8,1140.2 1132.3,1116.3" fill="#f8db41"/>
<polygon points="1132.2,1115.0 1187.8,1138.6 1187.8,1140.6 1132.3,1116.7" fill="#eac436"/>
<polygon points="1132.2,1115.4 1187.8,1138.9 1187.8,1140.9 1132.4,1117.1" fill="#dcad2b"/>
<polygon points="1132.3,1115.8 1187.8,1139.2 1187.8,1141.2 1132.4,1117.5" fill="#cd9620"/>
<polygon points="1132.3,1116.2 1187.8,1139.6 1187.8,1141.6 1132.4,1117.9" fill="#bf7f15"/>
<polygon points="1132.3,1116.6 1187.8,1139.9 1187.8,1142.2 1132.5,1118.4" fill="#b27112" fill-opacity="0.98"/>
<polygon points="1132.4,1117.1 1187.8,1140.5 1187.8,1142.8 1132.5,1119.0" fill="#a56a15" fill-opacity="0.94"/>
<polygon points="1132.4,1117.6 1187.8,1141.1 1187.8,1143.3 1132.5,1119.5" fill="#996318" fill-opacity="0.90"/>
<polygon points="1132.4,1118.2 1187.8,1141.7 1187.8,1143.9 1132.6,1120.0" fill="#8d5c1b" fill-opacity="0.86"/>
<polygon points="1132.5,1118.7 1187.8,1142.3 1187.8,1144.5 1132.6,1120.5" fill="#80551e" fill-opacity="0.82"/>
<polygon points="1132.5,1119.2 1187.8,1142.8 1187.8,1145.3 1132.7,1121.2" fill="#7b5628" fill-opacity="0.76"/>
<polygon points="1132.6,1119.9 1187.8,1143.7 1187.8,1146.2 1132.7,1121.9" fill="#7c5d38" fill-opacity="0.68"/>
<polygon points="1132.6,1120.5 1187.8,1144.5 1187.8,1147.0 1132.8,1122.5" fill="#7d6548" fill-opacity="0.60"/>
<polygon points="1132.7,1121.2 1187.8,1145.3 1187.8,1147.8 1132.8,1123.2" fill="#7e6d58" fill-opacity="0.52"/>
<polygon points="1132.7,1121.9 1187.8,1146.2 1187.8,1148.7 1132.9,1123.8" fill="#7f7468" fill-opacity="0.44"/>
<polygon points="1132.8,1122.5 1187.8,1147.0 1187.8,1151.0 1133.0,1124.9" fill="#827a73" fill-opacity="0.37"/>
<polygon points="1132.9,1123.6 1187.8,1149.3 1187.8,1153.4 1133.1,1126.0" fill="#857f7a" fill-opacity="0.31"/>
<polygon points="1133.0,1124.6 1187.8,1151.7 1187.8,1155.7 1133.1,1127.0" fill="#888480" fill-opacity="0.25"/>
<polygon points="1133.0,1125.7 1187.8,1154.0 1187.8,1158.0 1133.2,1127.8" fill="#8b8986" fill-opacity="0.19"/>
<polygon points="1133.1,1126.7 1187.8,1156.4 1187.8,1158.7 1133.2,1127.8" fill="#8e8e8d" fill-opacity="0.13"/>
<polygon points="1248.7,1060.8 1187.8,1075.2 1187.8,1081.9 1248.4,1066.0" fill="#fbeb59"/>
<polygon points="1248.4,1064.7 1187.8,1080.2 1187.8,1086.9 1248.1,1069.9" fill="#fbec5e"/>
<polygon points="1248.2,1068.6 1187.8,1085.2 1187.8,1091.9 1247.9,1073.8" fill="#fbec63"/>
<polygon points="1247.9,1072.5 1187.8,1090.2 1187.8,1096.9 1247.6,1077.7" fill="#fbed69"/>
<polygon points="1247.7,1076.4 1187.8,1095.2 1187.8,1101.9 1247.4,1081.6" fill="#fbee6e"/>
<polygon points="1247.4,1080.3 1187.8,1100.2 1187.8,1106.1 1247.1,1085.5" fill="#fbef72"/>
<polygon points="1247.2,1084.2 1187.8,1104.4 1187.8,1110.3 1246.9,1089.4" fill="#fbef76"/>
<polygon points="1246.9,1088.1 1187.8,1108.6 1187.8,1114.4 1246.6,1093.2" fill="#fbf079"/>
<polygon points="1246.7,1092.0 1187.8,1112.8 1187.8,1118.6 1246.3,1097.1" fill="#fbf07d"/>
<polygon points="1246.4,1095.8 1187.8,1117.0 1187.8,1122.8 1246.1,1101.0" fill="#fbf180"/>
<polygon points="1246.2,1099.7 1187.8,1121.1 1187.8,1126.2 1245.9,1103.6" fill="#fbf07c"/>
<polygon points="1246.0,1102.3 1187.8,1124.5 1187.8,1129.6 1245.8,1106.2" fill="#fbed70"/>
<polygon points="1245.8,1104.9 1187.8,1128.0 1187.8,1133.1 1245.6,1108.8" fill="#fbea63"/>
<polygon points="1245.7,1107.5 1187.8,1131.4 1187.8,1136.5 1245.4,1111.4" fill="#fbe757"/>
<polygon points="1245.5,1110.1 1187.8,1134.8 1187.8,1139.9 1245.3,1114.0" fill="#fbe44b"/>
<polygon points="1245.3,1112.7 1187.8,1138.2 1187.8,1140.2 1245.2,1114.4" fill="#f4d740"/>
<polygon points="1245.3,1113.1 1187.8,1138.6 1187.8,1140.6 1245.2,1114.8" fill="#e6c135"/>
<polygon points="1245.3,1113.5 1187.8,1138.9 1187.8,1140.9 1245.2,1115.2" fill="#d8aa2a"/>
<polygon points="1245.3,1113.9 1187.8,1139.2 1187.8,1141.2 1245.2,1115.6" fill="#ca9420"/>
<polygon points="1245.2,1114.3 1187.8,1139.6 1187.8,1141.6 1245.1,1116.0" fill="#bc7d15"/>
<polygon points="1245.2,1114.7 1187.8,1139.9 1187.8,1142.2 1245.1,1116.5" fill="#af6f11" fill-opacity="0.98"/>
<polygon points="1245.2,1115.2 1187.8,1140.5 1187.8,1142.8 1245.1,1117.0" fill="#a36814" fill-opacity="0.94"/>
<polygon points="1245.1,1115.7 1187.8,1141.1 1187.8,1143.3 1245.0,1117.5" fill="#976218" fill-opacity="0.90"/>
<polygon points="1245.1,1116.2 1187.8,1141.7 1187.8,1143.9 1245.0,1118.0" fill="#8a5b1b" fill-opacity="0.86"/>
<polygon points="1245.1,1116.7 1187.8,1142.3 1187.8,1144.5 1245.0,1118.6" fill="#7e541e" fill-opacity="0.82"/>
<polygon points="1245.0,1117.3 1187.8,1142.8 1187.8,1145.3 1244.9,1119.2" fill="#795527" fill-opacity="0.76"/>
<polygon points="1245.0,1117.9 1187.8,1143.7 1187.8,1146.2 1244.9,1119.9" fill="#7a5c37" fill-opacity="0.68"/>
<polygon points="1245.0,1118.6 1187.8,1144.5 1187.8,1147.0 1244.8,1120.5" fill="#7b6347" fill-opacity="0.60"/>
<polygon points="1244.9,1119.2 1187.8,1145.3 1187.8,1147.8 1244.8,1121.2" fill="#7c6b57" fill-opacity="0.52"/>
<polygon points="1244.9,1119.9 1187.8,1146.2 1187.8,1148.7 1244.8,1121.8" fill="#7d7266" fill-opacity="0.44"/>
<polygon points="1244.8,1120.5 1187.8,1147.0 1187.8,1151.0 1244.7,1122.8" fill="#807971" fill-opacity="0.37"/>
<polygon points="1244.8,1121.5 1187.8,1149.3 1187.8,1153.4 1244.6,1123.9" fill="#837d78" fill-opacity="0.31"/>
<polygon points="1244.7,1122.6 1187.8,1151.7 1187.8,1155.7 1244.6,1124.9" fill="#86827e" fill-opacity="0.25"/>
<polygon points="1244.6,1123.6 1187.8,1154.0 1187.8,1158.0 1244.5,1125.7" fill="#898784" fill-opacity="0.19"/>
<polygon points="1244.6,1124.7 1187.8,1156.4 1187.8,1158.7 1244.5,1125.7" fill="#8c8b8b" fill-opacity="0.13"/>
<polygon points="1128.0,1061.8 1187.8,1047.8 1248.7,1060.8 1187.8,1075.2" fill="#b87c1c" fill-opacity="1"/>
</g>
<line x1="1128.0" y1="1061.8" x2="1187.8" y2="1047.8" stroke="#6d7b8c" stroke-width="0.8" opacity="0.8"/>
<line x1="1187.8" y1="1047.8" x2="1248.7" y2="1060.8" stroke="#6d7b8c" stroke-width="0.8" opacity="0.8"/>
<line x1="1248.7" y1="1060.8" x2="1187.8" y2="1075.2" stroke="#6d7b8c" stroke-width="0.8" opacity="0.8"/>
<line x1="1187.8" y1="1075.2" x2="1128.0" y2="1061.8" stroke="#6d7b8c" stroke-width="0.8" opacity="0.8"/>
<line x1="1128.0" y1="1061.8" x2="1133.2" y2="1127.8" stroke="#6d7b8c" stroke-width="0.8" opacity="0.8"/>
<line x1="1248.7" y1="1060.8" x2="1244.5" y2="1125.7" stroke="#6d7b8c" stroke-width="0.8" opacity="0.8"/>
<line x1="1187.8" y1="1075.2" x2="1187.8" y2="1158.7" stroke="#6d7b8c" stroke-width="0.8" opacity="0.8"/>
<line x1="1133.2" y1="1127.8" x2="1187.8" y2="1158.7" stroke="#6d7b8c" stroke-width="0.8" opacity="0.8"/>
<line x1="1187.8" y1="1158.7" x2="1244.5" y2="1125.7" stroke="#6d7b8c" stroke-width="0.8" opacity="0.8"/>
<g filter="url(#cb1)"><ellipse cx="1184" cy="1072.5" rx="6" ry="2.4" fill="#4a3210" fill-opacity="0.85"/><ellipse cx="1169" cy="1053.6" rx="5" ry="1.8" fill="#5a4010" fill-opacity="0.7"/><ellipse cx="1210" cy="1062" rx="16" ry="3.5" fill="#cc942a" fill-opacity="0.55"/><ellipse cx="1160" cy="1064" rx="12" ry="3" fill="#a86a14" fill-opacity="0.5"/></g>
<text x="966.8" y="943.6" font-size="18.5" font-family="'Liberation Sans', sans-serif" fill="#111">S<tspan dy="-7" font-size="11">-</tspan></text>
<text x="1108.0" y="943.6" font-size="18.5" font-family="'Liberation Sans', sans-serif" fill="#111">O<tspan dy="-7" font-size="11">-</tspan></text>
<text x="967.3" y="1081.0" font-size="18.5" font-family="'Liberation Sans', sans-serif" fill="#111">F<tspan dy="-7" font-size="11">-</tspan></text>
<text x="1114.4" y="1081.0" font-size="18.5" font-family="'Liberation Sans', sans-serif" fill="#111">I<tspan dy="-7" font-size="11">-</tspan></text>
<text x="179.6" y="1212.6" font-size="25" font-family="'Liberation Sans', sans-serif" fill="#111">(b)</text>
<clipPath id="semb"><rect x="220" y="1191" width="290" height="211.5"/></clipPath><g clip-path="url(#semb)">
<rect x="220.0" y="1191.0" width="290.0" height="211.5" fill="#5e5e5e"/>
<polygon points="219.1,1233.4 256.2,1233.4 276.9,1272.6 297.5,1332.4 219.1,1332.4" fill="#626262" filter="url(#bl2_5)" fill-opacity="1.0"/>
<polygon points="266.5,1235.5 326.3,1226.2 359.3,1228.3 390.3,1241.7 359.3,1276.7 338.7,1293.2 326.3,1266.4 305.7,1264.4 276.9,1270.5" fill="#474747" filter="url(#bl2_5)" fill-opacity="1.0"/>
<polygon points="305.7,1265.4 327.4,1285.0 337.1,1331.4 302.6,1331.4 278.9,1276.7" fill="#868686" filter="url(#bl2_5)" fill-opacity="1.0"/>
<polygon points="311.9,1272.6 328.4,1293.2 333.6,1330.3 318.1,1330.3" fill="#8e8e8e" filter="url(#bl4)" fill-opacity="1.0"/>
<polygon points="276.9,1274.7 301.6,1331.4 292.3,1331.4 274.8,1289.1" fill="#414141" filter="url(#bl2_5)" fill-opacity="1.0"/>
<polygon points="338.7,1293.2 359.3,1277.8 390.3,1244.8 410.9,1240.6 421.2,1268.5 407.8,1293.2 400.6,1331.4 336.6,1331.4" fill="#525252" filter="url(#bl2_5)" fill-opacity="1.0"/>
<polygon points="421.2,1268.5 462.4,1266.8 469.0,1293.2 473.1,1331.4 401.0,1331.4 408.8,1293.2" fill="#7e7e7e" filter="url(#bl2_5)" fill-opacity="1.0"/>
<polygon points="412.9,1236.5 467.6,1224.1 462.4,1266.0 423.7,1266.8" fill="#5d5d5d" filter="url(#bl2_5)" fill-opacity="1.0"/>
<polygon points="469.0,1228.3 511.9,1232.4 511.9,1331.4 475.2,1331.4 469.6,1289.1" fill="#525252" filter="url(#bl2_5)" fill-opacity="1.0"/>
<path d="M256.2 1234.5 L266.5 1254.0 L276.9 1274.7" fill="none" stroke="#b5b5b5" stroke-width="6" filter="url(#bl2_5)" stroke-opacity="0.8" stroke-linejoin="round" stroke-linecap="round"/>
<path d="M276.9 1274.7 L289.2 1301.5 L299.5 1330.3" fill="none" stroke="#8a8a8a" stroke-width="4" filter="url(#bl2_5)" stroke-opacity="0.6" stroke-linejoin="round" stroke-linecap="round"/>
<path d="M305.7 1265.4 L326.3 1264.4 L338.7 1258.2" fill="none" stroke="#a8a8a8" stroke-width="5" filter="url(#bl2_5)" stroke-opacity="0.7" stroke-linejoin="round" stroke-linecap="round"/>
<path d="M359.3 1276.7 L375.8 1258.2 L390.3 1242.7 L408.8 1237.5" fill="none" stroke="#a0a0a0" stroke-width="6" filter="url(#bl2_5)" stroke-opacity="0.8" stroke-linejoin="round" stroke-linecap="round"/>
<path d="M410.9 1239.6 L421.2 1268.5 L408.8 1293.2" fill="none" stroke="#8c8c8c" stroke-width="4" filter="url(#bl2_5)" stroke-opacity="0.7" stroke-linejoin="round" stroke-linecap="round"/>
<path d="M421.2 1268.1 L461.4 1266.4" fill="none" stroke="#8a8a8a" stroke-width="4" filter="url(#bl2_5)" stroke-opacity="0.6" stroke-linejoin="round" stroke-linecap="round"/>
<path d="M467.6 1225.2 L462.4 1266.4 L469.0 1293.2 L472.7 1330.3" fill="none" stroke="#8e8e8e" stroke-width="5" filter="url(#bl2_5)" stroke-opacity="0.7" stroke-linejoin="round" stroke-linecap="round"/>
<path d="M338.7 1294.2 L337.1 1330.3" fill="none" stroke="#3a3a3a" stroke-width="4" filter="url(#bl2_5)" stroke-opacity="0.8" stroke-linejoin="round" stroke-linecap="round"/>
<path d="M407.8 1293.2 L400.6 1330.3" fill="none" stroke="#3c3c3c" stroke-width="4" filter="url(#bl2_5)" stroke-opacity="0.7" stroke-linejoin="round" stroke-linecap="round"/>
<polygon points="219.1,1216.9 276.9,1220.0 322.2,1225.2 318.1,1235.5 276.9,1234.5 219.1,1233.4" fill="#a4a4a4" filter="url(#bl4)" fill-opacity="0.9"/>
<polygon points="322.2,1224.1 371.7,1226.2 390.3,1220.0 412.9,1216.9 421.2,1227.2 392.3,1239.6 359.3,1230.3 326.3,1230.3" fill="#8a8a8a" filter="url(#bl4)" fill-opacity="0.75"/>
<polygon points="410.9,1216.9 441.8,1222.7 462.4,1216.9 483.0,1220.0 511.9,1215.9 511.9,1232.4 468.6,1227.2 441.8,1230.3 412.9,1235.5" fill="#969696" filter="url(#bl4)" fill-opacity="0.85"/>
<polygon points="215.0,1186.0 215.0,1210.3 256.2,1212.4 297.5,1216.9 322.2,1222.7 359.3,1221.9 371.7,1224.8 390.3,1219.0 410.9,1214.9 425.3,1216.9 441.8,1221.5 462.4,1215.3 483.0,1219.0 511.9,1212.8 511.9,1186.0" fill="#020202" filter="url(#bl1_2)" fill-opacity="1.0"/>
<rect x="220.0" y="1189.0" width="290.0" height="20.0" fill="#020202"/>
<rect x="220.0" y="1332.8" width="290.0" height="30.9" fill="#7c7c7c"/>
<polygon points="223.2,1332.8 386.1,1332.8 386.1,1336.9 223.2,1336.9" fill="#e0e0e0" filter="url(#bl1_2)" fill-opacity="0.95"/>
<polygon points="386.1,1334.5 511.9,1332.8 511.9,1337.5 386.1,1338.6" fill="#9a9a9a" filter="url(#bl1_2)" fill-opacity="0.8"/>
<polygon points="415.0,1328.3 437.7,1328.3 437.7,1333.4 415.0,1333.4" fill="#f0f0f0" filter="url(#bl1_2)" fill-opacity="0.95"/>
<polygon points="489.2,1328.3 503.7,1328.3 503.7,1332.8 489.2,1332.8" fill="#c8c8c8" filter="url(#bl1_2)" fill-opacity="0.8"/>
<polygon points="219.1,1358.2 511.9,1358.2 511.9,1363.7 219.1,1363.7" fill="#8e8e8e" filter="url(#bl1_2)" fill-opacity="0.8"/>
<line x1="261.4" y1="1336.5" x2="260.2" y2="1361.3" stroke="#dcdcdc" stroke-width="2.2727272727272725" opacity="0.85"/>
<line x1="386.1" y1="1336.5" x2="387.4" y2="1361.3" stroke="#e6e6e6" stroke-width="2.727272727272727" opacity="0.85"/>
<line x1="472.7" y1="1336.5" x2="472.4" y2="1361.3" stroke="#d0d0d0" stroke-width="2.2727272727272725" opacity="0.85"/>
<line x1="239.7" y1="1336.5" x2="239.9" y2="1361.3" stroke="#a0a0a0" stroke-width="1.3636363636363635" opacity="0.85"/>
<line x1="301.6" y1="1336.5" x2="300.4" y2="1361.3" stroke="#a8a8a8" stroke-width="1.3636363636363635" opacity="0.85"/>
<line x1="318.1" y1="1336.5" x2="316.9" y2="1361.3" stroke="#a0a0a0" stroke-width="1.3636363636363635" opacity="0.85"/>
<line x1="342.8" y1="1336.5" x2="344.6" y2="1361.3" stroke="#a0a0a0" stroke-width="1.3636363636363635" opacity="0.85"/>
<line x1="359.3" y1="1336.5" x2="360.0" y2="1361.3" stroke="#a8a8a8" stroke-width="1.3636363636363635" opacity="0.85"/>
<line x1="400.6" y1="1336.5" x2="401.2" y2="1361.3" stroke="#c0c0c0" stroke-width="1.8181818181818181" opacity="0.85"/>
<line x1="421.2" y1="1336.5" x2="419.3" y2="1361.3" stroke="#b0b0b0" stroke-width="1.3636363636363635" opacity="0.85"/>
<line x1="448.0" y1="1336.5" x2="447.0" y2="1361.3" stroke="#b8b8b8" stroke-width="1.8181818181818181" opacity="0.85"/>
<line x1="493.4" y1="1336.5" x2="495.7" y2="1361.3" stroke="#b0b0b0" stroke-width="1.3636363636363635" opacity="0.85"/>
<polygon points="223.2,1354.0 227.8,1354.0 227.8,1360.2 223.2,1360.2" fill="#f4f4f4" filter="url(#bl1_2)" fill-opacity="1.0"/>
<polygon points="377.9,1353.0 386.1,1353.0 386.1,1359.2 377.9,1359.2" fill="#e8e8e8" filter="url(#bl1_2)" fill-opacity="1.0"/>
<polygon points="357.3,1348.9 379.9,1350.9 379.9,1357.1 357.3,1355.1" fill="#9c9c9c" filter="url(#bl2_5)" fill-opacity="0.7"/>
<rect x="220.0" y="1363.7" width="290.0" height="45.0" fill="#3a3a3a"/>
<polygon points="389.2,1376.7 394.0,1376.7 394.0,1385.0 389.2,1385.0" fill="#777" filter="url(#bl1_2)" fill-opacity="0.8"/>
<rect x="220.0" y="1191.0" width="290.0" height="211.5" fill="#fff" filter="url(#semn)" opacity="0.5"/>
<rect x="220.0" y="1191.0" width="290.0" height="211.5" fill="#000" filter="url(#semd)" opacity="0.5"/>
</g>
<rect x="221.9" y="1394.6" width="113.8" height="6.0" fill="#fff"/>
<text x="251.9" y="1389.7" font-size="17" font-family="'Liberation Sans', sans-serif" fill="#fff">600 nm</text>
<text x="502.6" y="1208.2" font-size="19.5" font-family="'Liberation Sans', sans-serif" fill="#fff" text-anchor="end">Control</text>
<text x="179.6" y="1432.7" font-size="25" font-family="'Liberation Sans', sans-serif" fill="#111">(c)</text>
<clipPath id="semc"><rect x="220" y="1414.2" width="290" height="213.6"/></clipPath><g clip-path="url(#semc)">
<rect x="220.0" y="1414.2" width="290.0" height="213.6" fill="#5c5c5c"/>
<rect x="450.0" y="1442.0" width="62.0" height="118.0" fill="#4e4e4e" filter="url(#bl2_5)"/>
<rect x="356.0" y="1442.0" width="62.0" height="118.0" fill="#525252" filter="url(#bl2_5)"/>
<rect x="290.0" y="1450.0" width="62.0" height="110.0" fill="#636363" filter="url(#bl4)" fill-opacity="0.8"/>
<line x1="290.5" y1="1470.0" x2="293.0" y2="1560.0" stroke="#7c7c7c" stroke-width="3" opacity="0.7"/>
<line x1="353.0" y1="1445.0" x2="353.5" y2="1560.0" stroke="#858585" stroke-width="3" opacity="0.8"/>
<g filter="url(#bl1_2)">
<polygon points="422.5,1440.0 443.5,1440.0 443.5,1562.0 404.0,1562.0 410.0,1552.0 421.0,1540.0" fill="#d2d2d2"/>
<rect x="426.0" y="1444.0" width="12.0" height="100.0" fill="#e6e6e6"/>
<line x1="353.5" y1="1530.0" x2="353.5" y2="1561.0" stroke="#c8c8c8" stroke-width="3"/>
</g>
<rect x="220.0" y="1437.5" width="290.0" height="4.5" fill="#9a9a9a" filter="url(#bl1_2)"/>
<rect x="220.0" y="1412.0" width="290.0" height="26.0" fill="#030303"/>
<rect x="220.0" y="1561.5" width="290.0" height="34.0" fill="#787878"/>
<rect x="252.0" y="1560.5" width="258.0" height="4.0" fill="#c4c4c4" filter="url(#bl1_2)"/>
<rect x="220.0" y="1590.0" width="290.0" height="4.0" fill="#9a9a9a" filter="url(#bl1_2)"/>
<line x1="250.0" y1="1565.0" x2="250.2" y2="1590.0" stroke="#b2b2b2" stroke-width="2" opacity="0.7"/>
<line x1="261.3" y1="1565.0" x2="261.3" y2="1590.0" stroke="#b2b2b2" stroke-width="2" opacity="0.7"/>
<line x1="280.4" y1="1565.0" x2="283.2" y2="1590.0" stroke="#b2b2b2" stroke-width="2" opacity="0.7"/>
<line x1="297.3" y1="1565.0" x2="295.7" y2="1590.0" stroke="#b2b2b2" stroke-width="2" opacity="0.7"/>
<line x1="317.8" y1="1565.0" x2="317.3" y2="1590.0" stroke="#b2b2b2" stroke-width="2" opacity="0.7"/>
<line x1="332.7" y1="1565.0" x2="333.7" y2="1590.0" stroke="#b2b2b2" stroke-width="2" opacity="0.7"/>
<line x1="351.6" y1="1565.0" x2="352.7" y2="1590.0" stroke="#b2b2b2" stroke-width="2" opacity="0.7"/>
<line x1="363.8" y1="1565.0" x2="360.9" y2="1590.0" stroke="#b2b2b2" stroke-width="2" opacity="0.7"/>
<line x1="378.7" y1="1565.0" x2="377.9" y2="1590.0" stroke="#b2b2b2" stroke-width="2" opacity="0.7"/>
<line x1="391.3" y1="1565.0" x2="392.4" y2="1590.0" stroke="#b2b2b2" stroke-width="2" opacity="0.7"/>
<line x1="402.5" y1="1565.0" x2="405.1" y2="1590.0" stroke="#b2b2b2" stroke-width="2" opacity="0.7"/>
<line x1="426.4" y1="1565.0" x2="428.5" y2="1590.0" stroke="#b2b2b2" stroke-width="2" opacity="0.7"/>
<line x1="444.4" y1="1565.0" x2="445.0" y2="1590.0" stroke="#b2b2b2" stroke-width="2" opacity="0.7"/>
<line x1="460.3" y1="1565.0" x2="457.7" y2="1590.0" stroke="#b2b2b2" stroke-width="2" opacity="0.7"/>
<line x1="482.6" y1="1565.0" x2="481.8" y2="1590.0" stroke="#b2b2b2" stroke-width="2" opacity="0.7"/>
<line x1="496.4" y1="1565.0" x2="496.0" y2="1590.0" stroke="#b2b2b2" stroke-width="2" opacity="0.7"/>
<g filter="url(#bl1_2)">
<rect x="235.0" y="1584.0" width="12.0" height="4.0" fill="#f0f0f0"/>
<rect x="250.0" y="1580.0" width="16.0" height="3.0" fill="#e0e0e0"/>
<rect x="384.0" y="1581.0" width="8.0" height="3.0" fill="#eee"/>
<rect x="396.0" y="1585.0" width="6.0" height="3.0" fill="#eee"/>
</g>
<rect x="220.0" y="1595.0" width="290.0" height="34.0" fill="#393939"/>
<rect x="220.0" y="1414.2" width="290.0" height="213.6" fill="#fff" filter="url(#semn)" opacity="0.5"/>
<rect x="220.0" y="1414.2" width="290.0" height="213.6" fill="#000" filter="url(#semd)" opacity="0.5"/>
</g>
<rect x="221.9" y="1620.0" width="113.8" height="6.0" fill="#fff"/>
<text x="248.3" y="1614.2" font-size="17" font-family="'Liberation Sans', sans-serif" fill="#fff">600 nm</text>
<text x="503.0" y="1433.3" font-size="19.5" font-family="'Liberation Sans', sans-serif" fill="#fff" text-anchor="end">With TMSI</text>
<text x="529.6" y="1214.4" font-size="25" font-family="'Liberation Sans', sans-serif" fill="#111">(f)</text>
<polygon points="646.4,1222.6 640.9,1258.3 664.5,1240.7" fill="#90c0e3" stroke="#90c0e3" stroke-width="0.5" fill-opacity="0.93"/>
<polygon points="682.1,1228.1 646.4,1222.6 664.5,1240.7" fill="#81b2d9" stroke="#81b2d9" stroke-width="0.5" fill-opacity="0.93"/>
<polygon points="640.9,1258.3 676.6,1263.8 664.5,1240.7" fill="#75a6cf" stroke="#75a6cf" stroke-width="0.5" fill-opacity="0.93"/>
<polygon points="676.6,1263.8 682.1,1228.1 664.5,1240.7" fill="#5e8eb9" stroke="#5e8eb9" stroke-width="0.5" fill-opacity="0.93"/>
<circle cx="651.5" cy="1249.2" r="3.4" fill="url(#gT2)"/>
<circle cx="660.7" cy="1244.0" r="6.0" fill="url(#gP)"/>
<circle cx="664.9" cy="1240.7" r="4.6" fill="url(#gY)"/>
<polygon points="710.8,1266.6 676.6,1263.8 695.3,1279.8" fill="#90c0e3" stroke="#90c0e3" stroke-width="0.5" fill-opacity="0.93"/>
<polygon points="676.6,1263.8 673.8,1298.0 695.3,1279.8" fill="#81b2d9" stroke="#81b2d9" stroke-width="0.5" fill-opacity="0.93"/>
<polygon points="708.0,1300.8 710.8,1266.6 695.3,1279.8" fill="#75a6cf" stroke="#75a6cf" stroke-width="0.5" fill-opacity="0.93"/>
<polygon points="673.8,1298.0 708.0,1300.8 695.3,1279.8" fill="#5e8eb9" stroke="#5e8eb9" stroke-width="0.5" fill-opacity="0.93"/>
<circle cx="682.3" cy="1288.3" r="3.4" fill="url(#gT2)"/>
<circle cx="691.5" cy="1283.1" r="6.0" fill="url(#gT)"/>
<circle cx="695.7" cy="1279.8" r="4.6" fill="url(#gY)"/>
<polygon points="673.8,1298.0 639.5,1294.0 657.6,1310.7" fill="#90c0e3" stroke="#90c0e3" stroke-width="0.5" fill-opacity="0.93"/>
<polygon points="639.5,1294.0 635.5,1328.3 657.6,1310.7" fill="#81b2d9" stroke="#81b2d9" stroke-width="0.5" fill-opacity="0.93"/>
<polygon points="669.8,1332.3 673.8,1298.0 657.6,1310.7" fill="#75a6cf" stroke="#75a6cf" stroke-width="0.5" fill-opacity="0.93"/>
<polygon points="635.5,1328.3 669.8,1332.3 657.6,1310.7" fill="#5e8eb9" stroke="#5e8eb9" stroke-width="0.5" fill-opacity="0.93"/>
<circle cx="644.6" cy="1319.2" r="3.4" fill="url(#gT2)"/>
<circle cx="653.9" cy="1314.0" r="6.0" fill="url(#gT)"/>
<circle cx="658.0" cy="1310.7" r="4.6" fill="url(#gY)"/>
<polygon points="640.9,1258.3 605.2,1256.9 625.3,1273.0" fill="#90c0e3" stroke="#90c0e3" stroke-width="0.5" fill-opacity="0.93"/>
<polygon points="605.2,1256.9 603.8,1292.6 625.3,1273.0" fill="#81b2d9" stroke="#81b2d9" stroke-width="0.5" fill-opacity="0.93"/>
<polygon points="639.5,1294.0 640.9,1258.3 625.3,1273.0" fill="#75a6cf" stroke="#75a6cf" stroke-width="0.5" fill-opacity="0.93"/>
<polygon points="603.8,1292.6 639.5,1294.0 625.3,1273.0" fill="#5e8eb9" stroke="#5e8eb9" stroke-width="0.5" fill-opacity="0.93"/>
<circle cx="612.3" cy="1281.5" r="3.4" fill="url(#gT2)"/>
<circle cx="621.5" cy="1276.2" r="6.0" fill="url(#gT)"/>
<circle cx="625.7" cy="1273.0" r="4.6" fill="url(#gY)"/>
<circle cx="640.9" cy="1258.3" r="4.3" fill="url(#gY)"/>
<circle cx="676.6" cy="1263.8" r="4.3" fill="url(#gY)"/>
<circle cx="682.1" cy="1228.1" r="4.3" fill="url(#gY)"/>
<circle cx="646.4" cy="1222.6" r="4.3" fill="url(#gY)"/>
<circle cx="673.8" cy="1298.0" r="4.3" fill="url(#gY)"/>
<circle cx="708.0" cy="1300.8" r="4.3" fill="url(#gY)"/>
<circle cx="710.8" cy="1266.6" r="4.3" fill="url(#gY)"/>
<circle cx="639.5" cy="1294.0" r="4.3" fill="url(#gY)"/>
<circle cx="635.5" cy="1328.3" r="4.3" fill="url(#gY)"/>
<circle cx="669.8" cy="1332.3" r="4.3" fill="url(#gY)"/>
<circle cx="605.2" cy="1256.9" r="4.3" fill="url(#gY)"/>
<circle cx="603.8" cy="1292.6" r="4.3" fill="url(#gY)"/>
<circle cx="656.9" cy="1278.4" r="9.3" fill="url(#gG)"/>
<polygon points="841.2,1223.9 818.0,1252.8 845.6,1248.5" fill="#90c0e3" stroke="#90c0e3" stroke-width="0.5" fill-opacity="0.93"/>
<polygon points="870.1,1247.1 841.2,1223.9 845.6,1248.5" fill="#81b2d9" stroke="#81b2d9" stroke-width="0.5" fill-opacity="0.93"/>
<polygon points="818.0,1252.8 846.9,1276.0 845.6,1248.5" fill="#75a6cf" stroke="#75a6cf" stroke-width="0.5" fill-opacity="0.93"/>
<polygon points="846.9,1276.0 870.1,1247.1 845.6,1248.5" fill="#5e8eb9" stroke="#5e8eb9" stroke-width="0.5" fill-opacity="0.93"/>
<circle cx="844.1" cy="1237.0" r="3.4" fill="url(#gT2)"/>
<circle cx="843.3" cy="1250.8" r="6.0" fill="url(#gT)"/>
<circle cx="846.0" cy="1248.5" r="4.6" fill="url(#gY)"/>
<polygon points="846.9,1276.0 821.4,1298.7 847.0,1298.6" fill="#90c0e3" stroke="#90c0e3" stroke-width="0.5" fill-opacity="0.93"/>
<polygon points="869.6,1301.5 846.9,1276.0 847.0,1298.6" fill="#81b2d9" stroke="#81b2d9" stroke-width="0.5" fill-opacity="0.93"/>
<polygon points="821.4,1298.7 844.1,1324.2 847.0,1298.6" fill="#75a6cf" stroke="#75a6cf" stroke-width="0.5" fill-opacity="0.93"/>
<polygon points="844.1,1324.2 869.6,1301.5 847.0,1298.6" fill="#5e8eb9" stroke="#5e8eb9" stroke-width="0.5" fill-opacity="0.93"/>
<circle cx="845.5" cy="1287.1" r="3.4" fill="url(#gT2)"/>
<circle cx="844.7" cy="1300.9" r="6.0" fill="url(#gP)"/>
<circle cx="847.4" cy="1298.6" r="4.6" fill="url(#gY)"/>
<polygon points="793.4,1276.2 770.9,1304.2 797.6,1300.0" fill="#90c0e3" stroke="#90c0e3" stroke-width="0.5" fill-opacity="0.93"/>
<polygon points="821.4,1298.7 793.4,1276.2 797.6,1300.0" fill="#81b2d9" stroke="#81b2d9" stroke-width="0.5" fill-opacity="0.93"/>
<polygon points="770.9,1304.2 798.9,1326.7 797.6,1300.0" fill="#75a6cf" stroke="#75a6cf" stroke-width="0.5" fill-opacity="0.93"/>
<polygon points="798.9,1326.7 821.4,1298.7 797.6,1300.0" fill="#5e8eb9" stroke="#5e8eb9" stroke-width="0.5" fill-opacity="0.93"/>
<circle cx="796.1" cy="1288.5" r="3.4" fill="url(#gT2)"/>
<circle cx="795.4" cy="1302.2" r="6.0" fill="url(#gP)"/>
<circle cx="798.0" cy="1300.0" r="4.6" fill="url(#gY)"/>
<polygon points="794.6,1228.2 770.0,1251.6 795.5,1250.7" fill="#90c0e3" stroke="#90c0e3" stroke-width="0.5" fill-opacity="0.93"/>
<polygon points="818.0,1252.8 794.6,1228.2 795.5,1250.7" fill="#81b2d9" stroke="#81b2d9" stroke-width="0.5" fill-opacity="0.93"/>
<polygon points="770.0,1251.6 793.4,1276.2 795.5,1250.7" fill="#75a6cf" stroke="#75a6cf" stroke-width="0.5" fill-opacity="0.93"/>
<polygon points="793.4,1276.2 818.0,1252.8 795.5,1250.7" fill="#5e8eb9" stroke="#5e8eb9" stroke-width="0.5" fill-opacity="0.93"/>
<circle cx="794.0" cy="1239.2" r="3.4" fill="url(#gT2)"/>
<circle cx="793.2" cy="1253.0" r="6.0" fill="url(#gT)"/>
<circle cx="795.9" cy="1250.7" r="4.6" fill="url(#gY)"/>
<circle cx="818.0" cy="1252.8" r="4.3" fill="url(#gY)"/>
<circle cx="846.9" cy="1276.0" r="4.3" fill="url(#gY)"/>
<circle cx="870.1" cy="1247.1" r="4.3" fill="url(#gY)"/>
<circle cx="841.2" cy="1223.9" r="4.3" fill="url(#gY)"/>
<circle cx="821.4" cy="1298.7" r="4.3" fill="url(#gY)"/>
<circle cx="844.1" cy="1324.2" r="4.3" fill="url(#gY)"/>
<circle cx="869.6" cy="1301.5" r="4.3" fill="url(#gY)"/>
<circle cx="793.4" cy="1276.2" r="4.3" fill="url(#gY)"/>
<circle cx="770.9" cy="1304.2" r="4.3" fill="url(#gY)"/>
<circle cx="798.9" cy="1326.7" r="4.3" fill="url(#gY)"/>
<circle cx="794.6" cy="1228.2" r="4.3" fill="url(#gY)"/>
<circle cx="770.0" cy="1251.6" r="4.3" fill="url(#gY)"/>
<circle cx="821.6" cy="1274.8" r="9.3" fill="url(#gG)"/>
<polygon points="699.2,1355.8 667.0,1366.8 691.6,1375.4" fill="#90c0e3" stroke="#90c0e3" stroke-width="0.5" fill-opacity="0.93"/>
<polygon points="667.0,1366.8 678.0,1399.0 691.6,1375.4" fill="#81b2d9" stroke="#81b2d9" stroke-width="0.5" fill-opacity="0.93"/>
<polygon points="710.2,1388.0 699.2,1355.8 691.6,1375.4" fill="#75a6cf" stroke="#75a6cf" stroke-width="0.5" fill-opacity="0.93"/>
<polygon points="678.0,1399.0 710.2,1388.0 691.6,1375.4" fill="#5e8eb9" stroke="#5e8eb9" stroke-width="0.5" fill-opacity="0.93"/>
<circle cx="678.6" cy="1372.4" r="3.4" fill="url(#gT2)"/>
<circle cx="687.8" cy="1378.2" r="6.0" fill="url(#gT)"/>
<circle cx="692.0" cy="1375.4" r="4.6" fill="url(#gY)"/>
<polygon points="678.0,1399.0 647.0,1413.5 672.8,1419.8" fill="#90c0e3" stroke="#90c0e3" stroke-width="0.5" fill-opacity="0.93"/>
<polygon points="647.0,1413.5 661.5,1444.5 672.8,1419.8" fill="#81b2d9" stroke="#81b2d9" stroke-width="0.5" fill-opacity="0.93"/>
<polygon points="692.5,1430.0 678.0,1399.0 672.8,1419.8" fill="#75a6cf" stroke="#75a6cf" stroke-width="0.5" fill-opacity="0.93"/>
<polygon points="661.5,1444.5 692.5,1430.0 672.8,1419.8" fill="#5e8eb9" stroke="#5e8eb9" stroke-width="0.5" fill-opacity="0.93"/>
<circle cx="659.8" cy="1416.8" r="3.4" fill="url(#gT2)"/>
<circle cx="669.0" cy="1422.5" r="6.0" fill="url(#gP)"/>
<circle cx="673.1" cy="1419.8" r="4.6" fill="url(#gY)"/>
<polygon points="633.2,1379.2 598.9,1393.0 626.0,1401.2" fill="#90c0e3" stroke="#90c0e3" stroke-width="0.5" fill-opacity="0.93"/>
<polygon points="598.9,1393.0 612.7,1427.3 626.0,1401.2" fill="#81b2d9" stroke="#81b2d9" stroke-width="0.5" fill-opacity="0.93"/>
<polygon points="647.0,1413.5 633.2,1379.2 626.0,1401.2" fill="#75a6cf" stroke="#75a6cf" stroke-width="0.5" fill-opacity="0.93"/>
<polygon points="612.7,1427.3 647.0,1413.5 626.0,1401.2" fill="#5e8eb9" stroke="#5e8eb9" stroke-width="0.5" fill-opacity="0.93"/>
<circle cx="613.0" cy="1398.2" r="3.4" fill="url(#gT2)"/>
<circle cx="622.2" cy="1404.0" r="6.0" fill="url(#gT)"/>
<circle cx="626.4" cy="1401.2" r="4.6" fill="url(#gY)"/>
<polygon points="654.6,1333.0 620.8,1345.4 646.9,1354.1" fill="#90c0e3" stroke="#90c0e3" stroke-width="0.5" fill-opacity="0.93"/>
<polygon points="620.8,1345.4 633.2,1379.2 646.9,1354.1" fill="#81b2d9" stroke="#81b2d9" stroke-width="0.5" fill-opacity="0.93"/>
<polygon points="667.0,1366.8 654.6,1333.0 646.9,1354.1" fill="#75a6cf" stroke="#75a6cf" stroke-width="0.5" fill-opacity="0.93"/>
<polygon points="633.2,1379.2 667.0,1366.8 646.9,1354.1" fill="#5e8eb9" stroke="#5e8eb9" stroke-width="0.5" fill-opacity="0.93"/>
<circle cx="633.9" cy="1351.1" r="3.4" fill="url(#gT2)"/>
<circle cx="643.1" cy="1356.9" r="6.0" fill="url(#gT)"/>
<circle cx="647.3" cy="1354.1" r="4.6" fill="url(#gY)"/>
<circle cx="667.0" cy="1366.8" r="4.3" fill="url(#gY)"/>
<circle cx="678.0" cy="1399.0" r="4.3" fill="url(#gY)"/>
<circle cx="710.2" cy="1388.0" r="4.3" fill="url(#gY)"/>
<circle cx="699.2" cy="1355.8" r="4.3" fill="url(#gY)"/>
<circle cx="647.0" cy="1413.5" r="4.3" fill="url(#gY)"/>
<circle cx="661.5" cy="1444.5" r="4.3" fill="url(#gY)"/>
<circle cx="692.5" cy="1430.0" r="4.3" fill="url(#gY)"/>
<circle cx="633.2" cy="1379.2" r="4.3" fill="url(#gY)"/>
<circle cx="598.9" cy="1393.0" r="4.3" fill="url(#gY)"/>
<circle cx="612.7" cy="1427.3" r="4.3" fill="url(#gY)"/>
<circle cx="654.6" cy="1333.0" r="4.3" fill="url(#gY)"/>
<circle cx="620.8" cy="1345.4" r="4.3" fill="url(#gY)"/>
<circle cx="656.0" cy="1386.7" r="9.3" fill="url(#gG)"/>
<polygon points="818.5,1336.5 807.0,1368.2 831.6,1356.1" fill="#90c0e3" stroke="#90c0e3" stroke-width="0.5" fill-opacity="0.93"/>
<polygon points="850.2,1348.0 818.5,1336.5 831.6,1356.1" fill="#81b2d9" stroke="#81b2d9" stroke-width="0.5" fill-opacity="0.93"/>
<polygon points="807.0,1368.2 838.7,1379.7 831.6,1356.1" fill="#75a6cf" stroke="#75a6cf" stroke-width="0.5" fill-opacity="0.93"/>
<polygon points="838.7,1379.7 850.2,1348.0 831.6,1356.1" fill="#5e8eb9" stroke="#5e8eb9" stroke-width="0.5" fill-opacity="0.93"/>
<circle cx="817.6" cy="1363.1" r="3.4" fill="url(#gT2)"/>
<circle cx="827.8" cy="1358.9" r="6.0" fill="url(#gP)"/>
<circle cx="832.0" cy="1356.1" r="4.6" fill="url(#gY)"/>
<polygon points="838.7,1379.7 830.4,1414.0 854.7,1399.0" fill="#90c0e3" stroke="#90c0e3" stroke-width="0.5" fill-opacity="0.93"/>
<polygon points="873.0,1388.0 838.7,1379.7 854.7,1399.0" fill="#81b2d9" stroke="#81b2d9" stroke-width="0.5" fill-opacity="0.93"/>
<polygon points="830.4,1414.0 864.7,1422.3 854.7,1399.0" fill="#75a6cf" stroke="#75a6cf" stroke-width="0.5" fill-opacity="0.93"/>
<polygon points="864.7,1422.3 873.0,1388.0 854.7,1399.0" fill="#5e8eb9" stroke="#5e8eb9" stroke-width="0.5" fill-opacity="0.93"/>
<circle cx="840.7" cy="1406.0" r="3.4" fill="url(#gT2)"/>
<circle cx="850.9" cy="1401.8" r="6.0" fill="url(#gT)"/>
<circle cx="855.1" cy="1399.0" r="4.6" fill="url(#gY)"/>
<polygon points="797.5,1401.2 784.7,1434.1 810.5,1422.0" fill="#90c0e3" stroke="#90c0e3" stroke-width="0.5" fill-opacity="0.93"/>
<polygon points="830.4,1414.0 797.5,1401.2 810.5,1422.0" fill="#81b2d9" stroke="#81b2d9" stroke-width="0.5" fill-opacity="0.93"/>
<polygon points="784.7,1434.1 817.6,1446.9 810.5,1422.0" fill="#75a6cf" stroke="#75a6cf" stroke-width="0.5" fill-opacity="0.93"/>
<polygon points="817.6,1446.9 830.4,1414.0 810.5,1422.0" fill="#5e8eb9" stroke="#5e8eb9" stroke-width="0.5" fill-opacity="0.93"/>
<circle cx="796.5" cy="1429.0" r="3.4" fill="url(#gT2)"/>
<circle cx="806.8" cy="1424.8" r="6.0" fill="url(#gT)"/>
<circle cx="810.9" cy="1422.0" r="4.6" fill="url(#gY)"/>
<polygon points="774.0,1358.7 764.5,1391.7 788.8,1378.0" fill="#90c0e3" stroke="#90c0e3" stroke-width="0.5" fill-opacity="0.93"/>
<polygon points="807.0,1368.2 774.0,1358.7 788.8,1378.0" fill="#81b2d9" stroke="#81b2d9" stroke-width="0.5" fill-opacity="0.93"/>
<polygon points="764.5,1391.7 797.5,1401.2 788.8,1378.0" fill="#75a6cf" stroke="#75a6cf" stroke-width="0.5" fill-opacity="0.93"/>
<polygon points="797.5,1401.2 807.0,1368.2 788.8,1378.0" fill="#5e8eb9" stroke="#5e8eb9" stroke-width="0.5" fill-opacity="0.93"/>
<circle cx="774.8" cy="1385.0" r="3.4" fill="url(#gT2)"/>
<circle cx="785.0" cy="1380.8" r="6.0" fill="url(#gT)"/>
<circle cx="789.1" cy="1378.0" r="4.6" fill="url(#gY)"/>
<circle cx="807.0" cy="1368.2" r="4.3" fill="url(#gY)"/>
<circle cx="838.7" cy="1379.7" r="4.3" fill="url(#gY)"/>
<circle cx="850.2" cy="1348.0" r="4.3" fill="url(#gY)"/>
<circle cx="818.5" cy="1336.5" r="4.3" fill="url(#gY)"/>
<circle cx="830.4" cy="1414.0" r="4.3" fill="url(#gY)"/>
<circle cx="864.7" cy="1422.3" r="4.3" fill="url(#gY)"/>
<circle cx="873.0" cy="1388.0" r="4.3" fill="url(#gY)"/>
<circle cx="797.5" cy="1401.2" r="4.3" fill="url(#gY)"/>
<circle cx="784.7" cy="1434.1" r="4.3" fill="url(#gY)"/>
<circle cx="817.6" cy="1446.9" r="4.3" fill="url(#gY)"/>
<circle cx="774.0" cy="1358.7" r="4.3" fill="url(#gY)"/>
<circle cx="764.5" cy="1391.7" r="4.3" fill="url(#gY)"/>
<circle cx="816.9" cy="1389.5" r="9.3" fill="url(#gG)"/>
<circle cx="716.6" cy="1327.9" r="9.6" fill="url(#gG)"/>
<circle cx="736.6" cy="1413.7" r="9.6" fill="url(#gG)"/>
<polygon points="608.0,1455.0 913.1,1455.0 861.7,1508.5 551.0,1508.5" fill="#b6c4de"/>
<polygon points="551.0,1508.5 861.7,1508.5 861.7,1527.8 551.0,1527.8" fill="#a5b6d3"/>
<polygon points="861.7,1508.5 913.1,1455.0 913.1,1463.0 861.7,1527.8" fill="#c6d1e5"/>
<text x="721.0" y="1490.7" font-size="23.5" font-family="'Liberation Sans', sans-serif" fill="#1a1a1a" text-anchor="middle" textLength="77.0" lengthAdjust="spacingAndGlyphs">Control</text>
<polygon points="987.9,1259.2 1011.3,1232.9 1012.8,1259.2" fill="#90c0e3" stroke="#90c0e3" stroke-width="0.5" fill-opacity="0.93"/>
<polygon points="1011.3,1232.9 1034.7,1259.2 1012.8,1259.2" fill="#81b2d9" stroke="#81b2d9" stroke-width="0.5" fill-opacity="0.93"/>
<polygon points="1011.3,1285.5 987.9,1259.2 1012.8,1259.2" fill="#75a6cf" stroke="#75a6cf" stroke-width="0.5" fill-opacity="0.93"/>
<polygon points="1034.7,1259.2 1011.3,1285.5 1012.8,1259.2" fill="#5e8eb9" stroke="#5e8eb9" stroke-width="0.5" fill-opacity="0.93"/>
<circle cx="999.3" cy="1259.2" r="3.4" fill="url(#gT2)"/>
<circle cx="1010.5" cy="1260.0" r="6.0" fill="url(#gT)"/>
<circle cx="1013.2" cy="1259.2" r="4.8" fill="url(#gY)"/>
<polygon points="1034.6,1259.2 1058.0,1232.9 1059.5,1259.2" fill="#90c0e3" stroke="#90c0e3" stroke-width="0.5" fill-opacity="0.93"/>
<polygon points="1058.0,1232.9 1081.4,1259.2 1059.5,1259.2" fill="#81b2d9" stroke="#81b2d9" stroke-width="0.5" fill-opacity="0.93"/>
<polygon points="1058.0,1285.5 1034.6,1259.2 1059.5,1259.2" fill="#75a6cf" stroke="#75a6cf" stroke-width="0.5" fill-opacity="0.93"/>
<polygon points="1081.4,1259.2 1058.0,1285.5 1059.5,1259.2" fill="#5e8eb9" stroke="#5e8eb9" stroke-width="0.5" fill-opacity="0.93"/>
<circle cx="1046.0" cy="1259.2" r="3.4" fill="url(#gT2)"/>
<circle cx="1057.2" cy="1260.0" r="6.0" fill="url(#gP)"/>
<circle cx="1059.9" cy="1259.2" r="4.8" fill="url(#gY)"/>
<polygon points="987.9,1311.6 1011.3,1285.3 1012.8,1311.6" fill="#90c0e3" stroke="#90c0e3" stroke-width="0.5" fill-opacity="0.93"/>
<polygon points="1011.3,1285.3 1034.7,1311.6 1012.8,1311.6" fill="#81b2d9" stroke="#81b2d9" stroke-width="0.5" fill-opacity="0.93"/>
<polygon points="1011.3,1337.9 987.9,1311.6 1012.8,1311.6" fill="#75a6cf" stroke="#75a6cf" stroke-width="0.5" fill-opacity="0.93"/>
<polygon points="1034.7,1311.6 1011.3,1337.9 1012.8,1311.6" fill="#5e8eb9" stroke="#5e8eb9" stroke-width="0.5" fill-opacity="0.93"/>
<circle cx="999.3" cy="1311.6" r="3.4" fill="url(#gT2)"/>
<circle cx="1010.5" cy="1312.4" r="6.0" fill="url(#gT)"/>
<circle cx="1013.2" cy="1311.6" r="4.8" fill="url(#gY)"/>
<polygon points="1034.6,1311.6 1058.0,1285.3 1059.5,1311.6" fill="#90c0e3" stroke="#90c0e3" stroke-width="0.5" fill-opacity="0.93"/>
<polygon points="1058.0,1285.3 1081.4,1311.6 1059.5,1311.6" fill="#81b2d9" stroke="#81b2d9" stroke-width="0.5" fill-opacity="0.93"/>
<polygon points="1058.0,1337.9 1034.6,1311.6 1059.5,1311.6" fill="#75a6cf" stroke="#75a6cf" stroke-width="0.5" fill-opacity="0.93"/>
<polygon points="1081.4,1311.6 1058.0,1337.9 1059.5,1311.6" fill="#5e8eb9" stroke="#5e8eb9" stroke-width="0.5" fill-opacity="0.93"/>
<circle cx="1046.0" cy="1311.6" r="3.4" fill="url(#gT2)"/>
<circle cx="1057.2" cy="1312.4" r="6.0" fill="url(#gP)"/>
<circle cx="1059.9" cy="1311.6" r="4.8" fill="url(#gY)"/>
<polygon points="987.9,1364.4 1011.3,1338.1 1012.8,1364.4" fill="#90c0e3" stroke="#90c0e3" stroke-width="0.5" fill-opacity="0.93"/>
<polygon points="1011.3,1338.1 1034.7,1364.4 1012.8,1364.4" fill="#81b2d9" stroke="#81b2d9" stroke-width="0.5" fill-opacity="0.93"/>
<polygon points="1011.3,1390.7 987.9,1364.4 1012.8,1364.4" fill="#75a6cf" stroke="#75a6cf" stroke-width="0.5" fill-opacity="0.93"/>
<polygon points="1034.7,1364.4 1011.3,1390.7 1012.8,1364.4" fill="#5e8eb9" stroke="#5e8eb9" stroke-width="0.5" fill-opacity="0.93"/>
<circle cx="999.3" cy="1364.4" r="3.4" fill="url(#gT2)"/>
<circle cx="1010.5" cy="1365.2" r="6.0" fill="url(#gT)"/>
<circle cx="1013.2" cy="1364.4" r="4.8" fill="url(#gY)"/>
<polygon points="1034.6,1364.4 1058.0,1338.1 1059.5,1364.4" fill="#90c0e3" stroke="#90c0e3" stroke-width="0.5" fill-opacity="0.93"/>
<polygon points="1058.0,1338.1 1081.4,1364.4 1059.5,1364.4" fill="#81b2d9" stroke="#81b2d9" stroke-width="0.5" fill-opacity="0.93"/>
<polygon points="1058.0,1390.7 1034.6,1364.4 1059.5,1364.4" fill="#75a6cf" stroke="#75a6cf" stroke-width="0.5" fill-opacity="0.93"/>
<polygon points="1081.4,1364.4 1058.0,1390.7 1059.5,1364.4" fill="#5e8eb9" stroke="#5e8eb9" stroke-width="0.5" fill-opacity="0.93"/>
<circle cx="1046.0" cy="1364.4" r="3.4" fill="url(#gT2)"/>
<circle cx="1057.2" cy="1365.2" r="6.0" fill="url(#gP)"/>
<circle cx="1059.9" cy="1364.4" r="4.8" fill="url(#gY)"/>
<polygon points="987.9,1417.0 1011.3,1390.7 1012.8,1417.0" fill="#90c0e3" stroke="#90c0e3" stroke-width="0.5" fill-opacity="0.93"/>
<polygon points="1011.3,1390.7 1034.7,1417.0 1012.8,1417.0" fill="#81b2d9" stroke="#81b2d9" stroke-width="0.5" fill-opacity="0.93"/>
<polygon points="1011.3,1443.3 987.9,1417.0 1012.8,1417.0" fill="#75a6cf" stroke="#75a6cf" stroke-width="0.5" fill-opacity="0.93"/>
<polygon points="1034.7,1417.0 1011.3,1443.3 1012.8,1417.0" fill="#5e8eb9" stroke="#5e8eb9" stroke-width="0.5" fill-opacity="0.93"/>
<circle cx="999.3" cy="1417.0" r="3.4" fill="url(#gT2)"/>
<circle cx="1010.5" cy="1417.8" r="6.0" fill="url(#gT)"/>
<circle cx="1013.2" cy="1417.0" r="4.8" fill="url(#gY)"/>
<polygon points="1034.6,1417.0 1058.0,1390.7 1059.5,1417.0" fill="#90c0e3" stroke="#90c0e3" stroke-width="0.5" fill-opacity="0.93"/>
<polygon points="1058.0,1390.7 1081.4,1417.0 1059.5,1417.0" fill="#81b2d9" stroke="#81b2d9" stroke-width="0.5" fill-opacity="0.93"/>
<polygon points="1058.0,1443.3 1034.6,1417.0 1059.5,1417.0" fill="#75a6cf" stroke="#75a6cf" stroke-width="0.5" fill-opacity="0.93"/>
<polygon points="1081.4,1417.0 1058.0,1443.3 1059.5,1417.0" fill="#5e8eb9" stroke="#5e8eb9" stroke-width="0.5" fill-opacity="0.93"/>
<circle cx="1046.0" cy="1417.0" r="3.4" fill="url(#gT2)"/>
<circle cx="1057.2" cy="1417.8" r="6.0" fill="url(#gP)"/>
<circle cx="1059.9" cy="1417.0" r="4.8" fill="url(#gY)"/>
<circle cx="1058.0" cy="1232.9" r="4.4" fill="url(#gY)"/>
<circle cx="1011.3" cy="1232.9" r="4.4" fill="url(#gY)"/>
<circle cx="987.9" cy="1259.2" r="4.4" fill="url(#gY)"/>
<circle cx="1034.6" cy="1259.2" r="4.4" fill="url(#gY)"/>
<circle cx="1081.4" cy="1259.2" r="4.4" fill="url(#gY)"/>
<circle cx="1034.7" cy="1259.2" r="4.4" fill="url(#gY)"/>
<circle cx="1058.0" cy="1285.3" r="4.4" fill="url(#gY)"/>
<circle cx="1011.3" cy="1285.3" r="4.4" fill="url(#gY)"/>
<circle cx="1011.3" cy="1285.5" r="4.4" fill="url(#gY)"/>
<circle cx="1058.0" cy="1285.5" r="4.4" fill="url(#gY)"/>
<circle cx="1081.4" cy="1311.6" r="4.4" fill="url(#gY)"/>
<circle cx="1034.7" cy="1311.6" r="4.4" fill="url(#gY)"/>
<circle cx="987.9" cy="1311.6" r="4.4" fill="url(#gY)"/>
<circle cx="1034.6" cy="1311.6" r="4.4" fill="url(#gY)"/>
<circle cx="1058.0" cy="1337.9" r="4.4" fill="url(#gY)"/>
<circle cx="1011.3" cy="1337.9" r="4.4" fill="url(#gY)"/>
<circle cx="1058.0" cy="1338.1" r="4.4" fill="url(#gY)"/>
<circle cx="1011.3" cy="1338.1" r="4.4" fill="url(#gY)"/>
<circle cx="1034.6" cy="1364.4" r="4.4" fill="url(#gY)"/>
<circle cx="1081.4" cy="1364.4" r="4.4" fill="url(#gY)"/>
<circle cx="1034.7" cy="1364.4" r="4.4" fill="url(#gY)"/>
<circle cx="987.9" cy="1364.4" r="4.4" fill="url(#gY)"/>
<circle cx="1058.0" cy="1390.7" r="4.4" fill="url(#gY)"/>
<circle cx="1011.3" cy="1390.7" r="4.4" fill="url(#gY)"/>
<circle cx="987.9" cy="1417.0" r="4.4" fill="url(#gY)"/>
<circle cx="1034.6" cy="1417.0" r="4.4" fill="url(#gY)"/>
<circle cx="1081.4" cy="1417.0" r="4.4" fill="url(#gY)"/>
<circle cx="1034.7" cy="1417.0" r="4.4" fill="url(#gY)"/>
<circle cx="1011.3" cy="1443.3" r="4.4" fill="url(#gY)"/>
<circle cx="1058.0" cy="1443.3" r="4.4" fill="url(#gY)"/>
<polygon points="1123.2,1259.2 1146.6,1232.9 1148.1,1259.2" fill="#90c0e3" stroke="#90c0e3" stroke-width="0.5" fill-opacity="0.93"/>
<polygon points="1146.6,1232.9 1170.0,1259.2 1148.1,1259.2" fill="#81b2d9" stroke="#81b2d9" stroke-width="0.5" fill-opacity="0.93"/>
<polygon points="1146.6,1285.5 1123.2,1259.2 1148.1,1259.2" fill="#75a6cf" stroke="#75a6cf" stroke-width="0.5" fill-opacity="0.93"/>
<polygon points="1170.0,1259.2 1146.6,1285.5 1148.1,1259.2" fill="#5e8eb9" stroke="#5e8eb9" stroke-width="0.5" fill-opacity="0.93"/>
<circle cx="1134.6" cy="1259.2" r="3.4" fill="url(#gT2)"/>
<circle cx="1145.8" cy="1260.0" r="6.0" fill="url(#gT)"/>
<circle cx="1148.5" cy="1259.2" r="4.8" fill="url(#gY)"/>
<polygon points="1170.8,1259.2 1194.2,1232.9 1195.7,1259.2" fill="#90c0e3" stroke="#90c0e3" stroke-width="0.5" fill-opacity="0.93"/>
<polygon points="1194.2,1232.9 1217.6,1259.2 1195.7,1259.2" fill="#81b2d9" stroke="#81b2d9" stroke-width="0.5" fill-opacity="0.93"/>
<polygon points="1194.2,1285.5 1170.8,1259.2 1195.7,1259.2" fill="#75a6cf" stroke="#75a6cf" stroke-width="0.5" fill-opacity="0.93"/>
<polygon points="1217.6,1259.2 1194.2,1285.5 1195.7,1259.2" fill="#5e8eb9" stroke="#5e8eb9" stroke-width="0.5" fill-opacity="0.93"/>
<circle cx="1182.2" cy="1259.2" r="3.4" fill="url(#gT2)"/>
<circle cx="1193.4" cy="1260.0" r="6.0" fill="url(#gP)"/>
<circle cx="1196.1" cy="1259.2" r="4.8" fill="url(#gY)"/>
<polygon points="1123.2,1311.6 1146.6,1285.3 1148.1,1311.6" fill="#90c0e3" stroke="#90c0e3" stroke-width="0.5" fill-opacity="0.93"/>
<polygon points="1146.6,1285.3 1170.0,1311.6 1148.1,1311.6" fill="#81b2d9" stroke="#81b2d9" stroke-width="0.5" fill-opacity="0.93"/>
<polygon points="1146.6,1337.9 1123.2,1311.6 1148.1,1311.6" fill="#75a6cf" stroke="#75a6cf" stroke-width="0.5" fill-opacity="0.93"/>
<polygon points="1170.0,1311.6 1146.6,1337.9 1148.1,1311.6" fill="#5e8eb9" stroke="#5e8eb9" stroke-width="0.5" fill-opacity="0.93"/>
<circle cx="1134.6" cy="1311.6" r="3.4" fill="url(#gT2)"/>
<circle cx="1145.8" cy="1312.4" r="6.0" fill="url(#gT)"/>
<circle cx="1148.5" cy="1311.6" r="4.8" fill="url(#gY)"/>
<polygon points="1170.8,1311.6 1194.2,1285.3 1195.7,1311.6" fill="#90c0e3" stroke="#90c0e3" stroke-width="0.5" fill-opacity="0.93"/>
<polygon points="1194.2,1285.3 1217.6,1311.6 1195.7,1311.6" fill="#81b2d9" stroke="#81b2d9" stroke-width="0.5" fill-opacity="0.93"/>
<polygon points="1194.2,1337.9 1170.8,1311.6 1195.7,1311.6" fill="#75a6cf" stroke="#75a6cf" stroke-width="0.5" fill-opacity="0.93"/>
<polygon points="1217.6,1311.6 1194.2,1337.9 1195.7,1311.6" fill="#5e8eb9" stroke="#5e8eb9" stroke-width="0.5" fill-opacity="0.93"/>
<circle cx="1182.2" cy="1311.6" r="3.4" fill="url(#gT2)"/>
<circle cx="1193.4" cy="1312.4" r="6.0" fill="url(#gP)"/>
<circle cx="1196.1" cy="1311.6" r="4.8" fill="url(#gY)"/>
<polygon points="1123.2,1364.4 1146.6,1338.1 1148.1,1364.4" fill="#90c0e3" stroke="#90c0e3" stroke-width="0.5" fill-opacity="0.93"/>
<polygon points="1146.6,1338.1 1170.0,1364.4 1148.1,1364.4" fill="#81b2d9" stroke="#81b2d9" stroke-width="0.5" fill-opacity="0.93"/>
<polygon points="1146.6,1390.7 1123.2,1364.4 1148.1,1364.4" fill="#75a6cf" stroke="#75a6cf" stroke-width="0.5" fill-opacity="0.93"/>
<polygon points="1170.0,1364.4 1146.6,1390.7 1148.1,1364.4" fill="#5e8eb9" stroke="#5e8eb9" stroke-width="0.5" fill-opacity="0.93"/>
<circle cx="1134.6" cy="1364.4" r="3.4" fill="url(#gT2)"/>
<circle cx="1145.8" cy="1365.2" r="6.0" fill="url(#gT)"/>
<circle cx="1148.5" cy="1364.4" r="4.8" fill="url(#gY)"/>
<polygon points="1170.8,1364.4 1194.2,1338.1 1195.7,1364.4" fill="#90c0e3" stroke="#90c0e3" stroke-width="0.5" fill-opacity="0.93"/>
<polygon points="1194.2,1338.1 1217.6,1364.4 1195.7,1364.4" fill="#81b2d9" stroke="#81b2d9" stroke-width="0.5" fill-opacity="0.93"/>
<polygon points="1194.2,1390.7 1170.8,1364.4 1195.7,1364.4" fill="#75a6cf" stroke="#75a6cf" stroke-width="0.5" fill-opacity="0.93"/>
<polygon points="1217.6,1364.4 1194.2,1390.7 1195.7,1364.4" fill="#5e8eb9" stroke="#5e8eb9" stroke-width="0.5" fill-opacity="0.93"/>
<circle cx="1182.2" cy="1364.4" r="3.4" fill="url(#gT2)"/>
<circle cx="1193.4" cy="1365.2" r="6.0" fill="url(#gP)"/>
<circle cx="1196.1" cy="1364.4" r="4.8" fill="url(#gY)"/>
<polygon points="1123.2,1417.0 1146.6,1390.7 1148.1,1417.0" fill="#90c0e3" stroke="#90c0e3" stroke-width="0.5" fill-opacity="0.93"/>
<polygon points="1146.6,1390.7 1170.0,1417.0 1148.1,1417.0" fill="#81b2d9" stroke="#81b2d9" stroke-width="0.5" fill-opacity="0.93"/>
<polygon points="1146.6,1443.3 1123.2,1417.0 1148.1,1417.0" fill="#75a6cf" stroke="#75a6cf" stroke-width="0.5" fill-opacity="0.93"/>
<polygon points="1170.0,1417.0 1146.6,1443.3 1148.1,1417.0" fill="#5e8eb9" stroke="#5e8eb9" stroke-width="0.5" fill-opacity="0.93"/>
<circle cx="1134.6" cy="1417.0" r="3.4" fill="url(#gT2)"/>
<circle cx="1145.8" cy="1417.8" r="6.0" fill="url(#gT)"/>
<circle cx="1148.5" cy="1417.0" r="4.8" fill="url(#gY)"/>
<polygon points="1170.8,1417.0 1194.2,1390.7 1195.7,1417.0" fill="#90c0e3" stroke="#90c0e3" stroke-width="0.5" fill-opacity="0.93"/>
<polygon points="1194.2,1390.7 1217.6,1417.0 1195.7,1417.0" fill="#81b2d9" stroke="#81b2d9" stroke-width="0.5" fill-opacity="0.93"/>
<polygon points="1194.2,1443.3 1170.8,1417.0 1195.7,1417.0" fill="#75a6cf" stroke="#75a6cf" stroke-width="0.5" fill-opacity="0.93"/>
<polygon points="1217.6,1417.0 1194.2,1443.3 1195.7,1417.0" fill="#5e8eb9" stroke="#5e8eb9" stroke-width="0.5" fill-opacity="0.93"/>
<circle cx="1182.2" cy="1417.0" r="3.4" fill="url(#gT2)"/>
<circle cx="1193.4" cy="1417.8" r="6.0" fill="url(#gP)"/>
<circle cx="1196.1" cy="1417.0" r="4.8" fill="url(#gY)"/>
<circle cx="1146.6" cy="1232.9" r="4.4" fill="url(#gY)"/>
<circle cx="1194.2" cy="1232.9" r="4.4" fill="url(#gY)"/>
<circle cx="1217.6" cy="1259.2" r="4.4" fill="url(#gY)"/>
<circle cx="1170.8" cy="1259.2" r="4.4" fill="url(#gY)"/>
<circle cx="1170.0" cy="1259.2" r="4.4" fill="url(#gY)"/>
<circle cx="1123.2" cy="1259.2" r="4.4" fill="url(#gY)"/>
<circle cx="1146.6" cy="1285.3" r="4.4" fill="url(#gY)"/>
<circle cx="1194.2" cy="1285.3" r="4.4" fill="url(#gY)"/>
<circle cx="1146.6" cy="1285.5" r="4.4" fill="url(#gY)"/>
<circle cx="1194.2" cy="1285.5" r="4.4" fill="url(#gY)"/>
<circle cx="1170.0" cy="1311.6" r="4.4" fill="url(#gY)"/>
<circle cx="1123.2" cy="1311.6" r="4.4" fill="url(#gY)"/>
<circle cx="1217.6" cy="1311.6" r="4.4" fill="url(#gY)"/>
<circle cx="1170.8" cy="1311.6" r="4.4" fill="url(#gY)"/>
<circle cx="1194.2" cy="1337.9" r="4.4" fill="url(#gY)"/>
<circle cx="1146.6" cy="1337.9" r="4.4" fill="url(#gY)"/>
<circle cx="1146.6" cy="1338.1" r="4.4" fill="url(#gY)"/>
<circle cx="1194.2" cy="1338.1" r="4.4" fill="url(#gY)"/>
<circle cx="1170.0" cy="1364.4" r="4.4" fill="url(#gY)"/>
<circle cx="1123.2" cy="1364.4" r="4.4" fill="url(#gY)"/>
<circle cx="1217.6" cy="1364.4" r="4.4" fill="url(#gY)"/>
<circle cx="1170.8" cy="1364.4" r="4.4" fill="url(#gY)"/>
<circle cx="1146.6" cy="1390.7" r="4.4" fill="url(#gY)"/>
<circle cx="1194.2" cy="1390.7" r="4.4" fill="url(#gY)"/>
<circle cx="1217.6" cy="1417.0" r="4.4" fill="url(#gY)"/>
<circle cx="1170.8" cy="1417.0" r="4.4" fill="url(#gY)"/>
<circle cx="1170.0" cy="1417.0" r="4.4" fill="url(#gY)"/>
<circle cx="1123.2" cy="1417.0" r="4.4" fill="url(#gY)"/>
<circle cx="1146.6" cy="1443.3" r="4.4" fill="url(#gY)"/>
<circle cx="1194.2" cy="1443.3" r="4.4" fill="url(#gY)"/>
<circle cx="1033.9" cy="1283.9" r="9.8" fill="url(#gG)"/>
<circle cx="1035.3" cy="1338.9" r="9.8" fill="url(#gG)"/>
<circle cx="1034.7" cy="1389.5" r="9.8" fill="url(#gG)"/>
<circle cx="1169.4" cy="1281.7" r="9.8" fill="url(#gG)"/>
<circle cx="1172.0" cy="1338.9" r="9.8" fill="url(#gG)"/>
<circle cx="1170.0" cy="1390.3" r="9.8" fill="url(#gG)"/>
<circle cx="1119.9" cy="1283.9" r="9.8" fill="url(#gG)"/>
<circle cx="1082.8" cy="1338.0" r="9.8" fill="url(#gG)"/>
<circle cx="1122.0" cy="1391.7" r="9.8" fill="url(#gG)"/>
<circle cx="1203.0" cy="1422.0" r="4.5" fill="url(#gY)"/>
<line x1="1108.7" y1="1243.8" x2="1104.0" y2="1236.2" stroke="#9a9a9a" stroke-width="1.045"/>
<line x1="1108.7" y1="1243.8" x2="1102.0" y2="1246.6" stroke="#9a9a9a" stroke-width="1.045"/>
<line x1="1108.7" y1="1243.8" x2="1107.8" y2="1252.3" stroke="#9a9a9a" stroke-width="1.045"/>
<line x1="1108.7" y1="1243.8" x2="1117.2" y2="1242.8" stroke="#9a9a9a" stroke-width="1.2349999999999999"/>
<circle cx="1099.7" cy="1238.7" r="1.6" fill="url(#gH2)"/>
<circle cx="1101.9" cy="1231.7" r="1.6" fill="url(#gH2)"/>
<circle cx="1108.6" cy="1234.5" r="1.6" fill="url(#gH2)"/>
<circle cx="1101.6" cy="1241.7" r="1.6" fill="url(#gH2)"/>
<circle cx="1107.0" cy="1246.6" r="1.6" fill="url(#gH2)"/>
<circle cx="1101.6" cy="1251.6" r="1.6" fill="url(#gH2)"/>
<circle cx="1112.4" cy="1254.0" r="1.6" fill="url(#gH2)"/>
<circle cx="1105.7" cy="1256.8" r="1.6" fill="url(#gH2)"/>
<circle cx="1103.5" cy="1249.9" r="1.6" fill="url(#gH2)"/>
<circle cx="1104.0" cy="1236.2" r="2.9" fill="url(#gC)"/>
<circle cx="1102.0" cy="1246.6" r="2.9" fill="url(#gC)"/>
<circle cx="1107.8" cy="1252.3" r="2.9" fill="url(#gC)"/>
<circle cx="1108.7" cy="1243.8" r="2.8" fill="url(#gS)"/>
<circle cx="1117.2" cy="1242.8" r="2.5" fill="url(#gO)"/>
<circle cx="1089.7" cy="1242.7" r="3.1" fill="url(#gI)"/>
<line x1="980.8" y1="1286.4" x2="971.8" y2="1285.9" stroke="#9a9a9a" stroke-width="1.045"/>
<line x1="980.8" y1="1286.4" x2="979.3" y2="1293.4" stroke="#9a9a9a" stroke-width="1.045"/>
<line x1="980.8" y1="1286.4" x2="987.2" y2="1292.0" stroke="#9a9a9a" stroke-width="1.045"/>
<line x1="980.8" y1="1286.4" x2="984.9" y2="1278.8" stroke="#9a9a9a" stroke-width="1.2349999999999999"/>
<circle cx="971.4" cy="1290.8" r="1.6" fill="url(#gH2)"/>
<circle cx="967.0" cy="1285.0" r="1.6" fill="url(#gH2)"/>
<circle cx="973.1" cy="1281.1" r="1.6" fill="url(#gH2)"/>
<circle cx="975.0" cy="1291.0" r="1.6" fill="url(#gH2)"/>
<circle cx="982.1" cy="1289.4" r="1.6" fill="url(#gH2)"/>
<circle cx="983.1" cy="1296.6" r="1.6" fill="url(#gH2)"/>
<circle cx="991.3" cy="1289.2" r="1.6" fill="url(#gH2)"/>
<circle cx="989.7" cy="1296.3" r="1.6" fill="url(#gH2)"/>
<circle cx="982.8" cy="1294.1" r="1.6" fill="url(#gH2)"/>
<circle cx="971.8" cy="1285.9" r="2.9" fill="url(#gC)"/>
<circle cx="979.3" cy="1293.4" r="2.9" fill="url(#gC)"/>
<circle cx="987.2" cy="1292.0" r="2.9" fill="url(#gC)"/>
<circle cx="980.8" cy="1286.4" r="2.8" fill="url(#gS)"/>
<circle cx="984.9" cy="1278.8" r="2.5" fill="url(#gO)"/>
<circle cx="967.4" cy="1296.8" r="3.1" fill="url(#gI)"/>
<line x1="1090.8" y1="1285.8" x2="1086.0" y2="1278.2" stroke="#9a9a9a" stroke-width="1.045"/>
<line x1="1090.8" y1="1285.8" x2="1084.1" y2="1288.6" stroke="#9a9a9a" stroke-width="1.045"/>
<line x1="1090.8" y1="1285.8" x2="1089.8" y2="1294.3" stroke="#9a9a9a" stroke-width="1.045"/>
<line x1="1090.8" y1="1285.8" x2="1099.3" y2="1284.8" stroke="#9a9a9a" stroke-width="1.2349999999999999"/>
<circle cx="1081.8" cy="1280.7" r="1.6" fill="url(#gH2)"/>
<circle cx="1084.0" cy="1273.7" r="1.6" fill="url(#gH2)"/>
<circle cx="1090.7" cy="1276.5" r="1.6" fill="url(#gH2)"/>
<circle cx="1083.7" cy="1283.7" r="1.6" fill="url(#gH2)"/>
<circle cx="1089.1" cy="1288.6" r="1.6" fill="url(#gH2)"/>
<circle cx="1083.7" cy="1293.6" r="1.6" fill="url(#gH2)"/>
<circle cx="1094.5" cy="1296.0" r="1.6" fill="url(#gH2)"/>
<circle cx="1087.8" cy="1298.8" r="1.6" fill="url(#gH2)"/>
<circle cx="1085.6" cy="1291.9" r="1.6" fill="url(#gH2)"/>
<circle cx="1086.0" cy="1278.2" r="2.9" fill="url(#gC)"/>
<circle cx="1084.1" cy="1288.6" r="2.9" fill="url(#gC)"/>
<circle cx="1089.8" cy="1294.3" r="2.9" fill="url(#gC)"/>
<circle cx="1090.8" cy="1285.8" r="2.8" fill="url(#gS)"/>
<circle cx="1099.3" cy="1284.8" r="2.5" fill="url(#gO)"/>
<circle cx="1073.2" cy="1283.6" r="3.1" fill="url(#gI)"/>
<line x1="1222.8" y1="1284.7" x2="1222.3" y2="1293.7" stroke="#9a9a9a" stroke-width="1.045"/>
<line x1="1222.8" y1="1284.7" x2="1229.8" y2="1286.2" stroke="#9a9a9a" stroke-width="1.045"/>
<line x1="1222.8" y1="1284.7" x2="1228.4" y2="1278.3" stroke="#9a9a9a" stroke-width="1.045"/>
<line x1="1222.8" y1="1284.7" x2="1215.2" y2="1280.6" stroke="#9a9a9a" stroke-width="1.2349999999999999"/>
<circle cx="1227.2" cy="1294.1" r="1.6" fill="url(#gH2)"/>
<circle cx="1221.4" cy="1298.5" r="1.6" fill="url(#gH2)"/>
<circle cx="1217.5" cy="1292.4" r="1.6" fill="url(#gH2)"/>
<circle cx="1227.4" cy="1290.5" r="1.6" fill="url(#gH2)"/>
<circle cx="1225.8" cy="1283.4" r="1.6" fill="url(#gH2)"/>
<circle cx="1233.0" cy="1282.4" r="1.6" fill="url(#gH2)"/>
<circle cx="1225.6" cy="1274.2" r="1.6" fill="url(#gH2)"/>
<circle cx="1232.7" cy="1275.8" r="1.6" fill="url(#gH2)"/>
<circle cx="1230.5" cy="1282.7" r="1.6" fill="url(#gH2)"/>
<circle cx="1222.3" cy="1293.7" r="2.9" fill="url(#gC)"/>
<circle cx="1229.8" cy="1286.2" r="2.9" fill="url(#gC)"/>
<circle cx="1228.4" cy="1278.3" r="2.9" fill="url(#gC)"/>
<circle cx="1222.8" cy="1284.7" r="2.8" fill="url(#gS)"/>
<circle cx="1215.2" cy="1280.6" r="2.5" fill="url(#gO)"/>
<circle cx="1232.6" cy="1297.7" r="3.1" fill="url(#gI)"/>
<line x1="982.1" y1="1343.3" x2="973.1" y2="1342.8" stroke="#9a9a9a" stroke-width="1.045"/>
<line x1="982.1" y1="1343.3" x2="980.6" y2="1350.3" stroke="#9a9a9a" stroke-width="1.045"/>
<line x1="982.1" y1="1343.3" x2="988.5" y2="1348.9" stroke="#9a9a9a" stroke-width="1.045"/>
<line x1="982.1" y1="1343.3" x2="986.2" y2="1335.7" stroke="#9a9a9a" stroke-width="1.2349999999999999"/>
<circle cx="972.7" cy="1347.7" r="1.6" fill="url(#gH2)"/>
<circle cx="968.3" cy="1341.9" r="1.6" fill="url(#gH2)"/>
<circle cx="974.4" cy="1338.0" r="1.6" fill="url(#gH2)"/>
<circle cx="976.3" cy="1347.9" r="1.6" fill="url(#gH2)"/>
<circle cx="983.4" cy="1346.3" r="1.6" fill="url(#gH2)"/>
<circle cx="984.4" cy="1353.5" r="1.6" fill="url(#gH2)"/>
<circle cx="992.6" cy="1346.1" r="1.6" fill="url(#gH2)"/>
<circle cx="991.0" cy="1353.2" r="1.6" fill="url(#gH2)"/>
<circle cx="984.1" cy="1351.0" r="1.6" fill="url(#gH2)"/>
<circle cx="973.1" cy="1342.8" r="2.9" fill="url(#gC)"/>
<circle cx="980.6" cy="1350.3" r="2.9" fill="url(#gC)"/>
<circle cx="988.5" cy="1348.9" r="2.9" fill="url(#gC)"/>
<circle cx="982.1" cy="1343.3" r="2.8" fill="url(#gS)"/>
<circle cx="986.2" cy="1335.7" r="2.5" fill="url(#gO)"/>
<circle cx="971.5" cy="1357.3" r="3.1" fill="url(#gI)"/>
<line x1="1116.0" y1="1340.8" x2="1120.8" y2="1348.4" stroke="#9a9a9a" stroke-width="1.045"/>
<line x1="1116.0" y1="1340.8" x2="1122.7" y2="1338.0" stroke="#9a9a9a" stroke-width="1.045"/>
<line x1="1116.0" y1="1340.8" x2="1117.0" y2="1332.2" stroke="#9a9a9a" stroke-width="1.045"/>
<line x1="1116.0" y1="1340.8" x2="1107.5" y2="1341.8" stroke="#9a9a9a" stroke-width="1.2349999999999999"/>
<circle cx="1125.0" cy="1345.9" r="1.6" fill="url(#gH2)"/>
<circle cx="1122.8" cy="1352.9" r="1.6" fill="url(#gH2)"/>
<circle cx="1116.1" cy="1350.1" r="1.6" fill="url(#gH2)"/>
<circle cx="1123.1" cy="1342.9" r="1.6" fill="url(#gH2)"/>
<circle cx="1117.7" cy="1338.0" r="1.6" fill="url(#gH2)"/>
<circle cx="1123.1" cy="1333.0" r="1.6" fill="url(#gH2)"/>
<circle cx="1112.3" cy="1330.6" r="1.6" fill="url(#gH2)"/>
<circle cx="1119.0" cy="1327.8" r="1.6" fill="url(#gH2)"/>
<circle cx="1121.2" cy="1334.7" r="1.6" fill="url(#gH2)"/>
<circle cx="1120.8" cy="1348.4" r="2.9" fill="url(#gC)"/>
<circle cx="1122.7" cy="1338.0" r="2.9" fill="url(#gC)"/>
<circle cx="1117.0" cy="1332.2" r="2.9" fill="url(#gC)"/>
<circle cx="1116.0" cy="1340.8" r="2.8" fill="url(#gS)"/>
<circle cx="1107.5" cy="1341.8" r="2.5" fill="url(#gO)"/>
<circle cx="1132.3" cy="1341.4" r="3.1" fill="url(#gI)"/>
<line x1="1240.6" y1="1363.6" x2="1235.8" y2="1356.0" stroke="#9a9a9a" stroke-width="1.045"/>
<line x1="1240.6" y1="1363.6" x2="1233.9" y2="1366.4" stroke="#9a9a9a" stroke-width="1.045"/>
<line x1="1240.6" y1="1363.6" x2="1239.6" y2="1372.1" stroke="#9a9a9a" stroke-width="1.045"/>
<line x1="1240.6" y1="1363.6" x2="1249.1" y2="1362.6" stroke="#9a9a9a" stroke-width="1.2349999999999999"/>
<circle cx="1231.6" cy="1358.5" r="1.6" fill="url(#gH2)"/>
<circle cx="1233.8" cy="1351.5" r="1.6" fill="url(#gH2)"/>
<circle cx="1240.5" cy="1354.3" r="1.6" fill="url(#gH2)"/>
<circle cx="1233.5" cy="1361.5" r="1.6" fill="url(#gH2)"/>
<circle cx="1238.9" cy="1366.4" r="1.6" fill="url(#gH2)"/>
<circle cx="1233.5" cy="1371.4" r="1.6" fill="url(#gH2)"/>
<circle cx="1244.3" cy="1373.8" r="1.6" fill="url(#gH2)"/>
<circle cx="1237.6" cy="1376.6" r="1.6" fill="url(#gH2)"/>
<circle cx="1235.4" cy="1369.7" r="1.6" fill="url(#gH2)"/>
<circle cx="1235.8" cy="1356.0" r="2.9" fill="url(#gC)"/>
<circle cx="1233.9" cy="1366.4" r="2.9" fill="url(#gC)"/>
<circle cx="1239.6" cy="1372.1" r="2.9" fill="url(#gC)"/>
<circle cx="1240.6" cy="1363.6" r="2.8" fill="url(#gS)"/>
<circle cx="1249.1" cy="1362.6" r="2.5" fill="url(#gO)"/>
<circle cx="1223.8" cy="1367.5" r="3.1" fill="url(#gI)"/>
<line x1="1092.2" y1="1393.0" x2="1087.5" y2="1385.4" stroke="#9a9a9a" stroke-width="1.045"/>
<line x1="1092.2" y1="1393.0" x2="1085.5" y2="1395.8" stroke="#9a9a9a" stroke-width="1.045"/>
<line x1="1092.2" y1="1393.0" x2="1091.2" y2="1401.5" stroke="#9a9a9a" stroke-width="1.045"/>
<line x1="1092.2" y1="1393.0" x2="1100.8" y2="1392.0" stroke="#9a9a9a" stroke-width="1.2349999999999999"/>
<circle cx="1083.2" cy="1387.9" r="1.6" fill="url(#gH2)"/>
<circle cx="1085.4" cy="1380.9" r="1.6" fill="url(#gH2)"/>
<circle cx="1092.1" cy="1383.7" r="1.6" fill="url(#gH2)"/>
<circle cx="1085.1" cy="1390.9" r="1.6" fill="url(#gH2)"/>
<circle cx="1090.5" cy="1395.8" r="1.6" fill="url(#gH2)"/>
<circle cx="1085.1" cy="1400.8" r="1.6" fill="url(#gH2)"/>
<circle cx="1095.9" cy="1403.2" r="1.6" fill="url(#gH2)"/>
<circle cx="1089.2" cy="1406.0" r="1.6" fill="url(#gH2)"/>
<circle cx="1087.0" cy="1399.1" r="1.6" fill="url(#gH2)"/>
<circle cx="1087.5" cy="1385.4" r="2.9" fill="url(#gC)"/>
<circle cx="1085.5" cy="1395.8" r="2.9" fill="url(#gC)"/>
<circle cx="1091.2" cy="1401.5" r="2.9" fill="url(#gC)"/>
<circle cx="1092.2" cy="1393.0" r="2.8" fill="url(#gS)"/>
<circle cx="1100.8" cy="1392.0" r="2.5" fill="url(#gO)"/>
<circle cx="1075.1" cy="1395.8" r="3.1" fill="url(#gI)"/>
<line x1="988.4" y1="1441.7" x2="979.9" y2="1439.0" stroke="#9a9a9a" stroke-width="1.045"/>
<line x1="988.4" y1="1441.7" x2="985.1" y2="1448.2" stroke="#9a9a9a" stroke-width="1.045"/>
<line x1="988.4" y1="1441.7" x2="993.2" y2="1448.9" stroke="#9a9a9a" stroke-width="1.045"/>
<line x1="988.4" y1="1441.7" x2="994.3" y2="1435.5" stroke="#9a9a9a" stroke-width="1.2349999999999999"/>
<circle cx="978.2" cy="1443.6" r="1.6" fill="url(#gH2)"/>
<circle cx="975.4" cy="1436.9" r="1.6" fill="url(#gH2)"/>
<circle cx="982.3" cy="1434.7" r="1.6" fill="url(#gH2)"/>
<circle cx="981.6" cy="1444.7" r="1.6" fill="url(#gH2)"/>
<circle cx="988.9" cy="1445.0" r="1.6" fill="url(#gH2)"/>
<circle cx="988.0" cy="1452.2" r="1.6" fill="url(#gH2)"/>
<circle cx="997.8" cy="1447.2" r="1.6" fill="url(#gH2)"/>
<circle cx="994.4" cy="1453.7" r="1.6" fill="url(#gH2)"/>
<circle cx="988.3" cy="1449.7" r="1.6" fill="url(#gH2)"/>
<circle cx="979.9" cy="1439.0" r="2.9" fill="url(#gC)"/>
<circle cx="985.1" cy="1448.2" r="2.9" fill="url(#gC)"/>
<circle cx="993.2" cy="1448.9" r="2.9" fill="url(#gC)"/>
<circle cx="988.4" cy="1441.7" r="2.8" fill="url(#gS)"/>
<circle cx="994.3" cy="1435.5" r="2.5" fill="url(#gO)"/>
<circle cx="972.9" cy="1449.4" r="3.1" fill="url(#gI)"/>
<line x1="1221.4" y1="1441.5" x2="1220.9" y2="1450.5" stroke="#9a9a9a" stroke-width="1.045"/>
<line x1="1221.4" y1="1441.5" x2="1228.4" y2="1443.0" stroke="#9a9a9a" stroke-width="1.045"/>
<line x1="1221.4" y1="1441.5" x2="1227.0" y2="1435.1" stroke="#9a9a9a" stroke-width="1.045"/>
<line x1="1221.4" y1="1441.5" x2="1213.8" y2="1437.4" stroke="#9a9a9a" stroke-width="1.2349999999999999"/>
<circle cx="1225.8" cy="1450.9" r="1.6" fill="url(#gH2)"/>
<circle cx="1220.0" cy="1455.3" r="1.6" fill="url(#gH2)"/>
<circle cx="1216.1" cy="1449.2" r="1.6" fill="url(#gH2)"/>
<circle cx="1226.0" cy="1447.3" r="1.6" fill="url(#gH2)"/>
<circle cx="1224.4" cy="1440.2" r="1.6" fill="url(#gH2)"/>
<circle cx="1231.6" cy="1439.2" r="1.6" fill="url(#gH2)"/>
<circle cx="1224.2" cy="1431.0" r="1.6" fill="url(#gH2)"/>
<circle cx="1231.3" cy="1432.6" r="1.6" fill="url(#gH2)"/>
<circle cx="1229.1" cy="1439.5" r="1.6" fill="url(#gH2)"/>
<circle cx="1220.9" cy="1450.5" r="2.9" fill="url(#gC)"/>
<circle cx="1228.4" cy="1443.0" r="2.9" fill="url(#gC)"/>
<circle cx="1227.0" cy="1435.1" r="2.9" fill="url(#gC)"/>
<circle cx="1221.4" cy="1441.5" r="2.8" fill="url(#gS)"/>
<circle cx="1213.8" cy="1437.4" r="2.5" fill="url(#gO)"/>
<circle cx="1235.4" cy="1451.3" r="3.1" fill="url(#gI)"/>
<polygon points="967.4,1455.7 1272.5,1455.7 1220.3,1514.0 909.0,1514.0" fill="#b6c4de"/>
<polygon points="909.0,1514.0 1220.3,1514.0 1220.3,1529.7 909.0,1529.7" fill="#a5b6d3"/>
<polygon points="1220.3,1514.0 1272.5,1455.7 1272.5,1466.0 1220.3,1529.7" fill="#c6d1e5"/>
<text x="1095.5" y="1489.3" font-size="23.5" font-family="'Liberation Sans', sans-serif" fill="#27344a" text-anchor="middle" textLength="116.0" lengthAdjust="spacingAndGlyphs">With TMSI</text>
<rect x="562.6" y="1554.0" width="692.0" height="62.6" fill="none" stroke="#9cc2e5" stroke-width="2" stroke-dasharray="11 5 3 5"/>
<circle cx="584.6" cy="1585.5" r="15.2" fill="url(#gG)"/>
<text x="612.0" y="1594.6" font-size="20.7" font-family="'Liberation Sans', sans-serif" fill="#111">FA/MA/Cs</text>
<polygon points="771.5,1584.0 788.0,1564.0 788.0,1584.0" fill="#90c0e3" stroke="#90c0e3" stroke-width="0.5" fill-opacity="0.93"/>
<polygon points="788.0,1564.0 804.5,1584.0 788.0,1584.0" fill="#81b2d9" stroke="#81b2d9" stroke-width="0.5" fill-opacity="0.93"/>
<polygon points="788.0,1604.0 771.5,1584.0 788.0,1584.0" fill="#75a6cf" stroke="#75a6cf" stroke-width="0.5" fill-opacity="0.93"/>
<polygon points="804.5,1584.0 788.0,1604.0 788.0,1584.0" fill="#5e8eb9" stroke="#5e8eb9" stroke-width="0.5" fill-opacity="0.93"/>
<circle cx="788.0" cy="1584.0" r="5.2" fill="url(#gT)"/>
<circle cx="777.0" cy="1584.0" r="3.0" fill="url(#gT2)"/>
<circle cx="788.0" cy="1564.0" r="3.7" fill="url(#gY)"/>
<circle cx="804.5" cy="1584.0" r="3.7" fill="url(#gY)"/>
<circle cx="788.0" cy="1604.0" r="3.7" fill="url(#gY)"/>
<circle cx="771.5" cy="1584.0" r="3.7" fill="url(#gY)"/>
<circle cx="809.5" cy="1584.0" r="3.7" fill="url(#gY)"/>
<polygon points="953.5,1582.8 970.0,1562.8 970.0,1582.8" fill="#90c0e3" stroke="#90c0e3" stroke-width="0.5" fill-opacity="0.93"/>
<polygon points="970.0,1562.8 986.5,1582.8 970.0,1582.8" fill="#81b2d9" stroke="#81b2d9" stroke-width="0.5" fill-opacity="0.93"/>
<polygon points="970.0,1602.8 953.5,1582.8 970.0,1582.8" fill="#75a6cf" stroke="#75a6cf" stroke-width="0.5" fill-opacity="0.93"/>
<polygon points="986.5,1582.8 970.0,1602.8 970.0,1582.8" fill="#5e8eb9" stroke="#5e8eb9" stroke-width="0.5" fill-opacity="0.93"/>
<circle cx="970.0" cy="1582.8" r="5.2" fill="url(#gP)"/>
<circle cx="959.0" cy="1582.8" r="3.0" fill="url(#gT2)"/>
<circle cx="970.0" cy="1562.8" r="3.7" fill="url(#gY)"/>
<circle cx="986.5" cy="1582.8" r="3.7" fill="url(#gY)"/>
<circle cx="970.0" cy="1602.8" r="3.7" fill="url(#gY)"/>
<circle cx="953.5" cy="1582.8" r="3.7" fill="url(#gY)"/>
<circle cx="991.5" cy="1582.8" r="3.7" fill="url(#gY)"/>
<text x="821.9" y="1593.8" font-size="21.5" font-family="'Liberation Sans', sans-serif" fill="#111">[PbI<tspan dy="4" font-size="13">6</tspan><tspan dy="-4">]</tspan><tspan dy="-8" font-size="14">4-</tspan></text>
<text x="1003.0" y="1591.6" font-size="21.5" font-family="'Liberation Sans', sans-serif" fill="#111">[SnI<tspan dy="4" font-size="13">6</tspan><tspan dy="-4">]</tspan><tspan dy="-8" font-size="14">4-</tspan></text>
<line x1="1150.0" y1="1578.0" x2="1153.4" y2="1594.1" stroke="#9a9a9a" stroke-width="1.9250000000000003"/>
<line x1="1150.0" y1="1578.0" x2="1163.3" y2="1577.3" stroke="#9a9a9a" stroke-width="1.9250000000000003"/>
<line x1="1150.0" y1="1578.0" x2="1157.0" y2="1563.8" stroke="#9a9a9a" stroke-width="1.9250000000000003"/>
<line x1="1150.0" y1="1578.0" x2="1134.6" y2="1574.3" stroke="#9a9a9a" stroke-width="2.275"/>
<circle cx="1162.4" cy="1592.6" r="3.0" fill="url(#gH2)"/>
<circle cx="1154.2" cy="1603.2" r="3.0" fill="url(#gH2)"/>
<circle cx="1144.3" cy="1594.1" r="3.0" fill="url(#gH2)"/>
<circle cx="1161.0" cy="1586.0" r="3.0" fill="url(#gH2)"/>
<circle cx="1154.8" cy="1574.1" r="3.0" fill="url(#gH2)"/>
<circle cx="1167.2" cy="1569.0" r="3.0" fill="url(#gH2)"/>
<circle cx="1150.1" cy="1557.9" r="3.0" fill="url(#gH2)"/>
<circle cx="1163.5" cy="1557.4" r="3.0" fill="url(#gH2)"/>
<circle cx="1162.9" cy="1570.8" r="3.0" fill="url(#gH2)"/>
<circle cx="1153.4" cy="1594.1" r="5.4" fill="url(#gC)"/>
<circle cx="1163.3" cy="1577.3" r="5.4" fill="url(#gC)"/>
<circle cx="1157.0" cy="1563.8" r="5.4" fill="url(#gC)"/>
<circle cx="1150.0" cy="1578.0" r="5.1" fill="url(#gS)"/>
<circle cx="1134.6" cy="1574.3" r="4.5" fill="url(#gO)"/>
<circle cx="1180.0" cy="1604.5" r="4.3" fill="url(#gI)"/>
<text x="1193.5" y="1591.0" font-size="20" font-family="'Liberation Sans', sans-serif" fill="#111">TMSI</text></svg></body></html>
